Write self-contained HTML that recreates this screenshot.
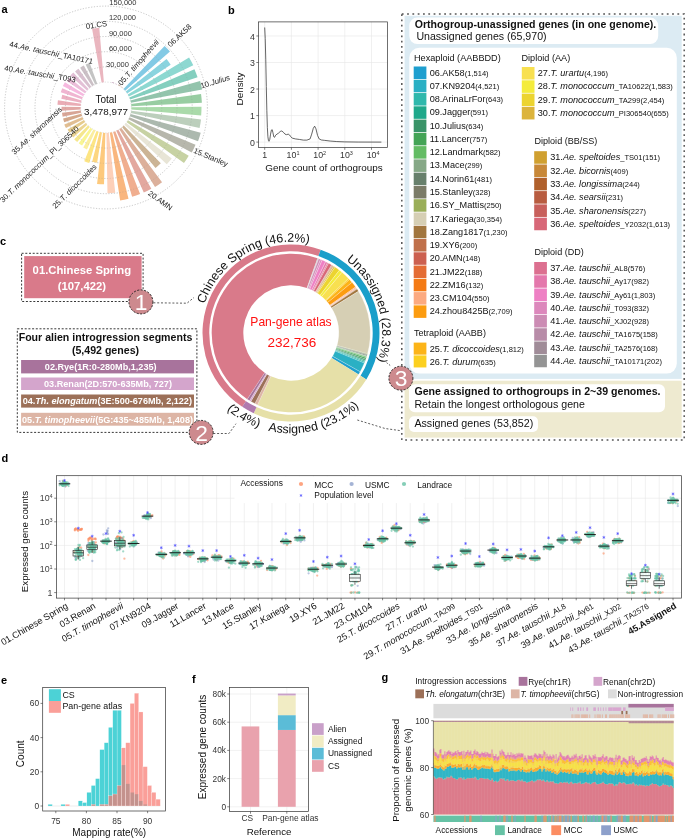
<!DOCTYPE html><html><head><meta charset="utf-8"><style>html,body{margin:0;padding:0;background:#fff;}svg{display:block;} text{font-family:"Liberation Sans", Arial, sans-serif;}</style></head><body><svg width="685" height="838" viewBox="0 0 685 838"><rect width="685" height="838" fill="#fff"/><g id="pa">
<circle cx="106" cy="107.5" r="25.4" fill="none" stroke="#c8c8c8" stroke-width="0.6" stroke-dasharray="1.2,1.6"/>
<circle cx="106" cy="107.5" r="40.6" fill="none" stroke="#c8c8c8" stroke-width="0.6" stroke-dasharray="1.2,1.6"/>
<circle cx="106" cy="107.5" r="55.8" fill="none" stroke="#c8c8c8" stroke-width="0.6" stroke-dasharray="1.2,1.6"/>
<circle cx="106" cy="107.5" r="71" fill="none" stroke="#c8c8c8" stroke-width="0.6" stroke-dasharray="1.2,1.6"/>
<circle cx="106" cy="107.5" r="86.2" fill="none" stroke="#c8c8c8" stroke-width="0.6" stroke-dasharray="1.2,1.6"/>
<circle cx="106" cy="107.5" r="101.4" fill="none" stroke="#c8c8c8" stroke-width="0.6" stroke-dasharray="1.2,1.6"/>
<path d="M92.08,28.72A80,80 0 0 1 99.29,27.78L103.87,82.19A25.4,25.4 0 0 0 101.58,82.49Z" fill="#eab6bf"/>
<path d="M111.87,81.97A26.2,26.2 0 0 1 114.17,82.61L113.92,83.37A25.4,25.4 0 0 0 111.7,82.75Z" fill="#cfb2c9"/>
<path d="M115.12,83.26A25.9,25.9 0 0 1 117.28,84.19L117.07,84.64A25.4,25.4 0 0 0 114.94,83.73Z" fill="#e7cee3"/>
<path d="M118.55,84.16A26.5,26.5 0 0 1 120.62,85.4L120.01,86.32A25.4,25.4 0 0 0 118.03,85.13Z" fill="#c9b0a3"/>
<path d="M121.38,86.29A26.2,26.2 0 0 1 123.24,87.77L122.71,88.37A25.4,25.4 0 0 0 120.91,86.93Z" fill="#ecd6ce"/>
<path d="M164.61,45.94A85,85 0 0 1 169.96,51.52L125.11,90.77A25.4,25.4 0 0 0 123.51,89.1Z" fill="#83cae5"/>
<path d="M166.52,58.93A77.6,77.6 0 0 1 170.68,64.63L127.17,93.47A25.4,25.4 0 0 0 125.81,91.6Z" fill="#8ad4df"/>
<path d="M189.07,57.42A97,97 0 0 1 193.27,65.17L128.85,96.41A25.4,25.4 0 0 0 127.75,94.39Z" fill="#8dd8d1"/>
<path d="M194.45,69.18A96.4,96.4 0 0 1 197.57,77.36L130.13,99.56A25.4,25.4 0 0 0 129.31,97.4Z" fill="#84cfbf"/>
<path d="M200.12,80.93A97.8,97.8 0 0 1 202.14,89.58L130.97,102.85A25.4,25.4 0 0 0 130.44,100.6Z" fill="#93c4ac"/>
<path d="M201.04,93.96A96,96 0 0 1 201.88,102.65L131.37,106.22A25.4,25.4 0 0 0 131.15,103.92Z" fill="#98cda2"/>
<path d="M201.5,106.76A95.5,95.5 0 0 1 201.17,115.43L131.31,109.61A25.4,25.4 0 0 0 131.4,107.3Z" fill="#aadaaa"/>
<path d="M201.04,119.53A95.8,95.8 0 0 1 199.56,128.11L130.81,112.96A25.4,25.4 0 0 0 131.2,110.69Z" fill="#bccfbc"/>
<path d="M200.72,132.65A98,98 0 0 1 198.04,141.15L129.86,116.22A25.4,25.4 0 0 0 130.55,114.02Z" fill="#acb9ae"/>
<path d="M195.5,144.63A96.9,96.9 0 0 1 191.76,152.6L128.48,119.32A25.4,25.4 0 0 0 129.46,117.23Z" fill="#b7b7ac"/>
<path d="M188.72,155.63A95.7,95.7 0 0 1 184.01,162.94L126.7,122.21A25.4,25.4 0 0 0 127.95,120.27Z" fill="#c7d2a3"/>
<path d="M171.7,158.55A83.2,83.2 0 0 1 166.79,164.31L124.56,124.84A25.4,25.4 0 0 0 126.06,123.09Z" fill="#e8e5d6"/>
<path d="M160.8,163.29A78.2,78.2 0 0 1 155.51,168.03L122.08,127.16A25.4,25.4 0 0 0 123.8,125.62Z" fill="#ccb495"/>
<path d="M162.05,182.34A93.5,93.5 0 0 1 155.02,187.12L119.32,129.13A25.4,25.4 0 0 0 121.23,127.83Z" fill="#dcb09b"/>
<path d="M151.33,188.71A93,93 0 0 1 143.77,192.48L116.32,130.71A25.4,25.4 0 0 0 118.38,129.68Z" fill="#e3a89f"/>
<path d="M140.1,194.02A93,93 0 0 1 132.11,196.76L113.13,131.88A25.4,25.4 0 0 0 115.31,131.13Z" fill="#f0ae8f"/>
<path d="M128.5,198.77A94,94 0 0 1 120.13,200.43L109.82,132.61A25.4,25.4 0 0 0 112.08,132.16Z" fill="#f9b67e"/>
<path d="M115.24,192.7A85.7,85.7 0 0 1 107.47,193.19L106.44,132.9A25.4,25.4 0 0 0 108.74,132.75Z" fill="#fdd0b9"/>
<path d="M104.03,184.37A76.9,76.9 0 0 1 97.06,183.88L103.05,132.73A25.4,25.4 0 0 0 105.35,132.89Z" fill="#fdc97c"/>
<path d="M97.13,162.69A55.9,55.9 0 0 1 92.16,161.66L99.71,132.11A25.4,25.4 0 0 0 101.97,132.58Z" fill="#fdd680"/>
<path d="M89.25,163.03A58,58 0 0 1 84.28,161.28L96.49,131.05A25.4,25.4 0 0 0 98.66,131.82Z" fill="#fde584"/>
<path d="M86.96,149.38A46,46 0 0 1 83.24,147.47L93.43,129.57A25.4,25.4 0 0 0 95.49,130.62Z" fill="#fbee9f"/>
<path d="M82.08,145.62A45,45 0 0 1 78.72,143.29L90.6,127.7A25.4,25.4 0 0 0 92.5,129.02Z" fill="#f9f594"/>
<path d="M77.22,142.09A45,45 0 0 1 74.19,139.33L88.05,125.47A25.4,25.4 0 0 0 89.75,127.02Z" fill="#f5e78d"/>
<path d="M73.23,137.61A44.5,44.5 0 0 1 70.63,134.51L85.81,122.92A25.4,25.4 0 0 0 87.3,124.68Z" fill="#ecd694"/>
<path d="M69.76,132.8A44.2,44.2 0 0 1 67.61,129.4L83.94,120.09A25.4,25.4 0 0 0 85.17,122.04Z" fill="#e5cb8d"/>
<path d="M66,128.11A45,45 0 0 1 64.29,124.39L82.46,117.03A25.4,25.4 0 0 0 83.42,119.13Z" fill="#e1be92"/>
<path d="M64.27,122.36A44.3,44.3 0 0 1 63.09,118.51L81.4,113.81A25.4,25.4 0 0 0 82.07,116.02Z" fill="#d4a88b"/>
<path d="M62.66,116.66A44.3,44.3 0 0 1 62.01,112.69L80.77,110.48A25.4,25.4 0 0 0 81.15,112.75Z" fill="#d8a596"/>
<path d="M61.62,110.82A44.5,44.5 0 0 1 61.51,106.78L80.6,107.09A25.4,25.4 0 0 0 80.67,109.39Z" fill="#e1a8a5"/>
<path d="M57.48,104.63A48.6,48.6 0 0 1 57.95,100.24L80.89,103.71A25.4,25.4 0 0 0 80.64,106Z" fill="#eaacb5"/>
<path d="M61.34,98.79A45.5,45.5 0 0 1 62.32,94.77L81.61,100.39A25.4,25.4 0 0 0 81.07,102.63Z" fill="#ecb0c2"/>
<path d="M60.72,92.17A47.8,47.8 0 0 1 62.3,88.13L82.78,97.21A25.4,25.4 0 0 0 81.94,99.36Z" fill="#f0b5d1"/>
<path d="M62.81,86.1A48.2,48.2 0 0 1 64.93,82.27L84.36,94.2A25.4,25.4 0 0 0 83.24,96.22Z" fill="#f6b9df"/>
<path d="M67.04,81.2A47,47 0 0 1 69.59,77.78L86.32,91.44A25.4,25.4 0 0 0 84.95,93.29Z" fill="#ecbeda"/>
<path d="M70.3,75.71A47.8,47.8 0 0 1 73.33,72.6L88.64,88.96A25.4,25.4 0 0 0 87.03,90.61Z" fill="#e3c0d6"/>
<path d="M75.05,71.47A47.5,47.5 0 0 1 78.45,68.81L91.27,86.81A25.4,25.4 0 0 0 89.45,88.23Z" fill="#d8c0cf"/>
<path d="M80.13,67.66A47.5,47.5 0 0 1 83.85,65.48L94.16,85.03A25.4,25.4 0 0 0 92.17,86.2Z" fill="#cbc0c6"/>
<path d="M85.67,64.57A47.5,47.5 0 0 1 89.65,62.9L97.26,83.65A25.4,25.4 0 0 0 95.13,84.54Z" fill="#c4c4c4"/>
<circle cx="106" cy="107.5" r="40.6" fill="none" stroke="#888" stroke-opacity="0.35" stroke-width="0.6" stroke-dasharray="1.2,1.6"/>
<circle cx="106" cy="107.5" r="55.8" fill="none" stroke="#888" stroke-opacity="0.35" stroke-width="0.6" stroke-dasharray="1.2,1.6"/>
<circle cx="106" cy="107.5" r="71" fill="none" stroke="#888" stroke-opacity="0.35" stroke-width="0.6" stroke-dasharray="1.2,1.6"/>
<circle cx="106" cy="107.5" r="86.2" fill="none" stroke="#888" stroke-opacity="0.35" stroke-width="0.6" stroke-dasharray="1.2,1.6"/>
<circle cx="106" cy="107.5" r="101.4" fill="none" stroke="#888" stroke-opacity="0.35" stroke-width="0.6" stroke-dasharray="1.2,1.6"/>
<text x="109.3" y="5.1" font-size="7.5" fill="#333">150,000</text>
<text x="108.9" y="20.3" font-size="7.5" fill="#333">120,000</text>
<text x="108.9" y="36" font-size="7.5" fill="#333">90,000</text>
<text x="108.9" y="50.7" font-size="7.5" fill="#333">60,000</text>
<text x="106" y="67.4" font-size="7.5" fill="#333">30,000</text>
<text x="106" y="102.6" font-size="10" text-anchor="middle" fill="#111">Total</text>
<text x="106" y="114.7" font-size="9.85" text-anchor="middle" fill="#111">3,478,977</text>
<text x="0" y="0" font-size="7.7" fill="#222" transform="translate(86.2,29) rotate(-8)">01.CS</text>
<text x="0" y="0" font-size="7.7" fill="#222" transform="translate(9,46.5) rotate(12)">44.<tspan font-style="italic">Ae. tauschii</tspan>_TA10171</text>
<text x="0" y="0" font-size="7.7" fill="#222" transform="translate(4,70.5) rotate(9.5)">40.<tspan font-style="italic">Ae. tauschii</tspan>_T093</text>
<text x="0" y="0" font-size="7.7" fill="#222" transform="translate(14.5,155) rotate(-43)">35.<tspan font-style="italic">Ae. sharonensis</tspan></text>
<text x="0" y="0" font-size="7.7" fill="#222" transform="translate(3,203) rotate(-44)">30.<tspan font-style="italic">T. monococcum</tspan>_PI_306540</text>
<text x="0" y="0" font-size="7.7" fill="#222" transform="translate(55.5,209) rotate(-45)">25.<tspan font-style="italic">T. dicoccoides</tspan></text>
<text x="0" y="0" font-size="7.7" fill="#222" transform="translate(121.5,86) rotate(-49)">05.<tspan font-style="italic">T. timopheevii</tspan></text>
<text x="0" y="0" font-size="7.7" fill="#222" transform="translate(170.5,47.5) rotate(-43)">06.AK58</text>
<text x="0" y="0" font-size="7.7" fill="#222" transform="translate(201.5,88.5) rotate(-17)">10.<tspan font-style="italic">Julius</tspan></text>
<text x="0" y="0" font-size="7.7" fill="#222" transform="translate(193,152.5) rotate(23)">15.Stanley</text>
<text x="0" y="0" font-size="7.7" fill="#222" transform="translate(147.5,194.5) rotate(36)">20.AMN</text>
</g>
<text x="1.5" y="12.6" font-size="11" font-weight="bold">a</text>
<g id="pb">
<rect x="258.5" y="21.9" width="129" height="125.7" fill="#fff"/>
<line x1="264.7" y1="21.9" x2="264.7" y2="147.6" stroke="#e6e6e6" stroke-width="0.6"/>
<line x1="291.4" y1="21.9" x2="291.4" y2="147.6" stroke="#e6e6e6" stroke-width="0.6"/>
<line x1="318.1" y1="21.9" x2="318.1" y2="147.6" stroke="#e6e6e6" stroke-width="0.6"/>
<line x1="344.8" y1="21.9" x2="344.8" y2="147.6" stroke="#e6e6e6" stroke-width="0.6"/>
<line x1="371.5" y1="21.9" x2="371.5" y2="147.6" stroke="#e6e6e6" stroke-width="0.6"/>
<line x1="258.5" y1="142.1" x2="387.5" y2="142.1" stroke="#e6e6e6" stroke-width="0.6"/>
<line x1="258.5" y1="115.57" x2="387.5" y2="115.57" stroke="#e6e6e6" stroke-width="0.6"/>
<line x1="258.5" y1="89.04" x2="387.5" y2="89.04" stroke="#e6e6e6" stroke-width="0.6"/>
<line x1="258.5" y1="62.51" x2="387.5" y2="62.51" stroke="#e6e6e6" stroke-width="0.6"/>
<line x1="258.5" y1="35.98" x2="387.5" y2="35.98" stroke="#e6e6e6" stroke-width="0.6"/>
<path d="M264.7,27.49 L265.23,38.63 L265.77,59.86 L266.3,86.39 L266.84,110.26 L267.37,127.51 L267.9,136.79 L268.44,140.51 L268.97,141.3 L269.77,139.45 L270.57,134.14 L271.38,130.16 L272.18,129.63 L272.98,132.81 L273.78,136.79 L274.58,137.32 L275.65,135.2 L276.98,134.14 L278.58,133.08 L280.19,131.49 L281.79,130.96 L283.39,132.28 L284.99,134.14 L286.59,134.67 L288.2,134.14 L289.53,134.94 L290.87,136.79 L292.2,138.12 L295.4,138.92 L299.41,139.45 L303.41,140.11 L306.89,140.11 L310.09,138.92 L311.69,134.14 L313.29,128.3 L314.63,126.18 L315.96,128.83 L317.57,135.47 L319.17,138.92 L321.3,139.98 L324.77,140.38 L330.12,141.04 L336.79,141.57 L344.8,141.89 L358.15,142.05 L381.38,142.1" fill="none" stroke="#333" stroke-width="0.75"/>
<rect x="258.5" y="21.9" width="129" height="125.7" fill="none" stroke="#333" stroke-width="0.7"/>
<line x1="256.3" y1="142.1" x2="258.5" y2="142.1" stroke="#333" stroke-width="0.6"/>
<text x="255" y="145.8" font-size="8.8" text-anchor="end" fill="#333">0</text>
<line x1="256.3" y1="115.57" x2="258.5" y2="115.57" stroke="#333" stroke-width="0.6"/>
<text x="255" y="119.27" font-size="8.8" text-anchor="end" fill="#333">1</text>
<line x1="256.3" y1="89.04" x2="258.5" y2="89.04" stroke="#333" stroke-width="0.6"/>
<text x="255" y="92.74" font-size="8.8" text-anchor="end" fill="#333">2</text>
<line x1="256.3" y1="62.51" x2="258.5" y2="62.51" stroke="#333" stroke-width="0.6"/>
<text x="255" y="66.21" font-size="8.8" text-anchor="end" fill="#333">3</text>
<line x1="256.3" y1="35.98" x2="258.5" y2="35.98" stroke="#333" stroke-width="0.6"/>
<text x="255" y="39.68" font-size="8.8" text-anchor="end" fill="#333">4</text>
<line x1="264.7" y1="147.6" x2="264.7" y2="149.79999999999998" stroke="#333" stroke-width="0.6"/>
<text x="264.7" y="158" font-size="8.8" text-anchor="middle" fill="#333">1</text>
<line x1="291.4" y1="147.6" x2="291.4" y2="149.79999999999998" stroke="#333" stroke-width="0.6"/>
<text x="286.6" y="158" font-size="8.8" fill="#333">10<tspan font-size="5.5" dy="-3.2">1</tspan></text>
<line x1="318.1" y1="147.6" x2="318.1" y2="149.79999999999998" stroke="#333" stroke-width="0.6"/>
<text x="313.3" y="158" font-size="8.8" fill="#333">10<tspan font-size="5.5" dy="-3.2">2</tspan></text>
<line x1="344.8" y1="147.6" x2="344.8" y2="149.79999999999998" stroke="#333" stroke-width="0.6"/>
<text x="340" y="158" font-size="8.8" fill="#333">10<tspan font-size="5.5" dy="-3.2">3</tspan></text>
<line x1="371.5" y1="147.6" x2="371.5" y2="149.79999999999998" stroke="#333" stroke-width="0.6"/>
<text x="366.7" y="158" font-size="8.8" fill="#333">10<tspan font-size="5.5" dy="-3.2">4</tspan></text>
<text x="324" y="171.3" font-size="9.9" text-anchor="middle" fill="#111">Gene count of orthogroups</text>
<text x="0" y="0" font-size="9.9" text-anchor="middle" fill="#111" transform="translate(243.1,89) rotate(-90)">Density</text>
</g>
<text x="228" y="14.2" font-size="11" font-weight="bold">b</text>
<g id="pc">
<rect x="404.6" y="15.8" width="277.1" height="363.1" fill="#dcebf3"/>
<rect x="404.6" y="380.7" width="277.1" height="56.9" fill="#eeead0"/>
<rect x="409.3" y="17.6" width="248.9" height="26.4" rx="8" fill="#fff"/>
<rect x="409.3" y="47.8" width="267.5" height="325.8" rx="10" fill="#fff"/>
<rect x="409" y="384.2" width="256" height="28" rx="6" fill="#fff"/>
<rect x="409" y="416.2" width="129" height="15.8" rx="5" fill="#fff"/>
<rect x="401.8" y="13.9" width="282.4" height="426.2" fill="none" stroke="#555" stroke-width="1.5" stroke-dasharray="1.8,3.5"/>
<text x="414.8" y="28.2" font-size="10.56" font-weight="bold" fill="#111">Orthogroup-unassigned genes (in one genome).</text>
<text x="416.4" y="39.8" font-size="10.6" fill="#111">Unassigned genes (65,970)</text>
<text x="414.4" y="394.9" font-size="10.62" font-weight="bold" fill="#111">Gene assigned to orthogroups in 2~39 genomes.</text>
<text x="414.4" y="408" font-size="10.62" fill="#111">Retain the longest orthologous gene</text>
<text x="414.4" y="427" font-size="10.7" fill="#111">Assigned genes (53,852)</text>
<text x="414" y="60.7" font-size="9.15" fill="#111">Hexaploid (AABBDD)</text>
<rect x="413.7" y="66.5" width="12.7" height="12.52" fill="#1e9fcf"/>
<text x="429.7" y="75.6" font-size="9.15" fill="#111">06.AK58<tspan font-size="7.55">(1,514)</tspan></text>
<rect x="413.7" y="79.77" width="12.7" height="12.52" fill="#2ab0c4"/>
<text x="429.7" y="88.87" font-size="9.15" fill="#111">07.KN9204<tspan font-size="7.55">(4,521)</tspan></text>
<rect x="413.7" y="93.04" width="12.7" height="12.52" fill="#2fb8ac"/>
<text x="429.7" y="102.14" font-size="9.15" fill="#111">08.ArinaLrFor<tspan font-size="7.55">(643)</tspan></text>
<rect x="413.7" y="106.31" width="12.7" height="12.52" fill="#1fa88a"/>
<text x="429.7" y="115.41" font-size="9.15" fill="#111">09.Jagger<tspan font-size="7.55">(591)</tspan></text>
<rect x="413.7" y="119.58" width="12.7" height="12.52" fill="#3a9468"/>
<text x="429.7" y="128.68" font-size="9.15" fill="#111">10.Julius<tspan font-size="7.55">(634)</tspan></text>
<rect x="413.7" y="132.85" width="12.7" height="12.52" fill="#44a456"/>
<text x="429.7" y="141.95" font-size="9.15" fill="#111">11.Lancer<tspan font-size="7.55">(757)</tspan></text>
<rect x="413.7" y="146.12" width="12.7" height="12.52" fill="#64bc64"/>
<text x="429.7" y="155.22" font-size="9.15" fill="#111">12.Landmark<tspan font-size="7.55">(582)</tspan></text>
<rect x="413.7" y="159.39" width="12.7" height="12.52" fill="#86a886"/>
<text x="429.7" y="168.49" font-size="9.15" fill="#111">13.Mace<tspan font-size="7.55">(299)</tspan></text>
<rect x="413.7" y="172.66" width="12.7" height="12.52" fill="#68806c"/>
<text x="429.7" y="181.76" font-size="9.15" fill="#111">14.Norin61<tspan font-size="7.55">(481)</tspan></text>
<rect x="413.7" y="185.93" width="12.7" height="12.52" fill="#7c7c68"/>
<text x="429.7" y="195.03" font-size="9.15" fill="#111">15.Stanley<tspan font-size="7.55">(328)</tspan></text>
<rect x="413.7" y="199.2" width="12.7" height="12.52" fill="#9aae58"/>
<text x="429.7" y="208.3" font-size="9.15" fill="#111">16.SY_Mattis<tspan font-size="7.55">(250)</tspan></text>
<rect x="413.7" y="212.47" width="12.7" height="12.52" fill="#d6cfb4"/>
<text x="429.7" y="221.57" font-size="9.15" fill="#111">17.Kariega<tspan font-size="7.55">(30,354)</tspan></text>
<rect x="413.7" y="225.74" width="12.7" height="12.52" fill="#a2763e"/>
<text x="429.7" y="234.84" font-size="9.15" fill="#111">18.Zang1817<tspan font-size="7.55">(1,230)</tspan></text>
<rect x="413.7" y="239.01" width="12.7" height="12.52" fill="#c0704a"/>
<text x="429.7" y="248.11" font-size="9.15" fill="#111">19.XY6<tspan font-size="7.55">(200)</tspan></text>
<rect x="413.7" y="252.28" width="12.7" height="12.52" fill="#cc6050"/>
<text x="429.7" y="261.38" font-size="9.15" fill="#111">20.AMN<tspan font-size="7.55">(148)</tspan></text>
<rect x="413.7" y="265.55" width="12.7" height="12.52" fill="#e46c34"/>
<text x="429.7" y="274.65" font-size="9.15" fill="#111">21.JM22<tspan font-size="7.55">(188)</tspan></text>
<rect x="413.7" y="278.82" width="12.7" height="12.52" fill="#f47a14"/>
<text x="429.7" y="287.92" font-size="9.15" fill="#111">22.ZM16<tspan font-size="7.55">(132)</tspan></text>
<rect x="413.7" y="292.09" width="12.7" height="12.52" fill="#fcaa80"/>
<text x="429.7" y="301.19" font-size="9.15" fill="#111">23.CM104<tspan font-size="7.55">(550)</tspan></text>
<rect x="413.7" y="305.36" width="12.7" height="12.52" fill="#fc9c10"/>
<text x="429.7" y="314.46" font-size="9.15" fill="#111">24.zhou8425B<tspan font-size="7.55">(2,709)</tspan></text>
<text x="414" y="335.6" font-size="9.05" fill="#111">Tetraploid (AABB)</text>
<rect x="413.7" y="342.6" width="12.7" height="12.05" fill="#fcb418"/>
<text x="429.7" y="351.7" font-size="9.15" fill="#111">25.<tspan font-style="italic">T. dicoccoides</tspan><tspan font-size="7.55">(1,812)</tspan></text>
<rect x="413.7" y="355.4" width="12.7" height="12.05" fill="#fcd020"/>
<text x="429.7" y="364.5" font-size="9.15" fill="#111">26.<tspan font-style="italic">T. durum</tspan><tspan font-size="7.55">(635)</tspan></text>
<text x="521.5" y="60.9" font-size="9.15" fill="#111">Diploid (AA)</text>
<rect x="521.8" y="67" width="12.7" height="12.55" fill="#f8e050"/>
<text x="537.8" y="76.1" font-size="9.15" fill="#111">27.<tspan font-style="italic">T. urartu</tspan><tspan font-size="7.55">(4,196)</tspan></text>
<rect x="521.8" y="80.3" width="12.7" height="12.55" fill="#f4ec3c"/>
<text x="537.8" y="89.4" font-size="9.15" fill="#111">28.<tspan font-style="italic">T. monococcum</tspan><tspan font-size="7.55">_TA10622(1,583)</tspan></text>
<rect x="521.8" y="93.6" width="12.7" height="12.55" fill="#ecd430"/>
<text x="537.8" y="102.7" font-size="9.15" fill="#111">29.<tspan font-style="italic">T. monococcum</tspan><tspan font-size="7.55">_TA299(2,454)</tspan></text>
<rect x="521.8" y="106.9" width="12.7" height="12.55" fill="#dcb43c"/>
<text x="537.8" y="116" font-size="9.15" fill="#111">30.<tspan font-style="italic">T. monococcum</tspan><tspan font-size="7.55">_PI306540(655)</tspan></text>
<text x="534.5" y="144" font-size="9.05" fill="#111">Diploid (BB/SS)</text>
<rect x="534.2" y="151.2" width="12.7" height="12.55" fill="#d0a030"/>
<text x="550.2" y="160.3" font-size="9.15" fill="#111">31.<tspan font-style="italic">Ae. speltoides</tspan><tspan font-size="7.55">_TS01(151)</tspan></text>
<rect x="534.2" y="164.5" width="12.7" height="12.55" fill="#c88838"/>
<text x="550.2" y="173.6" font-size="9.15" fill="#111">32.<tspan font-style="italic">Ae. bicornis</tspan><tspan font-size="7.55">(409)</tspan></text>
<rect x="534.2" y="177.8" width="12.7" height="12.55" fill="#b0602c"/>
<text x="550.2" y="186.9" font-size="9.15" fill="#111">33.<tspan font-style="italic">Ae. longissima</tspan><tspan font-size="7.55">(244)</tspan></text>
<rect x="534.2" y="191.1" width="12.7" height="12.55" fill="#b85c40"/>
<text x="550.2" y="200.2" font-size="9.15" fill="#111">34.<tspan font-style="italic">Ae. searsii</tspan><tspan font-size="7.55">(231)</tspan></text>
<rect x="534.2" y="204.4" width="12.7" height="12.55" fill="#c8605c"/>
<text x="550.2" y="213.5" font-size="9.15" fill="#111">35.<tspan font-style="italic">Ae. sharonensis</tspan><tspan font-size="7.55">(227)</tspan></text>
<rect x="534.2" y="217.7" width="12.7" height="12.55" fill="#d86878"/>
<text x="550.2" y="226.8" font-size="9.15" fill="#111">36.<tspan font-style="italic">Ae. speltoides</tspan><tspan font-size="7.55">_Y2032(1,613)</tspan></text>
<text x="534.5" y="254.8" font-size="9.05" fill="#111">Diploid (DD)</text>
<rect x="534.2" y="262" width="12.7" height="12.5" fill="#dc7090"/>
<text x="550.2" y="271.1" font-size="9.15" fill="#111">37.<tspan font-style="italic">Ae. tauschii</tspan><tspan font-size="7.55">_AL8(576)</tspan></text>
<rect x="534.2" y="275.25" width="12.7" height="12.5" fill="#e478ac"/>
<text x="550.2" y="284.35" font-size="9.15" fill="#111">38.<tspan font-style="italic">Ae. tauschii</tspan><tspan font-size="7.55">_Ay17(982)</tspan></text>
<rect x="534.2" y="288.5" width="12.7" height="12.5" fill="#ee80c4"/>
<text x="550.2" y="297.6" font-size="9.15" fill="#111">39.<tspan font-style="italic">Ae. tauschii</tspan><tspan font-size="7.55">_Ay61(1,803)</tspan></text>
<rect x="534.2" y="301.75" width="12.7" height="12.5" fill="#dc88bc"/>
<text x="550.2" y="310.85" font-size="9.15" fill="#111">40.<tspan font-style="italic">Ae. tauschii</tspan><tspan font-size="7.55">_T093(832)</tspan></text>
<rect x="534.2" y="315" width="12.7" height="12.5" fill="#cc8cb4"/>
<text x="550.2" y="324.1" font-size="9.15" fill="#111">41.<tspan font-style="italic">Ae. tauschii</tspan><tspan font-size="7.55">_XJ02(928)</tspan></text>
<rect x="534.2" y="328.25" width="12.7" height="12.5" fill="#b88ca8"/>
<text x="550.2" y="337.35" font-size="9.15" fill="#111">42.<tspan font-style="italic">Ae. tauschii</tspan><tspan font-size="7.55">_TA1675(158)</tspan></text>
<rect x="534.2" y="341.5" width="12.7" height="12.5" fill="#a08c98"/>
<text x="550.2" y="350.6" font-size="9.15" fill="#111">43.<tspan font-style="italic">Ae. tauschii</tspan><tspan font-size="7.55">_TA2576(168)</tspan></text>
<rect x="534.2" y="354.75" width="12.7" height="12.5" fill="#949494"/>
<text x="550.2" y="363.85" font-size="9.15" fill="#111">44.<tspan font-style="italic">Ae. tauschii</tspan><tspan font-size="7.55">_TA10171(202)</tspan></text>
<path d="M242.23,406.85A88.5,88.5 0 0 1 320.69,249.63L318.41,256.03A81.7,81.7 0 0 0 245.98,401.18Z" fill="#d97a8a"/>
<path d="M320.69,249.63A88.5,88.5 0 0 1 366.34,379.43L360.55,375.86A81.7,81.7 0 0 0 318.41,256.03Z" fill="#1a9fca"/>
<path d="M366.34,379.43A88.5,88.5 0 0 1 253.68,413.25L256.55,407.08A81.7,81.7 0 0 0 360.55,375.86Z" fill="#e6e0a8"/>
<path d="M253.68,413.25A88.5,88.5 0 0 1 242.23,406.85L245.98,401.18A81.7,81.7 0 0 0 256.55,407.08Z" fill="#b07aae"/>
<path d="M247.3,399.17A79.3,79.3 0 0 1 317.6,258.29L307,288.06A47.7,47.7 0 0 0 264.72,372.8Z" fill="#d97a8a"/>
<path d="M317.6,258.29A79.3,79.3 0 0 1 318.01,258.44L307.25,288.15A47.7,47.7 0 0 0 307,288.06Z" fill="#949494" stroke="#fff" stroke-width="0.25"/>
<path d="M318.01,258.44A79.3,79.3 0 0 1 318.35,258.56L307.45,288.23A47.7,47.7 0 0 0 307.25,288.15Z" fill="#a08c98" stroke="#fff" stroke-width="0.25"/>
<path d="M318.35,258.56A79.3,79.3 0 0 1 318.66,258.68L307.64,288.3A47.7,47.7 0 0 0 307.45,288.23Z" fill="#b88ca8" stroke="#fff" stroke-width="0.25"/>
<path d="M318.66,258.68A79.3,79.3 0 0 1 320.52,259.4L308.75,288.73A47.7,47.7 0 0 0 307.64,288.3Z" fill="#cc8cb4" stroke="#fff" stroke-width="0.25"/>
<path d="M320.52,259.4A79.3,79.3 0 0 1 322.16,260.08L309.74,289.14A47.7,47.7 0 0 0 308.75,288.73Z" fill="#dc88bc" stroke="#fff" stroke-width="0.25"/>
<path d="M322.16,260.08A79.3,79.3 0 0 1 325.67,261.68L311.86,290.1A47.7,47.7 0 0 0 309.74,289.14Z" fill="#ee80c4" stroke="#fff" stroke-width="0.25"/>
<path d="M325.67,261.68A79.3,79.3 0 0 1 327.55,262.63L312.99,290.67A47.7,47.7 0 0 0 311.86,290.1Z" fill="#e478ac" stroke="#fff" stroke-width="0.25"/>
<path d="M327.55,262.63A79.3,79.3 0 0 1 328.64,263.2L313.64,291.02A47.7,47.7 0 0 0 312.99,290.67Z" fill="#dc7090" stroke="#fff" stroke-width="0.25"/>
<path d="M328.64,263.2A79.3,79.3 0 0 1 331.64,264.91L315.45,292.04A47.7,47.7 0 0 0 313.64,291.02Z" fill="#d86878" stroke="#fff" stroke-width="0.25"/>
<path d="M331.64,264.91A79.3,79.3 0 0 1 332.06,265.16L315.7,292.19A47.7,47.7 0 0 0 315.45,292.04Z" fill="#c8605c" stroke="#fff" stroke-width="0.25"/>
<path d="M332.06,265.16A79.3,79.3 0 0 1 332.48,265.42L315.95,292.35A47.7,47.7 0 0 0 315.7,292.19Z" fill="#b85c40" stroke="#fff" stroke-width="0.25"/>
<path d="M332.48,265.42A79.3,79.3 0 0 1 332.93,265.69L316.22,292.51A47.7,47.7 0 0 0 315.95,292.35Z" fill="#b0602c" stroke="#fff" stroke-width="0.25"/>
<path d="M332.93,265.69A79.3,79.3 0 0 1 333.67,266.16L316.67,292.79A47.7,47.7 0 0 0 316.22,292.51Z" fill="#c88838" stroke="#fff" stroke-width="0.25"/>
<path d="M333.67,266.16A79.3,79.3 0 0 1 333.94,266.33L316.83,292.9A47.7,47.7 0 0 0 316.67,292.79Z" fill="#d0a030" stroke="#fff" stroke-width="0.25"/>
<path d="M333.94,266.33A79.3,79.3 0 0 1 335.11,267.1L317.53,293.36A47.7,47.7 0 0 0 316.83,292.9Z" fill="#dcb43c" stroke="#fff" stroke-width="0.25"/>
<path d="M335.11,267.1A79.3,79.3 0 0 1 339.38,270.17L320.1,295.2A47.7,47.7 0 0 0 317.53,293.36Z" fill="#ecd430" stroke="#fff" stroke-width="0.25"/>
<path d="M339.38,270.17A79.3,79.3 0 0 1 342.02,272.29L321.69,296.48A47.7,47.7 0 0 0 320.1,295.2Z" fill="#f4ec3c" stroke="#fff" stroke-width="0.25"/>
<path d="M342.02,272.29A79.3,79.3 0 0 1 348.55,278.45L325.62,300.19A47.7,47.7 0 0 0 321.69,296.48Z" fill="#f8e050" stroke="#fff" stroke-width="0.25"/>
<path d="M348.55,278.45A79.3,79.3 0 0 1 349.48,279.44L326.18,300.78A47.7,47.7 0 0 0 325.62,300.19Z" fill="#fcd020" stroke="#fff" stroke-width="0.25"/>
<path d="M349.48,279.44A79.3,79.3 0 0 1 352.03,282.37L327.71,302.54A47.7,47.7 0 0 0 326.18,300.78Z" fill="#fcb418" stroke="#fff" stroke-width="0.25"/>
<path d="M352.03,282.37A79.3,79.3 0 0 1 355.57,286.96L329.84,305.31A47.7,47.7 0 0 0 327.71,302.54Z" fill="#fc9c10" stroke="#fff" stroke-width="0.25"/>
<path d="M355.57,286.96A79.3,79.3 0 0 1 356.24,287.92L330.24,305.89A47.7,47.7 0 0 0 329.84,305.31Z" fill="#fcaa80" stroke="#fff" stroke-width="0.25"/>
<path d="M356.24,287.92A79.3,79.3 0 0 1 356.4,288.16L330.34,306.03A47.7,47.7 0 0 0 330.24,305.89Z" fill="#f47a14" stroke="#fff" stroke-width="0.25"/>
<path d="M356.4,288.16A79.3,79.3 0 0 1 356.63,288.49L330.48,306.23A47.7,47.7 0 0 0 330.34,306.03Z" fill="#e46c34" stroke="#fff" stroke-width="0.25"/>
<path d="M356.63,288.49A79.3,79.3 0 0 1 356.81,288.75L330.58,306.38A47.7,47.7 0 0 0 330.48,306.23Z" fill="#cc6050" stroke="#fff" stroke-width="0.25"/>
<path d="M356.81,288.75A79.3,79.3 0 0 1 357.04,289.11L330.73,306.6A47.7,47.7 0 0 0 330.58,306.38Z" fill="#c0704a" stroke="#fff" stroke-width="0.25"/>
<path d="M357.04,289.11A79.3,79.3 0 0 1 358.47,291.32L331.58,307.93A47.7,47.7 0 0 0 330.73,306.6Z" fill="#a2763e" stroke="#fff" stroke-width="0.25"/>
<path d="M358.47,291.32A79.3,79.3 0 0 1 367.51,353.85L337.02,345.54A47.7,47.7 0 0 0 331.58,307.93Z" fill="#d6cfb4" stroke="#fff" stroke-width="0.25"/>
<path d="M367.51,353.85A79.3,79.3 0 0 1 367.37,354.37L336.94,345.85A47.7,47.7 0 0 0 337.02,345.54Z" fill="#9aae58" stroke="#fff" stroke-width="0.25"/>
<path d="M367.37,354.37A79.3,79.3 0 0 1 367.17,355.05L336.82,346.26A47.7,47.7 0 0 0 336.94,345.85Z" fill="#7c7c68" stroke="#fff" stroke-width="0.25"/>
<path d="M367.17,355.05A79.3,79.3 0 0 1 366.88,356.03L336.64,346.85A47.7,47.7 0 0 0 336.82,346.26Z" fill="#68806c" stroke="#fff" stroke-width="0.25"/>
<path d="M366.88,356.03A79.3,79.3 0 0 1 366.69,356.65L336.53,347.22A47.7,47.7 0 0 0 336.64,346.85Z" fill="#86a886" stroke="#fff" stroke-width="0.25"/>
<path d="M366.69,356.65A79.3,79.3 0 0 1 366.31,357.83L336.3,347.94A47.7,47.7 0 0 0 336.53,347.22Z" fill="#64bc64" stroke="#fff" stroke-width="0.25"/>
<path d="M366.31,357.83A79.3,79.3 0 0 1 365.79,359.37L335.99,348.86A47.7,47.7 0 0 0 336.3,347.94Z" fill="#44a456" stroke="#fff" stroke-width="0.25"/>
<path d="M365.79,359.37A79.3,79.3 0 0 1 365.33,360.64L335.71,349.63A47.7,47.7 0 0 0 335.99,348.86Z" fill="#3a9468" stroke="#fff" stroke-width="0.25"/>
<path d="M365.33,360.64A79.3,79.3 0 0 1 364.88,361.82L335.44,350.34A47.7,47.7 0 0 0 335.71,349.63Z" fill="#1fa88a" stroke="#fff" stroke-width="0.25"/>
<path d="M364.88,361.82A79.3,79.3 0 0 1 364.36,363.1L335.13,351.11A47.7,47.7 0 0 0 335.44,350.34Z" fill="#2fb8ac" stroke="#fff" stroke-width="0.25"/>
<path d="M364.36,363.1A79.3,79.3 0 0 1 360.15,371.81L332.6,356.34A47.7,47.7 0 0 0 335.13,351.11Z" fill="#2ab0c4" stroke="#fff" stroke-width="0.25"/>
<path d="M360.15,371.81A79.3,79.3 0 0 1 358.51,374.6L331.61,358.02A47.7,47.7 0 0 0 332.6,356.34Z" fill="#1e9fcf" stroke="#fff" stroke-width="0.25"/>
<path d="M358.51,374.6A79.3,79.3 0 0 1 257.56,404.9L270.88,376.25A47.7,47.7 0 0 0 331.61,358.02Z" fill="#e6e0a8"/>
<path d="M257.56,404.9A79.3,79.3 0 0 1 254.85,403.58L269.26,375.46A47.7,47.7 0 0 0 270.88,376.25Z" fill="#ddb5a5" stroke="#fff" stroke-width="0.25"/>
<path d="M254.85,403.58A79.3,79.3 0 0 1 250.87,401.4L266.86,374.14A47.7,47.7 0 0 0 269.26,375.46Z" fill="#9c7058" stroke="#fff" stroke-width="0.25"/>
<path d="M250.87,401.4A79.3,79.3 0 0 1 249.53,400.59L266.06,373.66A47.7,47.7 0 0 0 266.86,374.14Z" fill="#d4a5cc" stroke="#fff" stroke-width="0.25"/>
<path d="M249.53,400.59A79.3,79.3 0 0 1 247.3,399.17L264.72,372.8A47.7,47.7 0 0 0 266.06,373.66Z" fill="#a8739c" stroke="#fff" stroke-width="0.25"/>
<text x="291" y="326.1" font-size="12.1" text-anchor="middle" fill="#ff1010">Pan-gene atlas</text>
<text x="291.8" y="347.3" font-size="13.5" text-anchor="middle" fill="#ff1010">232,736</text>
<defs>
<path id="arcCS" d="M199.8,333A91.2,91.2 0 0 1 336.6,254.02" fill="none"/>
<path id="arcUN" d="M310.89,244A91.2,91.2 0 0 1 358.13,394.73" fill="none"/>
<path id="arcAS" d="M219.83,403.67A100.3,100.3 0 0 0 387.79,359.3" fill="none"/>
<path id="arcAL" d="M197.39,368.18A100.0,100.0 0 0 0 309.4,431.29" fill="none"/>
</defs>
<text font-size="12.4" fill="#111"><textPath href="#arcCS" startOffset="50%" text-anchor="middle">Chinese Spring (46.2%)</textPath></text>
<text font-size="12.4" fill="#111"><textPath href="#arcUN" startOffset="50%" text-anchor="middle">Unassigned (28.3%)</textPath></text>
<text font-size="12.4" fill="#111"><textPath href="#arcAS" startOffset="50%" text-anchor="middle">Assigned (23.1%)</textPath></text>
<text font-size="12.4" fill="#111"><textPath href="#arcAL" startOffset="50%" text-anchor="middle">(2.4%)</textPath></text>
<rect x="21.6" y="253.3" width="121.5" height="48.2" fill="none" stroke="#222" stroke-width="0.9" stroke-dasharray="2,1.7"/>
<rect x="24.2" y="256.1" width="117.4" height="42.1" fill="#d97a8a"/>
<text x="81.9" y="274.1" font-size="11.3" text-anchor="middle" font-weight="bold" fill="#fff">01.Chinese Spring</text>
<text x="81.9" y="289.9" font-size="11.3" text-anchor="middle" font-weight="bold" fill="#fff">(107,422)</text>
<rect x="17.3" y="328.8" width="179.6" height="103.6" fill="none" stroke="#222" stroke-width="0.9" stroke-dasharray="2,1.7"/>
<text x="105.5" y="341.2" font-size="10.6" text-anchor="middle" font-weight="bold" fill="#111">Four alien introgression segments</text>
<text x="105.5" y="354.3" font-size="10.6" text-anchor="middle" font-weight="bold" fill="#111">(5,492 genes)</text>
<rect x="21.1" y="360" width="172.9" height="13.4" fill="#a8739c"/>
<text x="100.7" y="370" font-size="9.1" text-anchor="middle" font-weight="bold" fill="#fff">02.Rye(1R:0-280Mb,1,235)</text>
<rect x="21.1" y="377.5" width="172.9" height="12.5" fill="#d4a5cc"/>
<text x="108" y="387.05" font-size="9.1" text-anchor="middle" font-weight="bold" fill="#fff">03.Renan(2D:570-635Mb, 727)</text>
<rect x="21.1" y="394.5" width="172.9" height="13.1" fill="#9c7058"/>
<text x="107.3" y="404.35" font-size="9.1" text-anchor="middle" font-weight="bold" fill="#fff">04.<tspan font-style="italic">Th. elongatum</tspan>(3E:500-676Mb, 2,122)</text>
<rect x="21.1" y="412.8" width="172.9" height="12.9" fill="#ddb5a5"/>
<text x="107.5" y="422.55" font-size="9.1" text-anchor="middle" font-weight="bold" fill="#fff">05.<tspan font-style="italic">T. timopheevii</tspan>(5G:435~485Mb, 1,408)</text>
<path d="M153.4,302.8 L187,303.2 L194,297.5" fill="none" stroke="#333" stroke-width="0.8" stroke-dasharray="2,1.8"/>
<path d="M213.3,433.5 L229,433.5 L236,423.7" fill="none" stroke="#333" stroke-width="0.8" stroke-dasharray="2,1.8"/>
<path d="M386.6,362.7 L391.3,366.3" fill="none" stroke="#333" stroke-width="0.8" stroke-dasharray="1.5,1.5"/>
<path d="M357.3,420 L385,428.5 L400.9,430.7" fill="none" stroke="#333" stroke-width="0.8" stroke-dasharray="2,1.8"/>
<circle cx="140.9" cy="301.9" r="12" fill="#cd8a8e" stroke="#222" stroke-width="0.95" stroke-dasharray="2,1.5"/>
<text x="141.2" y="310" font-size="22.8" text-anchor="middle" fill="#fff">1</text>
<circle cx="201.2" cy="432.4" r="12" fill="#cd8a8e" stroke="#222" stroke-width="0.95" stroke-dasharray="2,1.5"/>
<text x="201.5" y="440.5" font-size="22.8" text-anchor="middle" fill="#fff">2</text>
<circle cx="400.9" cy="378.2" r="12" fill="#cd8a8e" stroke="#222" stroke-width="0.95" stroke-dasharray="2,1.5"/>
<text x="401.2" y="386.3" font-size="22.8" text-anchor="middle" fill="#fff">3</text>
</g>
<text x="0" y="244.8" font-size="11" font-weight="bold">c</text>
<g id="pd">
<line x1="56.4" y1="592.6" x2="681.4" y2="592.6" stroke="#e8e8e8" stroke-width="0.6"/>
<line x1="56.4" y1="569" x2="681.4" y2="569" stroke="#e8e8e8" stroke-width="0.6"/>
<line x1="56.4" y1="545.4" x2="681.4" y2="545.4" stroke="#e8e8e8" stroke-width="0.6"/>
<line x1="56.4" y1="521.8" x2="681.4" y2="521.8" stroke="#e8e8e8" stroke-width="0.6"/>
<line x1="56.4" y1="498.2" x2="681.4" y2="498.2" stroke="#e8e8e8" stroke-width="0.6"/>
<line x1="64.5" y1="475.7" x2="64.5" y2="598.1" stroke="#e8e8e8" stroke-width="0.6"/>
<line x1="78.33" y1="475.7" x2="78.33" y2="598.1" stroke="#e8e8e8" stroke-width="0.6"/>
<line x1="92.16" y1="475.7" x2="92.16" y2="598.1" stroke="#e8e8e8" stroke-width="0.6"/>
<line x1="105.99" y1="475.7" x2="105.99" y2="598.1" stroke="#e8e8e8" stroke-width="0.6"/>
<line x1="119.82" y1="475.7" x2="119.82" y2="598.1" stroke="#e8e8e8" stroke-width="0.6"/>
<line x1="133.65" y1="475.7" x2="133.65" y2="598.1" stroke="#e8e8e8" stroke-width="0.6"/>
<line x1="147.48" y1="475.7" x2="147.48" y2="598.1" stroke="#e8e8e8" stroke-width="0.6"/>
<line x1="161.31" y1="475.7" x2="161.31" y2="598.1" stroke="#e8e8e8" stroke-width="0.6"/>
<line x1="175.14" y1="475.7" x2="175.14" y2="598.1" stroke="#e8e8e8" stroke-width="0.6"/>
<line x1="188.97" y1="475.7" x2="188.97" y2="598.1" stroke="#e8e8e8" stroke-width="0.6"/>
<line x1="202.8" y1="475.7" x2="202.8" y2="598.1" stroke="#e8e8e8" stroke-width="0.6"/>
<line x1="216.63" y1="475.7" x2="216.63" y2="598.1" stroke="#e8e8e8" stroke-width="0.6"/>
<line x1="230.46" y1="475.7" x2="230.46" y2="598.1" stroke="#e8e8e8" stroke-width="0.6"/>
<line x1="244.29" y1="475.7" x2="244.29" y2="598.1" stroke="#e8e8e8" stroke-width="0.6"/>
<line x1="258.12" y1="475.7" x2="258.12" y2="598.1" stroke="#e8e8e8" stroke-width="0.6"/>
<line x1="271.95" y1="475.7" x2="271.95" y2="598.1" stroke="#e8e8e8" stroke-width="0.6"/>
<line x1="285.78" y1="475.7" x2="285.78" y2="598.1" stroke="#e8e8e8" stroke-width="0.6"/>
<line x1="299.61" y1="475.7" x2="299.61" y2="598.1" stroke="#e8e8e8" stroke-width="0.6"/>
<line x1="313.44" y1="475.7" x2="313.44" y2="598.1" stroke="#e8e8e8" stroke-width="0.6"/>
<line x1="327.27" y1="475.7" x2="327.27" y2="598.1" stroke="#e8e8e8" stroke-width="0.6"/>
<line x1="341.1" y1="475.7" x2="341.1" y2="598.1" stroke="#e8e8e8" stroke-width="0.6"/>
<line x1="354.93" y1="475.7" x2="354.93" y2="598.1" stroke="#e8e8e8" stroke-width="0.6"/>
<line x1="368.76" y1="475.7" x2="368.76" y2="598.1" stroke="#e8e8e8" stroke-width="0.6"/>
<line x1="382.59" y1="475.7" x2="382.59" y2="598.1" stroke="#e8e8e8" stroke-width="0.6"/>
<line x1="396.42" y1="475.7" x2="396.42" y2="598.1" stroke="#e8e8e8" stroke-width="0.6"/>
<line x1="410.25" y1="475.7" x2="410.25" y2="598.1" stroke="#e8e8e8" stroke-width="0.6"/>
<line x1="424.08" y1="475.7" x2="424.08" y2="598.1" stroke="#e8e8e8" stroke-width="0.6"/>
<line x1="437.91" y1="475.7" x2="437.91" y2="598.1" stroke="#e8e8e8" stroke-width="0.6"/>
<line x1="451.74" y1="475.7" x2="451.74" y2="598.1" stroke="#e8e8e8" stroke-width="0.6"/>
<line x1="465.57" y1="475.7" x2="465.57" y2="598.1" stroke="#e8e8e8" stroke-width="0.6"/>
<line x1="479.4" y1="475.7" x2="479.4" y2="598.1" stroke="#e8e8e8" stroke-width="0.6"/>
<line x1="493.23" y1="475.7" x2="493.23" y2="598.1" stroke="#e8e8e8" stroke-width="0.6"/>
<line x1="507.06" y1="475.7" x2="507.06" y2="598.1" stroke="#e8e8e8" stroke-width="0.6"/>
<line x1="520.89" y1="475.7" x2="520.89" y2="598.1" stroke="#e8e8e8" stroke-width="0.6"/>
<line x1="534.72" y1="475.7" x2="534.72" y2="598.1" stroke="#e8e8e8" stroke-width="0.6"/>
<line x1="548.55" y1="475.7" x2="548.55" y2="598.1" stroke="#e8e8e8" stroke-width="0.6"/>
<line x1="562.38" y1="475.7" x2="562.38" y2="598.1" stroke="#e8e8e8" stroke-width="0.6"/>
<line x1="576.21" y1="475.7" x2="576.21" y2="598.1" stroke="#e8e8e8" stroke-width="0.6"/>
<line x1="590.04" y1="475.7" x2="590.04" y2="598.1" stroke="#e8e8e8" stroke-width="0.6"/>
<line x1="603.87" y1="475.7" x2="603.87" y2="598.1" stroke="#e8e8e8" stroke-width="0.6"/>
<line x1="617.7" y1="475.7" x2="617.7" y2="598.1" stroke="#e8e8e8" stroke-width="0.6"/>
<line x1="631.53" y1="475.7" x2="631.53" y2="598.1" stroke="#e8e8e8" stroke-width="0.6"/>
<line x1="645.36" y1="475.7" x2="645.36" y2="598.1" stroke="#e8e8e8" stroke-width="0.6"/>
<line x1="659.19" y1="475.7" x2="659.19" y2="598.1" stroke="#e8e8e8" stroke-width="0.6"/>
<line x1="673.02" y1="475.7" x2="673.02" y2="598.1" stroke="#e8e8e8" stroke-width="0.6"/>
<rect x="234.5" y="476.3" width="229.8" height="26.8" fill="#fff"/>
<defs><clipPath id="clipd"><rect x="56.4" y="475.7" width="625" height="121.4"/></clipPath></defs>
<g fill="#fc8d62" fill-opacity="0.6" clip-path="url(#clipd)"><circle cx="81.4" cy="529.9" r="1.15"/><circle cx="607.3" cy="546.5" r="1.15"/><circle cx="122.7" cy="544.5" r="1.15"/><circle cx="176.2" cy="555.5" r="1.15"/><circle cx="372.2" cy="544.0" r="1.15"/><circle cx="77.2" cy="529.7" r="1.15"/><circle cx="379.0" cy="539.6" r="1.15"/><circle cx="577.2" cy="542.0" r="1.15"/><circle cx="104.3" cy="542.4" r="1.15"/><circle cx="134.0" cy="542.8" r="1.15"/><circle cx="161.6" cy="553.3" r="1.15"/><circle cx="539.1" cy="557.3" r="1.15"/><circle cx="644.8" cy="572.4" r="1.15"/><circle cx="229.3" cy="562.1" r="1.15"/><circle cx="523.3" cy="557.3" r="1.15"/><circle cx="218.5" cy="555.2" r="1.15"/><circle cx="179.1" cy="551.8" r="1.15"/><circle cx="550.5" cy="546.0" r="1.15"/><circle cx="190.4" cy="551.1" r="1.15"/><circle cx="413.6" cy="541.2" r="1.15"/><circle cx="216.3" cy="559.7" r="1.15"/><circle cx="396.8" cy="528.4" r="1.15"/><circle cx="322.5" cy="565.0" r="1.15"/><circle cx="412.3" cy="543.2" r="1.15"/><circle cx="174.0" cy="553.9" r="1.15"/><circle cx="648.7" cy="568.9" r="1.15"/><circle cx="247.5" cy="562.4" r="1.15"/><circle cx="550.3" cy="546.9" r="1.15"/><circle cx="495.3" cy="551.3" r="1.15"/><circle cx="219.0" cy="555.8" r="1.15"/><circle cx="145.5" cy="516.9" r="1.15"/><circle cx="173.8" cy="554.2" r="1.15"/><circle cx="676.6" cy="501.6" r="1.15"/><circle cx="117.7" cy="538.2" r="1.15"/><circle cx="244.0" cy="564.5" r="1.15"/><circle cx="317.2" cy="575.6" r="1.15"/><circle cx="201.6" cy="559.0" r="1.15"/><circle cx="216.0" cy="556.2" r="1.15"/><circle cx="80.2" cy="551.9" r="1.15"/><circle cx="92.1" cy="540.0" r="1.15"/><circle cx="188.7" cy="555.7" r="1.15"/><circle cx="534.5" cy="555.5" r="1.15"/><circle cx="81.2" cy="547.7" r="1.15"/><circle cx="230.3" cy="559.7" r="1.15"/><circle cx="91.0" cy="546.4" r="1.15"/><circle cx="80.9" cy="553.3" r="1.15"/><circle cx="325.0" cy="566.0" r="1.15"/><circle cx="201.8" cy="560.2" r="1.15"/><circle cx="106.8" cy="542.1" r="1.15"/><circle cx="549.9" cy="547.6" r="1.15"/><circle cx="65.5" cy="484.5" r="1.15"/><circle cx="505.9" cy="556.6" r="1.15"/><circle cx="672.7" cy="503.2" r="1.15"/><circle cx="203.5" cy="559.7" r="1.15"/><circle cx="384.9" cy="538.1" r="1.15"/><circle cx="326.1" cy="566.1" r="1.15"/><circle cx="233.1" cy="560.7" r="1.15"/><circle cx="676.7" cy="500.0" r="1.15"/><circle cx="92.7" cy="545.1" r="1.15"/><circle cx="120.9" cy="542.9" r="1.15"/><circle cx="603.3" cy="545.9" r="1.15"/><circle cx="518.9" cy="554.4" r="1.15"/><circle cx="92.2" cy="537.9" r="1.15"/><circle cx="74.9" cy="530.4" r="1.15"/><circle cx="92.1" cy="539.5" r="1.15"/><circle cx="518.8" cy="555.3" r="1.15"/><circle cx="105.8" cy="540.3" r="1.15"/><circle cx="452.3" cy="567.2" r="1.15"/><circle cx="483.8" cy="563.6" r="1.15"/><circle cx="493.0" cy="552.0" r="1.15"/><circle cx="522.2" cy="557.7" r="1.15"/><circle cx="202.0" cy="558.5" r="1.15"/><circle cx="189.7" cy="552.4" r="1.15"/><circle cx="602.3" cy="547.2" r="1.15"/><circle cx="439.1" cy="568.9" r="1.15"/><circle cx="122.0" cy="547.2" r="1.15"/><circle cx="476.4" cy="565.7" r="1.15"/><circle cx="607.7" cy="547.1" r="1.15"/><circle cx="219.5" cy="555.3" r="1.15"/><circle cx="327.8" cy="564.4" r="1.15"/><circle cx="507.9" cy="558.6" r="1.15"/><circle cx="312.5" cy="568.6" r="1.15"/><circle cx="671.9" cy="501.3" r="1.15"/><circle cx="505.1" cy="555.0" r="1.15"/><circle cx="397.6" cy="528.4" r="1.15"/><circle cx="342.1" cy="563.9" r="1.15"/><circle cx="618.0" cy="540.2" r="1.15"/><circle cx="77.3" cy="529.4" r="1.15"/><circle cx="562.1" cy="539.6" r="1.15"/><circle cx="661.4" cy="575.8" r="1.15"/><circle cx="614.6" cy="540.6" r="1.15"/><circle cx="587.2" cy="532.0" r="1.15"/><circle cx="200.9" cy="559.6" r="1.15"/><circle cx="604.6" cy="545.0" r="1.15"/><circle cx="520.5" cy="556.4" r="1.15"/><circle cx="118.1" cy="538.4" r="1.15"/><circle cx="480.2" cy="565.5" r="1.15"/><circle cx="616.6" cy="540.8" r="1.15"/><circle cx="260.2" cy="564.3" r="1.15"/><circle cx="504.4" cy="556.5" r="1.15"/><circle cx="464.4" cy="549.9" r="1.15"/><circle cx="188.7" cy="554.6" r="1.15"/><circle cx="342.8" cy="563.8" r="1.15"/><circle cx="144.7" cy="517.2" r="1.15"/><circle cx="311.1" cy="567.8" r="1.15"/><circle cx="77.6" cy="552.2" r="1.15"/><circle cx="147.9" cy="516.7" r="1.15"/><circle cx="647.5" cy="581.5" r="1.15"/><circle cx="677.0" cy="500.4" r="1.15"/><circle cx="161.1" cy="553.7" r="1.15"/><circle cx="152.3" cy="515.1" r="1.15"/><circle cx="425.5" cy="519.6" r="1.15"/><circle cx="410.6" cy="543.7" r="1.15"/><circle cx="325.9" cy="565.1" r="1.15"/><circle cx="574.9" cy="541.6" r="1.15"/><circle cx="494.7" cy="551.5" r="1.15"/><circle cx="524.5" cy="557.1" r="1.15"/><circle cx="400.5" cy="527.9" r="1.15"/><circle cx="383.9" cy="538.4" r="1.15"/><circle cx="674.7" cy="500.6" r="1.15"/><circle cx="117.9" cy="541.2" r="1.15"/><circle cx="121.2" cy="545.2" r="1.15"/><circle cx="398.5" cy="530.3" r="1.15"/><circle cx="216.1" cy="557.0" r="1.15"/><circle cx="406.7" cy="543.1" r="1.15"/><circle cx="518.5" cy="558.0" r="1.15"/><circle cx="436.4" cy="567.1" r="1.15"/><circle cx="410.4" cy="542.8" r="1.15"/><circle cx="164.2" cy="555.0" r="1.15"/><circle cx="673.3" cy="501.8" r="1.15"/><circle cx="615.1" cy="542.0" r="1.15"/><circle cx="434.3" cy="567.6" r="1.15"/><circle cx="426.8" cy="520.2" r="1.15"/><circle cx="409.6" cy="541.4" r="1.15"/><circle cx="132.9" cy="543.7" r="1.15"/><circle cx="135.3" cy="542.9" r="1.15"/><circle cx="478.6" cy="563.1" r="1.15"/><circle cx="381.7" cy="542.9" r="1.15"/><circle cx="435.8" cy="568.4" r="1.15"/><circle cx="576.1" cy="538.0" r="1.15"/><circle cx="255.0" cy="564.6" r="1.15"/><circle cx="77.4" cy="552.6" r="1.15"/><circle cx="88.6" cy="539.5" r="1.15"/><circle cx="162.9" cy="556.5" r="1.15"/><circle cx="204.2" cy="560.7" r="1.15"/><circle cx="617.8" cy="541.3" r="1.15"/><circle cx="536.8" cy="556.9" r="1.15"/><circle cx="358.1" cy="575.9" r="1.15"/><circle cx="275.8" cy="568.8" r="1.15"/><circle cx="462.6" cy="552.3" r="1.15"/><circle cx="495.1" cy="550.2" r="1.15"/><circle cx="673.2" cy="501.8" r="1.15"/><circle cx="592.2" cy="532.7" r="1.15"/><circle cx="551.5" cy="544.4" r="1.15"/><circle cx="267.9" cy="568.3" r="1.15"/><circle cx="366.3" cy="545.5" r="1.15"/><circle cx="95.5" cy="538.7" r="1.15"/><circle cx="261.0" cy="564.2" r="1.15"/><circle cx="243.5" cy="563.4" r="1.15"/><circle cx="370.0" cy="545.1" r="1.15"/><circle cx="647.2" cy="576.3" r="1.15"/><circle cx="621.0" cy="542.6" r="1.15"/><circle cx="77.7" cy="550.5" r="1.15"/><circle cx="367.9" cy="545.2" r="1.15"/><circle cx="133.5" cy="544.8" r="1.15"/><circle cx="643.0" cy="576.0" r="1.15"/><circle cx="119.1" cy="542.0" r="1.15"/><circle cx="603.6" cy="546.6" r="1.15"/><circle cx="160.2" cy="555.4" r="1.15"/><circle cx="258.1" cy="564.0" r="1.15"/><circle cx="217.9" cy="557.5" r="1.15"/><circle cx="326.7" cy="565.8" r="1.15"/><circle cx="643.8" cy="578.5" r="1.15"/><circle cx="467.3" cy="553.5" r="1.15"/><circle cx="271.1" cy="568.9" r="1.15"/><circle cx="423.8" cy="521.1" r="1.15"/><circle cx="366.3" cy="546.3" r="1.15"/><circle cx="117.0" cy="536.9" r="1.15"/><circle cx="273.4" cy="567.7" r="1.15"/><circle cx="534.3" cy="559.5" r="1.15"/><circle cx="163.7" cy="554.9" r="1.15"/><circle cx="534.8" cy="557.2" r="1.15"/><circle cx="323.8" cy="566.0" r="1.15"/><circle cx="341.2" cy="563.5" r="1.15"/><circle cx="394.3" cy="527.4" r="1.15"/><circle cx="121.3" cy="538.0" r="1.15"/><circle cx="604.7" cy="548.4" r="1.15"/><circle cx="340.4" cy="565.4" r="1.15"/><circle cx="65.2" cy="483.6" r="1.15"/><circle cx="630.3" cy="578.4" r="1.15"/><circle cx="406.7" cy="544.6" r="1.15"/><circle cx="65.9" cy="483.8" r="1.15"/><circle cx="92.6" cy="550.4" r="1.15"/><circle cx="385.9" cy="538.5" r="1.15"/><circle cx="172.7" cy="553.2" r="1.15"/><circle cx="261.9" cy="563.2" r="1.15"/><circle cx="655.6" cy="585.7" r="1.15"/><circle cx="201.8" cy="559.0" r="1.15"/><circle cx="172.2" cy="553.1" r="1.15"/><circle cx="166.1" cy="554.4" r="1.15"/><circle cx="190.4" cy="553.8" r="1.15"/><circle cx="451.0" cy="566.7" r="1.15"/><circle cx="199.8" cy="557.7" r="1.15"/><circle cx="88.4" cy="540.8" r="1.15"/><circle cx="290.0" cy="541.9" r="1.15"/><circle cx="519.7" cy="557.3" r="1.15"/><circle cx="436.8" cy="567.6" r="1.15"/><circle cx="117.9" cy="537.2" r="1.15"/><circle cx="232.8" cy="560.9" r="1.15"/><circle cx="148.9" cy="517.4" r="1.15"/><circle cx="303.9" cy="536.5" r="1.15"/><circle cx="120.7" cy="538.1" r="1.15"/><circle cx="412.0" cy="543.7" r="1.15"/><circle cx="299.4" cy="539.9" r="1.15"/><circle cx="563.2" cy="539.6" r="1.15"/><circle cx="273.0" cy="569.6" r="1.15"/><circle cx="672.3" cy="501.7" r="1.15"/><circle cx="560.2" cy="541.6" r="1.15"/><circle cx="343.7" cy="563.2" r="1.15"/><circle cx="134.8" cy="542.9" r="1.15"/><circle cx="627.7" cy="592.8" r="1.15"/><circle cx="579.2" cy="537.2" r="1.15"/><circle cx="613.2" cy="540.3" r="1.15"/><circle cx="606.0" cy="545.9" r="1.15"/><circle cx="408.9" cy="542.5" r="1.15"/><circle cx="173.8" cy="551.5" r="1.15"/><circle cx="395.3" cy="528.5" r="1.15"/><circle cx="551.0" cy="549.0" r="1.15"/><circle cx="190.5" cy="552.7" r="1.15"/><circle cx="397.2" cy="527.5" r="1.15"/><circle cx="550.9" cy="548.5" r="1.15"/><circle cx="233.7" cy="558.6" r="1.15"/><circle cx="574.5" cy="540.1" r="1.15"/><circle cx="314.3" cy="569.3" r="1.15"/><circle cx="491.2" cy="550.5" r="1.15"/><circle cx="246.7" cy="562.9" r="1.15"/><circle cx="190.1" cy="552.1" r="1.15"/><circle cx="314.8" cy="570.1" r="1.15"/><circle cx="521.0" cy="557.8" r="1.15"/><circle cx="421.8" cy="521.9" r="1.15"/><circle cx="92.2" cy="547.0" r="1.15"/><circle cx="258.5" cy="564.9" r="1.15"/><circle cx="392.7" cy="527.0" r="1.15"/><circle cx="465.1" cy="554.3" r="1.15"/><circle cx="535.5" cy="556.7" r="1.15"/><circle cx="629.9" cy="592.7" r="1.15"/><circle cx="341.3" cy="565.8" r="1.15"/><circle cx="289.5" cy="541.5" r="1.15"/><circle cx="95.3" cy="544.6" r="1.15"/><circle cx="658.1" cy="576.3" r="1.15"/><circle cx="394.6" cy="524.8" r="1.15"/><circle cx="107.0" cy="542.7" r="1.15"/><circle cx="244.8" cy="562.8" r="1.15"/><circle cx="466.2" cy="550.4" r="1.15"/><circle cx="604.2" cy="547.2" r="1.15"/><circle cx="585.2" cy="534.3" r="1.15"/><circle cx="354.8" cy="581.1" r="1.15"/><circle cx="428.4" cy="520.5" r="1.15"/><circle cx="604.8" cy="546.3" r="1.15"/><circle cx="381.4" cy="538.4" r="1.15"/><circle cx="148.4" cy="515.3" r="1.15"/><circle cx="92.6" cy="551.4" r="1.15"/><circle cx="179.6" cy="554.8" r="1.15"/><circle cx="80.2" cy="552.2" r="1.15"/><circle cx="145.6" cy="518.0" r="1.15"/><circle cx="382.6" cy="539.4" r="1.15"/><circle cx="559.8" cy="539.0" r="1.15"/><circle cx="90.3" cy="537.3" r="1.15"/><circle cx="186.8" cy="551.2" r="1.15"/><circle cx="327.2" cy="565.9" r="1.15"/><circle cx="92.1" cy="547.6" r="1.15"/><circle cx="589.8" cy="536.7" r="1.15"/><circle cx="644.3" cy="592.7" r="1.15"/><circle cx="173.7" cy="551.5" r="1.15"/><circle cx="175.3" cy="553.1" r="1.15"/><circle cx="330.5" cy="566.4" r="1.15"/><circle cx="381.5" cy="539.2" r="1.15"/><circle cx="283.9" cy="542.3" r="1.15"/><circle cx="604.3" cy="546.2" r="1.15"/><circle cx="406.1" cy="541.5" r="1.15"/><circle cx="189.9" cy="555.3" r="1.15"/><circle cx="144.9" cy="516.2" r="1.15"/><circle cx="244.4" cy="563.0" r="1.15"/><circle cx="246.4" cy="563.6" r="1.15"/><circle cx="627.5" cy="585.6" r="1.15"/><circle cx="288.5" cy="542.4" r="1.15"/><circle cx="176.1" cy="551.9" r="1.15"/><circle cx="494.4" cy="551.5" r="1.15"/><circle cx="564.4" cy="539.4" r="1.15"/><circle cx="230.2" cy="562.4" r="1.15"/><circle cx="436.5" cy="567.7" r="1.15"/><circle cx="576.4" cy="540.0" r="1.15"/><circle cx="635.1" cy="575.9" r="1.15"/><circle cx="465.9" cy="551.6" r="1.15"/><circle cx="161.7" cy="553.5" r="1.15"/><circle cx="247.8" cy="561.6" r="1.15"/><circle cx="245.1" cy="562.2" r="1.15"/><circle cx="188.9" cy="554.2" r="1.15"/><circle cx="602.9" cy="543.7" r="1.15"/><circle cx="270.3" cy="568.5" r="1.15"/><circle cx="149.3" cy="516.9" r="1.15"/><circle cx="672.7" cy="500.1" r="1.15"/><circle cx="312.1" cy="569.5" r="1.15"/><circle cx="285.0" cy="540.7" r="1.15"/><circle cx="107.5" cy="542.0" r="1.15"/><circle cx="649.8" cy="592.8" r="1.15"/><circle cx="435.2" cy="566.7" r="1.15"/><circle cx="647.4" cy="592.9" r="1.15"/><circle cx="258.6" cy="564.2" r="1.15"/><circle cx="449.8" cy="566.7" r="1.15"/><circle cx="437.8" cy="567.1" r="1.15"/><circle cx="257.2" cy="566.7" r="1.15"/><circle cx="162.2" cy="554.6" r="1.15"/><circle cx="548.4" cy="546.8" r="1.15"/><circle cx="477.1" cy="564.4" r="1.15"/><circle cx="242.6" cy="561.5" r="1.15"/><circle cx="533.2" cy="559.7" r="1.15"/><circle cx="104.7" cy="543.6" r="1.15"/><circle cx="603.6" cy="553.5" r="1.15"/><circle cx="393.8" cy="526.3" r="1.15"/><circle cx="311.0" cy="569.2" r="1.15"/><circle cx="492.0" cy="549.7" r="1.15"/><circle cx="285.9" cy="540.8" r="1.15"/><circle cx="206.6" cy="558.2" r="1.15"/><circle cx="606.3" cy="545.4" r="1.15"/><circle cx="65.9" cy="486.1" r="1.15"/><circle cx="93.7" cy="539.1" r="1.15"/><circle cx="354.6" cy="576.3" r="1.15"/><circle cx="604.2" cy="546.5" r="1.15"/><circle cx="317.1" cy="569.2" r="1.15"/><circle cx="119.2" cy="544.8" r="1.15"/><circle cx="619.0" cy="540.7" r="1.15"/><circle cx="474.9" cy="565.9" r="1.15"/><circle cx="575.3" cy="538.9" r="1.15"/><circle cx="271.4" cy="569.7" r="1.15"/><circle cx="80.2" cy="529.9" r="1.15"/><circle cx="161.6" cy="551.3" r="1.15"/><circle cx="285.0" cy="543.3" r="1.15"/><circle cx="424.2" cy="519.9" r="1.15"/><circle cx="105.9" cy="542.2" r="1.15"/><circle cx="89.8" cy="538.5" r="1.15"/><circle cx="286.8" cy="541.9" r="1.15"/><circle cx="326.9" cy="566.6" r="1.15"/><circle cx="386.4" cy="537.7" r="1.15"/><circle cx="481.5" cy="565.8" r="1.15"/><circle cx="133.5" cy="545.3" r="1.15"/><circle cx="116.1" cy="538.4" r="1.15"/><circle cx="632.1" cy="581.6" r="1.15"/><circle cx="607.3" cy="545.7" r="1.15"/><circle cx="297.7" cy="538.0" r="1.15"/><circle cx="314.8" cy="569.2" r="1.15"/><circle cx="635.3" cy="581.5" r="1.15"/><circle cx="228.8" cy="560.4" r="1.15"/><circle cx="245.3" cy="562.2" r="1.15"/><circle cx="494.1" cy="549.7" r="1.15"/><circle cx="63.9" cy="485.0" r="1.15"/><circle cx="537.0" cy="557.9" r="1.15"/><circle cx="537.7" cy="557.6" r="1.15"/><circle cx="490.2" cy="550.3" r="1.15"/><circle cx="286.0" cy="542.3" r="1.15"/><circle cx="674.5" cy="500.4" r="1.15"/><circle cx="121.1" cy="545.3" r="1.15"/><circle cx="121.0" cy="538.1" r="1.15"/><circle cx="202.3" cy="559.2" r="1.15"/><circle cx="495.1" cy="552.4" r="1.15"/><circle cx="91.5" cy="539.9" r="1.15"/><circle cx="464.3" cy="553.1" r="1.15"/><circle cx="189.9" cy="554.5" r="1.15"/><circle cx="151.3" cy="516.5" r="1.15"/><circle cx="158.0" cy="555.1" r="1.15"/><circle cx="76.0" cy="528.3" r="1.15"/><circle cx="438.7" cy="569.5" r="1.15"/><circle cx="290.6" cy="543.0" r="1.15"/><circle cx="660.8" cy="578.2" r="1.15"/><circle cx="477.5" cy="565.1" r="1.15"/><circle cx="92.3" cy="542.5" r="1.15"/><circle cx="525.1" cy="556.0" r="1.15"/><circle cx="62.8" cy="483.7" r="1.15"/><circle cx="303.7" cy="538.6" r="1.15"/><circle cx="479.0" cy="563.5" r="1.15"/><circle cx="493.3" cy="550.2" r="1.15"/><circle cx="207.6" cy="560.3" r="1.15"/><circle cx="89.9" cy="538.4" r="1.15"/><circle cx="546.7" cy="548.4" r="1.15"/><circle cx="480.2" cy="561.8" r="1.15"/><circle cx="88.4" cy="539.0" r="1.15"/><circle cx="282.8" cy="541.0" r="1.15"/><circle cx="298.5" cy="538.6" r="1.15"/><circle cx="81.5" cy="551.8" r="1.15"/><circle cx="342.4" cy="563.6" r="1.15"/><circle cx="395.0" cy="529.0" r="1.15"/><circle cx="132.3" cy="542.8" r="1.15"/><circle cx="344.4" cy="565.3" r="1.15"/><circle cx="353.5" cy="574.4" r="1.15"/><circle cx="409.0" cy="545.4" r="1.15"/><circle cx="117.1" cy="537.2" r="1.15"/><circle cx="88.6" cy="546.2" r="1.15"/><circle cx="178.6" cy="554.5" r="1.15"/><circle cx="257.4" cy="563.0" r="1.15"/><circle cx="91.4" cy="543.5" r="1.15"/><circle cx="550.1" cy="546.2" r="1.15"/><circle cx="494.7" cy="548.5" r="1.15"/><circle cx="350.8" cy="568.8" r="1.15"/><circle cx="519.5" cy="556.0" r="1.15"/><circle cx="190.3" cy="556.9" r="1.15"/><circle cx="452.9" cy="564.5" r="1.15"/><circle cx="479.5" cy="566.1" r="1.15"/><circle cx="148.8" cy="515.8" r="1.15"/><circle cx="272.2" cy="566.2" r="1.15"/><circle cx="658.4" cy="592.7" r="1.15"/><circle cx="317.1" cy="569.7" r="1.15"/><circle cx="594.2" cy="534.8" r="1.15"/><circle cx="399.6" cy="528.0" r="1.15"/><circle cx="273.6" cy="567.6" r="1.15"/><circle cx="325.5" cy="565.1" r="1.15"/><circle cx="193.4" cy="554.0" r="1.15"/><circle cx="381.4" cy="540.5" r="1.15"/><circle cx="576.0" cy="538.1" r="1.15"/><circle cx="119.1" cy="536.9" r="1.15"/><circle cx="419.7" cy="521.2" r="1.15"/><circle cx="616.6" cy="540.4" r="1.15"/><circle cx="174.1" cy="553.3" r="1.15"/><circle cx="539.5" cy="557.9" r="1.15"/><circle cx="426.3" cy="520.4" r="1.15"/><circle cx="662.6" cy="592.4" r="1.15"/><circle cx="466.3" cy="550.4" r="1.15"/><circle cx="80.8" cy="529.2" r="1.15"/><circle cx="370.7" cy="544.9" r="1.15"/><circle cx="269.8" cy="566.3" r="1.15"/><circle cx="646.6" cy="570.1" r="1.15"/><circle cx="90.5" cy="546.5" r="1.15"/><circle cx="412.7" cy="542.7" r="1.15"/><circle cx="91.0" cy="538.0" r="1.15"/><circle cx="120.5" cy="544.2" r="1.15"/><circle cx="188.3" cy="551.6" r="1.15"/><circle cx="399.0" cy="527.3" r="1.15"/><circle cx="102.9" cy="541.5" r="1.15"/><circle cx="81.8" cy="529.0" r="1.15"/><circle cx="198.1" cy="559.2" r="1.15"/><circle cx="591.9" cy="534.2" r="1.15"/><circle cx="95.7" cy="539.3" r="1.15"/><circle cx="633.7" cy="592.9" r="1.15"/><circle cx="206.7" cy="559.5" r="1.15"/><circle cx="437.4" cy="567.7" r="1.15"/><circle cx="642.7" cy="578.7" r="1.15"/><circle cx="534.4" cy="558.1" r="1.15"/><circle cx="593.2" cy="533.1" r="1.15"/><circle cx="312.6" cy="568.7" r="1.15"/><circle cx="95.9" cy="542.3" r="1.15"/><circle cx="549.2" cy="546.9" r="1.15"/><circle cx="355.1" cy="592.4" r="1.15"/><circle cx="642.4" cy="592.6" r="1.15"/><circle cx="479.9" cy="564.8" r="1.15"/><circle cx="65.7" cy="484.8" r="1.15"/><circle cx="618.3" cy="543.0" r="1.15"/><circle cx="535.8" cy="558.5" r="1.15"/><circle cx="245.6" cy="563.7" r="1.15"/><circle cx="164.7" cy="553.5" r="1.15"/><circle cx="173.4" cy="552.0" r="1.15"/><circle cx="532.5" cy="559.4" r="1.15"/><circle cx="61.7" cy="484.2" r="1.15"/><circle cx="341.9" cy="566.1" r="1.15"/><circle cx="451.9" cy="566.2" r="1.15"/><circle cx="619.4" cy="539.5" r="1.15"/><circle cx="630.5" cy="576.1" r="1.15"/><circle cx="317.5" cy="567.9" r="1.15"/><circle cx="548.7" cy="547.9" r="1.15"/><circle cx="382.0" cy="541.5" r="1.15"/><circle cx="533.7" cy="558.1" r="1.15"/><circle cx="463.7" cy="552.0" r="1.15"/><circle cx="658.4" cy="592.4" r="1.15"/><circle cx="146.5" cy="516.5" r="1.15"/><circle cx="228.6" cy="562.9" r="1.15"/><circle cx="63.2" cy="482.4" r="1.15"/><circle cx="364.2" cy="545.3" r="1.15"/><circle cx="165.0" cy="555.7" r="1.15"/><circle cx="121.4" cy="544.5" r="1.15"/><circle cx="647.0" cy="576.1" r="1.15"/><circle cx="358.1" cy="581.6" r="1.15"/><circle cx="244.6" cy="563.7" r="1.15"/><circle cx="467.4" cy="551.4" r="1.15"/><circle cx="121.2" cy="538.4" r="1.15"/><circle cx="173.0" cy="552.1" r="1.15"/><circle cx="519.8" cy="556.9" r="1.15"/><circle cx="286.9" cy="545.0" r="1.15"/><circle cx="519.0" cy="555.5" r="1.15"/><circle cx="343.5" cy="563.2" r="1.15"/><circle cx="437.3" cy="568.9" r="1.15"/><circle cx="162.7" cy="555.4" r="1.15"/><circle cx="189.0" cy="553.1" r="1.15"/><circle cx="132.9" cy="543.0" r="1.15"/><circle cx="81.2" cy="555.4" r="1.15"/><circle cx="619.3" cy="538.7" r="1.15"/><circle cx="133.6" cy="544.7" r="1.15"/><circle cx="516.8" cy="556.0" r="1.15"/><circle cx="130.1" cy="544.0" r="1.15"/><circle cx="106.7" cy="542.0" r="1.15"/><circle cx="120.1" cy="542.8" r="1.15"/><circle cx="367.5" cy="546.8" r="1.15"/><circle cx="634.6" cy="581.1" r="1.15"/><circle cx="536.3" cy="557.6" r="1.15"/><circle cx="228.8" cy="561.8" r="1.15"/><circle cx="120.5" cy="537.4" r="1.15"/><circle cx="524.2" cy="559.0" r="1.15"/><circle cx="344.2" cy="564.6" r="1.15"/><circle cx="118.2" cy="537.4" r="1.15"/><circle cx="659.6" cy="578.5" r="1.15"/><circle cx="304.2" cy="537.1" r="1.15"/><circle cx="117.8" cy="536.1" r="1.15"/><circle cx="557.6" cy="540.1" r="1.15"/><circle cx="424.2" cy="521.7" r="1.15"/><circle cx="299.8" cy="536.2" r="1.15"/><circle cx="129.8" cy="543.5" r="1.15"/><circle cx="95.4" cy="547.4" r="1.15"/><circle cx="202.4" cy="560.0" r="1.15"/><circle cx="241.1" cy="563.0" r="1.15"/><circle cx="163.2" cy="558.6" r="1.15"/><circle cx="368.8" cy="546.3" r="1.15"/><circle cx="342.5" cy="565.0" r="1.15"/><circle cx="592.7" cy="535.5" r="1.15"/><circle cx="214.9" cy="557.4" r="1.15"/><circle cx="603.0" cy="546.0" r="1.15"/><circle cx="172.9" cy="554.9" r="1.15"/><circle cx="413.6" cy="543.7" r="1.15"/><circle cx="326.8" cy="568.9" r="1.15"/><circle cx="146.9" cy="516.5" r="1.15"/><circle cx="77.7" cy="529.7" r="1.15"/><circle cx="341.0" cy="566.6" r="1.15"/><circle cx="455.8" cy="565.1" r="1.15"/><circle cx="340.6" cy="565.7" r="1.15"/><circle cx="173.4" cy="554.1" r="1.15"/><circle cx="77.7" cy="549.2" r="1.15"/><circle cx="93.6" cy="547.7" r="1.15"/><circle cx="479.3" cy="563.4" r="1.15"/><circle cx="161.8" cy="556.3" r="1.15"/><circle cx="438.6" cy="568.7" r="1.15"/><circle cx="647.8" cy="571.1" r="1.15"/><circle cx="477.0" cy="564.9" r="1.15"/><circle cx="313.5" cy="567.9" r="1.15"/><circle cx="451.1" cy="567.1" r="1.15"/><circle cx="449.5" cy="565.4" r="1.15"/><circle cx="246.3" cy="564.7" r="1.15"/><circle cx="462.2" cy="550.5" r="1.15"/><circle cx="508.4" cy="557.3" r="1.15"/><circle cx="286.6" cy="542.4" r="1.15"/><circle cx="245.6" cy="563.7" r="1.15"/><circle cx="591.2" cy="535.6" r="1.15"/><circle cx="410.4" cy="544.1" r="1.15"/><circle cx="177.0" cy="554.3" r="1.15"/><circle cx="81.8" cy="528.8" r="1.15"/><circle cx="79.0" cy="554.4" r="1.15"/><circle cx="121.9" cy="538.3" r="1.15"/><circle cx="619.0" cy="542.6" r="1.15"/><circle cx="619.2" cy="542.6" r="1.15"/><circle cx="132.1" cy="542.1" r="1.15"/><circle cx="494.6" cy="547.9" r="1.15"/><circle cx="117.1" cy="543.3" r="1.15"/><circle cx="121.0" cy="544.9" r="1.15"/><circle cx="424.0" cy="518.8" r="1.15"/><circle cx="161.8" cy="557.0" r="1.15"/><circle cx="270.0" cy="568.7" r="1.15"/><circle cx="212.4" cy="555.5" r="1.15"/><circle cx="75.0" cy="529.0" r="1.15"/><circle cx="435.5" cy="566.2" r="1.15"/><circle cx="79.6" cy="547.5" r="1.15"/><circle cx="120.1" cy="541.0" r="1.15"/><circle cx="446.9" cy="564.3" r="1.15"/><circle cx="147.6" cy="517.3" r="1.15"/><circle cx="502.8" cy="556.8" r="1.15"/><circle cx="269.0" cy="567.6" r="1.15"/><circle cx="675.7" cy="500.5" r="1.15"/><circle cx="579.8" cy="542.7" r="1.15"/><circle cx="425.1" cy="518.5" r="1.15"/><circle cx="158.2" cy="554.8" r="1.15"/><circle cx="341.3" cy="564.8" r="1.15"/><circle cx="284.5" cy="540.6" r="1.15"/><circle cx="454.9" cy="567.2" r="1.15"/><circle cx="136.2" cy="542.2" r="1.15"/><circle cx="94.0" cy="551.0" r="1.15"/><circle cx="547.1" cy="546.8" r="1.15"/><circle cx="79.1" cy="556.0" r="1.15"/><circle cx="449.2" cy="566.9" r="1.15"/><circle cx="150.1" cy="514.9" r="1.15"/><circle cx="221.4" cy="556.3" r="1.15"/><circle cx="453.8" cy="566.1" r="1.15"/><circle cx="257.9" cy="564.2" r="1.15"/><circle cx="120.2" cy="537.0" r="1.15"/><circle cx="492.2" cy="550.1" r="1.15"/><circle cx="228.7" cy="561.1" r="1.15"/><circle cx="450.6" cy="564.7" r="1.15"/><circle cx="608.2" cy="546.5" r="1.15"/><circle cx="148.1" cy="514.2" r="1.15"/><circle cx="80.7" cy="529.6" r="1.15"/><circle cx="535.8" cy="557.7" r="1.15"/><circle cx="451.8" cy="565.6" r="1.15"/><circle cx="267.1" cy="570.0" r="1.15"/><circle cx="409.8" cy="542.6" r="1.15"/><circle cx="562.2" cy="539.8" r="1.15"/><circle cx="367.7" cy="547.5" r="1.15"/><circle cx="395.8" cy="527.2" r="1.15"/><circle cx="423.5" cy="521.8" r="1.15"/><circle cx="467.5" cy="551.6" r="1.15"/><circle cx="192.0" cy="554.1" r="1.15"/><circle cx="78.2" cy="547.6" r="1.15"/><circle cx="465.5" cy="553.5" r="1.15"/><circle cx="75.5" cy="529.0" r="1.15"/><circle cx="312.5" cy="569.9" r="1.15"/><circle cx="468.4" cy="551.4" r="1.15"/><circle cx="560.7" cy="541.6" r="1.15"/><circle cx="122.4" cy="538.2" r="1.15"/><circle cx="368.9" cy="545.3" r="1.15"/><circle cx="381.4" cy="539.3" r="1.15"/><circle cx="74.8" cy="529.8" r="1.15"/><circle cx="438.6" cy="566.7" r="1.15"/><circle cx="441.5" cy="567.8" r="1.15"/><circle cx="380.6" cy="539.4" r="1.15"/><circle cx="578.3" cy="543.6" r="1.15"/><circle cx="409.4" cy="543.7" r="1.15"/><circle cx="160.9" cy="552.7" r="1.15"/><circle cx="550.9" cy="547.8" r="1.15"/><circle cx="78.3" cy="556.3" r="1.15"/><circle cx="301.9" cy="540.0" r="1.15"/><circle cx="479.2" cy="565.0" r="1.15"/><circle cx="147.1" cy="516.9" r="1.15"/><circle cx="63.0" cy="480.9" r="1.15"/><circle cx="451.7" cy="568.0" r="1.15"/><circle cx="119.4" cy="539.5" r="1.15"/><circle cx="314.1" cy="567.9" r="1.15"/><circle cx="351.4" cy="585.3" r="1.15"/><circle cx="563.3" cy="539.9" r="1.15"/><circle cx="339.1" cy="565.8" r="1.15"/><circle cx="341.9" cy="563.7" r="1.15"/><circle cx="330.3" cy="563.8" r="1.15"/><circle cx="479.5" cy="564.6" r="1.15"/><circle cx="340.1" cy="564.6" r="1.15"/><circle cx="548.8" cy="548.1" r="1.15"/><circle cx="364.0" cy="545.9" r="1.15"/><circle cx="452.4" cy="566.3" r="1.15"/><circle cx="123.4" cy="539.5" r="1.15"/><circle cx="518.5" cy="557.7" r="1.15"/><circle cx="275.3" cy="569.8" r="1.15"/><circle cx="214.9" cy="555.3" r="1.15"/><circle cx="546.8" cy="547.4" r="1.15"/><circle cx="579.7" cy="540.5" r="1.15"/><circle cx="379.8" cy="536.8" r="1.15"/><circle cx="357.6" cy="592.4" r="1.15"/><circle cx="381.6" cy="540.4" r="1.15"/><circle cx="78.3" cy="551.0" r="1.15"/><circle cx="117.5" cy="544.4" r="1.15"/><circle cx="614.8" cy="539.5" r="1.15"/><circle cx="326.8" cy="564.7" r="1.15"/><circle cx="147.1" cy="514.7" r="1.15"/><circle cx="356.4" cy="576.3" r="1.15"/><circle cx="124.4" cy="558.7" r="1.15"/><circle cx="231.0" cy="560.7" r="1.15"/><circle cx="215.1" cy="557.7" r="1.15"/><circle cx="439.0" cy="568.0" r="1.15"/><circle cx="395.1" cy="529.5" r="1.15"/><circle cx="314.2" cy="568.0" r="1.15"/><circle cx="281.6" cy="542.4" r="1.15"/><circle cx="133.0" cy="542.7" r="1.15"/><circle cx="246.1" cy="563.7" r="1.15"/><circle cx="94.3" cy="547.3" r="1.15"/><circle cx="562.9" cy="538.6" r="1.15"/><circle cx="93.0" cy="546.7" r="1.15"/><circle cx="120.1" cy="542.4" r="1.15"/><circle cx="255.1" cy="563.7" r="1.15"/><circle cx="642.3" cy="574.2" r="1.15"/><circle cx="296.9" cy="537.7" r="1.15"/><circle cx="549.5" cy="548.3" r="1.15"/><circle cx="351.5" cy="592.5" r="1.15"/><circle cx="408.2" cy="541.8" r="1.15"/><circle cx="356.4" cy="574.2" r="1.15"/><circle cx="326.0" cy="564.4" r="1.15"/><circle cx="230.8" cy="561.8" r="1.15"/><circle cx="77.3" cy="557.6" r="1.15"/><circle cx="508.8" cy="558.3" r="1.15"/><circle cx="314.7" cy="569.3" r="1.15"/><circle cx="103.8" cy="540.7" r="1.15"/><circle cx="394.6" cy="528.2" r="1.15"/><circle cx="351.6" cy="569.2" r="1.15"/><circle cx="248.3" cy="563.6" r="1.15"/><circle cx="285.9" cy="540.9" r="1.15"/><circle cx="538.4" cy="559.7" r="1.15"/><circle cx="120.2" cy="538.3" r="1.15"/><circle cx="478.9" cy="563.6" r="1.15"/><circle cx="312.5" cy="569.6" r="1.15"/><circle cx="633.5" cy="592.8" r="1.15"/><circle cx="353.6" cy="578.6" r="1.15"/><circle cx="366.0" cy="543.0" r="1.15"/><circle cx="384.9" cy="539.0" r="1.15"/><circle cx="326.9" cy="566.5" r="1.15"/><circle cx="81.1" cy="552.2" r="1.15"/><circle cx="244.1" cy="563.4" r="1.15"/><circle cx="505.4" cy="560.8" r="1.15"/><circle cx="132.7" cy="542.3" r="1.15"/><circle cx="231.1" cy="559.2" r="1.15"/><circle cx="410.5" cy="543.5" r="1.15"/><circle cx="523.9" cy="553.9" r="1.15"/><circle cx="135.5" cy="542.8" r="1.15"/><circle cx="590.9" cy="534.6" r="1.15"/><circle cx="660.7" cy="592.9" r="1.15"/><circle cx="465.1" cy="551.6" r="1.15"/><circle cx="89.1" cy="538.3" r="1.15"/><circle cx="507.7" cy="559.1" r="1.15"/><circle cx="462.7" cy="550.7" r="1.15"/><circle cx="399.7" cy="529.1" r="1.15"/><circle cx="329.9" cy="565.2" r="1.15"/><circle cx="350.5" cy="592.6" r="1.15"/><circle cx="150.2" cy="515.8" r="1.15"/><circle cx="78.1" cy="530.9" r="1.15"/><circle cx="189.4" cy="553.6" r="1.15"/><circle cx="205.1" cy="558.7" r="1.15"/><circle cx="105.0" cy="541.7" r="1.15"/><circle cx="229.6" cy="561.1" r="1.15"/><circle cx="202.1" cy="558.6" r="1.15"/><circle cx="438.5" cy="569.0" r="1.15"/><circle cx="510.6" cy="557.9" r="1.15"/><circle cx="107.1" cy="542.4" r="1.15"/><circle cx="227.4" cy="561.4" r="1.15"/><circle cx="79.2" cy="529.7" r="1.15"/><circle cx="412.5" cy="541.8" r="1.15"/><circle cx="271.2" cy="568.9" r="1.15"/><circle cx="562.3" cy="540.1" r="1.15"/><circle cx="215.7" cy="555.9" r="1.15"/><circle cx="657.5" cy="581.5" r="1.15"/><circle cx="576.7" cy="540.6" r="1.15"/><circle cx="296.6" cy="539.1" r="1.15"/><circle cx="133.3" cy="541.3" r="1.15"/><circle cx="314.3" cy="570.6" r="1.15"/><circle cx="290.0" cy="541.2" r="1.15"/><circle cx="204.7" cy="557.5" r="1.15"/><circle cx="628.2" cy="585.8" r="1.15"/><circle cx="74.3" cy="552.1" r="1.15"/><circle cx="299.2" cy="538.6" r="1.15"/><circle cx="394.1" cy="529.6" r="1.15"/><circle cx="124.1" cy="540.9" r="1.15"/><circle cx="310.9" cy="569.0" r="1.15"/><circle cx="451.5" cy="567.2" r="1.15"/><circle cx="261.0" cy="560.8" r="1.15"/><circle cx="94.2" cy="542.7" r="1.15"/><circle cx="463.7" cy="553.0" r="1.15"/><circle cx="384.5" cy="538.6" r="1.15"/><circle cx="123.3" cy="546.2" r="1.15"/><circle cx="217.4" cy="556.9" r="1.15"/><circle cx="546.1" cy="548.3" r="1.15"/><circle cx="161.6" cy="556.7" r="1.15"/><circle cx="201.6" cy="559.8" r="1.15"/><circle cx="673.4" cy="501.4" r="1.15"/><circle cx="63.5" cy="483.9" r="1.15"/><circle cx="257.1" cy="564.6" r="1.15"/><circle cx="350.9" cy="578.3" r="1.15"/><circle cx="423.9" cy="521.4" r="1.15"/><circle cx="506.6" cy="556.8" r="1.15"/><circle cx="94.9" cy="538.7" r="1.15"/><circle cx="179.3" cy="553.1" r="1.15"/><circle cx="120.5" cy="547.1" r="1.15"/><circle cx="601.4" cy="547.0" r="1.15"/><circle cx="424.6" cy="522.2" r="1.15"/><circle cx="340.3" cy="564.2" r="1.15"/><circle cx="411.0" cy="541.0" r="1.15"/><circle cx="603.6" cy="545.3" r="1.15"/><circle cx="454.7" cy="565.2" r="1.15"/><circle cx="531.0" cy="559.9" r="1.15"/><circle cx="576.4" cy="540.9" r="1.15"/><circle cx="628.7" cy="578.2" r="1.15"/><circle cx="630.5" cy="581.1" r="1.15"/><circle cx="423.5" cy="520.5" r="1.15"/><circle cx="286.0" cy="541.8" r="1.15"/><circle cx="117.5" cy="537.6" r="1.15"/><circle cx="516.1" cy="557.0" r="1.15"/><circle cx="394.4" cy="528.8" r="1.15"/><circle cx="438.7" cy="567.8" r="1.15"/><circle cx="517.9" cy="557.9" r="1.15"/><circle cx="614.5" cy="539.0" r="1.15"/><circle cx="231.7" cy="560.2" r="1.15"/><circle cx="272.6" cy="569.2" r="1.15"/><circle cx="315.3" cy="570.4" r="1.15"/><circle cx="272.5" cy="566.6" r="1.15"/><circle cx="507.9" cy="558.1" r="1.15"/><circle cx="427.3" cy="520.6" r="1.15"/><circle cx="629.4" cy="585.5" r="1.15"/><circle cx="670.9" cy="503.0" r="1.15"/><circle cx="424.5" cy="521.4" r="1.15"/><circle cx="397.5" cy="530.0" r="1.15"/><circle cx="78.5" cy="550.6" r="1.15"/><circle cx="312.5" cy="570.4" r="1.15"/><circle cx="244.1" cy="562.3" r="1.15"/><circle cx="308.6" cy="568.6" r="1.15"/><circle cx="133.7" cy="541.5" r="1.15"/><circle cx="88.3" cy="555.0" r="1.15"/></g>
<g fill="#8da0cb" fill-opacity="0.6" clip-path="url(#clipd)"><circle cx="246.6" cy="563.5" r="1.15"/><circle cx="190.0" cy="554.1" r="1.15"/><circle cx="563.4" cy="540.6" r="1.15"/><circle cx="148.1" cy="517.0" r="1.15"/><circle cx="269.7" cy="569.6" r="1.15"/><circle cx="647.3" cy="578.3" r="1.15"/><circle cx="260.7" cy="566.0" r="1.15"/><circle cx="643.6" cy="569.0" r="1.15"/><circle cx="240.7" cy="564.2" r="1.15"/><circle cx="589.4" cy="537.0" r="1.15"/><circle cx="422.2" cy="519.9" r="1.15"/><circle cx="531.6" cy="556.6" r="1.15"/><circle cx="421.6" cy="521.3" r="1.15"/><circle cx="243.1" cy="563.4" r="1.15"/><circle cx="352.9" cy="578.1" r="1.15"/><circle cx="59.7" cy="481.2" r="1.15"/><circle cx="369.6" cy="547.5" r="1.15"/><circle cx="144.5" cy="515.1" r="1.15"/><circle cx="453.6" cy="565.8" r="1.15"/><circle cx="117.2" cy="543.2" r="1.15"/><circle cx="674.7" cy="500.7" r="1.15"/><circle cx="477.4" cy="565.2" r="1.15"/><circle cx="648.8" cy="569.3" r="1.15"/><circle cx="143.9" cy="516.5" r="1.15"/><circle cx="478.6" cy="565.3" r="1.15"/><circle cx="299.6" cy="540.6" r="1.15"/><circle cx="372.0" cy="547.3" r="1.15"/><circle cx="600.5" cy="545.9" r="1.15"/><circle cx="108.1" cy="534.1" r="1.15"/><circle cx="478.9" cy="564.6" r="1.15"/><circle cx="561.3" cy="541.5" r="1.15"/><circle cx="510.1" cy="557.0" r="1.15"/><circle cx="94.5" cy="544.7" r="1.15"/><circle cx="547.0" cy="546.9" r="1.15"/><circle cx="507.4" cy="557.9" r="1.15"/><circle cx="520.3" cy="557.1" r="1.15"/><circle cx="311.6" cy="568.6" r="1.15"/><circle cx="505.7" cy="560.1" r="1.15"/><circle cx="77.7" cy="548.9" r="1.15"/><circle cx="217.5" cy="559.1" r="1.15"/><circle cx="81.8" cy="553.4" r="1.15"/><circle cx="563.1" cy="539.4" r="1.15"/><circle cx="308.6" cy="573.3" r="1.15"/><circle cx="262.9" cy="564.1" r="1.15"/><circle cx="256.5" cy="562.4" r="1.15"/><circle cx="103.4" cy="540.8" r="1.15"/><circle cx="495.7" cy="552.7" r="1.15"/><circle cx="518.1" cy="555.4" r="1.15"/><circle cx="451.3" cy="566.9" r="1.15"/><circle cx="107.0" cy="543.3" r="1.15"/><circle cx="575.6" cy="539.0" r="1.15"/><circle cx="240.0" cy="563.9" r="1.15"/><circle cx="218.0" cy="558.1" r="1.15"/><circle cx="90.9" cy="548.4" r="1.15"/><circle cx="88.5" cy="543.0" r="1.15"/><circle cx="407.8" cy="543.2" r="1.15"/><circle cx="534.7" cy="558.9" r="1.15"/><circle cx="286.7" cy="542.6" r="1.15"/><circle cx="287.3" cy="543.1" r="1.15"/><circle cx="367.9" cy="543.7" r="1.15"/><circle cx="593.4" cy="532.2" r="1.15"/><circle cx="534.3" cy="559.7" r="1.15"/><circle cx="561.8" cy="541.0" r="1.15"/><circle cx="193.8" cy="552.8" r="1.15"/><circle cx="438.8" cy="566.2" r="1.15"/><circle cx="109.4" cy="541.1" r="1.15"/><circle cx="480.8" cy="562.6" r="1.15"/><circle cx="423.4" cy="518.7" r="1.15"/><circle cx="272.9" cy="569.6" r="1.15"/><circle cx="260.1" cy="563.6" r="1.15"/><circle cx="590.8" cy="534.6" r="1.15"/><circle cx="424.7" cy="522.3" r="1.15"/><circle cx="232.6" cy="561.4" r="1.15"/><circle cx="489.9" cy="549.4" r="1.15"/><circle cx="285.1" cy="542.1" r="1.15"/><circle cx="120.9" cy="542.4" r="1.15"/><circle cx="536.6" cy="557.9" r="1.15"/><circle cx="312.2" cy="570.8" r="1.15"/><circle cx="187.3" cy="554.7" r="1.15"/><circle cx="94.6" cy="549.9" r="1.15"/><circle cx="203.5" cy="560.4" r="1.15"/><circle cx="452.4" cy="567.8" r="1.15"/><circle cx="564.0" cy="541.1" r="1.15"/><circle cx="145.1" cy="518.0" r="1.15"/><circle cx="232.5" cy="560.2" r="1.15"/><circle cx="107.6" cy="530.6" r="1.15"/><circle cx="410.9" cy="541.7" r="1.15"/><circle cx="79.9" cy="553.0" r="1.15"/><circle cx="521.3" cy="556.7" r="1.15"/><circle cx="204.2" cy="559.3" r="1.15"/><circle cx="369.1" cy="544.8" r="1.15"/><circle cx="217.5" cy="557.9" r="1.15"/><circle cx="463.2" cy="549.9" r="1.15"/><circle cx="117.1" cy="547.4" r="1.15"/><circle cx="150.3" cy="517.1" r="1.15"/><circle cx="300.8" cy="541.8" r="1.15"/><circle cx="78.3" cy="551.2" r="1.15"/><circle cx="409.4" cy="544.8" r="1.15"/><circle cx="619.2" cy="541.6" r="1.15"/><circle cx="189.4" cy="553.9" r="1.15"/><circle cx="467.6" cy="550.1" r="1.15"/><circle cx="659.0" cy="578.6" r="1.15"/><circle cx="395.1" cy="529.4" r="1.15"/><circle cx="120.3" cy="548.9" r="1.15"/><circle cx="216.3" cy="558.2" r="1.15"/><circle cx="382.7" cy="540.4" r="1.15"/><circle cx="340.5" cy="564.3" r="1.15"/><circle cx="507.6" cy="558.2" r="1.15"/><circle cx="476.7" cy="563.4" r="1.15"/><circle cx="301.9" cy="540.2" r="1.15"/><circle cx="382.6" cy="538.6" r="1.15"/><circle cx="504.3" cy="558.0" r="1.15"/><circle cx="245.4" cy="562.3" r="1.15"/><circle cx="531.8" cy="559.0" r="1.15"/><circle cx="470.3" cy="554.1" r="1.15"/><circle cx="297.2" cy="539.9" r="1.15"/><circle cx="358.5" cy="576.1" r="1.15"/><circle cx="129.9" cy="544.4" r="1.15"/><circle cx="93.9" cy="547.5" r="1.15"/><circle cx="304.4" cy="540.4" r="1.15"/><circle cx="589.8" cy="536.0" r="1.15"/><circle cx="468.4" cy="550.6" r="1.15"/><circle cx="558.5" cy="541.1" r="1.15"/><circle cx="537.3" cy="559.7" r="1.15"/><circle cx="327.7" cy="565.7" r="1.15"/><circle cx="657.5" cy="581.1" r="1.15"/><circle cx="106.1" cy="540.7" r="1.15"/><circle cx="258.1" cy="567.0" r="1.15"/><circle cx="258.2" cy="562.8" r="1.15"/><circle cx="536.7" cy="556.2" r="1.15"/><circle cx="520.6" cy="555.4" r="1.15"/><circle cx="426.1" cy="518.5" r="1.15"/><circle cx="119.5" cy="543.1" r="1.15"/><circle cx="146.3" cy="518.1" r="1.15"/><circle cx="481.1" cy="563.9" r="1.15"/><circle cx="590.4" cy="535.8" r="1.15"/><circle cx="353.5" cy="574.1" r="1.15"/><circle cx="492.0" cy="550.9" r="1.15"/><circle cx="658.6" cy="581.2" r="1.15"/><circle cx="338.1" cy="562.9" r="1.15"/><circle cx="603.0" cy="545.3" r="1.15"/><circle cx="163.3" cy="554.6" r="1.15"/><circle cx="382.2" cy="537.7" r="1.15"/><circle cx="203.0" cy="559.5" r="1.15"/><circle cx="106.3" cy="542.1" r="1.15"/><circle cx="575.5" cy="539.6" r="1.15"/><circle cx="148.5" cy="514.5" r="1.15"/><circle cx="436.3" cy="566.6" r="1.15"/><circle cx="218.9" cy="558.6" r="1.15"/><circle cx="179.2" cy="552.9" r="1.15"/><circle cx="385.7" cy="538.7" r="1.15"/><circle cx="108.2" cy="528.3" r="1.15"/><circle cx="107.7" cy="541.4" r="1.15"/><circle cx="352.9" cy="578.3" r="1.15"/><circle cx="270.6" cy="568.7" r="1.15"/><circle cx="75.5" cy="557.4" r="1.15"/><circle cx="107.4" cy="533.3" r="1.15"/><circle cx="77.7" cy="551.0" r="1.15"/><circle cx="358.6" cy="578.2" r="1.15"/><circle cx="331.8" cy="567.2" r="1.15"/><circle cx="191.9" cy="552.6" r="1.15"/><circle cx="370.7" cy="544.5" r="1.15"/><circle cx="562.4" cy="543.5" r="1.15"/><circle cx="87.7" cy="544.9" r="1.15"/><circle cx="178.1" cy="553.4" r="1.15"/><circle cx="520.8" cy="555.8" r="1.15"/><circle cx="524.3" cy="555.6" r="1.15"/><circle cx="104.5" cy="541.6" r="1.15"/><circle cx="509.9" cy="557.2" r="1.15"/><circle cx="106.9" cy="530.3" r="1.15"/><circle cx="668.6" cy="500.5" r="1.15"/><circle cx="608.0" cy="544.8" r="1.15"/><circle cx="439.7" cy="568.8" r="1.15"/><circle cx="339.1" cy="562.9" r="1.15"/><circle cx="592.3" cy="533.2" r="1.15"/><circle cx="593.6" cy="535.5" r="1.15"/><circle cx="158.6" cy="552.4" r="1.15"/><circle cx="524.6" cy="556.9" r="1.15"/><circle cx="453.2" cy="566.1" r="1.15"/><circle cx="61.7" cy="483.5" r="1.15"/><circle cx="105.3" cy="541.6" r="1.15"/><circle cx="492.5" cy="548.7" r="1.15"/><circle cx="184.2" cy="553.6" r="1.15"/><circle cx="313.1" cy="569.4" r="1.15"/><circle cx="676.4" cy="499.7" r="1.15"/><circle cx="370.7" cy="545.2" r="1.15"/><circle cx="521.7" cy="557.4" r="1.15"/><circle cx="310.6" cy="567.8" r="1.15"/><circle cx="355.4" cy="572.6" r="1.15"/><circle cx="618.1" cy="540.3" r="1.15"/><circle cx="261.3" cy="564.7" r="1.15"/><circle cx="240.8" cy="564.0" r="1.15"/><circle cx="574.2" cy="541.9" r="1.15"/><circle cx="437.6" cy="566.1" r="1.15"/><circle cx="244.4" cy="563.7" r="1.15"/><circle cx="269.9" cy="566.0" r="1.15"/><circle cx="65.5" cy="483.9" r="1.15"/><circle cx="479.4" cy="563.6" r="1.15"/><circle cx="63.3" cy="484.7" r="1.15"/><circle cx="452.6" cy="564.7" r="1.15"/><circle cx="525.4" cy="556.2" r="1.15"/><circle cx="160.2" cy="555.3" r="1.15"/><circle cx="478.1" cy="565.6" r="1.15"/><circle cx="81.0" cy="556.0" r="1.15"/><circle cx="95.1" cy="548.2" r="1.15"/><circle cx="217.3" cy="556.7" r="1.15"/><circle cx="327.2" cy="566.3" r="1.15"/><circle cx="244.2" cy="562.0" r="1.15"/><circle cx="476.7" cy="563.9" r="1.15"/><circle cx="312.2" cy="569.0" r="1.15"/><circle cx="593.0" cy="535.9" r="1.15"/><circle cx="230.7" cy="560.2" r="1.15"/><circle cx="675.3" cy="500.1" r="1.15"/><circle cx="382.2" cy="539.8" r="1.15"/><circle cx="408.0" cy="544.8" r="1.15"/><circle cx="451.4" cy="563.2" r="1.15"/><circle cx="662.3" cy="578.7" r="1.15"/><circle cx="78.9" cy="554.9" r="1.15"/><circle cx="159.6" cy="553.8" r="1.15"/><circle cx="356.9" cy="567.3" r="1.15"/><circle cx="644.4" cy="578.6" r="1.15"/><circle cx="422.0" cy="519.4" r="1.15"/><circle cx="558.3" cy="539.7" r="1.15"/><circle cx="63.6" cy="483.7" r="1.15"/><circle cx="352.9" cy="578.4" r="1.15"/><circle cx="327.1" cy="564.7" r="1.15"/><circle cx="133.6" cy="544.5" r="1.15"/><circle cx="532.3" cy="559.5" r="1.15"/><circle cx="134.4" cy="546.2" r="1.15"/><circle cx="657.0" cy="578.1" r="1.15"/><circle cx="464.9" cy="552.1" r="1.15"/><circle cx="68.7" cy="483.4" r="1.15"/><circle cx="537.9" cy="558.4" r="1.15"/><circle cx="216.9" cy="556.6" r="1.15"/><circle cx="339.2" cy="565.1" r="1.15"/><circle cx="677.8" cy="501.1" r="1.15"/><circle cx="530.1" cy="559.0" r="1.15"/><circle cx="122.9" cy="542.3" r="1.15"/><circle cx="258.1" cy="566.2" r="1.15"/><circle cx="254.4" cy="564.5" r="1.15"/><circle cx="410.5" cy="542.7" r="1.15"/><circle cx="358.1" cy="578.2" r="1.15"/><circle cx="411.0" cy="543.3" r="1.15"/><circle cx="425.4" cy="520.0" r="1.15"/><circle cx="521.9" cy="558.5" r="1.15"/><circle cx="108.8" cy="540.7" r="1.15"/><circle cx="218.4" cy="560.6" r="1.15"/><circle cx="659.0" cy="578.7" r="1.15"/><circle cx="327.2" cy="565.2" r="1.15"/><circle cx="184.2" cy="553.2" r="1.15"/><circle cx="118.4" cy="542.9" r="1.15"/><circle cx="62.6" cy="485.1" r="1.15"/><circle cx="91.6" cy="545.9" r="1.15"/><circle cx="496.5" cy="553.0" r="1.15"/><circle cx="437.1" cy="565.3" r="1.15"/><circle cx="164.2" cy="554.1" r="1.15"/><circle cx="615.4" cy="542.1" r="1.15"/><circle cx="150.8" cy="518.2" r="1.15"/><circle cx="454.5" cy="567.0" r="1.15"/><circle cx="366.1" cy="545.1" r="1.15"/><circle cx="283.7" cy="540.9" r="1.15"/><circle cx="451.8" cy="564.4" r="1.15"/><circle cx="328.1" cy="564.1" r="1.15"/><circle cx="332.1" cy="566.5" r="1.15"/><circle cx="398.3" cy="528.8" r="1.15"/><circle cx="438.0" cy="566.3" r="1.15"/><circle cx="161.8" cy="553.6" r="1.15"/><circle cx="618.9" cy="539.8" r="1.15"/><circle cx="477.5" cy="565.0" r="1.15"/><circle cx="550.0" cy="549.1" r="1.15"/><circle cx="575.5" cy="541.8" r="1.15"/><circle cx="325.8" cy="566.9" r="1.15"/><circle cx="216.4" cy="559.8" r="1.15"/><circle cx="205.9" cy="560.1" r="1.15"/><circle cx="106.5" cy="541.8" r="1.15"/><circle cx="411.2" cy="543.4" r="1.15"/><circle cx="261.6" cy="564.2" r="1.15"/><circle cx="262.8" cy="563.9" r="1.15"/><circle cx="215.2" cy="558.5" r="1.15"/><circle cx="226.2" cy="561.4" r="1.15"/><circle cx="394.2" cy="527.5" r="1.15"/><circle cx="536.7" cy="557.0" r="1.15"/><circle cx="601.7" cy="546.7" r="1.15"/><circle cx="286.8" cy="540.0" r="1.15"/><circle cx="91.9" cy="544.5" r="1.15"/><circle cx="354.4" cy="575.9" r="1.15"/><circle cx="668.2" cy="503.0" r="1.15"/><circle cx="299.5" cy="539.5" r="1.15"/><circle cx="382.5" cy="538.2" r="1.15"/><circle cx="451.1" cy="565.8" r="1.15"/><circle cx="92.3" cy="561.0" r="1.15"/><circle cx="577.9" cy="541.3" r="1.15"/><circle cx="324.7" cy="566.6" r="1.15"/><circle cx="297.8" cy="537.4" r="1.15"/><circle cx="463.4" cy="549.9" r="1.15"/><circle cx="411.7" cy="544.7" r="1.15"/><circle cx="287.2" cy="541.0" r="1.15"/><circle cx="131.3" cy="544.6" r="1.15"/><circle cx="509.1" cy="557.9" r="1.15"/><circle cx="464.2" cy="550.8" r="1.15"/><circle cx="81.3" cy="553.4" r="1.15"/><circle cx="115.4" cy="542.4" r="1.15"/><circle cx="340.8" cy="563.8" r="1.15"/><circle cx="590.8" cy="535.2" r="1.15"/><circle cx="78.4" cy="557.8" r="1.15"/><circle cx="119.4" cy="540.7" r="1.15"/><circle cx="121.4" cy="543.6" r="1.15"/><circle cx="576.7" cy="542.5" r="1.15"/><circle cx="245.3" cy="562.7" r="1.15"/><circle cx="395.7" cy="527.3" r="1.15"/><circle cx="369.9" cy="545.2" r="1.15"/><circle cx="509.8" cy="556.8" r="1.15"/><circle cx="164.1" cy="554.3" r="1.15"/><circle cx="588.3" cy="536.3" r="1.15"/><circle cx="107.3" cy="531.5" r="1.15"/><circle cx="160.5" cy="555.6" r="1.15"/><circle cx="479.1" cy="564.2" r="1.15"/><circle cx="80.4" cy="555.2" r="1.15"/><circle cx="262.0" cy="563.5" r="1.15"/><circle cx="606.4" cy="545.9" r="1.15"/><circle cx="311.5" cy="568.3" r="1.15"/><circle cx="621.4" cy="542.1" r="1.15"/><circle cx="563.3" cy="539.5" r="1.15"/><circle cx="122.7" cy="546.7" r="1.15"/><circle cx="677.8" cy="506.1" r="1.15"/><circle cx="258.0" cy="565.2" r="1.15"/><circle cx="409.2" cy="543.6" r="1.15"/><circle cx="121.9" cy="538.4" r="1.15"/><circle cx="213.5" cy="559.5" r="1.15"/><circle cx="462.2" cy="549.6" r="1.15"/><circle cx="438.3" cy="566.8" r="1.15"/><circle cx="283.5" cy="543.6" r="1.15"/><circle cx="214.9" cy="558.4" r="1.15"/><circle cx="576.4" cy="541.1" r="1.15"/><circle cx="494.6" cy="548.6" r="1.15"/><circle cx="484.2" cy="565.6" r="1.15"/><circle cx="504.9" cy="557.2" r="1.15"/><circle cx="312.2" cy="570.7" r="1.15"/><circle cx="106.2" cy="542.1" r="1.15"/><circle cx="545.9" cy="546.3" r="1.15"/><circle cx="286.0" cy="543.1" r="1.15"/><circle cx="93.8" cy="542.2" r="1.15"/><circle cx="313.7" cy="570.0" r="1.15"/><circle cx="606.2" cy="546.7" r="1.15"/><circle cx="483.6" cy="565.3" r="1.15"/><circle cx="76.9" cy="549.4" r="1.15"/><circle cx="632.8" cy="578.5" r="1.15"/><circle cx="327.7" cy="565.1" r="1.15"/><circle cx="202.7" cy="560.2" r="1.15"/><circle cx="64.3" cy="482.6" r="1.15"/><circle cx="489.8" cy="551.6" r="1.15"/><circle cx="673.3" cy="501.8" r="1.15"/><circle cx="75.5" cy="557.7" r="1.15"/><circle cx="172.8" cy="553.3" r="1.15"/><circle cx="239.7" cy="562.9" r="1.15"/><circle cx="564.2" cy="540.2" r="1.15"/><circle cx="469.0" cy="550.4" r="1.15"/><circle cx="437.5" cy="566.4" r="1.15"/><circle cx="462.6" cy="550.2" r="1.15"/><circle cx="493.3" cy="548.9" r="1.15"/><circle cx="573.6" cy="539.6" r="1.15"/><circle cx="315.8" cy="567.3" r="1.15"/><circle cx="659.7" cy="585.7" r="1.15"/><circle cx="189.6" cy="554.3" r="1.15"/><circle cx="435.5" cy="568.9" r="1.15"/><circle cx="301.5" cy="539.1" r="1.15"/><circle cx="572.8" cy="537.8" r="1.15"/><circle cx="94.7" cy="547.8" r="1.15"/><circle cx="328.7" cy="565.3" r="1.15"/><circle cx="192.4" cy="554.0" r="1.15"/><circle cx="423.3" cy="519.5" r="1.15"/><circle cx="608.7" cy="547.7" r="1.15"/><circle cx="216.8" cy="557.5" r="1.15"/><circle cx="260.2" cy="562.9" r="1.15"/><circle cx="587.2" cy="533.7" r="1.15"/><circle cx="575.5" cy="539.4" r="1.15"/><circle cx="313.8" cy="568.4" r="1.15"/><circle cx="242.4" cy="562.7" r="1.15"/><circle cx="144.4" cy="515.9" r="1.15"/><circle cx="382.2" cy="538.0" r="1.15"/><circle cx="136.8" cy="542.3" r="1.15"/><circle cx="204.7" cy="562.0" r="1.15"/><circle cx="338.0" cy="564.2" r="1.15"/><circle cx="355.7" cy="578.6" r="1.15"/><circle cx="563.4" cy="539.1" r="1.15"/><circle cx="378.0" cy="539.7" r="1.15"/><circle cx="560.7" cy="540.7" r="1.15"/><circle cx="273.5" cy="568.3" r="1.15"/><circle cx="337.1" cy="564.6" r="1.15"/><circle cx="615.1" cy="540.6" r="1.15"/><circle cx="503.4" cy="557.9" r="1.15"/><circle cx="65.3" cy="486.5" r="1.15"/><circle cx="409.3" cy="541.9" r="1.15"/><circle cx="400.8" cy="529.0" r="1.15"/><circle cx="301.2" cy="538.9" r="1.15"/><circle cx="283.6" cy="541.5" r="1.15"/><circle cx="435.4" cy="565.6" r="1.15"/><circle cx="427.5" cy="521.1" r="1.15"/><circle cx="549.4" cy="546.3" r="1.15"/><circle cx="188.0" cy="552.4" r="1.15"/><circle cx="483.2" cy="564.2" r="1.15"/><circle cx="173.0" cy="552.0" r="1.15"/><circle cx="202.0" cy="558.8" r="1.15"/><circle cx="545.3" cy="547.2" r="1.15"/><circle cx="506.5" cy="555.7" r="1.15"/><circle cx="434.5" cy="565.1" r="1.15"/><circle cx="134.8" cy="544.6" r="1.15"/><circle cx="79.0" cy="550.2" r="1.15"/><circle cx="87.8" cy="550.8" r="1.15"/><circle cx="447.7" cy="567.0" r="1.15"/><circle cx="203.4" cy="558.2" r="1.15"/><circle cx="617.9" cy="540.2" r="1.15"/><circle cx="327.4" cy="565.3" r="1.15"/><circle cx="202.6" cy="558.4" r="1.15"/><circle cx="547.0" cy="546.7" r="1.15"/><circle cx="79.0" cy="554.3" r="1.15"/><circle cx="132.4" cy="543.2" r="1.15"/><circle cx="205.1" cy="558.6" r="1.15"/><circle cx="382.4" cy="539.1" r="1.15"/><circle cx="107.2" cy="532.2" r="1.15"/><circle cx="587.3" cy="536.4" r="1.15"/><circle cx="324.6" cy="565.3" r="1.15"/><circle cx="511.4" cy="556.6" r="1.15"/><circle cx="76.8" cy="549.8" r="1.15"/><circle cx="408.7" cy="542.8" r="1.15"/><circle cx="186.6" cy="554.7" r="1.15"/><circle cx="161.3" cy="555.1" r="1.15"/><circle cx="423.1" cy="523.6" r="1.15"/><circle cx="449.8" cy="565.3" r="1.15"/><circle cx="675.1" cy="500.4" r="1.15"/><circle cx="357.7" cy="585.8" r="1.15"/><circle cx="93.1" cy="545.7" r="1.15"/><circle cx="296.6" cy="537.9" r="1.15"/><circle cx="508.0" cy="557.1" r="1.15"/><circle cx="233.8" cy="560.4" r="1.15"/><circle cx="535.3" cy="558.6" r="1.15"/><circle cx="80.3" cy="551.1" r="1.15"/><circle cx="188.1" cy="556.4" r="1.15"/><circle cx="482.5" cy="563.8" r="1.15"/><circle cx="78.9" cy="550.1" r="1.15"/><circle cx="656.4" cy="578.3" r="1.15"/><circle cx="576.5" cy="538.9" r="1.15"/><circle cx="573.0" cy="541.0" r="1.15"/><circle cx="103.4" cy="534.5" r="1.15"/><circle cx="258.8" cy="563.6" r="1.15"/><circle cx="92.0" cy="549.6" r="1.15"/><circle cx="543.8" cy="547.7" r="1.15"/><circle cx="299.8" cy="539.7" r="1.15"/></g>
<g fill="#66c2a5" fill-opacity="0.6" clip-path="url(#clipd)"><circle cx="134.7" cy="543.6" r="1.15"/><circle cx="657.5" cy="575.9" r="1.15"/><circle cx="64.1" cy="481.9" r="1.15"/><circle cx="420.9" cy="520.4" r="1.15"/><circle cx="548.0" cy="547.2" r="1.15"/><circle cx="589.7" cy="534.8" r="1.15"/><circle cx="630.1" cy="581.5" r="1.15"/><circle cx="313.6" cy="569.2" r="1.15"/><circle cx="258.1" cy="565.0" r="1.15"/><circle cx="315.1" cy="567.6" r="1.15"/><circle cx="187.8" cy="550.6" r="1.15"/><circle cx="118.9" cy="542.3" r="1.15"/><circle cx="451.9" cy="563.0" r="1.15"/><circle cx="560.3" cy="539.8" r="1.15"/><circle cx="614.1" cy="541.5" r="1.15"/><circle cx="380.9" cy="539.1" r="1.15"/><circle cx="176.9" cy="554.4" r="1.15"/><circle cx="92.3" cy="546.8" r="1.15"/><circle cx="352.7" cy="578.5" r="1.15"/><circle cx="358.8" cy="570.0" r="1.15"/><circle cx="355.3" cy="578.5" r="1.15"/><circle cx="148.2" cy="516.8" r="1.15"/><circle cx="536.3" cy="558.6" r="1.15"/><circle cx="231.0" cy="562.2" r="1.15"/><circle cx="356.9" cy="581.6" r="1.15"/><circle cx="522.0" cy="556.5" r="1.15"/><circle cx="270.0" cy="568.0" r="1.15"/><circle cx="107.2" cy="542.0" r="1.15"/><circle cx="147.9" cy="515.5" r="1.15"/><circle cx="616.8" cy="541.8" r="1.15"/><circle cx="159.1" cy="552.9" r="1.15"/><circle cx="186.9" cy="553.9" r="1.15"/><circle cx="647.6" cy="575.9" r="1.15"/><circle cx="633.3" cy="585.6" r="1.15"/><circle cx="643.2" cy="574.0" r="1.15"/><circle cx="62.5" cy="485.7" r="1.15"/><circle cx="672.2" cy="500.4" r="1.15"/><circle cx="478.5" cy="565.6" r="1.15"/><circle cx="454.0" cy="566.5" r="1.15"/><circle cx="259.7" cy="564.5" r="1.15"/><circle cx="77.7" cy="551.6" r="1.15"/><circle cx="409.3" cy="543.2" r="1.15"/><circle cx="244.8" cy="563.6" r="1.15"/><circle cx="475.6" cy="563.2" r="1.15"/><circle cx="191.4" cy="553.5" r="1.15"/><circle cx="316.7" cy="569.1" r="1.15"/><circle cx="123.3" cy="542.7" r="1.15"/><circle cx="328.6" cy="567.7" r="1.15"/><circle cx="272.3" cy="568.0" r="1.15"/><circle cx="492.2" cy="550.1" r="1.15"/><circle cx="327.4" cy="565.6" r="1.15"/><circle cx="587.7" cy="535.9" r="1.15"/><circle cx="423.7" cy="520.1" r="1.15"/><circle cx="579.0" cy="542.6" r="1.15"/><circle cx="519.9" cy="554.9" r="1.15"/><circle cx="521.8" cy="554.6" r="1.15"/><circle cx="574.2" cy="539.7" r="1.15"/><circle cx="494.9" cy="549.6" r="1.15"/><circle cx="507.1" cy="559.0" r="1.15"/><circle cx="393.9" cy="528.7" r="1.15"/><circle cx="315.1" cy="569.5" r="1.15"/><circle cx="227.1" cy="559.8" r="1.15"/><circle cx="76.8" cy="549.0" r="1.15"/><circle cx="232.2" cy="561.4" r="1.15"/><circle cx="677.7" cy="500.5" r="1.15"/><circle cx="269.8" cy="566.0" r="1.15"/><circle cx="247.0" cy="564.2" r="1.15"/><circle cx="245.6" cy="564.7" r="1.15"/><circle cx="494.1" cy="549.8" r="1.15"/><circle cx="602.3" cy="545.8" r="1.15"/><circle cx="282.4" cy="540.6" r="1.15"/><circle cx="162.6" cy="554.6" r="1.15"/><circle cx="147.2" cy="515.2" r="1.15"/><circle cx="385.0" cy="541.0" r="1.15"/><circle cx="437.0" cy="567.4" r="1.15"/><circle cx="511.9" cy="558.7" r="1.15"/><circle cx="422.2" cy="519.4" r="1.15"/><circle cx="519.9" cy="557.1" r="1.15"/><circle cx="366.3" cy="545.5" r="1.15"/><circle cx="551.3" cy="546.2" r="1.15"/><circle cx="536.3" cy="558.9" r="1.15"/><circle cx="465.3" cy="550.7" r="1.15"/><circle cx="550.3" cy="547.2" r="1.15"/><circle cx="286.7" cy="541.3" r="1.15"/><circle cx="343.3" cy="566.8" r="1.15"/><circle cx="478.1" cy="566.4" r="1.15"/><circle cx="217.8" cy="558.8" r="1.15"/><circle cx="383.8" cy="537.7" r="1.15"/><circle cx="299.5" cy="538.4" r="1.15"/><circle cx="135.4" cy="543.4" r="1.15"/><circle cx="399.0" cy="527.9" r="1.15"/><circle cx="93.9" cy="552.6" r="1.15"/><circle cx="372.5" cy="545.4" r="1.15"/><circle cx="575.7" cy="539.7" r="1.15"/><circle cx="284.9" cy="541.5" r="1.15"/><circle cx="536.1" cy="556.1" r="1.15"/><circle cx="508.6" cy="556.4" r="1.15"/><circle cx="286.6" cy="542.2" r="1.15"/><circle cx="232.3" cy="560.5" r="1.15"/><circle cx="231.1" cy="561.5" r="1.15"/><circle cx="92.4" cy="546.8" r="1.15"/><circle cx="217.1" cy="557.6" r="1.15"/><circle cx="493.0" cy="549.3" r="1.15"/><circle cx="672.3" cy="500.3" r="1.15"/><circle cx="312.6" cy="569.2" r="1.15"/><circle cx="549.3" cy="545.8" r="1.15"/><circle cx="353.2" cy="581.5" r="1.15"/><circle cx="395.1" cy="531.3" r="1.15"/><circle cx="545.5" cy="546.8" r="1.15"/><circle cx="76.3" cy="551.1" r="1.15"/><circle cx="79.5" cy="552.6" r="1.15"/><circle cx="329.5" cy="565.3" r="1.15"/><circle cx="199.6" cy="559.4" r="1.15"/><circle cx="162.2" cy="555.0" r="1.15"/><circle cx="414.1" cy="542.3" r="1.15"/><circle cx="158.9" cy="555.3" r="1.15"/><circle cx="383.2" cy="537.1" r="1.15"/><circle cx="531.0" cy="558.3" r="1.15"/><circle cx="189.7" cy="554.6" r="1.15"/><circle cx="300.5" cy="537.0" r="1.15"/><circle cx="668.3" cy="500.7" r="1.15"/><circle cx="107.3" cy="542.3" r="1.15"/><circle cx="189.3" cy="551.4" r="1.15"/><circle cx="421.8" cy="523.1" r="1.15"/><circle cx="135.9" cy="540.9" r="1.15"/><circle cx="564.9" cy="540.4" r="1.15"/><circle cx="116.3" cy="544.2" r="1.15"/><circle cx="613.1" cy="542.6" r="1.15"/><circle cx="107.0" cy="541.6" r="1.15"/><circle cx="674.3" cy="501.3" r="1.15"/><circle cx="437.4" cy="566.3" r="1.15"/><circle cx="603.7" cy="546.3" r="1.15"/><circle cx="577.3" cy="540.7" r="1.15"/><circle cx="605.1" cy="544.5" r="1.15"/><circle cx="147.9" cy="517.2" r="1.15"/><circle cx="550.7" cy="545.7" r="1.15"/><circle cx="617.6" cy="541.2" r="1.15"/><circle cx="256.1" cy="562.7" r="1.15"/><circle cx="233.7" cy="562.9" r="1.15"/><circle cx="578.2" cy="539.4" r="1.15"/><circle cx="616.3" cy="541.6" r="1.15"/><circle cx="551.7" cy="545.8" r="1.15"/><circle cx="549.1" cy="549.2" r="1.15"/><circle cx="256.8" cy="564.6" r="1.15"/><circle cx="410.3" cy="541.8" r="1.15"/><circle cx="524.9" cy="556.4" r="1.15"/><circle cx="76.8" cy="557.5" r="1.15"/><circle cx="587.9" cy="536.2" r="1.15"/><circle cx="326.2" cy="564.8" r="1.15"/><circle cx="66.4" cy="482.7" r="1.15"/><circle cx="356.7" cy="581.3" r="1.15"/><circle cx="67.2" cy="484.6" r="1.15"/><circle cx="316.8" cy="569.2" r="1.15"/><circle cx="426.2" cy="519.5" r="1.15"/><circle cx="220.3" cy="557.3" r="1.15"/><circle cx="191.8" cy="554.0" r="1.15"/><circle cx="507.1" cy="557.9" r="1.15"/><circle cx="64.0" cy="483.8" r="1.15"/><circle cx="384.6" cy="540.5" r="1.15"/><circle cx="239.5" cy="563.9" r="1.15"/><circle cx="563.8" cy="537.3" r="1.15"/><circle cx="216.9" cy="557.4" r="1.15"/><circle cx="128.8" cy="543.5" r="1.15"/><circle cx="77.6" cy="551.0" r="1.15"/><circle cx="314.2" cy="569.8" r="1.15"/><circle cx="227.5" cy="561.1" r="1.15"/><circle cx="476.1" cy="563.7" r="1.15"/><circle cx="379.5" cy="538.2" r="1.15"/><circle cx="673.1" cy="500.3" r="1.15"/><circle cx="368.3" cy="546.1" r="1.15"/><circle cx="119.5" cy="542.6" r="1.15"/><circle cx="343.8" cy="565.5" r="1.15"/><circle cx="175.1" cy="553.1" r="1.15"/><circle cx="242.9" cy="563.7" r="1.15"/><circle cx="482.9" cy="562.6" r="1.15"/><circle cx="659.3" cy="581.1" r="1.15"/><circle cx="577.5" cy="538.3" r="1.15"/><circle cx="534.6" cy="557.0" r="1.15"/><circle cx="91.2" cy="551.4" r="1.15"/><circle cx="507.7" cy="557.9" r="1.15"/><circle cx="245.3" cy="563.0" r="1.15"/><circle cx="439.2" cy="567.2" r="1.15"/><circle cx="230.4" cy="562.5" r="1.15"/><circle cx="118.6" cy="540.5" r="1.15"/><circle cx="509.7" cy="557.5" r="1.15"/><circle cx="522.7" cy="556.0" r="1.15"/><circle cx="79.9" cy="554.1" r="1.15"/><circle cx="271.1" cy="569.5" r="1.15"/><circle cx="420.0" cy="522.2" r="1.15"/><circle cx="148.4" cy="519.4" r="1.15"/><circle cx="205.5" cy="558.5" r="1.15"/><circle cx="129.8" cy="546.6" r="1.15"/><circle cx="607.0" cy="548.8" r="1.15"/><circle cx="391.6" cy="527.9" r="1.15"/><circle cx="379.7" cy="540.3" r="1.15"/><circle cx="668.6" cy="500.2" r="1.15"/><circle cx="342.2" cy="563.3" r="1.15"/><circle cx="108.3" cy="541.0" r="1.15"/><circle cx="229.5" cy="561.6" r="1.15"/><circle cx="563.3" cy="539.6" r="1.15"/><circle cx="586.7" cy="535.5" r="1.15"/><circle cx="603.0" cy="545.8" r="1.15"/><circle cx="507.6" cy="558.0" r="1.15"/><circle cx="398.1" cy="527.3" r="1.15"/><circle cx="506.5" cy="557.8" r="1.15"/><circle cx="270.8" cy="567.4" r="1.15"/><circle cx="674.3" cy="499.5" r="1.15"/><circle cx="588.1" cy="536.0" r="1.15"/><circle cx="298.6" cy="537.9" r="1.15"/><circle cx="587.8" cy="535.1" r="1.15"/><circle cx="186.7" cy="552.4" r="1.15"/><circle cx="301.8" cy="537.7" r="1.15"/><circle cx="422.7" cy="520.7" r="1.15"/><circle cx="149.0" cy="517.2" r="1.15"/><circle cx="269.4" cy="568.4" r="1.15"/><circle cx="309.3" cy="568.7" r="1.15"/><circle cx="591.4" cy="534.7" r="1.15"/><circle cx="296.5" cy="538.6" r="1.15"/><circle cx="655.1" cy="592.4" r="1.15"/><circle cx="259.6" cy="566.4" r="1.15"/><circle cx="230.1" cy="562.4" r="1.15"/><circle cx="64.7" cy="483.2" r="1.15"/><circle cx="92.2" cy="549.6" r="1.15"/><circle cx="490.7" cy="551.3" r="1.15"/><circle cx="315.6" cy="567.8" r="1.15"/><circle cx="146.4" cy="516.9" r="1.15"/><circle cx="439.9" cy="567.5" r="1.15"/><circle cx="285.0" cy="541.4" r="1.15"/><circle cx="367.8" cy="544.9" r="1.15"/><circle cx="270.6" cy="569.8" r="1.15"/><circle cx="559.3" cy="542.0" r="1.15"/><circle cx="283.8" cy="542.0" r="1.15"/><circle cx="89.5" cy="545.2" r="1.15"/><circle cx="379.9" cy="538.5" r="1.15"/><circle cx="428.2" cy="520.3" r="1.15"/><circle cx="641.3" cy="574.2" r="1.15"/><circle cx="371.4" cy="548.1" r="1.15"/><circle cx="190.0" cy="553.9" r="1.15"/><circle cx="478.8" cy="566.4" r="1.15"/><circle cx="383.3" cy="541.5" r="1.15"/><circle cx="618.3" cy="540.8" r="1.15"/><circle cx="522.1" cy="557.9" r="1.15"/><circle cx="269.3" cy="569.8" r="1.15"/><circle cx="507.4" cy="558.4" r="1.15"/><circle cx="600.3" cy="545.4" r="1.15"/><circle cx="190.7" cy="553.7" r="1.15"/><circle cx="367.3" cy="544.0" r="1.15"/><circle cx="411.5" cy="541.9" r="1.15"/><circle cx="492.3" cy="552.3" r="1.15"/><circle cx="467.9" cy="550.9" r="1.15"/><circle cx="304.4" cy="538.0" r="1.15"/><circle cx="242.7" cy="564.1" r="1.15"/><circle cx="439.6" cy="568.3" r="1.15"/><circle cx="146.7" cy="515.8" r="1.15"/><circle cx="116.9" cy="545.0" r="1.15"/><circle cx="328.0" cy="566.0" r="1.15"/><circle cx="171.2" cy="553.4" r="1.15"/><circle cx="207.2" cy="558.5" r="1.15"/><circle cx="439.0" cy="566.3" r="1.15"/><circle cx="412.0" cy="541.6" r="1.15"/><circle cx="536.3" cy="557.6" r="1.15"/><circle cx="647.2" cy="567.4" r="1.15"/><circle cx="591.3" cy="532.7" r="1.15"/><circle cx="391.6" cy="530.8" r="1.15"/><circle cx="365.7" cy="545.4" r="1.15"/><circle cx="658.7" cy="574.2" r="1.15"/><circle cx="352.6" cy="574.2" r="1.15"/><circle cx="479.7" cy="565.2" r="1.15"/><circle cx="494.0" cy="552.1" r="1.15"/><circle cx="506.2" cy="558.0" r="1.15"/><circle cx="395.4" cy="527.6" r="1.15"/><circle cx="426.6" cy="521.6" r="1.15"/><circle cx="301.2" cy="536.9" r="1.15"/><circle cx="205.1" cy="559.9" r="1.15"/><circle cx="270.6" cy="569.4" r="1.15"/><circle cx="90.0" cy="547.9" r="1.15"/><circle cx="122.6" cy="540.6" r="1.15"/><circle cx="59.7" cy="485.3" r="1.15"/><circle cx="317.0" cy="570.6" r="1.15"/><circle cx="509.3" cy="557.4" r="1.15"/><circle cx="519.8" cy="555.5" r="1.15"/><circle cx="95.3" cy="552.3" r="1.15"/><circle cx="464.7" cy="551.7" r="1.15"/><circle cx="406.5" cy="544.0" r="1.15"/><circle cx="227.5" cy="561.0" r="1.15"/><circle cx="672.2" cy="500.2" r="1.15"/><circle cx="302.5" cy="538.1" r="1.15"/><circle cx="230.4" cy="561.1" r="1.15"/><circle cx="281.0" cy="541.6" r="1.15"/><circle cx="588.8" cy="533.7" r="1.15"/><circle cx="481.2" cy="564.5" r="1.15"/><circle cx="504.1" cy="556.5" r="1.15"/><circle cx="629.0" cy="574.5" r="1.15"/><circle cx="254.9" cy="567.5" r="1.15"/><circle cx="255.3" cy="566.6" r="1.15"/><circle cx="468.8" cy="549.3" r="1.15"/><circle cx="301.8" cy="538.1" r="1.15"/><circle cx="672.5" cy="500.4" r="1.15"/><circle cx="631.4" cy="574.4" r="1.15"/><circle cx="427.8" cy="520.7" r="1.15"/><circle cx="672.9" cy="501.8" r="1.15"/><circle cx="310.8" cy="570.3" r="1.15"/><circle cx="563.0" cy="540.4" r="1.15"/><circle cx="616.4" cy="541.2" r="1.15"/><circle cx="143.3" cy="517.9" r="1.15"/><circle cx="230.8" cy="559.4" r="1.15"/><circle cx="200.2" cy="558.6" r="1.15"/><circle cx="339.1" cy="563.5" r="1.15"/><circle cx="435.8" cy="567.4" r="1.15"/><circle cx="606.3" cy="545.6" r="1.15"/><circle cx="176.5" cy="551.9" r="1.15"/><circle cx="396.9" cy="527.9" r="1.15"/><circle cx="103.2" cy="540.5" r="1.15"/><circle cx="537.5" cy="556.0" r="1.15"/><circle cx="535.5" cy="559.1" r="1.15"/><circle cx="508.1" cy="558.1" r="1.15"/><circle cx="227.9" cy="560.9" r="1.15"/><circle cx="78.0" cy="554.1" r="1.15"/><circle cx="243.8" cy="564.5" r="1.15"/><circle cx="398.9" cy="527.0" r="1.15"/><circle cx="80.3" cy="552.1" r="1.15"/><circle cx="203.2" cy="560.5" r="1.15"/><circle cx="202.8" cy="558.9" r="1.15"/><circle cx="419.3" cy="519.1" r="1.15"/><circle cx="95.5" cy="550.3" r="1.15"/><circle cx="78.2" cy="548.2" r="1.15"/><circle cx="255.6" cy="561.4" r="1.15"/><circle cx="368.8" cy="545.1" r="1.15"/><circle cx="94.0" cy="543.9" r="1.15"/><circle cx="629.4" cy="581.4" r="1.15"/><circle cx="591.1" cy="535.4" r="1.15"/><circle cx="302.0" cy="540.0" r="1.15"/><circle cx="146.1" cy="519.0" r="1.15"/><circle cx="507.7" cy="557.6" r="1.15"/><circle cx="243.2" cy="562.3" r="1.15"/><circle cx="423.9" cy="519.7" r="1.15"/><circle cx="649.0" cy="574.5" r="1.15"/><circle cx="581.0" cy="539.7" r="1.15"/><circle cx="314.1" cy="569.3" r="1.15"/><circle cx="440.0" cy="567.5" r="1.15"/><circle cx="424.9" cy="518.9" r="1.15"/><circle cx="539.5" cy="559.4" r="1.15"/><circle cx="448.4" cy="566.5" r="1.15"/><circle cx="94.3" cy="550.0" r="1.15"/><circle cx="104.8" cy="540.2" r="1.15"/><circle cx="105.2" cy="540.5" r="1.15"/><circle cx="464.6" cy="550.7" r="1.15"/><circle cx="632.7" cy="592.7" r="1.15"/><circle cx="328.3" cy="565.5" r="1.15"/><circle cx="299.1" cy="537.2" r="1.15"/><circle cx="647.1" cy="576.0" r="1.15"/><circle cx="450.6" cy="565.0" r="1.15"/><circle cx="672.8" cy="503.0" r="1.15"/><circle cx="448.2" cy="566.2" r="1.15"/><circle cx="298.9" cy="539.6" r="1.15"/><circle cx="539.0" cy="557.5" r="1.15"/><circle cx="533.0" cy="559.5" r="1.15"/><circle cx="394.1" cy="528.0" r="1.15"/><circle cx="122.8" cy="539.5" r="1.15"/><circle cx="451.4" cy="565.6" r="1.15"/><circle cx="620.6" cy="540.9" r="1.15"/><circle cx="94.8" cy="547.5" r="1.15"/><circle cx="437.5" cy="568.5" r="1.15"/><circle cx="546.6" cy="547.8" r="1.15"/><circle cx="312.7" cy="570.6" r="1.15"/><circle cx="175.3" cy="550.6" r="1.15"/><circle cx="398.7" cy="527.2" r="1.15"/><circle cx="242.2" cy="563.4" r="1.15"/><circle cx="435.4" cy="567.6" r="1.15"/><circle cx="646.8" cy="571.4" r="1.15"/><circle cx="90.3" cy="548.2" r="1.15"/><circle cx="421.1" cy="520.4" r="1.15"/><circle cx="173.7" cy="554.3" r="1.15"/><circle cx="243.7" cy="564.0" r="1.15"/><circle cx="364.7" cy="546.8" r="1.15"/><circle cx="79.9" cy="550.4" r="1.15"/><circle cx="561.1" cy="542.5" r="1.15"/><circle cx="635.7" cy="578.4" r="1.15"/><circle cx="160.0" cy="552.9" r="1.15"/><circle cx="162.4" cy="555.2" r="1.15"/><circle cx="78.3" cy="551.8" r="1.15"/><circle cx="358.0" cy="571.1" r="1.15"/><circle cx="394.0" cy="528.8" r="1.15"/><circle cx="494.7" cy="550.9" r="1.15"/><circle cx="358.1" cy="569.0" r="1.15"/><circle cx="81.5" cy="554.2" r="1.15"/><circle cx="247.2" cy="563.5" r="1.15"/><circle cx="452.8" cy="567.3" r="1.15"/><circle cx="350.8" cy="581.3" r="1.15"/><circle cx="371.1" cy="546.0" r="1.15"/><circle cx="286.2" cy="541.8" r="1.15"/><circle cx="589.7" cy="535.4" r="1.15"/><circle cx="548.7" cy="549.0" r="1.15"/><circle cx="187.9" cy="553.1" r="1.15"/><circle cx="412.9" cy="546.6" r="1.15"/><circle cx="162.1" cy="557.0" r="1.15"/><circle cx="244.3" cy="563.2" r="1.15"/><circle cx="311.1" cy="570.1" r="1.15"/><circle cx="244.1" cy="564.4" r="1.15"/><circle cx="591.9" cy="534.9" r="1.15"/><circle cx="535.7" cy="557.2" r="1.15"/><circle cx="203.2" cy="559.9" r="1.15"/><circle cx="259.3" cy="563.2" r="1.15"/><circle cx="366.4" cy="545.8" r="1.15"/><circle cx="392.1" cy="528.9" r="1.15"/><circle cx="505.0" cy="559.3" r="1.15"/><circle cx="102.1" cy="542.2" r="1.15"/><circle cx="437.7" cy="568.5" r="1.15"/><circle cx="673.4" cy="497.8" r="1.15"/><circle cx="491.6" cy="549.7" r="1.15"/><circle cx="607.5" cy="545.9" r="1.15"/><circle cx="60.9" cy="483.8" r="1.15"/><circle cx="576.2" cy="540.2" r="1.15"/><circle cx="532.5" cy="558.9" r="1.15"/><circle cx="301.6" cy="539.0" r="1.15"/><circle cx="299.8" cy="535.9" r="1.15"/><circle cx="202.7" cy="558.0" r="1.15"/><circle cx="536.8" cy="557.6" r="1.15"/><circle cx="503.8" cy="558.7" r="1.15"/><circle cx="288.1" cy="542.3" r="1.15"/><circle cx="510.2" cy="560.4" r="1.15"/><circle cx="149.8" cy="514.2" r="1.15"/><circle cx="147.8" cy="517.5" r="1.15"/><circle cx="466.6" cy="550.7" r="1.15"/><circle cx="189.1" cy="552.0" r="1.15"/><circle cx="102.7" cy="542.2" r="1.15"/><circle cx="579.4" cy="538.5" r="1.15"/><circle cx="644.0" cy="592.9" r="1.15"/><circle cx="463.3" cy="551.1" r="1.15"/><circle cx="271.6" cy="566.6" r="1.15"/><circle cx="63.6" cy="484.1" r="1.15"/><circle cx="356.5" cy="571.6" r="1.15"/><circle cx="383.2" cy="540.2" r="1.15"/><circle cx="504.5" cy="560.9" r="1.15"/><circle cx="587.9" cy="535.6" r="1.15"/><circle cx="121.5" cy="532.4" r="1.15"/><circle cx="94.5" cy="552.0" r="1.15"/><circle cx="203.6" cy="558.0" r="1.15"/><circle cx="325.5" cy="565.2" r="1.15"/><circle cx="193.7" cy="552.7" r="1.15"/><circle cx="671.7" cy="501.4" r="1.15"/><circle cx="161.7" cy="555.9" r="1.15"/><circle cx="368.3" cy="546.5" r="1.15"/><circle cx="534.7" cy="560.5" r="1.15"/><circle cx="366.0" cy="545.5" r="1.15"/><circle cx="176.2" cy="554.2" r="1.15"/><circle cx="329.5" cy="567.2" r="1.15"/><circle cx="573.4" cy="540.0" r="1.15"/><circle cx="322.5" cy="564.0" r="1.15"/><circle cx="64.5" cy="482.9" r="1.15"/><circle cx="561.8" cy="541.9" r="1.15"/><circle cx="508.4" cy="558.6" r="1.15"/><circle cx="80.9" cy="552.2" r="1.15"/><circle cx="549.8" cy="548.1" r="1.15"/><circle cx="132.4" cy="542.6" r="1.15"/><circle cx="410.9" cy="543.7" r="1.15"/><circle cx="216.9" cy="558.0" r="1.15"/><circle cx="188.0" cy="553.1" r="1.15"/><circle cx="328.4" cy="566.5" r="1.15"/><circle cx="531.6" cy="555.8" r="1.15"/><circle cx="286.7" cy="541.1" r="1.15"/><circle cx="270.0" cy="568.4" r="1.15"/><circle cx="204.3" cy="558.8" r="1.15"/><circle cx="244.1" cy="561.1" r="1.15"/><circle cx="144.2" cy="517.8" r="1.15"/><circle cx="150.4" cy="516.6" r="1.15"/><circle cx="133.5" cy="546.5" r="1.15"/><circle cx="657.5" cy="578.2" r="1.15"/><circle cx="357.0" cy="592.8" r="1.15"/><circle cx="563.1" cy="539.0" r="1.15"/><circle cx="590.2" cy="535.0" r="1.15"/><circle cx="435.5" cy="566.7" r="1.15"/><circle cx="118.0" cy="546.3" r="1.15"/><circle cx="673.0" cy="503.1" r="1.15"/><circle cx="671.1" cy="502.5" r="1.15"/><circle cx="397.3" cy="530.1" r="1.15"/><circle cx="449.8" cy="566.1" r="1.15"/><circle cx="576.0" cy="538.8" r="1.15"/><circle cx="449.7" cy="566.2" r="1.15"/><circle cx="539.3" cy="559.0" r="1.15"/><circle cx="77.7" cy="551.9" r="1.15"/><circle cx="589.8" cy="535.4" r="1.15"/><circle cx="643.1" cy="572.6" r="1.15"/><circle cx="285.4" cy="539.7" r="1.15"/><circle cx="134.9" cy="544.1" r="1.15"/><circle cx="330.2" cy="565.6" r="1.15"/><circle cx="606.2" cy="545.7" r="1.15"/><circle cx="91.2" cy="550.1" r="1.15"/><circle cx="385.6" cy="539.0" r="1.15"/><circle cx="90.3" cy="548.5" r="1.15"/><circle cx="358.7" cy="592.6" r="1.15"/><circle cx="80.0" cy="559.9" r="1.15"/><circle cx="299.2" cy="538.1" r="1.15"/><circle cx="442.0" cy="567.3" r="1.15"/><circle cx="271.3" cy="569.2" r="1.15"/><circle cx="89.7" cy="543.2" r="1.15"/><circle cx="133.6" cy="544.4" r="1.15"/><circle cx="216.1" cy="557.5" r="1.15"/><circle cx="382.4" cy="541.7" r="1.15"/><circle cx="564.9" cy="539.6" r="1.15"/><circle cx="259.4" cy="562.3" r="1.15"/><circle cx="535.3" cy="560.4" r="1.15"/><circle cx="574.5" cy="540.5" r="1.15"/><circle cx="397.2" cy="528.3" r="1.15"/><circle cx="326.9" cy="566.6" r="1.15"/><circle cx="503.6" cy="556.2" r="1.15"/><circle cx="367.9" cy="544.6" r="1.15"/><circle cx="338.5" cy="564.8" r="1.15"/><circle cx="272.0" cy="569.6" r="1.15"/><circle cx="644.2" cy="578.2" r="1.15"/><circle cx="148.5" cy="514.7" r="1.15"/><circle cx="578.6" cy="540.7" r="1.15"/><circle cx="231.5" cy="562.3" r="1.15"/><circle cx="144.1" cy="516.8" r="1.15"/><circle cx="63.4" cy="483.1" r="1.15"/><circle cx="77.2" cy="551.4" r="1.15"/><circle cx="201.7" cy="557.6" r="1.15"/><circle cx="605.4" cy="545.8" r="1.15"/><circle cx="283.1" cy="540.6" r="1.15"/><circle cx="574.9" cy="539.9" r="1.15"/><circle cx="160.1" cy="556.1" r="1.15"/><circle cx="106.1" cy="541.8" r="1.15"/><circle cx="396.8" cy="531.6" r="1.15"/><circle cx="134.3" cy="544.6" r="1.15"/><circle cx="424.1" cy="520.8" r="1.15"/><circle cx="647.6" cy="578.3" r="1.15"/><circle cx="451.9" cy="561.8" r="1.15"/><circle cx="106.0" cy="540.9" r="1.15"/><circle cx="411.8" cy="544.2" r="1.15"/><circle cx="340.3" cy="562.1" r="1.15"/><circle cx="493.4" cy="551.3" r="1.15"/><circle cx="411.4" cy="543.2" r="1.15"/><circle cx="632.7" cy="585.3" r="1.15"/><circle cx="273.5" cy="568.7" r="1.15"/><circle cx="91.8" cy="544.7" r="1.15"/><circle cx="400.2" cy="528.4" r="1.15"/><circle cx="117.1" cy="541.2" r="1.15"/><circle cx="343.4" cy="565.3" r="1.15"/><circle cx="192.1" cy="551.6" r="1.15"/><circle cx="548.8" cy="548.1" r="1.15"/><circle cx="534.4" cy="559.3" r="1.15"/><circle cx="470.3" cy="552.3" r="1.15"/><circle cx="627.6" cy="585.5" r="1.15"/><circle cx="245.5" cy="563.6" r="1.15"/><circle cx="312.1" cy="569.7" r="1.15"/><circle cx="359.1" cy="578.4" r="1.15"/><circle cx="232.0" cy="560.2" r="1.15"/><circle cx="106.1" cy="541.4" r="1.15"/><circle cx="172.0" cy="553.5" r="1.15"/><circle cx="466.2" cy="549.8" r="1.15"/><circle cx="605.2" cy="547.9" r="1.15"/><circle cx="115.0" cy="544.1" r="1.15"/><circle cx="491.8" cy="551.4" r="1.15"/><circle cx="78.0" cy="547.8" r="1.15"/><circle cx="671.6" cy="500.6" r="1.15"/><circle cx="613.0" cy="541.7" r="1.15"/><circle cx="627.8" cy="585.4" r="1.15"/><circle cx="509.1" cy="558.9" r="1.15"/><circle cx="271.8" cy="570.3" r="1.15"/><circle cx="75.5" cy="550.5" r="1.15"/><circle cx="588.4" cy="537.0" r="1.15"/><circle cx="520.1" cy="557.2" r="1.15"/><circle cx="89.3" cy="548.2" r="1.15"/><circle cx="440.0" cy="567.2" r="1.15"/><circle cx="397.3" cy="527.9" r="1.15"/><circle cx="370.0" cy="545.4" r="1.15"/><circle cx="134.1" cy="543.3" r="1.15"/><circle cx="300.4" cy="539.5" r="1.15"/><circle cx="593.8" cy="535.5" r="1.15"/><circle cx="260.5" cy="564.9" r="1.15"/><circle cx="355.9" cy="574.4" r="1.15"/><circle cx="534.7" cy="558.0" r="1.15"/><circle cx="660.9" cy="585.6" r="1.15"/><circle cx="519.3" cy="556.0" r="1.15"/><circle cx="287.6" cy="542.5" r="1.15"/><circle cx="520.7" cy="556.3" r="1.15"/><circle cx="617.7" cy="540.0" r="1.15"/><circle cx="76.6" cy="549.4" r="1.15"/><circle cx="341.6" cy="564.1" r="1.15"/><circle cx="642.9" cy="576.4" r="1.15"/><circle cx="440.5" cy="564.4" r="1.15"/><circle cx="200.5" cy="559.2" r="1.15"/><circle cx="133.8" cy="544.5" r="1.15"/><circle cx="343.0" cy="562.3" r="1.15"/><circle cx="407.4" cy="542.4" r="1.15"/><circle cx="491.9" cy="549.5" r="1.15"/><circle cx="62.1" cy="485.3" r="1.15"/><circle cx="589.2" cy="533.9" r="1.15"/><circle cx="496.7" cy="550.4" r="1.15"/><circle cx="428.9" cy="521.0" r="1.15"/><circle cx="483.1" cy="563.7" r="1.15"/><circle cx="411.7" cy="543.4" r="1.15"/><circle cx="149.5" cy="515.2" r="1.15"/><circle cx="562.7" cy="540.3" r="1.15"/><circle cx="124.2" cy="543.6" r="1.15"/><circle cx="65.5" cy="483.4" r="1.15"/><circle cx="93.7" cy="548.2" r="1.15"/><circle cx="521.6" cy="557.1" r="1.15"/><circle cx="188.4" cy="553.8" r="1.15"/><circle cx="669.9" cy="502.9" r="1.15"/><circle cx="414.2" cy="541.4" r="1.15"/><circle cx="257.8" cy="562.6" r="1.15"/><circle cx="243.4" cy="564.4" r="1.15"/><circle cx="260.5" cy="565.0" r="1.15"/><circle cx="329.4" cy="566.9" r="1.15"/><circle cx="601.7" cy="545.9" r="1.15"/><circle cx="284.3" cy="542.6" r="1.15"/><circle cx="508.3" cy="558.4" r="1.15"/><circle cx="634.1" cy="581.4" r="1.15"/><circle cx="339.8" cy="565.1" r="1.15"/><circle cx="203.7" cy="558.2" r="1.15"/><circle cx="328.9" cy="566.6" r="1.15"/><circle cx="675.5" cy="503.2" r="1.15"/><circle cx="67.2" cy="483.9" r="1.15"/><circle cx="327.3" cy="565.9" r="1.15"/><circle cx="370.4" cy="546.7" r="1.15"/><circle cx="145.2" cy="517.5" r="1.15"/><circle cx="371.4" cy="547.0" r="1.15"/><circle cx="449.7" cy="565.0" r="1.15"/><circle cx="366.9" cy="545.9" r="1.15"/><circle cx="586.3" cy="534.8" r="1.15"/><circle cx="381.2" cy="540.3" r="1.15"/><circle cx="214.9" cy="556.4" r="1.15"/><circle cx="246.3" cy="564.5" r="1.15"/><circle cx="491.9" cy="550.8" r="1.15"/><circle cx="371.6" cy="545.5" r="1.15"/><circle cx="614.2" cy="539.9" r="1.15"/><circle cx="411.7" cy="542.5" r="1.15"/><circle cx="451.7" cy="563.9" r="1.15"/><circle cx="411.0" cy="542.2" r="1.15"/><circle cx="175.2" cy="552.2" r="1.15"/><circle cx="188.6" cy="554.1" r="1.15"/><circle cx="116.1" cy="544.4" r="1.15"/><circle cx="246.9" cy="562.7" r="1.15"/><circle cx="121.7" cy="542.0" r="1.15"/><circle cx="274.3" cy="567.1" r="1.15"/><circle cx="174.4" cy="551.5" r="1.15"/><circle cx="119.9" cy="544.7" r="1.15"/><circle cx="560.9" cy="537.6" r="1.15"/><circle cx="366.9" cy="547.3" r="1.15"/><circle cx="621.5" cy="541.2" r="1.15"/><circle cx="534.0" cy="558.4" r="1.15"/><circle cx="311.9" cy="569.8" r="1.15"/><circle cx="106.3" cy="541.4" r="1.15"/><circle cx="117.0" cy="550.3" r="1.15"/><circle cx="578.3" cy="539.3" r="1.15"/><circle cx="410.5" cy="544.5" r="1.15"/><circle cx="177.9" cy="552.2" r="1.15"/><circle cx="121.2" cy="541.9" r="1.15"/><circle cx="117.8" cy="545.9" r="1.15"/><circle cx="396.0" cy="528.7" r="1.15"/><circle cx="550.4" cy="549.1" r="1.15"/><circle cx="364.6" cy="546.2" r="1.15"/><circle cx="95.9" cy="545.8" r="1.15"/><circle cx="165.2" cy="554.1" r="1.15"/><circle cx="575.1" cy="541.4" r="1.15"/><circle cx="350.9" cy="576.1" r="1.15"/><circle cx="339.6" cy="565.5" r="1.15"/><circle cx="508.1" cy="557.2" r="1.15"/><circle cx="634.2" cy="581.4" r="1.15"/><circle cx="384.9" cy="538.5" r="1.15"/><circle cx="267.1" cy="568.4" r="1.15"/><circle cx="161.6" cy="554.2" r="1.15"/><circle cx="466.7" cy="551.3" r="1.15"/><circle cx="340.9" cy="567.1" r="1.15"/><circle cx="407.1" cy="543.3" r="1.15"/><circle cx="505.4" cy="559.6" r="1.15"/><circle cx="106.0" cy="540.2" r="1.15"/><circle cx="191.5" cy="552.4" r="1.15"/><circle cx="177.1" cy="553.8" r="1.15"/><circle cx="174.5" cy="552.8" r="1.15"/><circle cx="620.1" cy="541.0" r="1.15"/><circle cx="649.2" cy="574.1" r="1.15"/><circle cx="231.6" cy="560.1" r="1.15"/><circle cx="672.7" cy="501.1" r="1.15"/><circle cx="83.1" cy="558.2" r="1.15"/><circle cx="245.5" cy="562.9" r="1.15"/><circle cx="323.2" cy="566.0" r="1.15"/><circle cx="202.6" cy="560.6" r="1.15"/><circle cx="410.2" cy="542.0" r="1.15"/><circle cx="312.3" cy="569.2" r="1.15"/><circle cx="380.2" cy="541.2" r="1.15"/><circle cx="122.0" cy="544.9" r="1.15"/><circle cx="642.4" cy="571.5" r="1.15"/><circle cx="78.0" cy="554.0" r="1.15"/><circle cx="271.9" cy="568.1" r="1.15"/><circle cx="90.0" cy="545.1" r="1.15"/><circle cx="258.4" cy="563.7" r="1.15"/><circle cx="174.8" cy="555.7" r="1.15"/><circle cx="352.1" cy="574.2" r="1.15"/><circle cx="352.4" cy="570.3" r="1.15"/><circle cx="603.8" cy="547.5" r="1.15"/><circle cx="131.6" cy="544.0" r="1.15"/><circle cx="90.9" cy="547.3" r="1.15"/><circle cx="343.9" cy="563.3" r="1.15"/><circle cx="148.5" cy="515.5" r="1.15"/><circle cx="423.2" cy="520.4" r="1.15"/><circle cx="120.6" cy="544.6" r="1.15"/><circle cx="300.4" cy="537.9" r="1.15"/><circle cx="629.9" cy="581.3" r="1.15"/><circle cx="174.0" cy="552.8" r="1.15"/><circle cx="300.5" cy="538.8" r="1.15"/><circle cx="271.9" cy="569.3" r="1.15"/><circle cx="81.6" cy="550.7" r="1.15"/><circle cx="606.3" cy="545.2" r="1.15"/><circle cx="93.7" cy="552.3" r="1.15"/><circle cx="448.6" cy="566.4" r="1.15"/><circle cx="408.5" cy="543.5" r="1.15"/><circle cx="187.7" cy="552.6" r="1.15"/><circle cx="246.0" cy="565.3" r="1.15"/><circle cx="506.7" cy="555.8" r="1.15"/><circle cx="544.6" cy="546.0" r="1.15"/><circle cx="606.6" cy="546.7" r="1.15"/><circle cx="189.4" cy="553.5" r="1.15"/><circle cx="80.0" cy="553.1" r="1.15"/><circle cx="591.3" cy="535.6" r="1.15"/><circle cx="259.3" cy="564.6" r="1.15"/><circle cx="477.5" cy="563.1" r="1.15"/><circle cx="77.8" cy="552.8" r="1.15"/><circle cx="66.1" cy="484.9" r="1.15"/><circle cx="373.3" cy="547.9" r="1.15"/><circle cx="226.6" cy="559.6" r="1.15"/><circle cx="645.1" cy="576.1" r="1.15"/><circle cx="162.4" cy="554.3" r="1.15"/><circle cx="673.9" cy="500.4" r="1.15"/><circle cx="261.8" cy="562.8" r="1.15"/><circle cx="632.2" cy="592.5" r="1.15"/><circle cx="299.1" cy="538.6" r="1.15"/><circle cx="467.5" cy="552.4" r="1.15"/><circle cx="190.8" cy="554.0" r="1.15"/><circle cx="590.3" cy="534.0" r="1.15"/><circle cx="105.4" cy="540.8" r="1.15"/><circle cx="498.0" cy="550.0" r="1.15"/><circle cx="668.2" cy="502.7" r="1.15"/><circle cx="62.1" cy="484.8" r="1.15"/><circle cx="454.1" cy="563.6" r="1.15"/><circle cx="216.0" cy="557.1" r="1.15"/><circle cx="327.5" cy="567.0" r="1.15"/><circle cx="647.2" cy="581.6" r="1.15"/><circle cx="103.8" cy="543.1" r="1.15"/><circle cx="627.8" cy="585.3" r="1.15"/><circle cx="483.0" cy="563.0" r="1.15"/><circle cx="61.9" cy="483.6" r="1.15"/><circle cx="256.1" cy="562.5" r="1.15"/><circle cx="285.2" cy="542.8" r="1.15"/><circle cx="448.3" cy="563.8" r="1.15"/><circle cx="576.5" cy="540.8" r="1.15"/><circle cx="343.1" cy="566.2" r="1.15"/><circle cx="343.5" cy="564.1" r="1.15"/><circle cx="426.3" cy="520.6" r="1.15"/><circle cx="175.2" cy="552.5" r="1.15"/><circle cx="591.7" cy="533.7" r="1.15"/><circle cx="615.9" cy="542.5" r="1.15"/><circle cx="68.6" cy="486.1" r="1.15"/><circle cx="135.0" cy="542.1" r="1.15"/><circle cx="121.3" cy="542.8" r="1.15"/><circle cx="67.1" cy="484.5" r="1.15"/><circle cx="677.3" cy="499.7" r="1.15"/><circle cx="522.2" cy="556.7" r="1.15"/><circle cx="380.0" cy="538.7" r="1.15"/><circle cx="353.1" cy="581.1" r="1.15"/><circle cx="303.4" cy="537.9" r="1.15"/><circle cx="201.0" cy="560.9" r="1.15"/><circle cx="379.3" cy="540.4" r="1.15"/><circle cx="602.9" cy="545.1" r="1.15"/><circle cx="120.1" cy="541.3" r="1.15"/><circle cx="299.2" cy="539.0" r="1.15"/><circle cx="466.4" cy="551.2" r="1.15"/><circle cx="356.0" cy="567.0" r="1.15"/><circle cx="593.1" cy="533.2" r="1.15"/><circle cx="536.1" cy="559.0" r="1.15"/><circle cx="546.0" cy="546.3" r="1.15"/><circle cx="258.2" cy="563.7" r="1.15"/><circle cx="524.7" cy="555.1" r="1.15"/><circle cx="106.1" cy="543.4" r="1.15"/><circle cx="93.1" cy="548.3" r="1.15"/><circle cx="163.0" cy="555.6" r="1.15"/><circle cx="449.3" cy="564.7" r="1.15"/><circle cx="543.8" cy="549.3" r="1.15"/><circle cx="465.3" cy="553.6" r="1.15"/><circle cx="188.9" cy="554.7" r="1.15"/><circle cx="122.6" cy="544.3" r="1.15"/><circle cx="420.6" cy="518.6" r="1.15"/><circle cx="203.2" cy="558.3" r="1.15"/><circle cx="116.7" cy="540.1" r="1.15"/><circle cx="588.6" cy="535.2" r="1.15"/><circle cx="592.4" cy="534.1" r="1.15"/><circle cx="628.3" cy="585.3" r="1.15"/><circle cx="656.0" cy="576.1" r="1.15"/><circle cx="287.0" cy="541.2" r="1.15"/><circle cx="174.2" cy="553.8" r="1.15"/><circle cx="148.3" cy="516.2" r="1.15"/><circle cx="229.9" cy="559.5" r="1.15"/><circle cx="172.6" cy="555.7" r="1.15"/><circle cx="176.6" cy="553.4" r="1.15"/><circle cx="579.3" cy="541.5" r="1.15"/><circle cx="615.5" cy="539.9" r="1.15"/><circle cx="468.9" cy="551.7" r="1.15"/><circle cx="119.4" cy="544.9" r="1.15"/><circle cx="550.1" cy="545.8" r="1.15"/><circle cx="435.6" cy="565.7" r="1.15"/><circle cx="646.8" cy="576.0" r="1.15"/><circle cx="91.2" cy="545.0" r="1.15"/><circle cx="663.1" cy="576.0" r="1.15"/><circle cx="64.9" cy="485.5" r="1.15"/><circle cx="645.1" cy="592.4" r="1.15"/><circle cx="368.8" cy="545.8" r="1.15"/><circle cx="215.3" cy="558.4" r="1.15"/><circle cx="229.7" cy="562.8" r="1.15"/><circle cx="562.9" cy="543.4" r="1.15"/><circle cx="673.2" cy="502.0" r="1.15"/><circle cx="115.3" cy="547.6" r="1.15"/><circle cx="396.1" cy="527.7" r="1.15"/><circle cx="119.0" cy="538.0" r="1.15"/><circle cx="187.2" cy="553.5" r="1.15"/><circle cx="65.9" cy="482.3" r="1.15"/><circle cx="618.3" cy="541.7" r="1.15"/><circle cx="574.4" cy="541.6" r="1.15"/><circle cx="133.4" cy="544.3" r="1.15"/><circle cx="494.6" cy="549.3" r="1.15"/><circle cx="410.0" cy="544.0" r="1.15"/><circle cx="274.1" cy="568.3" r="1.15"/><circle cx="329.1" cy="566.6" r="1.15"/><circle cx="524.2" cy="557.0" r="1.15"/><circle cx="299.4" cy="538.5" r="1.15"/><circle cx="618.2" cy="540.3" r="1.15"/><circle cx="520.5" cy="555.7" r="1.15"/><circle cx="460.8" cy="554.7" r="1.15"/><circle cx="271.5" cy="569.3" r="1.15"/><circle cx="323.9" cy="565.6" r="1.15"/><circle cx="94.3" cy="547.8" r="1.15"/><circle cx="412.0" cy="543.3" r="1.15"/><circle cx="437.6" cy="569.3" r="1.15"/><circle cx="78.6" cy="553.9" r="1.15"/><circle cx="133.5" cy="543.3" r="1.15"/><circle cx="188.5" cy="551.2" r="1.15"/><circle cx="176.6" cy="553.9" r="1.15"/><circle cx="329.2" cy="565.8" r="1.15"/><circle cx="561.2" cy="542.9" r="1.15"/><circle cx="563.4" cy="538.6" r="1.15"/><circle cx="80.4" cy="553.6" r="1.15"/><circle cx="379.1" cy="539.2" r="1.15"/><circle cx="426.9" cy="517.4" r="1.15"/><circle cx="401.2" cy="528.2" r="1.15"/><circle cx="79.3" cy="550.1" r="1.15"/><circle cx="260.0" cy="563.9" r="1.15"/><circle cx="574.9" cy="537.4" r="1.15"/><circle cx="577.2" cy="537.2" r="1.15"/><circle cx="261.5" cy="563.9" r="1.15"/><circle cx="674.6" cy="500.1" r="1.15"/><circle cx="519.5" cy="556.2" r="1.15"/><circle cx="383.8" cy="541.5" r="1.15"/><circle cx="120.7" cy="545.7" r="1.15"/><circle cx="563.0" cy="540.9" r="1.15"/><circle cx="518.4" cy="555.0" r="1.15"/><circle cx="549.8" cy="549.6" r="1.15"/><circle cx="314.5" cy="571.4" r="1.15"/><circle cx="93.3" cy="542.1" r="1.15"/><circle cx="92.7" cy="543.0" r="1.15"/><circle cx="605.2" cy="548.0" r="1.15"/><circle cx="202.4" cy="559.9" r="1.15"/><circle cx="244.2" cy="565.5" r="1.15"/><circle cx="673.0" cy="497.8" r="1.15"/><circle cx="92.2" cy="542.4" r="1.15"/><circle cx="411.3" cy="541.4" r="1.15"/><circle cx="490.8" cy="550.8" r="1.15"/><circle cx="201.4" cy="557.7" r="1.15"/><circle cx="174.9" cy="554.3" r="1.15"/><circle cx="381.4" cy="536.4" r="1.15"/><circle cx="201.4" cy="561.1" r="1.15"/><circle cx="385.1" cy="539.8" r="1.15"/><circle cx="204.9" cy="557.5" r="1.15"/><circle cx="215.7" cy="557.1" r="1.15"/><circle cx="227.9" cy="561.4" r="1.15"/><circle cx="272.4" cy="569.0" r="1.15"/><circle cx="437.4" cy="565.6" r="1.15"/><circle cx="78.4" cy="554.8" r="1.15"/><circle cx="655.2" cy="581.6" r="1.15"/><circle cx="561.7" cy="540.1" r="1.15"/><circle cx="312.6" cy="568.8" r="1.15"/><circle cx="628.3" cy="581.5" r="1.15"/><circle cx="133.6" cy="542.7" r="1.15"/><circle cx="232.1" cy="560.0" r="1.15"/><circle cx="479.4" cy="564.1" r="1.15"/><circle cx="442.7" cy="568.5" r="1.15"/><circle cx="467.7" cy="549.8" r="1.15"/><circle cx="576.1" cy="541.3" r="1.15"/><circle cx="438.2" cy="569.5" r="1.15"/><circle cx="370.3" cy="545.6" r="1.15"/><circle cx="629.8" cy="581.2" r="1.15"/><circle cx="494.9" cy="551.6" r="1.15"/><circle cx="123.2" cy="551.4" r="1.15"/><circle cx="187.4" cy="555.2" r="1.15"/><circle cx="135.7" cy="542.8" r="1.15"/><circle cx="437.3" cy="568.9" r="1.15"/><circle cx="495.7" cy="549.5" r="1.15"/><circle cx="133.9" cy="545.0" r="1.15"/><circle cx="535.8" cy="559.2" r="1.15"/><circle cx="214.4" cy="557.2" r="1.15"/><circle cx="435.8" cy="567.3" r="1.15"/><circle cx="600.4" cy="547.4" r="1.15"/><circle cx="148.6" cy="516.4" r="1.15"/><circle cx="631.9" cy="581.5" r="1.15"/><circle cx="299.9" cy="536.9" r="1.15"/><circle cx="231.9" cy="562.6" r="1.15"/><circle cx="480.9" cy="565.6" r="1.15"/><circle cx="494.4" cy="552.3" r="1.15"/><circle cx="323.7" cy="565.3" r="1.15"/><circle cx="123.5" cy="537.0" r="1.15"/><circle cx="463.2" cy="552.4" r="1.15"/><circle cx="564.9" cy="539.5" r="1.15"/><circle cx="507.7" cy="557.7" r="1.15"/><circle cx="422.1" cy="520.7" r="1.15"/><circle cx="560.1" cy="540.9" r="1.15"/><circle cx="524.7" cy="556.7" r="1.15"/><circle cx="446.9" cy="566.2" r="1.15"/><circle cx="91.0" cy="547.9" r="1.15"/><circle cx="661.3" cy="585.7" r="1.15"/><circle cx="630.7" cy="578.4" r="1.15"/><circle cx="629.4" cy="575.9" r="1.15"/><circle cx="131.7" cy="544.2" r="1.15"/><circle cx="475.4" cy="566.6" r="1.15"/><circle cx="586.0" cy="534.1" r="1.15"/><circle cx="92.3" cy="546.8" r="1.15"/><circle cx="88.7" cy="547.2" r="1.15"/><circle cx="91.5" cy="551.6" r="1.15"/><circle cx="507.7" cy="557.0" r="1.15"/><circle cx="198.2" cy="561.8" r="1.15"/><circle cx="671.5" cy="501.4" r="1.15"/><circle cx="309.7" cy="569.9" r="1.15"/><circle cx="449.0" cy="563.6" r="1.15"/><circle cx="673.6" cy="500.2" r="1.15"/><circle cx="358.5" cy="570.2" r="1.15"/><circle cx="532.2" cy="559.3" r="1.15"/><circle cx="314.8" cy="571.4" r="1.15"/><circle cx="272.3" cy="567.4" r="1.15"/><circle cx="436.2" cy="567.3" r="1.15"/><circle cx="300.4" cy="539.4" r="1.15"/><circle cx="631.3" cy="578.6" r="1.15"/><circle cx="395.1" cy="528.1" r="1.15"/><circle cx="674.8" cy="500.2" r="1.15"/><circle cx="341.7" cy="561.4" r="1.15"/><circle cx="450.5" cy="565.9" r="1.15"/><circle cx="367.3" cy="544.8" r="1.15"/><circle cx="422.4" cy="519.7" r="1.15"/><circle cx="589.1" cy="534.6" r="1.15"/><circle cx="641.8" cy="571.4" r="1.15"/><circle cx="383.7" cy="539.2" r="1.15"/><circle cx="64.2" cy="483.9" r="1.15"/><circle cx="648.9" cy="578.5" r="1.15"/><circle cx="370.8" cy="546.8" r="1.15"/><circle cx="561.2" cy="541.1" r="1.15"/><circle cx="537.3" cy="556.2" r="1.15"/><circle cx="536.1" cy="558.8" r="1.15"/><circle cx="449.8" cy="564.1" r="1.15"/><circle cx="506.0" cy="559.5" r="1.15"/><circle cx="147.8" cy="517.0" r="1.15"/><circle cx="410.5" cy="544.0" r="1.15"/><circle cx="106.3" cy="540.8" r="1.15"/><circle cx="420.1" cy="521.8" r="1.15"/><circle cx="553.2" cy="547.2" r="1.15"/><circle cx="605.9" cy="545.3" r="1.15"/><circle cx="656.7" cy="578.7" r="1.15"/><circle cx="92.6" cy="543.1" r="1.15"/><circle cx="479.0" cy="565.4" r="1.15"/><circle cx="93.1" cy="550.1" r="1.15"/><circle cx="231.0" cy="559.8" r="1.15"/><circle cx="578.8" cy="541.1" r="1.15"/><circle cx="104.2" cy="541.2" r="1.15"/><circle cx="450.8" cy="566.7" r="1.15"/><circle cx="77.1" cy="551.4" r="1.15"/><circle cx="204.4" cy="560.6" r="1.15"/><circle cx="677.7" cy="503.8" r="1.15"/><circle cx="190.9" cy="553.2" r="1.15"/><circle cx="494.5" cy="550.8" r="1.15"/><circle cx="220.2" cy="558.3" r="1.15"/><circle cx="78.6" cy="550.7" r="1.15"/><circle cx="231.0" cy="561.1" r="1.15"/><circle cx="171.1" cy="553.1" r="1.15"/><circle cx="229.6" cy="562.3" r="1.15"/><circle cx="82.2" cy="553.2" r="1.15"/><circle cx="245.5" cy="563.0" r="1.15"/><circle cx="202.4" cy="558.8" r="1.15"/><circle cx="124.4" cy="545.5" r="1.15"/><circle cx="162.7" cy="554.0" r="1.15"/><circle cx="674.9" cy="500.0" r="1.15"/><circle cx="576.9" cy="540.9" r="1.15"/><circle cx="548.6" cy="546.9" r="1.15"/><circle cx="572.3" cy="539.5" r="1.15"/><circle cx="351.3" cy="592.8" r="1.15"/><circle cx="644.5" cy="567.3" r="1.15"/><circle cx="300.5" cy="539.7" r="1.15"/><circle cx="397.2" cy="527.5" r="1.15"/><circle cx="612.9" cy="543.1" r="1.15"/><circle cx="547.3" cy="546.4" r="1.15"/><circle cx="493.7" cy="550.5" r="1.15"/><circle cx="158.6" cy="553.7" r="1.15"/><circle cx="559.7" cy="539.0" r="1.15"/><circle cx="506.6" cy="559.5" r="1.15"/><circle cx="643.6" cy="578.6" r="1.15"/><circle cx="379.4" cy="538.9" r="1.15"/><circle cx="173.9" cy="552.9" r="1.15"/><circle cx="91.9" cy="546.4" r="1.15"/><circle cx="218.0" cy="556.5" r="1.15"/><circle cx="91.2" cy="545.6" r="1.15"/><circle cx="406.5" cy="542.1" r="1.15"/><circle cx="377.8" cy="540.1" r="1.15"/><circle cx="656.2" cy="573.9" r="1.15"/><circle cx="166.1" cy="554.4" r="1.15"/><circle cx="132.6" cy="544.7" r="1.15"/><circle cx="369.8" cy="544.7" r="1.15"/><circle cx="134.1" cy="544.7" r="1.15"/><circle cx="79.1" cy="552.4" r="1.15"/><circle cx="564.8" cy="541.3" r="1.15"/><circle cx="354.7" cy="572.8" r="1.15"/><circle cx="440.5" cy="567.6" r="1.15"/><circle cx="201.5" cy="559.6" r="1.15"/><circle cx="89.4" cy="543.1" r="1.15"/><circle cx="269.1" cy="567.5" r="1.15"/><circle cx="423.8" cy="518.4" r="1.15"/><circle cx="187.1" cy="552.7" r="1.15"/><circle cx="616.0" cy="539.6" r="1.15"/><circle cx="646.9" cy="569.9" r="1.15"/><circle cx="643.3" cy="574.3" r="1.15"/><circle cx="590.9" cy="534.2" r="1.15"/><circle cx="357.1" cy="576.2" r="1.15"/><circle cx="78.4" cy="553.3" r="1.15"/><circle cx="108.9" cy="539.9" r="1.15"/><circle cx="592.4" cy="535.0" r="1.15"/><circle cx="232.2" cy="561.1" r="1.15"/><circle cx="604.9" cy="545.7" r="1.15"/><circle cx="507.8" cy="556.3" r="1.15"/><circle cx="627.2" cy="592.4" r="1.15"/><circle cx="269.0" cy="567.0" r="1.15"/><circle cx="164.1" cy="557.6" r="1.15"/><circle cx="603.1" cy="546.4" r="1.15"/><circle cx="90.9" cy="547.0" r="1.15"/><circle cx="341.4" cy="561.0" r="1.15"/><circle cx="662.4" cy="585.6" r="1.15"/><circle cx="147.6" cy="513.8" r="1.15"/><circle cx="79.9" cy="553.8" r="1.15"/><circle cx="479.9" cy="564.7" r="1.15"/><circle cx="215.7" cy="557.6" r="1.15"/><circle cx="79.8" cy="554.2" r="1.15"/><circle cx="244.1" cy="564.2" r="1.15"/><circle cx="286.2" cy="541.6" r="1.15"/><circle cx="617.7" cy="540.8" r="1.15"/><circle cx="369.8" cy="546.1" r="1.15"/><circle cx="674.5" cy="499.8" r="1.15"/><circle cx="146.5" cy="516.3" r="1.15"/><circle cx="121.9" cy="541.9" r="1.15"/><circle cx="232.2" cy="563.5" r="1.15"/><circle cx="383.5" cy="540.1" r="1.15"/><circle cx="203.6" cy="557.9" r="1.15"/><circle cx="494.2" cy="551.3" r="1.15"/><circle cx="599.7" cy="547.3" r="1.15"/><circle cx="421.1" cy="519.3" r="1.15"/><circle cx="353.2" cy="569.1" r="1.15"/><circle cx="574.7" cy="539.3" r="1.15"/><circle cx="494.4" cy="553.6" r="1.15"/><circle cx="382.1" cy="539.7" r="1.15"/><circle cx="576.1" cy="539.5" r="1.15"/><circle cx="214.9" cy="554.7" r="1.15"/><circle cx="77.2" cy="549.9" r="1.15"/><circle cx="421.9" cy="522.3" r="1.15"/><circle cx="642.8" cy="581.2" r="1.15"/><circle cx="438.8" cy="565.0" r="1.15"/><circle cx="160.6" cy="553.8" r="1.15"/><circle cx="368.7" cy="546.8" r="1.15"/><circle cx="156.9" cy="555.2" r="1.15"/><circle cx="646.2" cy="592.8" r="1.15"/><circle cx="274.8" cy="567.4" r="1.15"/><circle cx="93.6" cy="548.9" r="1.15"/><circle cx="576.9" cy="538.9" r="1.15"/><circle cx="437.7" cy="567.1" r="1.15"/><circle cx="370.2" cy="547.1" r="1.15"/><circle cx="614.1" cy="544.0" r="1.15"/><circle cx="632.0" cy="578.5" r="1.15"/><circle cx="337.9" cy="565.2" r="1.15"/><circle cx="438.8" cy="568.3" r="1.15"/><circle cx="629.9" cy="578.3" r="1.15"/><circle cx="427.0" cy="520.2" r="1.15"/><circle cx="326.8" cy="565.6" r="1.15"/><circle cx="300.3" cy="538.6" r="1.15"/><circle cx="172.6" cy="554.4" r="1.15"/><circle cx="256.3" cy="564.6" r="1.15"/><circle cx="531.2" cy="558.6" r="1.15"/><circle cx="204.5" cy="558.8" r="1.15"/><circle cx="521.1" cy="554.2" r="1.15"/><circle cx="508.1" cy="559.1" r="1.15"/><circle cx="563.9" cy="540.1" r="1.15"/><circle cx="175.0" cy="551.2" r="1.15"/><circle cx="441.0" cy="568.1" r="1.15"/><circle cx="314.1" cy="570.2" r="1.15"/><circle cx="121.7" cy="540.8" r="1.15"/><circle cx="656.0" cy="581.5" r="1.15"/><circle cx="550.4" cy="548.1" r="1.15"/><circle cx="204.3" cy="559.1" r="1.15"/><circle cx="562.1" cy="539.2" r="1.15"/><circle cx="603.6" cy="548.2" r="1.15"/><circle cx="175.1" cy="552.5" r="1.15"/><circle cx="396.4" cy="530.6" r="1.15"/><circle cx="93.1" cy="548.0" r="1.15"/><circle cx="631.6" cy="592.9" r="1.15"/><circle cx="342.3" cy="565.5" r="1.15"/><circle cx="465.7" cy="552.3" r="1.15"/><circle cx="283.5" cy="541.9" r="1.15"/><circle cx="369.4" cy="546.0" r="1.15"/><circle cx="300.6" cy="537.7" r="1.15"/><circle cx="64.6" cy="484.0" r="1.15"/><circle cx="132.2" cy="542.8" r="1.15"/><circle cx="75.9" cy="559.4" r="1.15"/><circle cx="634.2" cy="592.7" r="1.15"/><circle cx="396.5" cy="529.7" r="1.15"/><circle cx="286.7" cy="541.2" r="1.15"/><circle cx="634.9" cy="578.4" r="1.15"/><circle cx="105.8" cy="540.6" r="1.15"/><circle cx="619.3" cy="540.4" r="1.15"/><circle cx="220.0" cy="556.4" r="1.15"/><circle cx="520.2" cy="557.4" r="1.15"/><circle cx="479.5" cy="565.2" r="1.15"/><circle cx="156.6" cy="554.4" r="1.15"/><circle cx="60.4" cy="483.5" r="1.15"/><circle cx="234.1" cy="560.4" r="1.15"/><circle cx="342.2" cy="565.9" r="1.15"/><circle cx="67.6" cy="482.5" r="1.15"/><circle cx="494.3" cy="550.2" r="1.15"/><circle cx="394.1" cy="529.3" r="1.15"/><circle cx="91.8" cy="541.5" r="1.15"/><circle cx="241.4" cy="561.7" r="1.15"/><circle cx="234.6" cy="560.8" r="1.15"/><circle cx="220.1" cy="559.2" r="1.15"/><circle cx="520.0" cy="556.6" r="1.15"/><circle cx="259.5" cy="566.4" r="1.15"/><circle cx="199.8" cy="557.9" r="1.15"/><circle cx="576.0" cy="541.9" r="1.15"/><circle cx="230.0" cy="561.0" r="1.15"/><circle cx="493.4" cy="551.0" r="1.15"/><circle cx="341.7" cy="563.7" r="1.15"/><circle cx="601.9" cy="546.3" r="1.15"/><circle cx="594.3" cy="535.8" r="1.15"/><circle cx="147.9" cy="517.1" r="1.15"/><circle cx="255.6" cy="561.3" r="1.15"/><circle cx="206.9" cy="559.0" r="1.15"/><circle cx="310.4" cy="570.1" r="1.15"/><circle cx="456.2" cy="565.8" r="1.15"/><circle cx="285.8" cy="542.8" r="1.15"/><circle cx="107.0" cy="544.2" r="1.15"/><circle cx="296.7" cy="539.4" r="1.15"/><circle cx="102.6" cy="540.5" r="1.15"/><circle cx="673.5" cy="501.3" r="1.15"/><circle cx="355.9" cy="581.2" r="1.15"/><circle cx="282.0" cy="540.9" r="1.15"/><circle cx="119.8" cy="544.4" r="1.15"/><circle cx="656.0" cy="592.7" r="1.15"/><circle cx="547.2" cy="546.7" r="1.15"/><circle cx="601.1" cy="547.2" r="1.15"/><circle cx="147.9" cy="516.2" r="1.15"/><circle cx="560.5" cy="541.0" r="1.15"/><circle cx="105.3" cy="541.9" r="1.15"/><circle cx="205.0" cy="558.2" r="1.15"/><circle cx="655.1" cy="578.4" r="1.15"/><circle cx="413.7" cy="543.3" r="1.15"/><circle cx="184.7" cy="552.6" r="1.15"/><circle cx="187.3" cy="553.9" r="1.15"/><circle cx="118.9" cy="533.2" r="1.15"/><circle cx="438.1" cy="565.5" r="1.15"/><circle cx="132.4" cy="544.4" r="1.15"/><circle cx="468.7" cy="552.0" r="1.15"/><circle cx="491.2" cy="550.5" r="1.15"/><circle cx="423.8" cy="520.4" r="1.15"/><circle cx="93.0" cy="543.2" r="1.15"/><circle cx="591.8" cy="535.7" r="1.15"/><circle cx="671.9" cy="498.5" r="1.15"/><circle cx="617.6" cy="540.7" r="1.15"/><circle cx="465.0" cy="551.9" r="1.15"/><circle cx="509.7" cy="558.2" r="1.15"/><circle cx="553.3" cy="546.5" r="1.15"/><circle cx="507.1" cy="557.8" r="1.15"/><circle cx="161.6" cy="556.2" r="1.15"/><circle cx="476.5" cy="564.7" r="1.15"/><circle cx="384.3" cy="539.3" r="1.15"/><circle cx="201.2" cy="559.6" r="1.15"/><circle cx="286.3" cy="543.0" r="1.15"/><circle cx="89.3" cy="552.0" r="1.15"/><circle cx="201.8" cy="560.9" r="1.15"/><circle cx="427.0" cy="519.2" r="1.15"/><circle cx="272.8" cy="567.8" r="1.15"/><circle cx="65.9" cy="483.4" r="1.15"/><circle cx="64.5" cy="484.1" r="1.15"/><circle cx="561.0" cy="540.1" r="1.15"/><circle cx="615.9" cy="542.9" r="1.15"/><circle cx="201.4" cy="560.8" r="1.15"/><circle cx="314.2" cy="570.1" r="1.15"/><circle cx="656.9" cy="578.4" r="1.15"/><circle cx="537.2" cy="560.0" r="1.15"/><circle cx="63.6" cy="483.2" r="1.15"/><circle cx="405.9" cy="542.6" r="1.15"/><circle cx="258.8" cy="563.5" r="1.15"/><circle cx="174.2" cy="552.6" r="1.15"/><circle cx="304.2" cy="537.7" r="1.15"/><circle cx="466.0" cy="552.1" r="1.15"/><circle cx="591.9" cy="533.3" r="1.15"/><circle cx="147.7" cy="519.1" r="1.15"/><circle cx="202.0" cy="559.6" r="1.15"/><circle cx="162.4" cy="557.6" r="1.15"/><circle cx="105.8" cy="540.6" r="1.15"/><circle cx="356.4" cy="581.4" r="1.15"/><circle cx="297.8" cy="540.6" r="1.15"/><circle cx="521.0" cy="556.4" r="1.15"/><circle cx="535.6" cy="559.9" r="1.15"/><circle cx="213.2" cy="558.2" r="1.15"/><circle cx="534.1" cy="558.9" r="1.15"/><circle cx="451.5" cy="563.6" r="1.15"/><circle cx="232.8" cy="558.6" r="1.15"/><circle cx="477.2" cy="564.9" r="1.15"/><circle cx="617.7" cy="541.4" r="1.15"/><circle cx="549.2" cy="545.0" r="1.15"/><circle cx="503.7" cy="559.1" r="1.15"/><circle cx="121.4" cy="541.1" r="1.15"/><circle cx="507.6" cy="557.6" r="1.15"/><circle cx="201.0" cy="562.2" r="1.15"/><circle cx="243.8" cy="564.6" r="1.15"/><circle cx="261.2" cy="565.2" r="1.15"/><circle cx="276.8" cy="567.7" r="1.15"/><circle cx="616.7" cy="539.1" r="1.15"/><circle cx="314.5" cy="570.4" r="1.15"/><circle cx="314.4" cy="572.0" r="1.15"/><circle cx="671.3" cy="499.3" r="1.15"/><circle cx="258.7" cy="564.7" r="1.15"/><circle cx="366.5" cy="542.4" r="1.15"/><circle cx="398.3" cy="527.4" r="1.15"/><circle cx="367.7" cy="545.2" r="1.15"/><circle cx="355.8" cy="581.1" r="1.15"/><circle cx="563.5" cy="541.2" r="1.15"/><circle cx="659.0" cy="581.2" r="1.15"/><circle cx="351.4" cy="574.4" r="1.15"/><circle cx="135.2" cy="544.1" r="1.15"/><circle cx="146.2" cy="516.3" r="1.15"/><circle cx="411.6" cy="544.0" r="1.15"/><circle cx="135.2" cy="541.6" r="1.15"/><circle cx="216.1" cy="556.4" r="1.15"/><circle cx="550.2" cy="547.4" r="1.15"/><circle cx="658.4" cy="581.4" r="1.15"/><circle cx="192.5" cy="550.8" r="1.15"/><circle cx="329.8" cy="568.7" r="1.15"/><circle cx="308.6" cy="568.4" r="1.15"/><circle cx="449.4" cy="566.1" r="1.15"/><circle cx="160.3" cy="556.4" r="1.15"/><circle cx="108.2" cy="538.5" r="1.15"/><circle cx="82.0" cy="555.3" r="1.15"/><circle cx="464.7" cy="551.3" r="1.15"/><circle cx="147.7" cy="514.9" r="1.15"/><circle cx="532.1" cy="557.4" r="1.15"/><circle cx="365.5" cy="544.6" r="1.15"/><circle cx="576.8" cy="539.5" r="1.15"/><circle cx="121.3" cy="542.2" r="1.15"/><circle cx="506.4" cy="556.6" r="1.15"/><circle cx="575.6" cy="541.5" r="1.15"/><circle cx="285.9" cy="540.9" r="1.15"/><circle cx="302.6" cy="539.6" r="1.15"/><circle cx="355.1" cy="576.4" r="1.15"/><circle cx="449.6" cy="565.8" r="1.15"/><circle cx="109.2" cy="541.7" r="1.15"/><circle cx="160.7" cy="554.4" r="1.15"/><circle cx="660.4" cy="576.0" r="1.15"/><circle cx="411.2" cy="542.7" r="1.15"/><circle cx="630.4" cy="578.3" r="1.15"/><circle cx="393.8" cy="528.4" r="1.15"/><circle cx="119.2" cy="546.6" r="1.15"/><circle cx="590.1" cy="534.3" r="1.15"/><circle cx="593.1" cy="535.0" r="1.15"/><circle cx="675.0" cy="499.6" r="1.15"/><circle cx="78.4" cy="551.2" r="1.15"/><circle cx="186.4" cy="553.3" r="1.15"/><circle cx="462.7" cy="549.7" r="1.15"/><circle cx="452.5" cy="564.3" r="1.15"/><circle cx="578.6" cy="540.7" r="1.15"/><circle cx="424.0" cy="518.9" r="1.15"/><circle cx="118.1" cy="542.0" r="1.15"/><circle cx="324.7" cy="565.5" r="1.15"/><circle cx="534.1" cy="556.5" r="1.15"/><circle cx="453.1" cy="564.9" r="1.15"/><circle cx="116.1" cy="540.5" r="1.15"/><circle cx="600.5" cy="545.6" r="1.15"/><circle cx="646.1" cy="572.9" r="1.15"/><circle cx="164.1" cy="555.1" r="1.15"/><circle cx="369.7" cy="546.2" r="1.15"/><circle cx="123.3" cy="541.9" r="1.15"/><circle cx="365.9" cy="545.8" r="1.15"/><circle cx="491.3" cy="550.9" r="1.15"/><circle cx="93.4" cy="550.1" r="1.15"/><circle cx="481.2" cy="565.9" r="1.15"/><circle cx="329.5" cy="566.6" r="1.15"/><circle cx="426.0" cy="521.4" r="1.15"/><circle cx="490.9" cy="549.1" r="1.15"/><circle cx="202.9" cy="559.0" r="1.15"/><circle cx="382.1" cy="539.2" r="1.15"/><circle cx="505.3" cy="559.2" r="1.15"/><circle cx="440.8" cy="567.6" r="1.15"/><circle cx="616.1" cy="540.4" r="1.15"/><circle cx="658.2" cy="585.2" r="1.15"/><circle cx="412.3" cy="542.3" r="1.15"/><circle cx="492.1" cy="550.6" r="1.15"/><circle cx="477.5" cy="565.0" r="1.15"/><circle cx="233.0" cy="560.9" r="1.15"/><circle cx="351.4" cy="576.4" r="1.15"/><circle cx="673.7" cy="501.0" r="1.15"/><circle cx="396.4" cy="526.3" r="1.15"/><circle cx="656.6" cy="578.5" r="1.15"/><circle cx="214.4" cy="556.0" r="1.15"/><circle cx="272.1" cy="570.3" r="1.15"/><circle cx="142.7" cy="517.7" r="1.15"/><circle cx="272.9" cy="567.6" r="1.15"/><circle cx="504.1" cy="557.4" r="1.15"/><circle cx="505.4" cy="558.6" r="1.15"/><circle cx="63.7" cy="483.8" r="1.15"/><circle cx="298.2" cy="538.2" r="1.15"/><circle cx="438.5" cy="565.8" r="1.15"/><circle cx="106.5" cy="539.6" r="1.15"/><circle cx="522.8" cy="556.6" r="1.15"/><circle cx="329.3" cy="566.4" r="1.15"/><circle cx="660.3" cy="592.5" r="1.15"/><circle cx="273.3" cy="566.5" r="1.15"/><circle cx="546.9" cy="547.0" r="1.15"/><circle cx="119.6" cy="543.4" r="1.15"/><circle cx="657.2" cy="576.3" r="1.15"/><circle cx="214.1" cy="557.0" r="1.15"/><circle cx="297.8" cy="540.4" r="1.15"/><circle cx="493.0" cy="552.9" r="1.15"/><circle cx="616.8" cy="540.8" r="1.15"/><circle cx="243.3" cy="564.7" r="1.15"/><circle cx="536.9" cy="559.3" r="1.15"/><circle cx="124.6" cy="542.2" r="1.15"/><circle cx="533.6" cy="557.9" r="1.15"/><circle cx="342.5" cy="565.1" r="1.15"/><circle cx="452.1" cy="566.3" r="1.15"/><circle cx="78.9" cy="552.9" r="1.15"/><circle cx="603.4" cy="545.5" r="1.15"/><circle cx="189.8" cy="551.8" r="1.15"/><circle cx="338.6" cy="565.5" r="1.15"/><circle cx="162.0" cy="554.7" r="1.15"/><circle cx="460.8" cy="550.7" r="1.15"/><circle cx="274.1" cy="567.9" r="1.15"/><circle cx="656.8" cy="578.6" r="1.15"/><circle cx="176.7" cy="555.6" r="1.15"/><circle cx="243.2" cy="563.5" r="1.15"/><circle cx="64.6" cy="484.8" r="1.15"/><circle cx="243.6" cy="562.4" r="1.15"/><circle cx="481.8" cy="563.4" r="1.15"/><circle cx="410.6" cy="540.9" r="1.15"/><circle cx="480.0" cy="564.3" r="1.15"/><circle cx="670.3" cy="502.5" r="1.15"/><circle cx="396.0" cy="528.1" r="1.15"/><circle cx="202.2" cy="560.4" r="1.15"/><circle cx="286.2" cy="541.9" r="1.15"/><circle cx="371.9" cy="546.6" r="1.15"/><circle cx="634.3" cy="574.5" r="1.15"/><circle cx="79.4" cy="546.0" r="1.15"/><circle cx="340.0" cy="563.1" r="1.15"/><circle cx="192.3" cy="553.4" r="1.15"/><circle cx="64.1" cy="484.5" r="1.15"/><circle cx="657.6" cy="575.9" r="1.15"/><circle cx="461.9" cy="551.6" r="1.15"/><circle cx="507.3" cy="558.0" r="1.15"/><circle cx="547.3" cy="548.8" r="1.15"/><circle cx="89.6" cy="549.7" r="1.15"/><circle cx="456.0" cy="566.9" r="1.15"/><circle cx="617.3" cy="539.1" r="1.15"/><circle cx="604.5" cy="545.1" r="1.15"/><circle cx="385.6" cy="538.2" r="1.15"/><circle cx="617.7" cy="540.3" r="1.15"/><circle cx="275.0" cy="567.0" r="1.15"/><circle cx="482.6" cy="565.2" r="1.15"/><circle cx="674.0" cy="501.9" r="1.15"/><circle cx="304.1" cy="539.1" r="1.15"/><circle cx="380.8" cy="538.5" r="1.15"/><circle cx="553.1" cy="547.2" r="1.15"/><circle cx="256.9" cy="562.8" r="1.15"/><circle cx="382.8" cy="537.6" r="1.15"/><circle cx="106.0" cy="541.0" r="1.15"/><circle cx="258.3" cy="564.3" r="1.15"/><circle cx="243.2" cy="562.4" r="1.15"/><circle cx="93.9" cy="545.5" r="1.15"/><circle cx="342.6" cy="564.7" r="1.15"/><circle cx="212.7" cy="557.0" r="1.15"/><circle cx="562.0" cy="539.9" r="1.15"/><circle cx="399.9" cy="528.1" r="1.15"/><circle cx="676.4" cy="500.5" r="1.15"/><circle cx="230.0" cy="561.2" r="1.15"/><circle cx="284.3" cy="542.2" r="1.15"/><circle cx="452.8" cy="565.3" r="1.15"/><circle cx="128.9" cy="543.7" r="1.15"/><circle cx="590.7" cy="534.2" r="1.15"/><circle cx="656.8" cy="574.0" r="1.15"/><circle cx="79.4" cy="557.4" r="1.15"/><circle cx="175.2" cy="553.0" r="1.15"/><circle cx="217.6" cy="556.3" r="1.15"/><circle cx="549.6" cy="547.9" r="1.15"/><circle cx="147.9" cy="512.8" r="1.15"/><circle cx="119.9" cy="548.1" r="1.15"/><circle cx="122.5" cy="542.0" r="1.15"/><circle cx="383.7" cy="539.9" r="1.15"/><circle cx="396.0" cy="529.2" r="1.15"/><circle cx="655.5" cy="592.3" r="1.15"/><circle cx="544.1" cy="549.1" r="1.15"/><circle cx="78.6" cy="557.7" r="1.15"/><circle cx="91.3" cy="546.0" r="1.15"/><circle cx="78.4" cy="544.9" r="1.15"/><circle cx="148.3" cy="517.4" r="1.15"/><circle cx="550.5" cy="546.5" r="1.15"/><circle cx="657.3" cy="585.5" r="1.15"/><circle cx="312.4" cy="567.6" r="1.15"/><circle cx="343.2" cy="564.5" r="1.15"/><circle cx="230.9" cy="560.1" r="1.15"/><circle cx="382.5" cy="539.3" r="1.15"/><circle cx="118.8" cy="542.7" r="1.15"/><circle cx="173.8" cy="553.6" r="1.15"/><circle cx="604.9" cy="545.8" r="1.15"/><circle cx="270.8" cy="567.7" r="1.15"/><circle cx="466.2" cy="552.6" r="1.15"/><circle cx="186.0" cy="554.6" r="1.15"/><circle cx="288.1" cy="540.4" r="1.15"/><circle cx="619.4" cy="541.4" r="1.15"/><circle cx="79.2" cy="549.7" r="1.15"/><circle cx="132.3" cy="545.3" r="1.15"/><circle cx="379.8" cy="539.4" r="1.15"/><circle cx="301.6" cy="537.1" r="1.15"/><circle cx="355.6" cy="575.9" r="1.15"/><circle cx="603.2" cy="546.1" r="1.15"/><circle cx="592.7" cy="534.9" r="1.15"/><circle cx="396.9" cy="528.4" r="1.15"/><circle cx="631.0" cy="578.6" r="1.15"/><circle cx="272.8" cy="568.1" r="1.15"/><circle cx="561.1" cy="540.4" r="1.15"/><circle cx="466.9" cy="552.5" r="1.15"/><circle cx="79.9" cy="544.9" r="1.15"/><circle cx="591.5" cy="535.6" r="1.15"/><circle cx="96.2" cy="545.5" r="1.15"/><circle cx="94.4" cy="548.5" r="1.15"/><circle cx="328.1" cy="566.8" r="1.15"/><circle cx="452.8" cy="566.4" r="1.15"/><circle cx="311.2" cy="569.9" r="1.15"/><circle cx="339.5" cy="565.1" r="1.15"/><circle cx="246.7" cy="564.1" r="1.15"/><circle cx="146.7" cy="517.5" r="1.15"/><circle cx="327.7" cy="566.5" r="1.15"/><circle cx="269.8" cy="568.8" r="1.15"/><circle cx="603.7" cy="545.8" r="1.15"/><circle cx="452.9" cy="566.5" r="1.15"/><circle cx="161.9" cy="554.8" r="1.15"/><circle cx="120.5" cy="543.7" r="1.15"/><circle cx="106.3" cy="542.5" r="1.15"/><circle cx="604.1" cy="544.0" r="1.15"/><circle cx="627.6" cy="585.7" r="1.15"/><circle cx="130.7" cy="542.3" r="1.15"/><circle cx="395.8" cy="526.7" r="1.15"/><circle cx="63.0" cy="484.4" r="1.15"/><circle cx="419.3" cy="521.5" r="1.15"/><circle cx="646.2" cy="575.9" r="1.15"/><circle cx="178.4" cy="551.9" r="1.15"/><circle cx="286.9" cy="543.1" r="1.15"/><circle cx="648.8" cy="592.6" r="1.15"/><circle cx="656.0" cy="581.4" r="1.15"/><circle cx="495.2" cy="551.1" r="1.15"/><circle cx="551.4" cy="546.4" r="1.15"/><circle cx="61.7" cy="484.3" r="1.15"/><circle cx="359.0" cy="571.0" r="1.15"/><circle cx="328.3" cy="565.0" r="1.15"/><circle cx="117.5" cy="545.6" r="1.15"/><circle cx="353.5" cy="592.5" r="1.15"/><circle cx="464.4" cy="550.6" r="1.15"/><circle cx="619.7" cy="540.8" r="1.15"/><circle cx="221.1" cy="559.0" r="1.15"/><circle cx="161.5" cy="553.6" r="1.15"/><circle cx="343.4" cy="566.0" r="1.15"/><circle cx="621.2" cy="541.7" r="1.15"/><circle cx="466.7" cy="552.4" r="1.15"/><circle cx="589.1" cy="536.2" r="1.15"/><circle cx="587.9" cy="532.8" r="1.15"/><circle cx="201.8" cy="559.8" r="1.15"/><circle cx="231.0" cy="562.8" r="1.15"/><circle cx="135.9" cy="544.8" r="1.15"/><circle cx="504.9" cy="558.3" r="1.15"/><circle cx="63.2" cy="486.0" r="1.15"/><circle cx="162.6" cy="553.3" r="1.15"/><circle cx="240.8" cy="562.0" r="1.15"/><circle cx="257.7" cy="564.1" r="1.15"/><circle cx="188.9" cy="553.8" r="1.15"/><circle cx="160.1" cy="553.5" r="1.15"/><circle cx="641.4" cy="581.4" r="1.15"/><circle cx="465.3" cy="553.4" r="1.15"/><circle cx="351.5" cy="576.2" r="1.15"/><circle cx="64.5" cy="484.0" r="1.15"/><circle cx="466.3" cy="552.5" r="1.15"/><circle cx="621.4" cy="541.3" r="1.15"/><circle cx="395.7" cy="528.2" r="1.15"/><circle cx="619.0" cy="539.3" r="1.15"/><circle cx="437.2" cy="567.2" r="1.15"/><circle cx="288.9" cy="542.4" r="1.15"/><circle cx="634.7" cy="575.8" r="1.15"/><circle cx="656.6" cy="581.4" r="1.15"/><circle cx="117.0" cy="538.6" r="1.15"/><circle cx="328.7" cy="565.6" r="1.15"/><circle cx="90.3" cy="543.7" r="1.15"/><circle cx="422.7" cy="518.4" r="1.15"/><circle cx="578.0" cy="538.9" r="1.15"/><circle cx="675.0" cy="501.8" r="1.15"/><circle cx="371.9" cy="544.5" r="1.15"/><circle cx="232.1" cy="562.2" r="1.15"/><circle cx="493.4" cy="551.7" r="1.15"/><circle cx="218.0" cy="557.9" r="1.15"/><circle cx="78.3" cy="550.4" r="1.15"/><circle cx="176.7" cy="554.2" r="1.15"/><circle cx="300.8" cy="539.6" r="1.15"/><circle cx="464.9" cy="550.8" r="1.15"/><circle cx="61.0" cy="483.8" r="1.15"/><circle cx="260.1" cy="562.3" r="1.15"/><circle cx="245.6" cy="567.8" r="1.15"/><circle cx="351.6" cy="574.3" r="1.15"/><circle cx="106.6" cy="541.5" r="1.15"/><circle cx="339.4" cy="564.0" r="1.15"/><circle cx="592.8" cy="534.2" r="1.15"/><circle cx="216.8" cy="560.6" r="1.15"/><circle cx="255.6" cy="563.2" r="1.15"/><circle cx="178.3" cy="550.9" r="1.15"/><circle cx="91.9" cy="545.8" r="1.15"/><circle cx="480.4" cy="567.1" r="1.15"/><circle cx="370.6" cy="546.3" r="1.15"/><circle cx="287.7" cy="542.9" r="1.15"/><circle cx="492.7" cy="550.4" r="1.15"/><circle cx="603.8" cy="545.8" r="1.15"/><circle cx="476.7" cy="564.5" r="1.15"/><circle cx="589.5" cy="532.4" r="1.15"/><circle cx="536.4" cy="557.4" r="1.15"/><circle cx="558.6" cy="538.5" r="1.15"/><circle cx="451.3" cy="565.9" r="1.15"/><circle cx="560.7" cy="539.8" r="1.15"/><circle cx="476.9" cy="565.9" r="1.15"/><circle cx="91.4" cy="547.6" r="1.15"/><circle cx="525.0" cy="555.7" r="1.15"/><circle cx="103.3" cy="541.4" r="1.15"/><circle cx="217.1" cy="557.5" r="1.15"/><circle cx="271.3" cy="566.4" r="1.15"/><circle cx="92.1" cy="546.8" r="1.15"/><circle cx="551.9" cy="544.7" r="1.15"/><circle cx="76.4" cy="554.2" r="1.15"/><circle cx="124.6" cy="546.6" r="1.15"/><circle cx="535.4" cy="559.3" r="1.15"/><circle cx="324.9" cy="564.8" r="1.15"/><circle cx="79.4" cy="552.9" r="1.15"/><circle cx="174.6" cy="550.8" r="1.15"/><circle cx="658.7" cy="592.8" r="1.15"/><circle cx="495.0" cy="549.1" r="1.15"/><circle cx="63.6" cy="485.3" r="1.15"/><circle cx="175.2" cy="554.1" r="1.15"/><circle cx="422.2" cy="521.2" r="1.15"/><circle cx="631.0" cy="576.2" r="1.15"/><circle cx="108.6" cy="541.6" r="1.15"/><circle cx="187.5" cy="550.8" r="1.15"/><circle cx="466.6" cy="552.9" r="1.15"/><circle cx="423.7" cy="520.3" r="1.15"/><circle cx="371.4" cy="546.1" r="1.15"/><circle cx="255.7" cy="562.8" r="1.15"/><circle cx="107.4" cy="541.7" r="1.15"/><circle cx="649.1" cy="574.0" r="1.15"/><circle cx="560.2" cy="540.1" r="1.15"/><circle cx="269.8" cy="568.2" r="1.15"/><circle cx="436.6" cy="567.7" r="1.15"/><circle cx="62.0" cy="484.0" r="1.15"/><circle cx="316.0" cy="568.9" r="1.15"/><circle cx="605.2" cy="546.6" r="1.15"/><circle cx="647.3" cy="570.3" r="1.15"/><circle cx="132.8" cy="542.7" r="1.15"/><circle cx="189.6" cy="553.7" r="1.15"/><circle cx="217.7" cy="558.1" r="1.15"/><circle cx="118.7" cy="543.4" r="1.15"/><circle cx="477.3" cy="562.9" r="1.15"/><circle cx="575.5" cy="541.2" r="1.15"/><circle cx="104.2" cy="542.2" r="1.15"/><circle cx="351.2" cy="585.5" r="1.15"/><circle cx="270.2" cy="570.1" r="1.15"/><circle cx="660.4" cy="592.7" r="1.15"/><circle cx="521.7" cy="556.1" r="1.15"/><circle cx="119.8" cy="539.6" r="1.15"/><circle cx="397.5" cy="528.7" r="1.15"/><circle cx="146.5" cy="516.3" r="1.15"/><circle cx="590.6" cy="536.7" r="1.15"/><circle cx="351.0" cy="567.3" r="1.15"/><circle cx="460.8" cy="549.4" r="1.15"/><circle cx="61.8" cy="484.9" r="1.15"/><circle cx="136.0" cy="544.3" r="1.15"/><circle cx="121.0" cy="542.0" r="1.15"/><circle cx="644.4" cy="592.9" r="1.15"/><circle cx="90.6" cy="543.2" r="1.15"/><circle cx="477.2" cy="566.5" r="1.15"/><circle cx="606.0" cy="546.9" r="1.15"/><circle cx="118.7" cy="542.4" r="1.15"/><circle cx="465.8" cy="549.9" r="1.15"/><circle cx="158.3" cy="554.6" r="1.15"/><circle cx="302.3" cy="536.5" r="1.15"/><circle cx="672.5" cy="501.8" r="1.15"/><circle cx="382.6" cy="538.8" r="1.15"/><circle cx="669.4" cy="503.0" r="1.15"/><circle cx="340.6" cy="565.3" r="1.15"/><circle cx="119.5" cy="538.0" r="1.15"/><circle cx="215.3" cy="559.0" r="1.15"/><circle cx="107.3" cy="542.6" r="1.15"/><circle cx="131.5" cy="545.6" r="1.15"/><circle cx="564.3" cy="539.8" r="1.15"/><circle cx="673.4" cy="500.3" r="1.15"/><circle cx="164.2" cy="553.0" r="1.15"/><circle cx="479.6" cy="565.1" r="1.15"/><circle cx="576.0" cy="539.0" r="1.15"/><circle cx="655.4" cy="578.5" r="1.15"/><circle cx="535.5" cy="557.6" r="1.15"/><circle cx="148.2" cy="516.1" r="1.15"/><circle cx="408.5" cy="542.2" r="1.15"/><circle cx="316.4" cy="568.8" r="1.15"/><circle cx="62.7" cy="485.9" r="1.15"/><circle cx="327.1" cy="564.9" r="1.15"/><circle cx="270.7" cy="567.7" r="1.15"/><circle cx="273.9" cy="569.1" r="1.15"/><circle cx="354.7" cy="571.4" r="1.15"/><circle cx="387.1" cy="539.6" r="1.15"/><circle cx="188.9" cy="552.7" r="1.15"/><circle cx="548.9" cy="548.5" r="1.15"/><circle cx="341.0" cy="563.8" r="1.15"/><circle cx="532.2" cy="558.4" r="1.15"/><circle cx="641.5" cy="572.6" r="1.15"/><circle cx="311.2" cy="568.6" r="1.15"/><circle cx="201.7" cy="558.3" r="1.15"/><circle cx="74.9" cy="549.1" r="1.15"/><circle cx="550.7" cy="546.9" r="1.15"/><circle cx="163.8" cy="554.8" r="1.15"/><circle cx="562.4" cy="539.5" r="1.15"/><circle cx="213.5" cy="556.6" r="1.15"/><circle cx="579.3" cy="540.3" r="1.15"/><circle cx="550.2" cy="546.7" r="1.15"/><circle cx="267.1" cy="569.3" r="1.15"/><circle cx="436.5" cy="568.5" r="1.15"/><circle cx="663.0" cy="581.3" r="1.15"/><circle cx="308.6" cy="570.3" r="1.15"/><circle cx="103.5" cy="542.1" r="1.15"/><circle cx="290.3" cy="541.9" r="1.15"/><circle cx="282.5" cy="540.4" r="1.15"/><circle cx="62.8" cy="481.0" r="1.15"/><circle cx="192.7" cy="551.7" r="1.15"/><circle cx="379.7" cy="541.1" r="1.15"/><circle cx="407.6" cy="542.9" r="1.15"/><circle cx="287.7" cy="541.6" r="1.15"/><circle cx="607.9" cy="547.4" r="1.15"/><circle cx="117.8" cy="543.8" r="1.15"/><circle cx="480.4" cy="564.5" r="1.15"/><circle cx="453.0" cy="564.0" r="1.15"/><circle cx="366.1" cy="545.7" r="1.15"/><circle cx="494.4" cy="549.9" r="1.15"/><circle cx="260.0" cy="565.1" r="1.15"/><circle cx="359.2" cy="592.8" r="1.15"/><circle cx="399.6" cy="527.4" r="1.15"/><circle cx="627.4" cy="578.1" r="1.15"/><circle cx="520.4" cy="557.0" r="1.15"/><circle cx="106.0" cy="540.5" r="1.15"/><circle cx="75.2" cy="556.1" r="1.15"/><circle cx="64.8" cy="485.1" r="1.15"/><circle cx="302.0" cy="539.2" r="1.15"/><circle cx="616.1" cy="542.2" r="1.15"/><circle cx="354.3" cy="572.5" r="1.15"/><circle cx="246.7" cy="564.6" r="1.15"/><circle cx="148.5" cy="516.9" r="1.15"/><circle cx="619.4" cy="542.5" r="1.15"/><circle cx="271.6" cy="569.4" r="1.15"/><circle cx="65.0" cy="483.0" r="1.15"/><circle cx="78.6" cy="556.1" r="1.15"/><circle cx="481.9" cy="564.9" r="1.15"/><circle cx="340.5" cy="563.9" r="1.15"/><circle cx="563.0" cy="540.0" r="1.15"/><circle cx="133.1" cy="542.3" r="1.15"/><circle cx="93.0" cy="548.0" r="1.15"/><circle cx="149.2" cy="515.9" r="1.15"/><circle cx="326.5" cy="566.2" r="1.15"/><circle cx="509.3" cy="556.9" r="1.15"/><circle cx="522.5" cy="558.9" r="1.15"/><circle cx="119.2" cy="539.7" r="1.15"/><circle cx="256.3" cy="563.2" r="1.15"/><circle cx="631.8" cy="576.0" r="1.15"/><circle cx="648.2" cy="571.5" r="1.15"/><circle cx="296.8" cy="540.3" r="1.15"/><circle cx="147.2" cy="515.3" r="1.15"/><circle cx="604.7" cy="546.4" r="1.15"/><circle cx="202.3" cy="560.7" r="1.15"/><circle cx="603.9" cy="545.4" r="1.15"/><circle cx="634.7" cy="578.2" r="1.15"/><circle cx="146.5" cy="515.0" r="1.15"/><circle cx="588.5" cy="534.1" r="1.15"/><circle cx="520.3" cy="555.4" r="1.15"/><circle cx="435.4" cy="568.6" r="1.15"/><circle cx="92.1" cy="543.7" r="1.15"/><circle cx="492.3" cy="551.0" r="1.15"/><circle cx="78.6" cy="550.6" r="1.15"/><circle cx="256.8" cy="563.5" r="1.15"/><circle cx="585.2" cy="533.9" r="1.15"/><circle cx="65.9" cy="483.8" r="1.15"/><circle cx="534.8" cy="559.0" r="1.15"/><circle cx="242.4" cy="565.0" r="1.15"/><circle cx="518.6" cy="556.8" r="1.15"/><circle cx="257.3" cy="564.5" r="1.15"/><circle cx="469.5" cy="552.8" r="1.15"/><circle cx="466.0" cy="550.7" r="1.15"/><circle cx="574.0" cy="542.8" r="1.15"/><circle cx="380.7" cy="540.1" r="1.15"/><circle cx="342.2" cy="564.9" r="1.15"/><circle cx="558.9" cy="539.6" r="1.15"/><circle cx="254.8" cy="562.8" r="1.15"/><circle cx="493.3" cy="550.7" r="1.15"/><circle cx="648.3" cy="567.4" r="1.15"/><circle cx="577.3" cy="542.7" r="1.15"/><circle cx="661.7" cy="574.4" r="1.15"/><circle cx="670.6" cy="497.4" r="1.15"/><circle cx="562.2" cy="539.7" r="1.15"/><circle cx="475.5" cy="565.9" r="1.15"/><circle cx="628.3" cy="581.5" r="1.15"/><circle cx="548.3" cy="544.0" r="1.15"/><circle cx="339.7" cy="565.1" r="1.15"/><circle cx="134.8" cy="541.6" r="1.15"/><circle cx="352.6" cy="585.2" r="1.15"/><circle cx="465.9" cy="551.3" r="1.15"/><circle cx="81.2" cy="549.4" r="1.15"/><circle cx="120.0" cy="543.2" r="1.15"/><circle cx="673.7" cy="500.9" r="1.15"/><circle cx="299.4" cy="538.7" r="1.15"/><circle cx="284.2" cy="543.0" r="1.15"/><circle cx="522.8" cy="555.9" r="1.15"/><circle cx="204.3" cy="557.8" r="1.15"/><circle cx="246.0" cy="562.4" r="1.15"/><circle cx="300.5" cy="536.9" r="1.15"/><circle cx="435.2" cy="567.5" r="1.15"/><circle cx="190.4" cy="552.6" r="1.15"/><circle cx="329.5" cy="566.4" r="1.15"/><circle cx="258.3" cy="562.5" r="1.15"/><circle cx="220.2" cy="555.9" r="1.15"/><circle cx="342.9" cy="562.9" r="1.15"/><circle cx="521.3" cy="557.1" r="1.15"/><circle cx="661.2" cy="581.2" r="1.15"/><circle cx="368.1" cy="546.5" r="1.15"/><circle cx="548.1" cy="546.7" r="1.15"/><circle cx="590.6" cy="535.6" r="1.15"/><circle cx="107.6" cy="541.1" r="1.15"/><circle cx="286.6" cy="541.7" r="1.15"/><circle cx="509.4" cy="558.3" r="1.15"/><circle cx="427.4" cy="519.2" r="1.15"/><circle cx="92.4" cy="547.9" r="1.15"/><circle cx="563.7" cy="539.4" r="1.15"/><circle cx="79.4" cy="553.0" r="1.15"/><circle cx="562.6" cy="541.8" r="1.15"/><circle cx="297.0" cy="539.0" r="1.15"/><circle cx="215.0" cy="557.7" r="1.15"/><circle cx="117.9" cy="546.2" r="1.15"/><circle cx="74.6" cy="552.6" r="1.15"/><circle cx="270.3" cy="567.9" r="1.15"/><circle cx="550.8" cy="548.1" r="1.15"/><circle cx="565.5" cy="540.6" r="1.15"/><circle cx="395.7" cy="529.0" r="1.15"/><circle cx="273.0" cy="567.5" r="1.15"/><circle cx="491.8" cy="551.5" r="1.15"/><circle cx="617.3" cy="539.3" r="1.15"/><circle cx="228.2" cy="559.3" r="1.15"/><circle cx="490.5" cy="550.7" r="1.15"/><circle cx="287.6" cy="541.2" r="1.15"/><circle cx="392.0" cy="529.1" r="1.15"/><circle cx="381.6" cy="539.2" r="1.15"/><circle cx="424.4" cy="520.8" r="1.15"/><circle cx="159.2" cy="555.1" r="1.15"/><circle cx="615.6" cy="540.2" r="1.15"/><circle cx="308.6" cy="570.4" r="1.15"/><circle cx="104.0" cy="540.8" r="1.15"/><circle cx="367.1" cy="547.2" r="1.15"/><circle cx="257.2" cy="564.7" r="1.15"/><circle cx="146.6" cy="516.9" r="1.15"/><circle cx="672.3" cy="501.0" r="1.15"/><circle cx="328.2" cy="563.1" r="1.15"/><circle cx="546.6" cy="547.8" r="1.15"/><circle cx="656.3" cy="576.1" r="1.15"/><circle cx="521.9" cy="556.9" r="1.15"/><circle cx="117.7" cy="540.5" r="1.15"/><circle cx="463.6" cy="553.6" r="1.15"/><circle cx="178.3" cy="552.9" r="1.15"/><circle cx="80.2" cy="555.0" r="1.15"/><circle cx="369.8" cy="544.6" r="1.15"/><circle cx="87.4" cy="546.1" r="1.15"/><circle cx="67.7" cy="484.8" r="1.15"/><circle cx="592.1" cy="535.1" r="1.15"/><circle cx="340.6" cy="563.4" r="1.15"/><circle cx="656.4" cy="585.5" r="1.15"/><circle cx="576.9" cy="539.3" r="1.15"/><circle cx="370.3" cy="544.6" r="1.15"/><circle cx="671.2" cy="500.0" r="1.15"/><circle cx="161.9" cy="554.5" r="1.15"/><circle cx="655.4" cy="585.7" r="1.15"/><circle cx="509.0" cy="557.7" r="1.15"/><circle cx="451.9" cy="564.3" r="1.15"/><circle cx="394.7" cy="529.7" r="1.15"/><circle cx="549.8" cy="546.9" r="1.15"/><circle cx="134.6" cy="544.9" r="1.15"/><circle cx="272.9" cy="568.3" r="1.15"/><circle cx="244.6" cy="562.1" r="1.15"/><circle cx="233.5" cy="560.4" r="1.15"/><circle cx="576.9" cy="538.9" r="1.15"/><circle cx="605.3" cy="546.5" r="1.15"/><circle cx="355.3" cy="568.9" r="1.15"/><circle cx="340.3" cy="565.3" r="1.15"/><circle cx="359.3" cy="592.5" r="1.15"/><circle cx="353.3" cy="578.2" r="1.15"/><circle cx="575.2" cy="539.7" r="1.15"/><circle cx="158.9" cy="555.5" r="1.15"/><circle cx="365.3" cy="546.1" r="1.15"/><circle cx="324.4" cy="566.6" r="1.15"/><circle cx="622.5" cy="540.7" r="1.15"/><circle cx="242.4" cy="566.9" r="1.15"/><circle cx="406.2" cy="541.2" r="1.15"/><circle cx="620.2" cy="539.3" r="1.15"/><circle cx="218.4" cy="557.6" r="1.15"/><circle cx="462.0" cy="552.3" r="1.15"/><circle cx="78.9" cy="550.2" r="1.15"/><circle cx="602.9" cy="547.5" r="1.15"/><circle cx="285.7" cy="540.8" r="1.15"/><circle cx="106.6" cy="543.2" r="1.15"/><circle cx="356.0" cy="572.8" r="1.15"/><circle cx="203.3" cy="559.7" r="1.15"/><circle cx="76.8" cy="552.5" r="1.15"/><circle cx="243.7" cy="564.4" r="1.15"/><circle cx="551.4" cy="546.8" r="1.15"/><circle cx="123.4" cy="545.2" r="1.15"/><circle cx="286.7" cy="539.4" r="1.15"/><circle cx="176.2" cy="554.9" r="1.15"/><circle cx="464.1" cy="552.8" r="1.15"/><circle cx="331.8" cy="563.8" r="1.15"/><circle cx="449.2" cy="563.9" r="1.15"/><circle cx="368.1" cy="546.7" r="1.15"/><circle cx="202.8" cy="559.5" r="1.15"/><circle cx="618.6" cy="540.2" r="1.15"/><circle cx="548.2" cy="547.7" r="1.15"/><circle cx="561.1" cy="538.8" r="1.15"/><circle cx="547.0" cy="546.6" r="1.15"/><circle cx="588.0" cy="534.4" r="1.15"/><circle cx="108.2" cy="541.2" r="1.15"/><circle cx="454.3" cy="566.8" r="1.15"/><circle cx="396.9" cy="528.9" r="1.15"/><circle cx="231.3" cy="561.0" r="1.15"/><circle cx="326.2" cy="566.5" r="1.15"/><circle cx="560.6" cy="542.4" r="1.15"/><circle cx="338.3" cy="564.1" r="1.15"/><circle cx="508.4" cy="557.6" r="1.15"/><circle cx="80.2" cy="552.5" r="1.15"/><circle cx="88.7" cy="550.6" r="1.15"/><circle cx="120.9" cy="545.8" r="1.15"/><circle cx="365.8" cy="545.3" r="1.15"/><circle cx="133.6" cy="543.5" r="1.15"/><circle cx="410.1" cy="546.0" r="1.15"/><circle cx="146.1" cy="517.9" r="1.15"/><circle cx="147.5" cy="514.2" r="1.15"/><circle cx="371.6" cy="544.4" r="1.15"/><circle cx="342.0" cy="564.2" r="1.15"/><circle cx="492.6" cy="550.3" r="1.15"/><circle cx="246.1" cy="564.7" r="1.15"/><circle cx="480.3" cy="565.3" r="1.15"/><circle cx="645.1" cy="572.5" r="1.15"/><circle cx="561.8" cy="538.5" r="1.15"/><circle cx="576.7" cy="541.1" r="1.15"/><circle cx="288.1" cy="541.7" r="1.15"/><circle cx="506.4" cy="559.5" r="1.15"/><circle cx="160.9" cy="554.0" r="1.15"/><circle cx="220.5" cy="557.8" r="1.15"/><circle cx="463.1" cy="551.0" r="1.15"/><circle cx="632.8" cy="581.1" r="1.15"/><circle cx="481.7" cy="564.5" r="1.15"/><circle cx="63.7" cy="483.9" r="1.15"/><circle cx="215.9" cy="558.0" r="1.15"/><circle cx="425.1" cy="520.1" r="1.15"/><circle cx="352.9" cy="576.3" r="1.15"/><circle cx="134.2" cy="543.9" r="1.15"/><circle cx="327.4" cy="564.2" r="1.15"/><circle cx="383.5" cy="538.8" r="1.15"/><circle cx="302.1" cy="537.6" r="1.15"/><circle cx="641.9" cy="569.8" r="1.15"/><circle cx="218.1" cy="558.6" r="1.15"/><circle cx="288.5" cy="542.4" r="1.15"/><circle cx="675.9" cy="500.6" r="1.15"/><circle cx="258.1" cy="564.9" r="1.15"/><circle cx="297.0" cy="538.2" r="1.15"/><circle cx="493.6" cy="552.2" r="1.15"/><circle cx="551.1" cy="546.7" r="1.15"/><circle cx="274.8" cy="569.0" r="1.15"/><circle cx="160.5" cy="555.3" r="1.15"/><circle cx="505.4" cy="558.3" r="1.15"/><circle cx="176.7" cy="552.7" r="1.15"/><circle cx="588.3" cy="533.8" r="1.15"/><circle cx="160.7" cy="554.5" r="1.15"/><circle cx="283.9" cy="541.1" r="1.15"/><circle cx="235.3" cy="560.0" r="1.15"/><circle cx="608.7" cy="548.5" r="1.15"/><circle cx="235.3" cy="563.7" r="1.15"/><circle cx="119.3" cy="549.9" r="1.15"/><circle cx="425.2" cy="521.0" r="1.15"/><circle cx="421.9" cy="519.3" r="1.15"/><circle cx="103.9" cy="542.8" r="1.15"/><circle cx="106.1" cy="542.1" r="1.15"/><circle cx="272.7" cy="568.4" r="1.15"/><circle cx="91.1" cy="551.3" r="1.15"/><circle cx="77.9" cy="551.2" r="1.15"/><circle cx="75.6" cy="559.8" r="1.15"/><circle cx="272.6" cy="570.0" r="1.15"/><circle cx="533.4" cy="558.7" r="1.15"/><circle cx="215.0" cy="557.8" r="1.15"/><circle cx="646.2" cy="576.4" r="1.15"/><circle cx="202.6" cy="557.1" r="1.15"/><circle cx="105.6" cy="538.9" r="1.15"/><circle cx="464.5" cy="552.0" r="1.15"/><circle cx="286.5" cy="541.2" r="1.15"/><circle cx="492.2" cy="548.9" r="1.15"/><circle cx="274.9" cy="570.4" r="1.15"/><circle cx="630.2" cy="581.6" r="1.15"/><circle cx="439.1" cy="568.4" r="1.15"/><circle cx="642.6" cy="574.0" r="1.15"/><circle cx="423.7" cy="518.8" r="1.15"/><circle cx="408.9" cy="541.3" r="1.15"/><circle cx="120.7" cy="543.6" r="1.15"/><circle cx="557.9" cy="541.2" r="1.15"/><circle cx="191.4" cy="555.0" r="1.15"/><circle cx="176.0" cy="551.3" r="1.15"/><circle cx="491.8" cy="550.6" r="1.15"/><circle cx="219.2" cy="556.3" r="1.15"/><circle cx="641.9" cy="578.6" r="1.15"/><circle cx="392.5" cy="528.6" r="1.15"/><circle cx="646.0" cy="574.2" r="1.15"/><circle cx="259.0" cy="564.3" r="1.15"/><circle cx="382.2" cy="538.2" r="1.15"/><circle cx="607.8" cy="547.2" r="1.15"/><circle cx="299.4" cy="537.6" r="1.15"/><circle cx="563.9" cy="540.7" r="1.15"/><circle cx="496.0" cy="549.3" r="1.15"/><circle cx="462.1" cy="551.2" r="1.15"/><circle cx="131.9" cy="543.8" r="1.15"/><circle cx="78.2" cy="550.3" r="1.15"/><circle cx="502.3" cy="558.7" r="1.15"/><circle cx="576.8" cy="539.5" r="1.15"/><circle cx="557.9" cy="540.0" r="1.15"/><circle cx="260.2" cy="562.8" r="1.15"/><circle cx="603.7" cy="546.9" r="1.15"/><circle cx="64.6" cy="483.6" r="1.15"/><circle cx="89.6" cy="552.7" r="1.15"/><circle cx="149.4" cy="516.0" r="1.15"/><circle cx="358.4" cy="574.0" r="1.15"/><circle cx="135.1" cy="544.0" r="1.15"/><circle cx="189.3" cy="552.0" r="1.15"/><circle cx="240.7" cy="561.1" r="1.15"/><circle cx="228.9" cy="567.7" r="1.15"/><circle cx="423.5" cy="520.0" r="1.15"/><circle cx="107.2" cy="544.0" r="1.15"/><circle cx="160.1" cy="555.0" r="1.15"/><circle cx="400.8" cy="527.8" r="1.15"/><circle cx="442.4" cy="568.0" r="1.15"/><circle cx="358.6" cy="571.2" r="1.15"/><circle cx="105.9" cy="542.7" r="1.15"/><circle cx="520.8" cy="556.0" r="1.15"/><circle cx="629.0" cy="592.9" r="1.15"/><circle cx="95.6" cy="546.2" r="1.15"/><circle cx="295.7" cy="536.8" r="1.15"/><circle cx="588.2" cy="534.7" r="1.15"/><circle cx="519.5" cy="555.4" r="1.15"/><circle cx="133.3" cy="544.8" r="1.15"/><circle cx="190.9" cy="552.7" r="1.15"/><circle cx="134.8" cy="544.6" r="1.15"/><circle cx="233.2" cy="561.0" r="1.15"/><circle cx="231.1" cy="561.3" r="1.15"/><circle cx="216.5" cy="557.7" r="1.15"/><circle cx="317.5" cy="571.3" r="1.15"/><circle cx="511.9" cy="557.0" r="1.15"/><circle cx="80.8" cy="553.8" r="1.15"/><circle cx="122.4" cy="540.6" r="1.15"/><circle cx="533.0" cy="559.0" r="1.15"/><circle cx="657.7" cy="585.3" r="1.15"/><circle cx="411.0" cy="542.5" r="1.15"/><circle cx="229.9" cy="561.5" r="1.15"/><circle cx="438.0" cy="566.3" r="1.15"/><circle cx="617.9" cy="541.2" r="1.15"/><circle cx="159.9" cy="554.3" r="1.15"/><circle cx="301.0" cy="538.1" r="1.15"/><circle cx="424.9" cy="520.5" r="1.15"/><circle cx="133.7" cy="542.2" r="1.15"/><circle cx="78.7" cy="554.9" r="1.15"/><circle cx="288.6" cy="542.1" r="1.15"/><circle cx="231.1" cy="561.0" r="1.15"/><circle cx="438.2" cy="567.7" r="1.15"/><circle cx="426.3" cy="518.0" r="1.15"/><circle cx="630.1" cy="575.9" r="1.15"/><circle cx="518.5" cy="556.3" r="1.15"/><circle cx="312.9" cy="569.5" r="1.15"/><circle cx="122.8" cy="542.6" r="1.15"/><circle cx="351.0" cy="570.1" r="1.15"/><circle cx="447.4" cy="565.6" r="1.15"/><circle cx="615.1" cy="539.5" r="1.15"/><circle cx="171.9" cy="555.4" r="1.15"/><circle cx="282.1" cy="541.4" r="1.15"/><circle cx="311.0" cy="569.5" r="1.15"/><circle cx="261.7" cy="566.0" r="1.15"/><circle cx="481.1" cy="565.4" r="1.15"/><circle cx="492.9" cy="548.0" r="1.15"/><circle cx="174.7" cy="554.4" r="1.15"/><circle cx="398.4" cy="529.6" r="1.15"/><circle cx="575.1" cy="541.1" r="1.15"/><circle cx="673.6" cy="498.7" r="1.15"/><circle cx="68.6" cy="484.2" r="1.15"/><circle cx="340.6" cy="563.7" r="1.15"/><circle cx="355.3" cy="572.9" r="1.15"/><circle cx="91.5" cy="545.9" r="1.15"/><circle cx="592.5" cy="534.5" r="1.15"/><circle cx="392.9" cy="526.3" r="1.15"/><circle cx="519.4" cy="555.4" r="1.15"/><circle cx="662.7" cy="578.4" r="1.15"/><circle cx="178.5" cy="553.1" r="1.15"/><circle cx="463.0" cy="552.9" r="1.15"/><circle cx="136.7" cy="543.1" r="1.15"/><circle cx="176.4" cy="554.4" r="1.15"/><circle cx="258.5" cy="563.4" r="1.15"/><circle cx="491.4" cy="552.2" r="1.15"/><circle cx="424.3" cy="520.2" r="1.15"/><circle cx="393.9" cy="529.6" r="1.15"/><circle cx="89.6" cy="551.7" r="1.15"/><circle cx="326.0" cy="565.5" r="1.15"/><circle cx="120.7" cy="541.0" r="1.15"/><circle cx="190.7" cy="554.4" r="1.15"/><circle cx="382.5" cy="536.8" r="1.15"/><circle cx="452.6" cy="564.5" r="1.15"/><circle cx="661.0" cy="581.6" r="1.15"/><circle cx="231.7" cy="560.4" r="1.15"/><circle cx="655.2" cy="576.1" r="1.15"/><circle cx="410.1" cy="542.6" r="1.15"/><circle cx="644.7" cy="569.9" r="1.15"/><circle cx="549.4" cy="545.3" r="1.15"/><circle cx="323.1" cy="568.4" r="1.15"/><circle cx="365.3" cy="546.9" r="1.15"/><circle cx="574.0" cy="540.2" r="1.15"/><circle cx="560.3" cy="539.8" r="1.15"/><circle cx="230.8" cy="559.1" r="1.15"/><circle cx="117.5" cy="549.5" r="1.15"/><circle cx="601.3" cy="546.4" r="1.15"/><circle cx="493.6" cy="549.8" r="1.15"/><circle cx="301.2" cy="538.7" r="1.15"/><circle cx="273.9" cy="568.1" r="1.15"/><circle cx="338.9" cy="563.3" r="1.15"/><circle cx="394.6" cy="528.6" r="1.15"/><circle cx="161.7" cy="555.7" r="1.15"/><circle cx="539.1" cy="558.6" r="1.15"/><circle cx="384.8" cy="538.4" r="1.15"/><circle cx="64.3" cy="484.3" r="1.15"/><circle cx="478.4" cy="566.0" r="1.15"/><circle cx="642.7" cy="569.3" r="1.15"/><circle cx="657.8" cy="574.1" r="1.15"/><circle cx="355.7" cy="574.5" r="1.15"/><circle cx="578.4" cy="539.7" r="1.15"/><circle cx="384.0" cy="538.0" r="1.15"/><circle cx="186.3" cy="554.2" r="1.15"/><circle cx="420.3" cy="517.7" r="1.15"/><circle cx="440.0" cy="567.3" r="1.15"/><circle cx="394.9" cy="528.9" r="1.15"/><circle cx="351.5" cy="578.6" r="1.15"/><circle cx="227.9" cy="561.0" r="1.15"/><circle cx="574.0" cy="539.4" r="1.15"/><circle cx="95.6" cy="547.3" r="1.15"/><circle cx="372.3" cy="547.9" r="1.15"/><circle cx="92.1" cy="544.0" r="1.15"/><circle cx="659.5" cy="581.4" r="1.15"/><circle cx="218.6" cy="557.2" r="1.15"/><circle cx="108.0" cy="541.7" r="1.15"/><circle cx="245.5" cy="563.7" r="1.15"/><circle cx="534.7" cy="557.1" r="1.15"/><circle cx="215.7" cy="557.7" r="1.15"/><circle cx="313.5" cy="570.9" r="1.15"/><circle cx="163.4" cy="556.0" r="1.15"/><circle cx="214.9" cy="560.5" r="1.15"/><circle cx="327.2" cy="565.1" r="1.15"/><circle cx="92.2" cy="547.8" r="1.15"/><circle cx="642.4" cy="574.1" r="1.15"/><circle cx="522.7" cy="557.7" r="1.15"/><circle cx="311.8" cy="570.0" r="1.15"/><circle cx="106.2" cy="542.3" r="1.15"/><circle cx="355.1" cy="567.1" r="1.15"/><circle cx="258.7" cy="564.2" r="1.15"/><circle cx="478.3" cy="562.9" r="1.15"/><circle cx="121.9" cy="546.9" r="1.15"/><circle cx="133.7" cy="542.4" r="1.15"/><circle cx="576.5" cy="539.7" r="1.15"/><circle cx="562.4" cy="539.7" r="1.15"/><circle cx="186.5" cy="553.8" r="1.15"/><circle cx="300.7" cy="539.0" r="1.15"/><circle cx="630.5" cy="576.3" r="1.15"/><circle cx="79.9" cy="555.3" r="1.15"/><circle cx="423.0" cy="520.1" r="1.15"/><circle cx="634.1" cy="574.1" r="1.15"/><circle cx="478.2" cy="563.0" r="1.15"/><circle cx="300.5" cy="538.7" r="1.15"/><circle cx="642.5" cy="581.2" r="1.15"/><circle cx="214.3" cy="557.8" r="1.15"/><circle cx="92.3" cy="547.3" r="1.15"/><circle cx="408.7" cy="544.5" r="1.15"/><circle cx="438.3" cy="570.1" r="1.15"/><circle cx="107.8" cy="539.0" r="1.15"/><circle cx="337.1" cy="564.7" r="1.15"/><circle cx="75.3" cy="553.3" r="1.15"/><circle cx="550.2" cy="544.7" r="1.15"/><circle cx="619.5" cy="540.7" r="1.15"/><circle cx="65.1" cy="483.8" r="1.15"/><circle cx="670.6" cy="499.3" r="1.15"/><circle cx="79.4" cy="551.9" r="1.15"/><circle cx="89.1" cy="544.8" r="1.15"/><circle cx="65.2" cy="483.9" r="1.15"/><circle cx="328.2" cy="563.4" r="1.15"/><circle cx="424.7" cy="520.7" r="1.15"/><circle cx="159.9" cy="555.6" r="1.15"/><circle cx="615.2" cy="540.1" r="1.15"/><circle cx="136.8" cy="543.4" r="1.15"/><circle cx="449.0" cy="564.5" r="1.15"/><circle cx="593.5" cy="533.6" r="1.15"/><circle cx="619.9" cy="540.7" r="1.15"/><circle cx="132.0" cy="544.7" r="1.15"/><circle cx="133.6" cy="544.7" r="1.15"/><circle cx="357.9" cy="575.8" r="1.15"/><circle cx="179.3" cy="552.5" r="1.15"/><circle cx="65.0" cy="484.6" r="1.15"/><circle cx="121.1" cy="546.1" r="1.15"/><circle cx="495.5" cy="550.3" r="1.15"/><circle cx="613.6" cy="542.4" r="1.15"/><circle cx="547.5" cy="547.0" r="1.15"/><circle cx="520.5" cy="554.4" r="1.15"/><circle cx="451.9" cy="563.0" r="1.15"/><circle cx="521.8" cy="556.7" r="1.15"/><circle cx="355.7" cy="576.1" r="1.15"/><circle cx="629.8" cy="575.8" r="1.15"/><circle cx="272.6" cy="568.4" r="1.15"/><circle cx="671.1" cy="500.9" r="1.15"/><circle cx="593.0" cy="535.2" r="1.15"/><circle cx="477.7" cy="563.3" r="1.15"/><circle cx="629.1" cy="578.4" r="1.15"/><circle cx="214.5" cy="557.2" r="1.15"/><circle cx="204.8" cy="560.6" r="1.15"/><circle cx="380.8" cy="540.7" r="1.15"/><circle cx="89.6" cy="549.9" r="1.15"/><circle cx="492.6" cy="548.1" r="1.15"/><circle cx="287.5" cy="544.3" r="1.15"/><circle cx="603.6" cy="544.9" r="1.15"/><circle cx="470.4" cy="550.0" r="1.15"/><circle cx="343.4" cy="563.6" r="1.15"/><circle cx="295.2" cy="540.1" r="1.15"/><circle cx="286.6" cy="542.9" r="1.15"/><circle cx="516.6" cy="556.4" r="1.15"/><circle cx="524.2" cy="557.3" r="1.15"/><circle cx="329.1" cy="563.7" r="1.15"/><circle cx="93.3" cy="546.3" r="1.15"/><circle cx="298.1" cy="538.3" r="1.15"/><circle cx="76.2" cy="559.4" r="1.15"/><circle cx="103.3" cy="543.2" r="1.15"/><circle cx="145.8" cy="516.4" r="1.15"/><circle cx="133.7" cy="543.0" r="1.15"/><circle cx="178.0" cy="551.5" r="1.15"/><circle cx="410.3" cy="544.2" r="1.15"/><circle cx="641.9" cy="578.2" r="1.15"/><circle cx="270.6" cy="569.8" r="1.15"/><circle cx="119.4" cy="544.8" r="1.15"/><circle cx="495.4" cy="551.0" r="1.15"/><circle cx="522.6" cy="556.1" r="1.15"/><circle cx="411.3" cy="543.8" r="1.15"/><circle cx="64.1" cy="484.0" r="1.15"/><circle cx="519.6" cy="555.9" r="1.15"/><circle cx="115.9" cy="538.7" r="1.15"/><circle cx="642.5" cy="568.8" r="1.15"/><circle cx="451.0" cy="565.5" r="1.15"/><circle cx="517.3" cy="554.7" r="1.15"/><circle cx="479.0" cy="566.1" r="1.15"/><circle cx="560.8" cy="539.8" r="1.15"/><circle cx="144.9" cy="517.2" r="1.15"/><circle cx="438.1" cy="567.8" r="1.15"/><circle cx="175.4" cy="554.7" r="1.15"/><circle cx="373.5" cy="544.6" r="1.15"/><circle cx="134.0" cy="542.5" r="1.15"/><circle cx="340.3" cy="564.8" r="1.15"/><circle cx="544.8" cy="546.5" r="1.15"/><circle cx="243.1" cy="563.0" r="1.15"/><circle cx="341.4" cy="564.8" r="1.15"/><circle cx="619.2" cy="538.6" r="1.15"/><circle cx="383.8" cy="539.0" r="1.15"/><circle cx="259.2" cy="566.8" r="1.15"/><circle cx="173.3" cy="553.1" r="1.15"/><circle cx="78.3" cy="552.8" r="1.15"/><circle cx="173.0" cy="551.9" r="1.15"/><circle cx="173.8" cy="552.7" r="1.15"/><circle cx="344.1" cy="565.7" r="1.15"/><circle cx="173.1" cy="551.2" r="1.15"/><circle cx="387.4" cy="539.2" r="1.15"/><circle cx="177.1" cy="554.9" r="1.15"/><circle cx="603.2" cy="546.1" r="1.15"/><circle cx="564.2" cy="539.0" r="1.15"/><circle cx="288.3" cy="542.2" r="1.15"/><circle cx="359.1" cy="567.4" r="1.15"/><circle cx="478.8" cy="565.5" r="1.15"/><circle cx="65.2" cy="482.0" r="1.15"/><circle cx="577.7" cy="540.1" r="1.15"/><circle cx="603.8" cy="544.7" r="1.15"/><circle cx="563.9" cy="541.4" r="1.15"/><circle cx="288.5" cy="540.8" r="1.15"/><circle cx="371.0" cy="544.2" r="1.15"/><circle cx="89.3" cy="547.9" r="1.15"/><circle cx="577.0" cy="538.4" r="1.15"/><circle cx="355.6" cy="578.7" r="1.15"/><circle cx="367.6" cy="544.9" r="1.15"/><circle cx="299.2" cy="538.5" r="1.15"/><circle cx="658.5" cy="581.3" r="1.15"/><circle cx="482.6" cy="564.8" r="1.15"/><circle cx="647.1" cy="566.9" r="1.15"/><circle cx="530.5" cy="558.1" r="1.15"/><circle cx="384.5" cy="540.2" r="1.15"/><circle cx="550.5" cy="547.6" r="1.15"/><circle cx="494.5" cy="551.3" r="1.15"/><circle cx="202.8" cy="558.7" r="1.15"/><circle cx="600.8" cy="545.9" r="1.15"/><circle cx="342.3" cy="565.7" r="1.15"/><circle cx="436.7" cy="565.6" r="1.15"/><circle cx="231.9" cy="557.8" r="1.15"/><circle cx="189.8" cy="555.1" r="1.15"/><circle cx="232.1" cy="561.2" r="1.15"/><circle cx="214.9" cy="557.3" r="1.15"/><circle cx="462.1" cy="551.0" r="1.15"/><circle cx="312.8" cy="571.3" r="1.15"/><circle cx="243.4" cy="563.0" r="1.15"/><circle cx="231.0" cy="563.6" r="1.15"/><circle cx="103.4" cy="542.6" r="1.15"/><circle cx="356.6" cy="578.3" r="1.15"/><circle cx="508.0" cy="559.4" r="1.15"/><circle cx="282.9" cy="539.0" r="1.15"/><circle cx="436.9" cy="567.6" r="1.15"/><circle cx="412.5" cy="543.0" r="1.15"/><circle cx="646.4" cy="592.7" r="1.15"/><circle cx="614.6" cy="539.5" r="1.15"/><circle cx="617.6" cy="542.2" r="1.15"/><circle cx="393.1" cy="527.0" r="1.15"/><circle cx="351.8" cy="585.4" r="1.15"/><circle cx="452.0" cy="564.5" r="1.15"/><circle cx="450.2" cy="565.5" r="1.15"/><circle cx="380.8" cy="539.2" r="1.15"/><circle cx="394.6" cy="527.5" r="1.15"/><circle cx="616.0" cy="540.8" r="1.15"/><circle cx="215.6" cy="557.5" r="1.15"/><circle cx="467.3" cy="551.5" r="1.15"/><circle cx="177.7" cy="554.3" r="1.15"/><circle cx="536.1" cy="558.9" r="1.15"/><circle cx="313.0" cy="568.3" r="1.15"/><circle cx="355.4" cy="576.3" r="1.15"/><circle cx="493.3" cy="548.5" r="1.15"/><circle cx="226.7" cy="561.5" r="1.15"/><circle cx="219.7" cy="558.5" r="1.15"/><circle cx="448.8" cy="564.2" r="1.15"/><circle cx="89.3" cy="552.3" r="1.15"/><circle cx="340.2" cy="564.4" r="1.15"/><circle cx="149.7" cy="514.0" r="1.15"/><circle cx="563.2" cy="540.8" r="1.15"/><circle cx="449.5" cy="565.5" r="1.15"/><circle cx="437.3" cy="567.3" r="1.15"/><circle cx="407.4" cy="542.5" r="1.15"/><circle cx="345.9" cy="563.4" r="1.15"/><circle cx="215.4" cy="558.5" r="1.15"/><circle cx="93.1" cy="545.3" r="1.15"/><circle cx="632.3" cy="574.4" r="1.15"/><circle cx="414.9" cy="542.1" r="1.15"/><circle cx="147.0" cy="518.0" r="1.15"/><circle cx="253.3" cy="564.7" r="1.15"/><circle cx="351.3" cy="569.8" r="1.15"/><circle cx="631.1" cy="575.9" r="1.15"/><circle cx="159.6" cy="553.0" r="1.15"/><circle cx="63.3" cy="482.1" r="1.15"/><circle cx="79.5" cy="553.3" r="1.15"/><circle cx="160.5" cy="552.6" r="1.15"/><circle cx="325.8" cy="565.4" r="1.15"/><circle cx="644.1" cy="567.3" r="1.15"/><circle cx="408.9" cy="543.2" r="1.15"/><circle cx="521.5" cy="556.6" r="1.15"/><circle cx="634.0" cy="578.3" r="1.15"/><circle cx="590.0" cy="536.1" r="1.15"/></g>
<path d="M59.1,483.8H69.9" stroke="#111" stroke-width="0.9" stroke-linecap="round"/>
<path d="M64.5,479L64.5,482M63.2,479.75L65.8,481.25M63.2,481.25L65.8,479.75" stroke="#4a4aff" stroke-width="0.6" fill="none"/>
<rect x="73.03" y="550.59" width="10.6" height="5.43" fill="#fff" fill-opacity="0" stroke="#222" stroke-width="0.6"/>
<path d="M73.03,552.72H83.63M78.33,550.59V547.09M78.33,556.02V559.52" stroke="#222" stroke-width="0.6" fill="none"/>
<path d="M78.33,526.67L78.33,529.67M77.03,527.42L79.63,528.92M77.03,528.92L79.63,527.42" stroke="#4a4aff" stroke-width="0.6" fill="none"/>
<rect x="86.86" y="544.93" width="10.6" height="4.48" fill="#fff" fill-opacity="0" stroke="#222" stroke-width="0.6"/>
<path d="M86.86,547.29H97.46M92.16,544.93V541.43M92.16,549.41V552.91" stroke="#222" stroke-width="0.6" fill="none"/>
<path d="M92.16,534.7L92.16,537.7M90.86,535.45L93.46,536.95M90.86,536.95L93.46,535.45" stroke="#4a4aff" stroke-width="0.6" fill="none"/>
<path d="M100.59,541.15H111.39" stroke="#111" stroke-width="0.9" stroke-linecap="round"/>
<path d="M105.99,532.1L105.99,535.1M104.69,532.85L107.29,534.35M104.69,534.35L107.29,532.85" stroke="#4a4aff" stroke-width="0.6" fill="none"/>
<rect x="114.52" y="540.68" width="10.6" height="5.19" fill="#fff" fill-opacity="0" stroke="#222" stroke-width="0.6"/>
<path d="M114.52,543.28H125.12M119.82,540.68V537.18M119.82,545.87V549.37" stroke="#222" stroke-width="0.6" fill="none"/>
<path d="M119.82,529.74L119.82,532.74M118.52,530.49L121.12,531.99M118.52,531.99L121.12,530.49" stroke="#4a4aff" stroke-width="0.6" fill="none"/>
<path d="M128.25,543.51H139.05" stroke="#111" stroke-width="0.9" stroke-linecap="round"/>
<path d="M133.65,533.75L133.65,536.75M132.35,534.5L134.95,536M132.35,536L134.95,534.5" stroke="#4a4aff" stroke-width="0.6" fill="none"/>
<path d="M142.08,516.14H152.88" stroke="#111" stroke-width="0.9" stroke-linecap="round"/>
<path d="M147.48,511.1L147.48,514.1M146.18,511.85L148.78,513.35M146.18,513.35L148.78,511.85" stroke="#4a4aff" stroke-width="0.6" fill="none"/>
<path d="M155.91,554.37H166.71" stroke="#111" stroke-width="0.9" stroke-linecap="round"/>
<path d="M161.31,546.26L161.31,549.26M160.01,547.01L162.61,548.51M160.01,548.51L162.61,547.01" stroke="#4a4aff" stroke-width="0.6" fill="none"/>
<path d="M169.74,552.72H180.54" stroke="#111" stroke-width="0.9" stroke-linecap="round"/>
<path d="M175.14,543.9L175.14,546.9M173.84,544.65L176.44,546.15M173.84,546.15L176.44,544.65" stroke="#4a4aff" stroke-width="0.6" fill="none"/>
<path d="M183.57,552.72H194.37" stroke="#111" stroke-width="0.9" stroke-linecap="round"/>
<path d="M188.97,544.61L188.97,547.61M187.67,545.36L190.27,546.86M187.67,546.86L190.27,545.36" stroke="#4a4aff" stroke-width="0.6" fill="none"/>
<path d="M197.4,558.85H208.2" stroke="#111" stroke-width="0.9" stroke-linecap="round"/>
<path d="M202.8,549.09L202.8,552.09M201.5,549.84L204.1,551.34M201.5,551.34L204.1,549.84" stroke="#4a4aff" stroke-width="0.6" fill="none"/>
<path d="M211.23,557.2H222.03" stroke="#111" stroke-width="0.9" stroke-linecap="round"/>
<path d="M216.63,549.09L216.63,552.09M215.33,549.84L217.93,551.34M215.33,551.34L217.93,549.84" stroke="#4a4aff" stroke-width="0.6" fill="none"/>
<path d="M225.06,560.74H235.86" stroke="#111" stroke-width="0.9" stroke-linecap="round"/>
<path d="M230.46,554.99L230.46,557.99M229.16,555.74L231.76,557.24M229.16,557.24L231.76,555.74" stroke="#4a4aff" stroke-width="0.6" fill="none"/>
<path d="M238.89,563.1H249.69" stroke="#111" stroke-width="0.9" stroke-linecap="round"/>
<path d="M244.29,553.81L244.29,556.81M242.99,554.56L245.59,556.06M242.99,556.06L245.59,554.56" stroke="#4a4aff" stroke-width="0.6" fill="none"/>
<path d="M252.72,563.81H263.52" stroke="#111" stroke-width="0.9" stroke-linecap="round"/>
<path d="M258.12,556.64L258.12,559.64M256.82,557.39L259.42,558.89M256.82,558.89L259.42,557.39" stroke="#4a4aff" stroke-width="0.6" fill="none"/>
<path d="M266.55,568.06H277.35" stroke="#111" stroke-width="0.9" stroke-linecap="round"/>
<path d="M271.95,558.06L271.95,561.06M270.65,558.81L273.25,560.31M270.65,560.31L273.25,558.81" stroke="#4a4aff" stroke-width="0.6" fill="none"/>
<path d="M280.38,541.39H291.18" stroke="#111" stroke-width="0.9" stroke-linecap="round"/>
<path d="M285.78,532.1L285.78,535.1M284.48,532.85L287.08,534.35M284.48,534.35L287.08,532.85" stroke="#4a4aff" stroke-width="0.6" fill="none"/>
<path d="M294.21,537.85H305.01" stroke="#111" stroke-width="0.9" stroke-linecap="round"/>
<path d="M299.61,528.8L299.61,531.8M298.31,529.55L300.91,531.05M298.31,531.05L300.91,529.55" stroke="#4a4aff" stroke-width="0.6" fill="none"/>
<path d="M308.04,569.24H318.84" stroke="#111" stroke-width="0.9" stroke-linecap="round"/>
<path d="M313.44,559.95L313.44,562.95M312.14,560.7L314.74,562.2M312.14,562.2L314.74,560.7" stroke="#4a4aff" stroke-width="0.6" fill="none"/>
<path d="M321.87,565.22H332.67" stroke="#111" stroke-width="0.9" stroke-linecap="round"/>
<path d="M327.27,555.7L327.27,558.7M325.97,556.45L328.57,557.95M325.97,557.95L328.57,556.45" stroke="#4a4aff" stroke-width="0.6" fill="none"/>
<path d="M335.7,564.04H346.5" stroke="#111" stroke-width="0.9" stroke-linecap="round"/>
<path d="M341.1,554.52L341.1,557.52M339.8,555.27L342.4,556.77M339.8,556.77L342.4,555.27" stroke="#4a4aff" stroke-width="0.6" fill="none"/>
<rect x="349.63" y="574.66" width="10.6" height="6.61" fill="#fff" fill-opacity="0.85" stroke="#222" stroke-width="0.6"/>
<path d="M349.63,577.97H360.23M354.93,574.66V571.16M354.93,581.27V584.77" stroke="#222" stroke-width="0.6" fill="none"/>
<path d="M354.93,562.31L354.93,565.31M353.63,563.06L356.23,564.56M353.63,564.56L356.23,563.06" stroke="#4a4aff" stroke-width="0.6" fill="none"/>
<path d="M363.36,545.4H374.16" stroke="#111" stroke-width="0.9" stroke-linecap="round"/>
<path d="M368.76,538L368.76,541M367.46,538.75L370.06,540.25M367.46,540.25L370.06,538.75" stroke="#4a4aff" stroke-width="0.6" fill="none"/>
<path d="M377.19,538.79H387.99" stroke="#111" stroke-width="0.9" stroke-linecap="round"/>
<path d="M382.59,529.27L382.59,532.27M381.29,530.02L383.89,531.52M381.29,531.52L383.89,530.02" stroke="#4a4aff" stroke-width="0.6" fill="none"/>
<path d="M391.02,528.17H401.82" stroke="#111" stroke-width="0.9" stroke-linecap="round"/>
<path d="M396.42,522.19L396.42,525.19M395.12,522.94L397.72,524.44M395.12,524.44L397.72,522.94" stroke="#4a4aff" stroke-width="0.6" fill="none"/>
<path d="M404.85,542.8H415.65" stroke="#111" stroke-width="0.9" stroke-linecap="round"/>
<path d="M410.25,533.75L410.25,536.75M408.95,534.5L411.55,536M408.95,536L411.55,534.5" stroke="#4a4aff" stroke-width="0.6" fill="none"/>
<path d="M418.68,519.91H429.48" stroke="#111" stroke-width="0.9" stroke-linecap="round"/>
<path d="M424.08,512.98L424.08,515.98M422.78,513.73L425.38,515.23M422.78,515.23L425.38,513.73" stroke="#4a4aff" stroke-width="0.6" fill="none"/>
<path d="M432.51,567.11H443.31" stroke="#111" stroke-width="0.9" stroke-linecap="round"/>
<path d="M437.91,555.94L437.91,558.94M436.61,556.69L439.21,558.19M436.61,558.19L439.21,556.69" stroke="#4a4aff" stroke-width="0.6" fill="none"/>
<path d="M446.34,565.22H457.14" stroke="#111" stroke-width="0.9" stroke-linecap="round"/>
<path d="M451.74,554.52L451.74,557.52M450.44,555.27L453.04,556.77M450.44,556.77L453.04,555.27" stroke="#4a4aff" stroke-width="0.6" fill="none"/>
<path d="M460.17,551.06H470.97" stroke="#111" stroke-width="0.9" stroke-linecap="round"/>
<path d="M465.57,542.01L465.57,545.01M464.27,542.76L466.87,544.26M464.27,544.26L466.87,542.76" stroke="#4a4aff" stroke-width="0.6" fill="none"/>
<path d="M474,564.28H484.8" stroke="#111" stroke-width="0.9" stroke-linecap="round"/>
<path d="M479.4,554.99L479.4,557.99M478.1,555.74L480.7,557.24M478.1,557.24L480.7,555.74" stroke="#4a4aff" stroke-width="0.6" fill="none"/>
<path d="M487.83,550.12H498.63" stroke="#111" stroke-width="0.9" stroke-linecap="round"/>
<path d="M493.23,542.48L493.23,545.48M491.93,543.23L494.53,544.73M491.93,544.73L494.53,543.23" stroke="#4a4aff" stroke-width="0.6" fill="none"/>
<path d="M501.66,557.44H512.46" stroke="#111" stroke-width="0.9" stroke-linecap="round"/>
<path d="M507.06,548.38L507.06,551.38M505.76,549.13L508.36,550.63M505.76,550.63L508.36,549.13" stroke="#4a4aff" stroke-width="0.6" fill="none"/>
<path d="M515.49,556.02H526.29" stroke="#111" stroke-width="0.9" stroke-linecap="round"/>
<path d="M520.89,547.91L520.89,550.91M519.59,548.66L522.19,550.16M519.59,550.16L522.19,548.66" stroke="#4a4aff" stroke-width="0.6" fill="none"/>
<path d="M529.32,558.14H540.12" stroke="#111" stroke-width="0.9" stroke-linecap="round"/>
<path d="M534.72,549.56L534.72,552.56M533.42,550.31L536.02,551.81M533.42,551.81L536.02,550.31" stroke="#4a4aff" stroke-width="0.6" fill="none"/>
<path d="M543.15,546.82H553.95" stroke="#111" stroke-width="0.9" stroke-linecap="round"/>
<path d="M548.55,536.35L548.55,539.35M547.25,537.1L549.85,538.6M547.25,538.6L549.85,537.1" stroke="#4a4aff" stroke-width="0.6" fill="none"/>
<path d="M556.98,539.97H567.78" stroke="#111" stroke-width="0.9" stroke-linecap="round"/>
<path d="M562.38,534.22L562.38,537.22M561.08,534.97L563.68,536.47M561.08,536.47L563.68,534.97" stroke="#4a4aff" stroke-width="0.6" fill="none"/>
<path d="M570.81,539.97H581.61" stroke="#111" stroke-width="0.9" stroke-linecap="round"/>
<path d="M576.21,530.92L576.21,533.92M574.91,531.67L577.51,533.17M574.91,533.17L577.51,531.67" stroke="#4a4aff" stroke-width="0.6" fill="none"/>
<path d="M584.64,534.54H595.44" stroke="#111" stroke-width="0.9" stroke-linecap="round"/>
<path d="M590.04,526.2L590.04,529.2M588.74,526.95L591.34,528.45M588.74,528.45L591.34,526.95" stroke="#4a4aff" stroke-width="0.6" fill="none"/>
<path d="M598.47,546.11H609.27" stroke="#111" stroke-width="0.9" stroke-linecap="round"/>
<path d="M603.87,535.88L603.87,538.88M602.57,536.63L605.17,538.13M602.57,538.13L605.17,536.63" stroke="#4a4aff" stroke-width="0.6" fill="none"/>
<path d="M612.3,540.68H623.1" stroke="#111" stroke-width="0.9" stroke-linecap="round"/>
<path d="M617.7,532.1L617.7,535.1M616.4,532.85L619,534.35M616.4,534.35L619,532.85" stroke="#4a4aff" stroke-width="0.6" fill="none"/>
<rect x="626.23" y="580.8" width="10.6" height="4.48" fill="#fff" fill-opacity="0.85" stroke="#222" stroke-width="0.6"/>
<path d="M626.23,583.63H636.83M631.53,580.8V577.3M631.53,585.28V588.78" stroke="#222" stroke-width="0.6" fill="none"/>
<path d="M631.53,572.22L631.53,575.22M630.23,572.97L632.83,574.47M630.23,574.47L632.83,572.97" stroke="#4a4aff" stroke-width="0.6" fill="none"/>
<rect x="640.06" y="572.54" width="10.6" height="6.14" fill="#fff" fill-opacity="0.85" stroke="#222" stroke-width="0.6"/>
<path d="M640.06,575.61H650.66M645.36,572.54V569.04M645.36,578.68V582.18" stroke="#222" stroke-width="0.6" fill="none"/>
<path d="M645.36,563.72L645.36,566.72M644.06,564.47L646.66,565.97M644.06,565.97L646.66,564.47" stroke="#4a4aff" stroke-width="0.6" fill="none"/>
<rect x="653.89" y="580.8" width="10.6" height="4.48" fill="#fff" fill-opacity="0.85" stroke="#222" stroke-width="0.6"/>
<path d="M653.89,583.63H664.49M659.19,580.8V577.3M659.19,585.28V588.78" stroke="#222" stroke-width="0.6" fill="none"/>
<path d="M659.19,572.69L659.19,575.69M657.89,573.44L660.49,574.94M657.89,574.94L660.49,573.44" stroke="#4a4aff" stroke-width="0.6" fill="none"/>
<path d="M667.62,500.32H678.42" stroke="#111" stroke-width="0.9" stroke-linecap="round"/>
<path d="M673.02,492.45L673.02,495.45M671.72,493.2L674.32,494.7M671.72,494.7L674.32,493.2" stroke="#4a4aff" stroke-width="0.6" fill="none"/>
<rect x="56.4" y="475.7" width="625" height="122.4" fill="none" stroke="#333" stroke-width="0.7"/>
<text x="240.5" y="486.3" font-size="8.4" fill="#111">Accessions</text>
<circle cx="301" cy="484" r="2.1" fill="#fc8d62" fill-opacity="0.8"/>
<text x="314.3" y="487.6" font-size="8.4" fill="#111">MCC</text>
<circle cx="351.6" cy="484" r="2.1" fill="#8da0cb" fill-opacity="0.8"/>
<text x="364.9" y="487.6" font-size="8.4" fill="#111">USMC</text>
<circle cx="404" cy="484" r="2.1" fill="#66c2a5" fill-opacity="0.8"/>
<text x="417.3" y="487.6" font-size="8.4" fill="#111">Landrace</text>
<path d="M301,494.1L301,496.9M299.79,494.8L302.21,496.2M299.79,496.2L302.21,494.8" stroke="#4a4aff" stroke-width="0.6" fill="none"/>
<text x="314.3" y="497.6" font-size="8.4" fill="#111">Population level</text>
<line x1="54.199999999999996" y1="592.6" x2="56.4" y2="592.6" stroke="#333" stroke-width="0.6"/>
<text x="52.4" y="595.7" font-size="8.8" text-anchor="end" fill="#444">1</text>
<line x1="54.199999999999996" y1="569" x2="56.4" y2="569" stroke="#333" stroke-width="0.6"/>
<text x="39.8" y="572.1" font-size="8.8" fill="#444">10<tspan font-size="5.5" dy="-3.3">1</tspan></text>
<line x1="54.199999999999996" y1="545.4" x2="56.4" y2="545.4" stroke="#333" stroke-width="0.6"/>
<text x="39.8" y="548.5" font-size="8.8" fill="#444">10<tspan font-size="5.5" dy="-3.3">2</tspan></text>
<line x1="54.199999999999996" y1="521.8" x2="56.4" y2="521.8" stroke="#333" stroke-width="0.6"/>
<text x="39.8" y="524.9" font-size="8.8" fill="#444">10<tspan font-size="5.5" dy="-3.3">3</tspan></text>
<line x1="54.199999999999996" y1="498.2" x2="56.4" y2="498.2" stroke="#333" stroke-width="0.6"/>
<text x="39.8" y="501.3" font-size="8.8" fill="#444">10<tspan font-size="5.5" dy="-3.3">4</tspan></text>
<text x="0" y="0" font-size="9.7" text-anchor="middle" fill="#111" transform="translate(28.4,541.5) rotate(-90)">Expressed gene counts</text>
<line x1="64.5" y1="598.1" x2="64.5" y2="600.3000000000001" stroke="#333" stroke-width="0.6"/>
<text x="0" y="0" dy="6.6" font-size="9.2" text-anchor="end" fill="#111" transform="translate(65.3,602) rotate(-30)">01.Chinese Spring</text>
<line x1="78.33" y1="598.1" x2="78.33" y2="600.3000000000001" stroke="#333" stroke-width="0.6"/>
<line x1="92.16" y1="598.1" x2="92.16" y2="600.3000000000001" stroke="#333" stroke-width="0.6"/>
<text x="0" y="0" dy="6.6" font-size="9.2" text-anchor="end" fill="#111" transform="translate(92.96,602) rotate(-30)">03.Renan</text>
<line x1="105.99" y1="598.1" x2="105.99" y2="600.3000000000001" stroke="#333" stroke-width="0.6"/>
<line x1="119.82" y1="598.1" x2="119.82" y2="600.3000000000001" stroke="#333" stroke-width="0.6"/>
<text x="0" y="0" dy="6.6" font-size="9.2" text-anchor="end" fill="#111" transform="translate(120.62,602) rotate(-30)">05.<tspan font-style="italic">T. timopheevii</tspan></text>
<line x1="133.65" y1="598.1" x2="133.65" y2="600.3000000000001" stroke="#333" stroke-width="0.6"/>
<line x1="147.48" y1="598.1" x2="147.48" y2="600.3000000000001" stroke="#333" stroke-width="0.6"/>
<text x="0" y="0" dy="6.6" font-size="9.2" text-anchor="end" fill="#111" transform="translate(148.28,602) rotate(-30)">07.KN9204</text>
<line x1="161.31" y1="598.1" x2="161.31" y2="600.3000000000001" stroke="#333" stroke-width="0.6"/>
<line x1="175.14" y1="598.1" x2="175.14" y2="600.3000000000001" stroke="#333" stroke-width="0.6"/>
<text x="0" y="0" dy="6.6" font-size="9.2" text-anchor="end" fill="#111" transform="translate(175.94,602) rotate(-30)">09.Jagger</text>
<line x1="188.97" y1="598.1" x2="188.97" y2="600.3000000000001" stroke="#333" stroke-width="0.6"/>
<line x1="202.8" y1="598.1" x2="202.8" y2="600.3000000000001" stroke="#333" stroke-width="0.6"/>
<text x="0" y="0" dy="6.6" font-size="9.2" text-anchor="end" fill="#111" transform="translate(203.6,602) rotate(-30)">11.Lancer</text>
<line x1="216.63" y1="598.1" x2="216.63" y2="600.3000000000001" stroke="#333" stroke-width="0.6"/>
<line x1="230.46" y1="598.1" x2="230.46" y2="600.3000000000001" stroke="#333" stroke-width="0.6"/>
<text x="0" y="0" dy="6.6" font-size="9.2" text-anchor="end" fill="#111" transform="translate(231.26,602) rotate(-30)">13.Mace</text>
<line x1="244.29" y1="598.1" x2="244.29" y2="600.3000000000001" stroke="#333" stroke-width="0.6"/>
<line x1="258.12" y1="598.1" x2="258.12" y2="600.3000000000001" stroke="#333" stroke-width="0.6"/>
<text x="0" y="0" dy="6.6" font-size="9.2" text-anchor="end" fill="#111" transform="translate(258.92,602) rotate(-30)">15.Stanley</text>
<line x1="271.95" y1="598.1" x2="271.95" y2="600.3000000000001" stroke="#333" stroke-width="0.6"/>
<line x1="285.78" y1="598.1" x2="285.78" y2="600.3000000000001" stroke="#333" stroke-width="0.6"/>
<text x="0" y="0" dy="6.6" font-size="9.2" text-anchor="end" fill="#111" transform="translate(286.58,602) rotate(-30)">17.Kariega</text>
<line x1="299.61" y1="598.1" x2="299.61" y2="600.3000000000001" stroke="#333" stroke-width="0.6"/>
<line x1="313.44" y1="598.1" x2="313.44" y2="600.3000000000001" stroke="#333" stroke-width="0.6"/>
<text x="0" y="0" dy="6.6" font-size="9.2" text-anchor="end" fill="#111" transform="translate(314.24,602) rotate(-30)">19.XY6</text>
<line x1="327.27" y1="598.1" x2="327.27" y2="600.3000000000001" stroke="#333" stroke-width="0.6"/>
<line x1="341.1" y1="598.1" x2="341.1" y2="600.3000000000001" stroke="#333" stroke-width="0.6"/>
<text x="0" y="0" dy="6.6" font-size="9.2" text-anchor="end" fill="#111" transform="translate(341.9,602) rotate(-30)">21.JM22</text>
<line x1="354.93" y1="598.1" x2="354.93" y2="600.3000000000001" stroke="#333" stroke-width="0.6"/>
<line x1="368.76" y1="598.1" x2="368.76" y2="600.3000000000001" stroke="#333" stroke-width="0.6"/>
<text x="0" y="0" dy="6.6" font-size="9.2" text-anchor="end" fill="#111" transform="translate(369.56,602) rotate(-30)">23.CM104</text>
<line x1="382.59" y1="598.1" x2="382.59" y2="600.3000000000001" stroke="#333" stroke-width="0.6"/>
<line x1="396.42" y1="598.1" x2="396.42" y2="600.3000000000001" stroke="#333" stroke-width="0.6"/>
<text x="0" y="0" dy="6.6" font-size="9.2" text-anchor="end" fill="#111" transform="translate(397.22,602) rotate(-30)">25.<tspan font-style="italic">T. dicoccoides</tspan></text>
<line x1="410.25" y1="598.1" x2="410.25" y2="600.3000000000001" stroke="#333" stroke-width="0.6"/>
<line x1="424.08" y1="598.1" x2="424.08" y2="600.3000000000001" stroke="#333" stroke-width="0.6"/>
<text x="0" y="0" dy="6.6" font-size="9.2" text-anchor="end" fill="#111" transform="translate(424.88,602) rotate(-30)">27.<tspan font-style="italic">T. urartu</tspan></text>
<line x1="437.91" y1="598.1" x2="437.91" y2="600.3000000000001" stroke="#333" stroke-width="0.6"/>
<line x1="451.74" y1="598.1" x2="451.74" y2="600.3000000000001" stroke="#333" stroke-width="0.6"/>
<text x="0" y="0" dy="6.6" font-size="9.2" text-anchor="end" fill="#111" transform="translate(452.54,602) rotate(-30)">29.<tspan font-style="italic">T. monococcum</tspan><tspan font-size="7.8">_TA299</tspan></text>
<line x1="465.57" y1="598.1" x2="465.57" y2="600.3000000000001" stroke="#333" stroke-width="0.6"/>
<line x1="479.4" y1="598.1" x2="479.4" y2="600.3000000000001" stroke="#333" stroke-width="0.6"/>
<text x="0" y="0" dy="6.6" font-size="9.2" text-anchor="end" fill="#111" transform="translate(480.2,602) rotate(-30)">31.<tspan font-style="italic">Ae. speltoides</tspan><tspan font-size="7.8">_TS01</tspan></text>
<line x1="493.23" y1="598.1" x2="493.23" y2="600.3000000000001" stroke="#333" stroke-width="0.6"/>
<line x1="507.06" y1="598.1" x2="507.06" y2="600.3000000000001" stroke="#333" stroke-width="0.6"/>
<text x="0" y="0" dy="6.6" font-size="9.2" text-anchor="end" fill="#111" transform="translate(507.86,602) rotate(-30)">33.<tspan font-style="italic">Ae. longissima</tspan></text>
<line x1="520.89" y1="598.1" x2="520.89" y2="600.3000000000001" stroke="#333" stroke-width="0.6"/>
<line x1="534.72" y1="598.1" x2="534.72" y2="600.3000000000001" stroke="#333" stroke-width="0.6"/>
<text x="0" y="0" dy="6.6" font-size="9.2" text-anchor="end" fill="#111" transform="translate(535.52,602) rotate(-30)">35.<tspan font-style="italic">Ae. sharonensis</tspan></text>
<line x1="548.55" y1="598.1" x2="548.55" y2="600.3000000000001" stroke="#333" stroke-width="0.6"/>
<line x1="562.38" y1="598.1" x2="562.38" y2="600.3000000000001" stroke="#333" stroke-width="0.6"/>
<text x="0" y="0" dy="6.6" font-size="9.2" text-anchor="end" fill="#111" transform="translate(563.18,602) rotate(-30)">37.<tspan font-style="italic">Ae. tauschii</tspan><tspan font-size="7.8">_AL8</tspan></text>
<line x1="576.21" y1="598.1" x2="576.21" y2="600.3000000000001" stroke="#333" stroke-width="0.6"/>
<line x1="590.04" y1="598.1" x2="590.04" y2="600.3000000000001" stroke="#333" stroke-width="0.6"/>
<text x="0" y="0" dy="6.6" font-size="9.2" text-anchor="end" fill="#111" transform="translate(590.84,602) rotate(-30)">39.<tspan font-style="italic">Ae. tauschii</tspan><tspan font-size="7.8">_Ay61</tspan></text>
<line x1="603.87" y1="598.1" x2="603.87" y2="600.3000000000001" stroke="#333" stroke-width="0.6"/>
<line x1="617.7" y1="598.1" x2="617.7" y2="600.3000000000001" stroke="#333" stroke-width="0.6"/>
<text x="0" y="0" dy="6.6" font-size="9.2" text-anchor="end" fill="#111" transform="translate(618.5,602) rotate(-30)">41.<tspan font-style="italic">Ae. tauschii</tspan><tspan font-size="7.8">_XJ02</tspan></text>
<line x1="631.53" y1="598.1" x2="631.53" y2="600.3000000000001" stroke="#333" stroke-width="0.6"/>
<line x1="645.36" y1="598.1" x2="645.36" y2="600.3000000000001" stroke="#333" stroke-width="0.6"/>
<text x="0" y="0" dy="6.6" font-size="9.2" text-anchor="end" fill="#111" transform="translate(646.16,602) rotate(-30)">43.<tspan font-style="italic">Ae. tauschii</tspan><tspan font-size="7.8">_TA2576</tspan></text>
<line x1="659.19" y1="598.1" x2="659.19" y2="600.3000000000001" stroke="#333" stroke-width="0.6"/>
<line x1="673.02" y1="598.1" x2="673.02" y2="600.3000000000001" stroke="#333" stroke-width="0.6"/>
<text x="0" y="0" dy="6.6" font-size="9.2" text-anchor="end" fill="#111" transform="translate(673.82,602) rotate(-30)"><tspan font-weight="bold">45.Assigned</tspan></text>
</g>
<text x="1.5" y="461.8" font-size="11" font-weight="bold">d</text>
<g id="pe">
<line x1="47.97" y1="806" x2="160.29" y2="806" stroke="#e0e0e0" stroke-width="0.6"/>
<rect x="47.97" y="804.29" width="4.32" height="1.71" fill="#00bfc4" fill-opacity="0.7" stroke="#fff" stroke-width="0.25"/>
<rect x="60.93" y="804.29" width="4.32" height="1.71" fill="#00bfc4" fill-opacity="0.7" stroke="#fff" stroke-width="0.25"/>
<rect x="78.21" y="800.87" width="4.32" height="5.13" fill="#00bfc4" fill-opacity="0.7" stroke="#fff" stroke-width="0.25"/>
<rect x="82.53" y="802.58" width="4.32" height="3.42" fill="#00bfc4" fill-opacity="0.7" stroke="#fff" stroke-width="0.25"/>
<rect x="86.85" y="792.32" width="4.32" height="13.68" fill="#00bfc4" fill-opacity="0.7" stroke="#fff" stroke-width="0.25"/>
<rect x="91.17" y="785.48" width="4.32" height="20.52" fill="#00bfc4" fill-opacity="0.7" stroke="#fff" stroke-width="0.25"/>
<rect x="95.49" y="778.64" width="4.32" height="27.36" fill="#00bfc4" fill-opacity="0.7" stroke="#fff" stroke-width="0.25"/>
<rect x="99.81" y="749.57" width="4.32" height="56.43" fill="#00bfc4" fill-opacity="0.7" stroke="#fff" stroke-width="0.25"/>
<rect x="104.13" y="742.73" width="4.32" height="63.27" fill="#00bfc4" fill-opacity="0.7" stroke="#fff" stroke-width="0.25"/>
<rect x="108.45" y="727.34" width="4.32" height="78.66" fill="#00bfc4" fill-opacity="0.7" stroke="#fff" stroke-width="0.25"/>
<rect x="112.77" y="710.24" width="4.32" height="95.76" fill="#00bfc4" fill-opacity="0.7" stroke="#fff" stroke-width="0.25"/>
<rect x="117.09" y="710.24" width="4.32" height="95.76" fill="#00bfc4" fill-opacity="0.7" stroke="#fff" stroke-width="0.25"/>
<rect x="121.41" y="764.96" width="4.32" height="41.04" fill="#00bfc4" fill-opacity="0.7" stroke="#fff" stroke-width="0.25"/>
<rect x="125.73" y="783.77" width="4.32" height="22.23" fill="#00bfc4" fill-opacity="0.7" stroke="#fff" stroke-width="0.25"/>
<rect x="130.05" y="792.32" width="4.32" height="13.68" fill="#00bfc4" fill-opacity="0.7" stroke="#fff" stroke-width="0.25"/>
<rect x="134.37" y="794.03" width="4.32" height="11.97" fill="#00bfc4" fill-opacity="0.7" stroke="#fff" stroke-width="0.25"/>
<rect x="138.69" y="800.87" width="4.32" height="5.13" fill="#00bfc4" fill-opacity="0.7" stroke="#fff" stroke-width="0.25"/>
<rect x="143.01" y="804.29" width="4.32" height="1.71" fill="#00bfc4" fill-opacity="0.7" stroke="#fff" stroke-width="0.25"/>
<rect x="65.25" y="804.29" width="4.32" height="1.71" fill="#f8766d" fill-opacity="0.7" stroke="#fff" stroke-width="0.25"/>
<rect x="91.17" y="804.29" width="4.32" height="1.71" fill="#f8766d" fill-opacity="0.7" stroke="#fff" stroke-width="0.25"/>
<rect x="99.81" y="804.29" width="4.32" height="1.71" fill="#f8766d" fill-opacity="0.7" stroke="#fff" stroke-width="0.25"/>
<rect x="104.13" y="804.29" width="4.32" height="1.71" fill="#f8766d" fill-opacity="0.7" stroke="#fff" stroke-width="0.25"/>
<rect x="108.45" y="795.74" width="4.32" height="10.26" fill="#f8766d" fill-opacity="0.7" stroke="#fff" stroke-width="0.25"/>
<rect x="112.77" y="794.03" width="4.32" height="11.97" fill="#f8766d" fill-opacity="0.7" stroke="#fff" stroke-width="0.25"/>
<rect x="117.09" y="785.48" width="4.32" height="20.52" fill="#f8766d" fill-opacity="0.7" stroke="#fff" stroke-width="0.25"/>
<rect x="121.41" y="747.86" width="4.32" height="58.14" fill="#f8766d" fill-opacity="0.7" stroke="#fff" stroke-width="0.25"/>
<rect x="125.73" y="742.73" width="4.32" height="63.27" fill="#f8766d" fill-opacity="0.7" stroke="#fff" stroke-width="0.25"/>
<rect x="130.05" y="703.4" width="4.32" height="102.6" fill="#f8766d" fill-opacity="0.7" stroke="#fff" stroke-width="0.25"/>
<rect x="134.37" y="693.14" width="4.32" height="112.86" fill="#f8766d" fill-opacity="0.7" stroke="#fff" stroke-width="0.25"/>
<rect x="138.69" y="711.95" width="4.32" height="94.05" fill="#f8766d" fill-opacity="0.7" stroke="#fff" stroke-width="0.25"/>
<rect x="143.01" y="766.67" width="4.32" height="39.33" fill="#f8766d" fill-opacity="0.7" stroke="#fff" stroke-width="0.25"/>
<rect x="147.33" y="785.48" width="4.32" height="20.52" fill="#f8766d" fill-opacity="0.7" stroke="#fff" stroke-width="0.25"/>
<rect x="151.65" y="792.32" width="4.32" height="13.68" fill="#f8766d" fill-opacity="0.7" stroke="#fff" stroke-width="0.25"/>
<rect x="155.97" y="799.16" width="4.32" height="6.84" fill="#f8766d" fill-opacity="0.7" stroke="#fff" stroke-width="0.25"/>
<rect x="42.7" y="687.4" width="122.8" height="123.6" fill="none" stroke="#333" stroke-width="0.7"/>
<rect x="48.9" y="689.2" width="12" height="11.8" fill="#00bfc4" fill-opacity="0.7"/>
<rect x="48.9" y="701" width="12" height="11.8" fill="#f8766d" fill-opacity="0.7"/>
<text x="62.4" y="698.2" font-size="8.9" fill="#111">CS</text>
<text x="62.4" y="709.4" font-size="8.9" fill="#111">Pan-gene atlas</text>
<line x1="40.5" y1="806" x2="42.7" y2="806" stroke="#333" stroke-width="0.6"/>
<text x="39.1" y="809" font-size="8.4" text-anchor="end" fill="#333">0</text>
<line x1="40.5" y1="771.8" x2="42.7" y2="771.8" stroke="#333" stroke-width="0.6"/>
<text x="39.1" y="774.8" font-size="8.4" text-anchor="end" fill="#333">20</text>
<line x1="40.5" y1="737.6" x2="42.7" y2="737.6" stroke="#333" stroke-width="0.6"/>
<text x="39.1" y="740.6" font-size="8.4" text-anchor="end" fill="#333">40</text>
<line x1="40.5" y1="703.4" x2="42.7" y2="703.4" stroke="#333" stroke-width="0.6"/>
<text x="39.1" y="706.4" font-size="8.4" text-anchor="end" fill="#333">60</text>
<line x1="55.8" y1="811" x2="55.8" y2="813.2" stroke="#333" stroke-width="0.6"/>
<text x="55.8" y="823.6" font-size="8.4" text-anchor="middle" fill="#333">75</text>
<line x1="86.4" y1="811" x2="86.4" y2="813.2" stroke="#333" stroke-width="0.6"/>
<text x="86.4" y="823.6" font-size="8.4" text-anchor="middle" fill="#333">80</text>
<line x1="117" y1="811" x2="117" y2="813.2" stroke="#333" stroke-width="0.6"/>
<text x="117" y="823.6" font-size="8.4" text-anchor="middle" fill="#333">85</text>
<line x1="147.6" y1="811" x2="147.6" y2="813.2" stroke="#333" stroke-width="0.6"/>
<text x="147.6" y="823.6" font-size="8.4" text-anchor="middle" fill="#333">90</text>
<text x="109.2" y="835.6" font-size="10" text-anchor="middle" fill="#111">Mapping rate(%)</text>
<text x="0" y="0" font-size="10" text-anchor="middle" fill="#111" transform="translate(24.2,753.8) rotate(-90)">Count</text>
</g>
<text x="1" y="683.6" font-size="11" font-weight="bold">e</text>
<g id="pf">
<line x1="229.4" y1="806.8" x2="308.4" y2="806.8" stroke="#e8e8e8" stroke-width="0.6"/>
<line x1="229.4" y1="778.6" x2="308.4" y2="778.6" stroke="#e8e8e8" stroke-width="0.6"/>
<line x1="229.4" y1="750.4" x2="308.4" y2="750.4" stroke="#e8e8e8" stroke-width="0.6"/>
<line x1="229.4" y1="722.2" x2="308.4" y2="722.2" stroke="#e8e8e8" stroke-width="0.6"/>
<line x1="229.4" y1="694" x2="308.4" y2="694" stroke="#e8e8e8" stroke-width="0.6"/>
<line x1="250.5" y1="687.5" x2="250.5" y2="811.5" stroke="#e8e8e8" stroke-width="0.6"/>
<line x1="286.8" y1="687.5" x2="286.8" y2="811.5" stroke="#e8e8e8" stroke-width="0.6"/>
<rect x="241.6" y="726.43" width="17.7" height="80.37" fill="#e9a2ad"/>
<rect x="277.9" y="729.95" width="17.8" height="76.85" fill="#e9a2ad"/>
<rect x="277.9" y="715.15" width="17.8" height="14.8" fill="#5bbcd7"/>
<rect x="277.9" y="695.41" width="17.8" height="19.74" fill="#f1ecc4"/>
<rect x="277.9" y="693.58" width="17.8" height="1.83" fill="#c9a0c9"/>
<rect x="229.4" y="687.5" width="79" height="124" fill="none" stroke="#333" stroke-width="0.7"/>
<line x1="227.20000000000002" y1="806.8" x2="229.4" y2="806.8" stroke="#333" stroke-width="0.6"/>
<text x="226" y="809.8" font-size="8.3" text-anchor="end" fill="#333">0</text>
<line x1="227.20000000000002" y1="778.6" x2="229.4" y2="778.6" stroke="#333" stroke-width="0.6"/>
<text x="226" y="781.6" font-size="8.3" text-anchor="end" fill="#333">20k</text>
<line x1="227.20000000000002" y1="750.4" x2="229.4" y2="750.4" stroke="#333" stroke-width="0.6"/>
<text x="226" y="753.4" font-size="8.3" text-anchor="end" fill="#333">40k</text>
<line x1="227.20000000000002" y1="722.2" x2="229.4" y2="722.2" stroke="#333" stroke-width="0.6"/>
<text x="226" y="725.2" font-size="8.3" text-anchor="end" fill="#333">60k</text>
<line x1="227.20000000000002" y1="694" x2="229.4" y2="694" stroke="#333" stroke-width="0.6"/>
<text x="226" y="697" font-size="8.3" text-anchor="end" fill="#333">80k</text>
<line x1="250.5" y1="811.5" x2="250.5" y2="813.7" stroke="#333" stroke-width="0.6"/>
<text x="247.2" y="821.3" font-size="8.4" text-anchor="middle" fill="#333">CS</text>
<line x1="286.8" y1="811.5" x2="286.8" y2="813.7" stroke="#333" stroke-width="0.6"/>
<text x="290.4" y="821.3" font-size="8.4" text-anchor="middle" fill="#333">Pan-gene atlas</text>
<text x="269.1" y="835.2" font-size="9.7" text-anchor="middle" fill="#111">Reference</text>
<text x="0" y="0" font-size="10" text-anchor="middle" fill="#111" transform="translate(206,747) rotate(-90)">Expressed gene counts</text>
<rect x="312" y="723.2" width="11.7" height="11.7" fill="#c9a0c9"/>
<text x="327.9" y="731.8" font-size="8.4" fill="#111">Alien</text>
<rect x="312" y="735.5" width="11.7" height="11.7" fill="#f1ecc4"/>
<text x="327.9" y="744.1" font-size="8.4" fill="#111">Assigned</text>
<rect x="312" y="747.8" width="11.7" height="11.7" fill="#5bbcd7"/>
<text x="327.9" y="756.4" font-size="8.4" fill="#111">Unassigned</text>
<rect x="312" y="760.1" width="11.7" height="11.7" fill="#e9a2ad"/>
<text x="327.9" y="768.7" font-size="8.4" fill="#111">CS</text>
</g>
<text x="192" y="682.5" font-size="11" font-weight="bold">f</text>
<g id="pg">
<rect x="433.4" y="720.7" width="240.3" height="93.8" fill="#e9e4a9"/>
<path d="M433.4,776.3L434.4,776.3L434.4,777.6L435.4,777.6L435.4,778.7L436.4,778.7L436.4,778.7L437.4,778.7L437.4,777.7L438.4,777.7L438.4,777.5L439.4,777.5L439.4,777.5L440.4,777.5L440.4,777.7L441.4,777.7L441.4,777.7L442.4,777.7L442.4,779.1L443.4,779.1L443.4,779.7L444.4,779.7L444.4,777.9L445.4,777.9L445.4,779.0L446.4,779.0L446.4,776.8L447.4,776.8L447.4,777.5L448.4,777.5L448.4,777.3L449.4,777.3L449.4,777.5L450.4,777.5L450.4,775.7L451.4,775.7L451.4,776.6L452.4,776.6L452.4,778.0L453.4,778.0L453.4,778.1L454.4,778.1L454.4,778.4L455.4,778.4L455.4,778.9L456.4,778.9L456.4,779.8L457.4,779.8L457.4,779.0L458.4,779.0L458.4,777.6L459.4,777.6L459.4,778.0L460.4,778.0L460.4,777.3L461.4,777.3L461.4,778.1L462.4,778.1L462.4,779.4L463.4,779.4L463.4,777.5L464.4,777.5L464.4,779.4L465.4,779.4L465.4,778.9L466.4,778.9L466.4,778.4L467.4,778.4L467.4,777.8L468.4,777.8L468.4,778.4L469.4,778.4L469.4,778.0L470.4,778.0L470.4,778.2L471.4,778.2L471.4,777.9L472.4,777.9L472.4,777.8L473.4,777.8L473.4,778.6L474.5,778.6L474.5,776.8L475.5,776.8L475.5,777.8L476.5,777.8L476.5,779.4L477.5,779.4L477.5,779.7L478.5,779.7L478.5,779.6L479.5,779.6L479.5,777.9L480.5,777.9L480.5,778.0L481.5,778.0L481.5,778.0L482.5,778.0L482.5,778.3L483.5,778.3L483.5,778.8L484.5,778.8L484.5,778.5L485.5,778.5L485.5,778.9L486.5,778.9L486.5,778.6L487.5,778.6L487.5,778.5L488.5,778.5L488.5,779.4L489.5,779.4L489.5,779.9L490.5,779.9L490.5,780.4L491.5,780.4L491.5,778.3L492.5,778.3L492.5,779.9L493.5,779.9L493.5,782.1L494.5,782.1L494.5,781.1L495.5,781.1L495.5,780.8L496.5,780.8L496.5,782.3L497.5,782.3L497.5,781.5L498.5,781.5L498.5,780.8L499.5,780.8L499.5,778.8L500.5,778.8L500.5,778.6L501.5,778.6L501.5,778.4L502.5,778.4L502.5,779.5L503.5,779.5L503.5,778.3L504.5,778.3L504.5,780.5L505.5,780.5L505.5,781.0L506.5,781.0L506.5,779.2L507.5,779.2L507.5,779.5L508.5,779.5L508.5,781.2L509.5,781.2L509.5,780.8L510.5,780.8L510.5,780.2L511.5,780.2L511.5,780.7L512.5,780.7L512.5,779.9L513.5,779.9L513.5,781.0L514.5,781.0L514.5,780.9L515.5,780.9L515.5,781.4L516.5,781.4L516.5,780.5L517.5,780.5L517.5,780.0L518.5,780.0L518.5,779.7L519.5,779.7L519.5,780.6L520.5,780.6L520.5,781.3L521.5,781.3L521.5,779.5L522.5,779.5L522.5,781.3L523.5,781.3L523.5,781.8L524.5,781.8L524.5,781.1L525.5,781.1L525.5,782.1L526.5,782.1L526.5,783.1L527.5,783.1L527.5,781.7L528.5,781.7L528.5,781.9L529.5,781.9L529.5,781.4L530.5,781.4L530.5,780.9L531.5,780.9L531.5,780.2L532.5,780.2L532.5,780.9L533.5,780.9L533.5,782.2L534.5,782.2L534.5,780.7L535.5,780.7L535.5,781.3L536.5,781.3L536.5,779.8L537.5,779.8L537.5,779.5L538.5,779.5L538.5,780.3L539.5,780.3L539.5,779.1L540.5,779.1L540.5,779.9L541.5,779.9L541.5,781.0L542.5,781.0L542.5,779.5L543.5,779.5L543.5,780.4L544.5,780.4L544.5,781.4L545.5,781.4L545.5,781.9L546.5,781.9L546.5,780.1L547.5,780.1L547.5,781.2L548.5,781.2L548.5,782.3L549.5,782.3L549.5,781.5L550.5,781.5L550.5,781.2L551.5,781.2L551.5,782.0L552.5,782.0L552.5,781.0L553.6,781.0L553.5,782.4L554.6,782.4L554.6,783.6L555.6,783.6L555.6,783.1L556.6,783.1L556.6,783.6L557.6,783.6L557.6,784.0L558.6,784.0L558.6,783.1L559.6,783.1L559.6,782.3L560.6,782.3L560.6,782.0L561.6,782.0L561.6,782.9L562.6,782.9L562.6,782.7L563.6,782.7L563.6,781.9L564.6,781.9L564.6,782.5L565.6,782.5L565.6,782.7L566.6,782.7L566.6,781.8L567.6,781.8L567.6,782.9L568.6,782.9L568.6,783.9L569.6,783.9L569.6,782.3L570.6,782.3L570.6,781.7L571.6,781.7L571.6,782.6L572.6,782.6L572.6,783.9L573.6,783.9L573.6,783.0L574.6,783.0L574.6,783.3L575.6,783.3L575.6,783.0L576.6,783.0L576.6,783.7L577.6,783.7L577.6,782.6L578.6,782.6L578.6,783.0L579.6,783.0L579.6,781.6L580.6,781.6L580.6,783.9L581.6,783.9L581.6,783.7L582.6,783.7L582.6,783.5L583.6,783.5L583.6,783.6L584.6,783.6L584.6,782.4L585.6,782.4L585.6,782.1L586.6,782.1L586.6,782.8L587.6,782.8L587.6,783.6L588.6,783.6L588.6,782.7L589.6,782.7L589.6,784.3L590.6,784.3L590.6,783.9L591.6,783.9L591.6,782.7L592.6,782.7L592.6,782.7L593.6,782.7L593.6,781.9L594.6,781.9L594.6,781.9L595.6,781.9L595.6,783.4L596.6,783.4L596.6,784.6L597.6,784.6L597.6,783.9L598.6,783.9L598.6,784.1L599.6,784.1L599.6,783.4L600.6,783.4L600.6,783.3L601.6,783.3L601.6,782.8L602.6,782.8L602.6,781.8L603.6,781.8L603.6,783.1L604.6,783.1L604.6,783.9L605.6,783.9L605.6,784.1L606.6,784.1L606.6,784.6L607.6,784.6L607.6,784.3L608.6,784.3L608.6,783.1L609.6,783.1L609.6,783.7L610.6,783.7L610.6,783.4L611.6,783.4L611.6,783.6L612.6,783.6L612.6,784.1L613.6,784.1L613.6,785.7L614.6,785.7L614.6,785.7L615.6,785.7L615.6,784.0L616.6,784.0L616.6,785.4L617.6,785.4L617.6,783.9L618.6,783.9L618.6,782.3L619.6,782.3L619.6,782.3L620.6,782.3L620.6,783.0L621.6,783.0L621.6,783.6L622.6,783.6L622.6,782.4L623.6,782.4L623.6,782.5L624.6,782.5L624.6,783.3L625.6,783.3L625.6,784.4L626.6,784.4L626.6,784.2L627.6,784.2L627.6,784.1L628.6,784.1L628.6,784.2L629.6,784.2L629.6,783.5L630.6,783.5L630.6,784.2L631.6,784.2L631.6,783.4L632.6,783.4L632.6,782.2L633.7,782.2L633.6,783.4L634.7,783.4L634.7,785.5L635.7,785.5L635.7,784.1L636.7,784.1L636.7,784.9L637.7,784.9L637.7,786.1L638.7,786.1L638.7,784.5L639.7,784.5L639.7,785.2L640.7,785.2L640.7,784.8L641.7,784.8L641.7,785.4L642.7,785.4L642.7,785.6L643.7,785.6L643.7,784.9L644.7,784.9L644.7,786.6L645.7,786.6L645.7,785.5L646.7,785.5L646.7,785.4L647.7,785.4L647.7,786.0L648.7,786.0L648.7,785.7L649.7,785.7L649.7,784.4L650.7,784.4L650.7,784.4L651.7,784.4L651.7,783.1L652.7,783.1L652.7,783.9L653.7,783.9L653.7,784.2L654.7,784.2L654.7,784.0L655.7,784.0L655.7,783.9L656.7,783.9L656.7,785.0L657.7,785.0L657.7,785.5L658.7,785.5L658.7,786.5L659.7,786.5L659.7,786.0L660.7,786.0L660.7,785.8L661.7,785.8L661.7,785.1L662.7,785.1L662.7,783.4L663.7,783.4L663.7,784.9L664.7,784.9L664.7,784.5L665.7,784.5L665.7,785.1L666.7,785.1L666.7,785.2L667.7,785.2L667.7,785.6L668.7,785.6L668.7,787.0L669.7,787.0L669.7,785.4L670.7,785.4L670.7,785.5L671.7,785.5L671.7,786.3L672.7,786.3L672.7,787.9L673.7,787.9L673.7,814.5L672.7,814.5L672.7,814.5L671.7,814.5L671.7,814.5L670.7,814.5L670.7,814.5L669.7,814.5L669.7,814.5L668.7,814.5L668.7,814.5L667.7,814.5L667.7,814.5L666.7,814.5L666.7,814.5L665.7,814.5L665.7,814.5L664.7,814.5L664.7,814.5L663.7,814.5L663.7,814.5L662.7,814.5L662.7,814.5L661.7,814.5L661.7,814.5L660.7,814.5L660.7,814.5L659.7,814.5L659.7,814.5L658.7,814.5L658.7,814.5L657.7,814.5L657.7,814.5L656.7,814.5L656.7,814.5L655.7,814.5L655.7,814.5L654.7,814.5L654.7,814.5L653.7,814.5L653.7,814.5L652.7,814.5L652.7,814.5L651.7,814.5L651.7,814.5L650.7,814.5L650.7,814.5L649.7,814.5L649.7,814.5L648.7,814.5L648.7,814.5L647.7,814.5L647.7,814.5L646.7,814.5L646.7,814.5L645.7,814.5L645.7,814.5L644.7,814.5L644.7,814.5L643.7,814.5L643.7,814.5L642.7,814.5L642.7,814.5L641.7,814.5L641.7,814.5L640.7,814.5L640.7,814.5L639.7,814.5L639.7,814.5L638.7,814.5L638.7,814.5L637.7,814.5L637.7,814.5L636.7,814.5L636.7,814.5L635.7,814.5L635.7,814.5L634.7,814.5L634.7,814.5L633.6,814.5L633.7,814.5L632.6,814.5L632.6,814.5L631.6,814.5L631.6,814.5L630.6,814.5L630.6,814.5L629.6,814.5L629.6,814.5L628.6,814.5L628.6,814.5L627.6,814.5L627.6,814.5L626.6,814.5L626.6,814.5L625.6,814.5L625.6,814.5L624.6,814.5L624.6,814.5L623.6,814.5L623.6,814.5L622.6,814.5L622.6,814.5L621.6,814.5L621.6,814.5L620.6,814.5L620.6,814.5L619.6,814.5L619.6,814.5L618.6,814.5L618.6,814.5L617.6,814.5L617.6,814.5L616.6,814.5L616.6,814.5L615.6,814.5L615.6,814.5L614.6,814.5L614.6,814.5L613.6,814.5L613.6,814.5L612.6,814.5L612.6,814.5L611.6,814.5L611.6,814.5L610.6,814.5L610.6,814.5L609.6,814.5L609.6,814.5L608.6,814.5L608.6,814.5L607.6,814.5L607.6,814.5L606.6,814.5L606.6,814.5L605.6,814.5L605.6,814.5L604.6,814.5L604.6,814.5L603.6,814.5L603.6,814.5L602.6,814.5L602.6,814.5L601.6,814.5L601.6,814.5L600.6,814.5L600.6,814.5L599.6,814.5L599.6,814.5L598.6,814.5L598.6,814.5L597.6,814.5L597.6,814.5L596.6,814.5L596.6,814.5L595.6,814.5L595.6,814.5L594.6,814.5L594.6,814.5L593.6,814.5L593.6,814.5L592.6,814.5L592.6,814.5L591.6,814.5L591.6,814.5L590.6,814.5L590.6,814.5L589.6,814.5L589.6,814.5L588.6,814.5L588.6,814.5L587.6,814.5L587.6,814.5L586.6,814.5L586.6,814.5L585.6,814.5L585.6,814.5L584.6,814.5L584.6,814.5L583.6,814.5L583.6,814.5L582.6,814.5L582.6,814.5L581.6,814.5L581.6,814.5L580.6,814.5L580.6,814.5L579.6,814.5L579.6,814.5L578.6,814.5L578.6,814.5L577.6,814.5L577.6,814.5L576.6,814.5L576.6,814.5L575.6,814.5L575.6,814.5L574.6,814.5L574.6,814.5L573.6,814.5L573.6,814.5L572.6,814.5L572.6,814.5L571.6,814.5L571.6,814.5L570.6,814.5L570.6,814.5L569.6,814.5L569.6,814.5L568.6,814.5L568.6,814.5L567.6,814.5L567.6,814.5L566.6,814.5L566.6,814.5L565.6,814.5L565.6,814.5L564.6,814.5L564.6,814.5L563.6,814.5L563.6,814.5L562.6,814.5L562.6,814.5L561.6,814.5L561.6,814.5L560.6,814.5L560.6,814.5L559.6,814.5L559.6,814.5L558.6,814.5L558.6,814.5L557.6,814.5L557.6,814.5L556.6,814.5L556.6,814.5L555.6,814.5L555.6,814.5L554.6,814.5L554.6,814.5L553.5,814.5L553.6,814.5L552.5,814.5L552.5,814.5L551.5,814.5L551.5,814.5L550.5,814.5L550.5,814.5L549.5,814.5L549.5,814.5L548.5,814.5L548.5,814.5L547.5,814.5L547.5,814.5L546.5,814.5L546.5,814.5L545.5,814.5L545.5,814.5L544.5,814.5L544.5,814.5L543.5,814.5L543.5,814.5L542.5,814.5L542.5,814.5L541.5,814.5L541.5,814.5L540.5,814.5L540.5,814.5L539.5,814.5L539.5,814.5L538.5,814.5L538.5,814.5L537.5,814.5L537.5,814.5L536.5,814.5L536.5,814.5L535.5,814.5L535.5,814.5L534.5,814.5L534.5,814.5L533.5,814.5L533.5,814.5L532.5,814.5L532.5,814.5L531.5,814.5L531.5,814.5L530.5,814.5L530.5,814.5L529.5,814.5L529.5,814.5L528.5,814.5L528.5,814.5L527.5,814.5L527.5,814.5L526.5,814.5L526.5,814.5L525.5,814.5L525.5,814.5L524.5,814.5L524.5,814.5L523.5,814.5L523.5,814.5L522.5,814.5L522.5,814.5L521.5,814.5L521.5,814.5L520.5,814.5L520.5,814.5L519.5,814.5L519.5,814.5L518.5,814.5L518.5,814.5L517.5,814.5L517.5,814.5L516.5,814.5L516.5,814.5L515.5,814.5L515.5,814.5L514.5,814.5L514.5,814.5L513.5,814.5L513.5,814.5L512.5,814.5L512.5,814.5L511.5,814.5L511.5,814.5L510.5,814.5L510.5,814.5L509.5,814.5L509.5,814.5L508.5,814.5L508.5,814.5L507.5,814.5L507.5,814.5L506.5,814.5L506.5,814.5L505.5,814.5L505.5,814.5L504.5,814.5L504.5,814.5L503.5,814.5L503.5,814.5L502.5,814.5L502.5,814.5L501.5,814.5L501.5,814.5L500.5,814.5L500.5,814.5L499.5,814.5L499.5,814.5L498.5,814.5L498.5,814.5L497.5,814.5L497.5,814.5L496.5,814.5L496.5,814.5L495.5,814.5L495.5,814.5L494.5,814.5L494.5,814.5L493.5,814.5L493.5,814.5L492.5,814.5L492.5,814.5L491.5,814.5L491.5,814.5L490.5,814.5L490.5,814.5L489.5,814.5L489.5,814.5L488.5,814.5L488.5,814.5L487.5,814.5L487.5,814.5L486.5,814.5L486.5,814.5L485.5,814.5L485.5,814.5L484.5,814.5L484.5,814.5L483.5,814.5L483.5,814.5L482.5,814.5L482.5,814.5L481.5,814.5L481.5,814.5L480.5,814.5L480.5,814.5L479.5,814.5L479.5,814.5L478.5,814.5L478.5,814.5L477.5,814.5L477.5,814.5L476.5,814.5L476.5,814.5L475.5,814.5L475.5,814.5L474.5,814.5L474.5,814.5L473.4,814.5L473.4,814.5L472.4,814.5L472.4,814.5L471.4,814.5L471.4,814.5L470.4,814.5L470.4,814.5L469.4,814.5L469.4,814.5L468.4,814.5L468.4,814.5L467.4,814.5L467.4,814.5L466.4,814.5L466.4,814.5L465.4,814.5L465.4,814.5L464.4,814.5L464.4,814.5L463.4,814.5L463.4,814.5L462.4,814.5L462.4,814.5L461.4,814.5L461.4,814.5L460.4,814.5L460.4,814.5L459.4,814.5L459.4,814.5L458.4,814.5L458.4,814.5L457.4,814.5L457.4,814.5L456.4,814.5L456.4,814.5L455.4,814.5L455.4,814.5L454.4,814.5L454.4,814.5L453.4,814.5L453.4,814.5L452.4,814.5L452.4,814.5L451.4,814.5L451.4,814.5L450.4,814.5L450.4,814.5L449.4,814.5L449.4,814.5L448.4,814.5L448.4,814.5L447.4,814.5L447.4,814.5L446.4,814.5L446.4,814.5L445.4,814.5L445.4,814.5L444.4,814.5L444.4,814.5L443.4,814.5L443.4,814.5L442.4,814.5L442.4,814.5L441.4,814.5L441.4,814.5L440.4,814.5L440.4,814.5L439.4,814.5L439.4,814.5L438.4,814.5L438.4,814.5L437.4,814.5L437.4,814.5L436.4,814.5L436.4,814.5L435.4,814.5L435.4,814.5L434.4,814.5L434.4,814.5L433.4,814.5Z" fill="#dc7b8b"/>
<path d="M433.4,765.5L434.4,765.5L434.4,768.1L435.4,768.1L435.4,767.7L436.4,767.7L436.4,768.6L437.4,768.6L437.4,768.8L438.4,768.8L438.4,768.4L439.4,768.4L439.4,767.5L440.4,767.5L440.4,766.7L441.4,766.7L441.4,769.0L442.4,769.0L442.4,769.6L443.4,769.6L443.4,770.6L444.4,770.6L444.4,768.5L445.4,768.5L445.4,768.8L446.4,768.8L446.4,766.7L447.4,766.7L447.4,767.1L448.4,767.1L448.4,766.3L449.4,766.3L449.4,766.0L450.4,766.0L450.4,765.2L451.4,765.2L451.4,767.8L452.4,767.8L452.4,767.4L453.4,767.4L453.4,767.6L454.4,767.6L454.4,766.5L455.4,766.5L455.4,766.9L456.4,766.9L456.4,768.4L457.4,768.4L457.4,767.2L458.4,767.2L458.4,767.3L459.4,767.3L459.4,767.8L460.4,767.8L460.4,766.5L461.4,766.5L461.4,767.5L462.4,767.5L462.4,769.8L463.4,769.8L463.4,766.8L464.4,766.8L464.4,769.4L465.4,769.4L465.4,767.6L466.4,767.6L466.4,766.9L467.4,766.9L467.4,767.3L468.4,767.3L468.4,769.5L469.4,769.5L469.4,767.5L470.4,767.5L470.4,767.9L471.4,767.9L471.4,769.8L472.4,769.8L472.4,768.4L473.4,768.4L473.4,768.0L474.5,768.0L474.5,765.9L475.5,765.9L475.5,768.1L476.5,768.1L476.5,768.4L477.5,768.4L477.5,770.1L478.5,770.1L478.5,769.5L479.5,769.5L479.5,769.0L480.5,769.0L480.5,768.3L481.5,768.3L481.5,767.2L482.5,767.2L482.5,767.7L483.5,767.7L483.5,768.6L484.5,768.6L484.5,767.6L485.5,767.6L485.5,769.0L486.5,769.0L486.5,768.0L487.5,768.0L487.5,769.1L488.5,769.1L488.5,768.5L489.5,768.5L489.5,769.3L490.5,769.3L490.5,767.8L491.5,767.8L491.5,766.5L492.5,766.5L492.5,768.7L493.5,768.7L493.5,771.8L494.5,771.8L494.5,772.3L495.5,772.3L495.5,771.5L496.5,771.5L496.5,771.8L497.5,771.8L497.5,771.5L498.5,771.5L498.5,771.6L499.5,771.6L499.5,768.4L500.5,768.4L500.5,770.3L501.5,770.3L501.5,768.2L502.5,768.2L502.5,768.2L503.5,768.2L503.5,767.6L504.5,767.6L504.5,769.0L505.5,769.0L505.5,769.3L506.5,769.3L506.5,769.2L507.5,769.2L507.5,768.8L508.5,768.8L508.5,771.5L509.5,771.5L509.5,771.1L510.5,771.1L510.5,769.2L511.5,769.2L511.5,770.9L512.5,770.9L512.5,769.1L513.5,769.1L513.5,770.7L514.5,770.7L514.5,770.0L515.5,770.0L515.5,771.3L516.5,771.3L516.5,770.7L517.5,770.7L517.5,770.0L518.5,770.0L518.5,769.3L519.5,769.3L519.5,770.5L520.5,770.5L520.5,771.7L521.5,771.7L521.5,769.9L522.5,769.9L522.5,769.6L523.5,769.6L523.5,772.1L524.5,772.1L524.5,771.3L525.5,771.3L525.5,772.6L526.5,772.6L526.5,772.3L527.5,772.3L527.5,771.2L528.5,771.2L528.5,772.5L529.5,772.5L529.5,771.2L530.5,771.2L530.5,770.3L531.5,770.3L531.5,770.3L532.5,770.3L532.5,771.9L533.5,771.9L533.5,772.0L534.5,772.0L534.5,770.8L535.5,770.8L535.5,771.5L536.5,771.5L536.5,770.7L537.5,770.7L537.5,770.2L538.5,770.2L538.5,769.0L539.5,769.0L539.5,768.8L540.5,768.8L540.5,769.1L541.5,769.1L541.5,771.6L542.5,771.6L542.5,769.4L543.5,769.4L543.5,768.0L544.5,768.0L544.5,769.0L545.5,769.0L545.5,771.6L546.5,771.6L546.5,769.4L547.5,769.4L547.5,770.5L548.5,770.5L548.5,771.6L549.5,771.6L549.5,771.1L550.5,771.1L550.5,770.6L551.5,770.6L551.5,773.0L552.5,773.0L552.5,771.7L553.6,771.7L553.5,772.2L554.6,772.2L554.6,774.1L555.6,774.1L555.6,772.7L556.6,772.7L556.6,774.8L557.6,774.8L557.6,773.8L558.6,773.8L558.6,772.8L559.6,772.8L559.6,771.5L560.6,771.5L560.6,769.8L561.6,769.8L561.6,772.0L562.6,772.0L562.6,772.7L563.6,772.7L563.6,771.8L564.6,771.8L564.6,771.8L565.6,771.8L565.6,773.1L566.6,773.1L566.6,772.6L567.6,772.6L567.6,771.5L568.6,771.5L568.6,774.0L569.6,774.0L569.6,772.4L570.6,772.4L570.6,771.0L571.6,771.0L571.6,773.3L572.6,773.3L572.6,774.1L573.6,774.1L573.6,772.9L574.6,772.9L574.6,773.7L575.6,773.7L575.6,772.3L576.6,772.3L576.6,774.3L577.6,774.3L577.6,774.7L578.6,774.7L578.6,772.2L579.6,772.2L579.6,772.2L580.6,772.2L580.6,772.7L581.6,772.7L581.6,771.2L582.6,771.2L582.6,772.9L583.6,772.9L583.6,772.3L584.6,772.3L584.6,771.9L585.6,771.9L585.6,771.6L586.6,771.6L586.6,774.3L587.6,774.3L587.6,774.4L588.6,774.4L588.6,772.0L589.6,772.0L589.6,772.5L590.6,772.5L590.6,773.9L591.6,773.9L591.6,773.2L592.6,773.2L592.6,771.3L593.6,771.3L593.6,770.6L594.6,770.6L594.6,770.7L595.6,770.7L595.6,773.6L596.6,773.6L596.6,774.9L597.6,774.9L597.6,772.8L598.6,772.8L598.6,773.5L599.6,773.5L599.6,774.2L600.6,774.2L600.6,774.5L601.6,774.5L601.6,773.0L602.6,773.0L602.6,771.5L603.6,771.5L603.6,771.8L604.6,771.8L604.6,773.0L605.6,773.0L605.6,773.0L606.6,773.0L606.6,774.0L607.6,774.0L607.6,774.9L608.6,774.9L608.6,773.3L609.6,773.3L609.6,773.9L610.6,773.9L610.6,773.9L611.6,773.9L611.6,774.7L612.6,774.7L612.6,774.6L613.6,774.6L613.6,775.2L614.6,775.2L614.6,773.5L615.6,773.5L615.6,770.9L616.6,770.9L616.6,775.1L617.6,775.1L617.6,773.7L618.6,773.7L618.6,771.9L619.6,771.9L619.6,772.8L620.6,772.8L620.6,775.1L621.6,775.1L621.6,774.9L622.6,774.9L622.6,772.2L623.6,772.2L623.6,771.9L624.6,771.9L624.6,774.1L625.6,774.1L625.6,775.9L626.6,775.9L626.6,775.5L627.6,775.5L627.6,776.3L628.6,776.3L628.6,775.3L629.6,775.3L629.6,775.3L630.6,775.3L630.6,775.4L631.6,775.4L631.6,772.8L632.6,772.8L632.6,771.8L633.7,771.8L633.6,772.3L634.7,772.3L634.7,775.6L635.7,775.6L635.7,774.5L636.7,774.5L636.7,776.1L637.7,776.1L637.7,776.2L638.7,776.2L638.7,774.7L639.7,774.7L639.7,775.3L640.7,775.3L640.7,774.2L641.7,774.2L641.7,773.3L642.7,773.3L642.7,776.6L643.7,776.6L643.7,775.0L644.7,775.0L644.7,775.9L645.7,775.9L645.7,775.1L646.7,775.1L646.7,773.9L647.7,773.9L647.7,775.5L648.7,775.5L648.7,776.1L649.7,776.1L649.7,774.1L650.7,774.1L650.7,775.1L651.7,775.1L651.7,774.2L652.7,774.2L652.7,774.3L653.7,774.3L653.7,774.6L654.7,774.6L654.7,774.0L655.7,774.0L655.7,771.5L656.7,771.5L656.7,773.4L657.7,773.4L657.7,775.0L658.7,775.0L658.7,775.4L659.7,775.4L659.7,774.7L660.7,774.7L660.7,775.4L661.7,775.4L661.7,773.3L662.7,773.3L662.7,771.6L663.7,771.6L663.7,775.2L664.7,775.2L664.7,773.8L665.7,773.8L665.7,774.9L666.7,774.9L666.7,774.6L667.7,774.6L667.7,775.0L668.7,775.0L668.7,775.2L669.7,775.2L669.7,775.9L670.7,775.9L670.7,776.0L671.7,776.0L671.7,776.6L672.7,776.6L672.7,779.2L673.7,779.2L673.7,787.9L672.7,787.9L672.7,786.3L671.7,786.3L671.7,785.5L670.7,785.5L670.7,785.4L669.7,785.4L669.7,787.0L668.7,787.0L668.7,785.6L667.7,785.6L667.7,785.2L666.7,785.2L666.7,785.1L665.7,785.1L665.7,784.5L664.7,784.5L664.7,784.9L663.7,784.9L663.7,783.4L662.7,783.4L662.7,785.1L661.7,785.1L661.7,785.8L660.7,785.8L660.7,786.0L659.7,786.0L659.7,786.5L658.7,786.5L658.7,785.5L657.7,785.5L657.7,785.0L656.7,785.0L656.7,783.9L655.7,783.9L655.7,784.0L654.7,784.0L654.7,784.2L653.7,784.2L653.7,783.9L652.7,783.9L652.7,783.1L651.7,783.1L651.7,784.4L650.7,784.4L650.7,784.4L649.7,784.4L649.7,785.7L648.7,785.7L648.7,786.0L647.7,786.0L647.7,785.4L646.7,785.4L646.7,785.5L645.7,785.5L645.7,786.6L644.7,786.6L644.7,784.9L643.7,784.9L643.7,785.6L642.7,785.6L642.7,785.4L641.7,785.4L641.7,784.8L640.7,784.8L640.7,785.2L639.7,785.2L639.7,784.5L638.7,784.5L638.7,786.1L637.7,786.1L637.7,784.9L636.7,784.9L636.7,784.1L635.7,784.1L635.7,785.5L634.7,785.5L634.7,783.4L633.6,783.4L633.7,782.2L632.6,782.2L632.6,783.4L631.6,783.4L631.6,784.2L630.6,784.2L630.6,783.5L629.6,783.5L629.6,784.2L628.6,784.2L628.6,784.1L627.6,784.1L627.6,784.2L626.6,784.2L626.6,784.4L625.6,784.4L625.6,783.3L624.6,783.3L624.6,782.5L623.6,782.5L623.6,782.4L622.6,782.4L622.6,783.6L621.6,783.6L621.6,783.0L620.6,783.0L620.6,782.3L619.6,782.3L619.6,782.3L618.6,782.3L618.6,783.9L617.6,783.9L617.6,785.4L616.6,785.4L616.6,784.0L615.6,784.0L615.6,785.7L614.6,785.7L614.6,785.7L613.6,785.7L613.6,784.1L612.6,784.1L612.6,783.6L611.6,783.6L611.6,783.4L610.6,783.4L610.6,783.7L609.6,783.7L609.6,783.1L608.6,783.1L608.6,784.3L607.6,784.3L607.6,784.6L606.6,784.6L606.6,784.1L605.6,784.1L605.6,783.9L604.6,783.9L604.6,783.1L603.6,783.1L603.6,781.8L602.6,781.8L602.6,782.8L601.6,782.8L601.6,783.3L600.6,783.3L600.6,783.4L599.6,783.4L599.6,784.1L598.6,784.1L598.6,783.9L597.6,783.9L597.6,784.6L596.6,784.6L596.6,783.4L595.6,783.4L595.6,781.9L594.6,781.9L594.6,781.9L593.6,781.9L593.6,782.7L592.6,782.7L592.6,782.7L591.6,782.7L591.6,783.9L590.6,783.9L590.6,784.3L589.6,784.3L589.6,782.7L588.6,782.7L588.6,783.6L587.6,783.6L587.6,782.8L586.6,782.8L586.6,782.1L585.6,782.1L585.6,782.4L584.6,782.4L584.6,783.6L583.6,783.6L583.6,783.5L582.6,783.5L582.6,783.7L581.6,783.7L581.6,783.9L580.6,783.9L580.6,781.6L579.6,781.6L579.6,783.0L578.6,783.0L578.6,782.6L577.6,782.6L577.6,783.7L576.6,783.7L576.6,783.0L575.6,783.0L575.6,783.3L574.6,783.3L574.6,783.0L573.6,783.0L573.6,783.9L572.6,783.9L572.6,782.6L571.6,782.6L571.6,781.7L570.6,781.7L570.6,782.3L569.6,782.3L569.6,783.9L568.6,783.9L568.6,782.9L567.6,782.9L567.6,781.8L566.6,781.8L566.6,782.7L565.6,782.7L565.6,782.5L564.6,782.5L564.6,781.9L563.6,781.9L563.6,782.7L562.6,782.7L562.6,782.9L561.6,782.9L561.6,782.0L560.6,782.0L560.6,782.3L559.6,782.3L559.6,783.1L558.6,783.1L558.6,784.0L557.6,784.0L557.6,783.6L556.6,783.6L556.6,783.1L555.6,783.1L555.6,783.6L554.6,783.6L554.6,782.4L553.5,782.4L553.6,781.0L552.5,781.0L552.5,782.0L551.5,782.0L551.5,781.2L550.5,781.2L550.5,781.5L549.5,781.5L549.5,782.3L548.5,782.3L548.5,781.2L547.5,781.2L547.5,780.1L546.5,780.1L546.5,781.9L545.5,781.9L545.5,781.4L544.5,781.4L544.5,780.4L543.5,780.4L543.5,779.5L542.5,779.5L542.5,781.0L541.5,781.0L541.5,779.9L540.5,779.9L540.5,779.1L539.5,779.1L539.5,780.3L538.5,780.3L538.5,779.5L537.5,779.5L537.5,779.8L536.5,779.8L536.5,781.3L535.5,781.3L535.5,780.7L534.5,780.7L534.5,782.2L533.5,782.2L533.5,780.9L532.5,780.9L532.5,780.2L531.5,780.2L531.5,780.9L530.5,780.9L530.5,781.4L529.5,781.4L529.5,781.9L528.5,781.9L528.5,781.7L527.5,781.7L527.5,783.1L526.5,783.1L526.5,782.1L525.5,782.1L525.5,781.1L524.5,781.1L524.5,781.8L523.5,781.8L523.5,781.3L522.5,781.3L522.5,779.5L521.5,779.5L521.5,781.3L520.5,781.3L520.5,780.6L519.5,780.6L519.5,779.7L518.5,779.7L518.5,780.0L517.5,780.0L517.5,780.5L516.5,780.5L516.5,781.4L515.5,781.4L515.5,780.9L514.5,780.9L514.5,781.0L513.5,781.0L513.5,779.9L512.5,779.9L512.5,780.7L511.5,780.7L511.5,780.2L510.5,780.2L510.5,780.8L509.5,780.8L509.5,781.2L508.5,781.2L508.5,779.5L507.5,779.5L507.5,779.2L506.5,779.2L506.5,781.0L505.5,781.0L505.5,780.5L504.5,780.5L504.5,778.3L503.5,778.3L503.5,779.5L502.5,779.5L502.5,778.4L501.5,778.4L501.5,778.6L500.5,778.6L500.5,778.8L499.5,778.8L499.5,780.8L498.5,780.8L498.5,781.5L497.5,781.5L497.5,782.3L496.5,782.3L496.5,780.8L495.5,780.8L495.5,781.1L494.5,781.1L494.5,782.1L493.5,782.1L493.5,779.9L492.5,779.9L492.5,778.3L491.5,778.3L491.5,780.4L490.5,780.4L490.5,779.9L489.5,779.9L489.5,779.4L488.5,779.4L488.5,778.5L487.5,778.5L487.5,778.6L486.5,778.6L486.5,778.9L485.5,778.9L485.5,778.5L484.5,778.5L484.5,778.8L483.5,778.8L483.5,778.3L482.5,778.3L482.5,778.0L481.5,778.0L481.5,778.0L480.5,778.0L480.5,777.9L479.5,777.9L479.5,779.6L478.5,779.6L478.5,779.7L477.5,779.7L477.5,779.4L476.5,779.4L476.5,777.8L475.5,777.8L475.5,776.8L474.5,776.8L474.5,778.6L473.4,778.6L473.4,777.8L472.4,777.8L472.4,777.9L471.4,777.9L471.4,778.2L470.4,778.2L470.4,778.0L469.4,778.0L469.4,778.4L468.4,778.4L468.4,777.8L467.4,777.8L467.4,778.4L466.4,778.4L466.4,778.9L465.4,778.9L465.4,779.4L464.4,779.4L464.4,777.5L463.4,777.5L463.4,779.4L462.4,779.4L462.4,778.1L461.4,778.1L461.4,777.3L460.4,777.3L460.4,778.0L459.4,778.0L459.4,777.6L458.4,777.6L458.4,779.0L457.4,779.0L457.4,779.8L456.4,779.8L456.4,778.9L455.4,778.9L455.4,778.4L454.4,778.4L454.4,778.1L453.4,778.1L453.4,778.0L452.4,778.0L452.4,776.6L451.4,776.6L451.4,775.7L450.4,775.7L450.4,777.5L449.4,777.5L449.4,777.3L448.4,777.3L448.4,777.5L447.4,777.5L447.4,776.8L446.4,776.8L446.4,779.0L445.4,779.0L445.4,777.9L444.4,777.9L444.4,779.7L443.4,779.7L443.4,779.1L442.4,779.1L442.4,777.7L441.4,777.7L441.4,777.7L440.4,777.7L440.4,777.5L439.4,777.5L439.4,777.5L438.4,777.5L438.4,777.7L437.4,777.7L437.4,778.7L436.4,778.7L436.4,778.7L435.4,778.7L435.4,777.6L434.4,777.6L434.4,776.3L433.4,776.3Z" fill="#30b6c6"/>
<path d="M433.4,762.9L434.4,762.9L434.4,765.2L435.4,765.2L435.4,765.2L436.4,765.2L436.4,765.4L437.4,765.4L437.4,765.9L438.4,765.9L438.4,765.7L439.4,765.7L439.4,764.9L440.4,764.9L440.4,762.9L441.4,762.9L441.4,766.1L442.4,766.1L442.4,766.7L443.4,766.7L443.4,767.4L444.4,767.4L444.4,764.8L445.4,764.8L445.4,766.0L446.4,766.0L446.4,764.1L447.4,764.1L447.4,763.7L448.4,763.7L448.4,763.1L449.4,763.1L449.4,763.3L450.4,763.3L450.4,761.8L451.4,761.8L451.4,764.5L452.4,764.5L452.4,764.3L453.4,764.3L453.4,764.9L454.4,764.9L454.4,764.0L455.4,764.0L455.4,764.2L456.4,764.2L456.4,766.0L457.4,766.0L457.4,763.8L458.4,763.8L458.4,764.1L459.4,764.1L459.4,764.4L460.4,764.4L460.4,763.8L461.4,763.8L461.4,764.1L462.4,764.1L462.4,766.9L463.4,766.9L463.4,762.9L464.4,762.9L464.4,766.3L465.4,766.3L465.4,764.3L466.4,764.3L466.4,763.2L467.4,763.2L467.4,763.8L468.4,763.8L468.4,765.6L469.4,765.6L469.4,764.3L470.4,764.3L470.4,763.9L471.4,763.9L471.4,767.1L472.4,767.1L472.4,765.4L473.4,765.4L473.4,764.2L474.5,764.2L474.5,762.9L475.5,762.9L475.5,765.3L476.5,765.3L476.5,765.1L477.5,765.1L477.5,766.4L478.5,766.4L478.5,765.8L479.5,765.8L479.5,766.5L480.5,766.5L480.5,765.9L481.5,765.9L481.5,764.2L482.5,764.2L482.5,765.3L483.5,765.3L483.5,765.0L484.5,765.0L484.5,765.1L485.5,765.1L485.5,766.3L486.5,766.3L486.5,765.1L487.5,765.1L487.5,766.3L488.5,766.3L488.5,765.4L489.5,765.4L489.5,766.4L490.5,766.4L490.5,765.4L491.5,765.4L491.5,764.1L492.5,764.1L492.5,766.3L493.5,766.3L493.5,768.7L494.5,768.7L494.5,769.9L495.5,769.9L495.5,768.2L496.5,768.2L496.5,769.2L497.5,769.2L497.5,768.8L498.5,768.8L498.5,768.9L499.5,768.9L499.5,765.8L500.5,765.8L500.5,767.7L501.5,767.7L501.5,764.7L502.5,764.7L502.5,764.7L503.5,764.7L503.5,765.1L504.5,765.1L504.5,766.7L505.5,766.7L505.5,765.7L506.5,765.7L506.5,766.4L507.5,766.4L507.5,766.2L508.5,766.2L508.5,768.5L509.5,768.5L509.5,768.6L510.5,768.6L510.5,766.7L511.5,766.7L511.5,767.8L512.5,767.8L512.5,766.0L513.5,766.0L513.5,767.9L514.5,767.9L514.5,767.6L515.5,767.6L515.5,768.0L516.5,768.0L516.5,767.7L517.5,767.7L517.5,767.7L518.5,767.7L518.5,766.4L519.5,766.4L519.5,767.9L520.5,767.9L520.5,768.9L521.5,768.9L521.5,766.8L522.5,766.8L522.5,766.6L523.5,766.6L523.5,769.4L524.5,769.4L524.5,768.3L525.5,768.3L525.5,770.1L526.5,770.1L526.5,769.7L527.5,769.7L527.5,768.1L528.5,768.1L528.5,769.2L529.5,769.2L529.5,768.2L530.5,768.2L530.5,767.4L531.5,767.4L531.5,767.2L532.5,767.2L532.5,769.5L533.5,769.5L533.5,769.1L534.5,769.1L534.5,766.5L535.5,766.5L535.5,768.1L536.5,768.1L536.5,767.3L537.5,767.3L537.5,767.2L538.5,767.2L538.5,764.8L539.5,764.8L539.5,765.6L540.5,765.6L540.5,766.1L541.5,766.1L541.5,769.2L542.5,769.2L542.5,766.3L543.5,766.3L543.5,763.9L544.5,763.9L544.5,766.5L545.5,766.5L545.5,769.0L546.5,769.0L546.5,766.5L547.5,766.5L547.5,767.9L548.5,767.9L548.5,768.7L549.5,768.7L549.5,768.0L550.5,768.0L550.5,768.2L551.5,768.2L551.5,769.9L552.5,769.9L552.5,768.2L553.6,768.2L553.5,768.9L554.6,768.9L554.6,771.0L555.6,771.0L555.6,769.5L556.6,769.5L556.6,772.5L557.6,772.5L557.6,771.3L558.6,771.3L558.6,769.8L559.6,769.8L559.6,767.7L560.6,767.7L560.6,766.7L561.6,766.7L561.6,769.2L562.6,769.2L562.6,769.4L563.6,769.4L563.6,768.9L564.6,768.9L564.6,769.2L565.6,769.2L565.6,769.3L566.6,769.3L566.6,769.4L567.6,769.4L567.6,768.5L568.6,768.5L568.6,769.6L569.6,769.6L569.6,769.3L570.6,769.3L570.6,768.6L571.6,768.6L571.6,767.9L572.6,767.9L572.6,771.2L573.6,771.2L573.6,769.1L574.6,769.1L574.6,770.1L575.6,770.1L575.6,769.1L576.6,769.1L576.6,771.0L577.6,771.0L577.6,771.5L578.6,771.5L578.6,769.7L579.6,769.7L579.6,768.2L580.6,768.2L580.6,769.6L581.6,769.6L581.6,767.6L582.6,767.6L582.6,770.4L583.6,770.4L583.6,769.7L584.6,769.7L584.6,768.8L585.6,768.8L585.6,767.9L586.6,767.9L586.6,770.2L587.6,770.2L587.6,770.6L588.6,770.6L588.6,768.2L589.6,768.2L589.6,769.6L590.6,769.6L590.6,771.2L591.6,771.2L591.6,769.9L592.6,769.9L592.6,768.6L593.6,768.6L593.6,768.1L594.6,768.1L594.6,767.8L595.6,767.8L595.6,770.2L596.6,770.2L596.6,772.4L597.6,772.4L597.6,769.6L598.6,769.6L598.6,769.8L599.6,769.8L599.6,771.1L600.6,771.1L600.6,770.7L601.6,770.7L601.6,768.9L602.6,768.9L602.6,768.2L603.6,768.2L603.6,769.0L604.6,769.0L604.6,769.8L605.6,769.8L605.6,769.6L606.6,769.6L606.6,770.9L607.6,770.9L607.6,772.5L608.6,772.5L608.6,770.7L609.6,770.7L609.6,769.7L610.6,769.7L610.6,771.1L611.6,771.1L611.6,770.2L612.6,770.2L612.6,771.2L613.6,771.2L613.6,772.4L614.6,772.4L614.6,770.1L615.6,770.1L615.6,767.8L616.6,767.8L616.6,772.0L617.6,772.0L617.6,769.5L618.6,769.5L618.6,767.6L619.6,767.6L619.6,768.5L620.6,768.5L620.6,772.6L621.6,772.6L621.6,771.8L622.6,771.8L622.6,769.7L623.6,769.7L623.6,769.2L624.6,769.2L624.6,771.7L625.6,771.7L625.6,772.2L626.6,772.2L626.6,773.2L627.6,773.2L627.6,773.2L628.6,773.2L628.6,771.2L629.6,771.2L629.6,771.2L630.6,771.2L630.6,772.2L631.6,772.2L631.6,768.8L632.6,768.8L632.6,769.3L633.7,769.3L633.6,768.8L634.7,768.8L634.7,773.0L635.7,773.0L635.7,771.9L636.7,771.9L636.7,771.9L637.7,771.9L637.7,773.7L638.7,773.7L638.7,772.0L639.7,772.0L639.7,772.7L640.7,772.7L640.7,771.1L641.7,771.1L641.7,769.4L642.7,769.4L642.7,772.7L643.7,772.7L643.7,771.1L644.7,771.1L644.7,773.0L645.7,773.0L645.7,771.9L646.7,771.9L646.7,770.7L647.7,770.7L647.7,772.8L648.7,772.8L648.7,773.2L649.7,773.2L649.7,771.4L650.7,771.4L650.7,772.0L651.7,772.0L651.7,770.4L652.7,770.4L652.7,771.2L653.7,771.2L653.7,771.7L654.7,771.7L654.7,771.3L655.7,771.3L655.7,769.2L656.7,769.2L656.7,770.6L657.7,770.6L657.7,772.2L658.7,772.2L658.7,772.3L659.7,772.3L659.7,771.5L660.7,771.5L660.7,772.4L661.7,772.4L661.7,769.6L662.7,769.6L662.7,769.1L663.7,769.1L663.7,772.2L664.7,772.2L664.7,771.3L665.7,771.3L665.7,772.2L666.7,772.2L666.7,771.2L667.7,771.2L667.7,771.9L668.7,771.9L668.7,772.1L669.7,772.1L669.7,773.3L670.7,773.3L670.7,772.9L671.7,772.9L671.7,774.0L672.7,774.0L672.7,776.8L673.7,776.8L673.7,779.2L672.7,779.2L672.7,776.6L671.7,776.6L671.7,776.0L670.7,776.0L670.7,775.9L669.7,775.9L669.7,775.2L668.7,775.2L668.7,775.0L667.7,775.0L667.7,774.6L666.7,774.6L666.7,774.9L665.7,774.9L665.7,773.8L664.7,773.8L664.7,775.2L663.7,775.2L663.7,771.6L662.7,771.6L662.7,773.3L661.7,773.3L661.7,775.4L660.7,775.4L660.7,774.7L659.7,774.7L659.7,775.4L658.7,775.4L658.7,775.0L657.7,775.0L657.7,773.4L656.7,773.4L656.7,771.5L655.7,771.5L655.7,774.0L654.7,774.0L654.7,774.6L653.7,774.6L653.7,774.3L652.7,774.3L652.7,774.2L651.7,774.2L651.7,775.1L650.7,775.1L650.7,774.1L649.7,774.1L649.7,776.1L648.7,776.1L648.7,775.5L647.7,775.5L647.7,773.9L646.7,773.9L646.7,775.1L645.7,775.1L645.7,775.9L644.7,775.9L644.7,775.0L643.7,775.0L643.7,776.6L642.7,776.6L642.7,773.3L641.7,773.3L641.7,774.2L640.7,774.2L640.7,775.3L639.7,775.3L639.7,774.7L638.7,774.7L638.7,776.2L637.7,776.2L637.7,776.1L636.7,776.1L636.7,774.5L635.7,774.5L635.7,775.6L634.7,775.6L634.7,772.3L633.6,772.3L633.7,771.8L632.6,771.8L632.6,772.8L631.6,772.8L631.6,775.4L630.6,775.4L630.6,775.3L629.6,775.3L629.6,775.3L628.6,775.3L628.6,776.3L627.6,776.3L627.6,775.5L626.6,775.5L626.6,775.9L625.6,775.9L625.6,774.1L624.6,774.1L624.6,771.9L623.6,771.9L623.6,772.2L622.6,772.2L622.6,774.9L621.6,774.9L621.6,775.1L620.6,775.1L620.6,772.8L619.6,772.8L619.6,771.9L618.6,771.9L618.6,773.7L617.6,773.7L617.6,775.1L616.6,775.1L616.6,770.9L615.6,770.9L615.6,773.5L614.6,773.5L614.6,775.2L613.6,775.2L613.6,774.6L612.6,774.6L612.6,774.7L611.6,774.7L611.6,773.9L610.6,773.9L610.6,773.9L609.6,773.9L609.6,773.3L608.6,773.3L608.6,774.9L607.6,774.9L607.6,774.0L606.6,774.0L606.6,773.0L605.6,773.0L605.6,773.0L604.6,773.0L604.6,771.8L603.6,771.8L603.6,771.5L602.6,771.5L602.6,773.0L601.6,773.0L601.6,774.5L600.6,774.5L600.6,774.2L599.6,774.2L599.6,773.5L598.6,773.5L598.6,772.8L597.6,772.8L597.6,774.9L596.6,774.9L596.6,773.6L595.6,773.6L595.6,770.7L594.6,770.7L594.6,770.6L593.6,770.6L593.6,771.3L592.6,771.3L592.6,773.2L591.6,773.2L591.6,773.9L590.6,773.9L590.6,772.5L589.6,772.5L589.6,772.0L588.6,772.0L588.6,774.4L587.6,774.4L587.6,774.3L586.6,774.3L586.6,771.6L585.6,771.6L585.6,771.9L584.6,771.9L584.6,772.3L583.6,772.3L583.6,772.9L582.6,772.9L582.6,771.2L581.6,771.2L581.6,772.7L580.6,772.7L580.6,772.2L579.6,772.2L579.6,772.2L578.6,772.2L578.6,774.7L577.6,774.7L577.6,774.3L576.6,774.3L576.6,772.3L575.6,772.3L575.6,773.7L574.6,773.7L574.6,772.9L573.6,772.9L573.6,774.1L572.6,774.1L572.6,773.3L571.6,773.3L571.6,771.0L570.6,771.0L570.6,772.4L569.6,772.4L569.6,774.0L568.6,774.0L568.6,771.5L567.6,771.5L567.6,772.6L566.6,772.6L566.6,773.1L565.6,773.1L565.6,771.8L564.6,771.8L564.6,771.8L563.6,771.8L563.6,772.7L562.6,772.7L562.6,772.0L561.6,772.0L561.6,769.8L560.6,769.8L560.6,771.5L559.6,771.5L559.6,772.8L558.6,772.8L558.6,773.8L557.6,773.8L557.6,774.8L556.6,774.8L556.6,772.7L555.6,772.7L555.6,774.1L554.6,774.1L554.6,772.2L553.5,772.2L553.6,771.7L552.5,771.7L552.5,773.0L551.5,773.0L551.5,770.6L550.5,770.6L550.5,771.1L549.5,771.1L549.5,771.6L548.5,771.6L548.5,770.5L547.5,770.5L547.5,769.4L546.5,769.4L546.5,771.6L545.5,771.6L545.5,769.0L544.5,769.0L544.5,768.0L543.5,768.0L543.5,769.4L542.5,769.4L542.5,771.6L541.5,771.6L541.5,769.1L540.5,769.1L540.5,768.8L539.5,768.8L539.5,769.0L538.5,769.0L538.5,770.2L537.5,770.2L537.5,770.7L536.5,770.7L536.5,771.5L535.5,771.5L535.5,770.8L534.5,770.8L534.5,772.0L533.5,772.0L533.5,771.9L532.5,771.9L532.5,770.3L531.5,770.3L531.5,770.3L530.5,770.3L530.5,771.2L529.5,771.2L529.5,772.5L528.5,772.5L528.5,771.2L527.5,771.2L527.5,772.3L526.5,772.3L526.5,772.6L525.5,772.6L525.5,771.3L524.5,771.3L524.5,772.1L523.5,772.1L523.5,769.6L522.5,769.6L522.5,769.9L521.5,769.9L521.5,771.7L520.5,771.7L520.5,770.5L519.5,770.5L519.5,769.3L518.5,769.3L518.5,770.0L517.5,770.0L517.5,770.7L516.5,770.7L516.5,771.3L515.5,771.3L515.5,770.0L514.5,770.0L514.5,770.7L513.5,770.7L513.5,769.1L512.5,769.1L512.5,770.9L511.5,770.9L511.5,769.2L510.5,769.2L510.5,771.1L509.5,771.1L509.5,771.5L508.5,771.5L508.5,768.8L507.5,768.8L507.5,769.2L506.5,769.2L506.5,769.3L505.5,769.3L505.5,769.0L504.5,769.0L504.5,767.6L503.5,767.6L503.5,768.2L502.5,768.2L502.5,768.2L501.5,768.2L501.5,770.3L500.5,770.3L500.5,768.4L499.5,768.4L499.5,771.6L498.5,771.6L498.5,771.5L497.5,771.5L497.5,771.8L496.5,771.8L496.5,771.5L495.5,771.5L495.5,772.3L494.5,772.3L494.5,771.8L493.5,771.8L493.5,768.7L492.5,768.7L492.5,766.5L491.5,766.5L491.5,767.8L490.5,767.8L490.5,769.3L489.5,769.3L489.5,768.5L488.5,768.5L488.5,769.1L487.5,769.1L487.5,768.0L486.5,768.0L486.5,769.0L485.5,769.0L485.5,767.6L484.5,767.6L484.5,768.6L483.5,768.6L483.5,767.7L482.5,767.7L482.5,767.2L481.5,767.2L481.5,768.3L480.5,768.3L480.5,769.0L479.5,769.0L479.5,769.5L478.5,769.5L478.5,770.1L477.5,770.1L477.5,768.4L476.5,768.4L476.5,768.1L475.5,768.1L475.5,765.9L474.5,765.9L474.5,768.0L473.4,768.0L473.4,768.4L472.4,768.4L472.4,769.8L471.4,769.8L471.4,767.9L470.4,767.9L470.4,767.5L469.4,767.5L469.4,769.5L468.4,769.5L468.4,767.3L467.4,767.3L467.4,766.9L466.4,766.9L466.4,767.6L465.4,767.6L465.4,769.4L464.4,769.4L464.4,766.8L463.4,766.8L463.4,769.8L462.4,769.8L462.4,767.5L461.4,767.5L461.4,766.5L460.4,766.5L460.4,767.8L459.4,767.8L459.4,767.3L458.4,767.3L458.4,767.2L457.4,767.2L457.4,768.4L456.4,768.4L456.4,766.9L455.4,766.9L455.4,766.5L454.4,766.5L454.4,767.6L453.4,767.6L453.4,767.4L452.4,767.4L452.4,767.8L451.4,767.8L451.4,765.2L450.4,765.2L450.4,766.0L449.4,766.0L449.4,766.3L448.4,766.3L448.4,767.1L447.4,767.1L447.4,766.7L446.4,766.7L446.4,768.8L445.4,768.8L445.4,768.5L444.4,768.5L444.4,770.6L443.4,770.6L443.4,769.6L442.4,769.6L442.4,769.0L441.4,769.0L441.4,766.7L440.4,766.7L440.4,767.5L439.4,767.5L439.4,768.4L438.4,768.4L438.4,768.8L437.4,768.8L437.4,768.6L436.4,768.6L436.4,767.7L435.4,767.7L435.4,768.1L434.4,768.1L434.4,765.5L433.4,765.5Z" fill="#fbaa2c"/>
<path d="M433.4,755.5L434.4,755.5L434.4,759.2L435.4,759.2L435.4,760.2L436.4,760.2L436.4,760.9L437.4,760.9L437.4,763.1L438.4,763.1L438.4,760.9L439.4,760.9L439.4,757.4L440.4,757.4L440.4,756.6L441.4,756.6L441.4,761.1L442.4,761.1L442.4,762.4L443.4,762.4L443.4,761.7L444.4,761.7L444.4,759.5L445.4,759.5L445.4,761.7L446.4,761.7L446.4,758.9L447.4,758.9L447.4,758.8L448.4,758.8L448.4,756.6L449.4,756.6L449.4,759.2L450.4,759.2L450.4,757.8L451.4,757.8L451.4,760.5L452.4,760.5L452.4,759.1L453.4,759.1L453.4,759.5L454.4,759.5L454.4,758.5L455.4,758.5L455.4,758.4L456.4,758.4L456.4,760.3L457.4,760.3L457.4,756.8L458.4,756.8L458.4,759.2L459.4,759.2L459.4,759.0L460.4,759.0L460.4,759.0L461.4,759.0L461.4,759.2L462.4,759.2L462.4,761.9L463.4,761.9L463.4,758.6L464.4,758.6L464.4,761.5L465.4,761.5L465.4,759.3L466.4,759.3L466.4,758.2L467.4,758.2L467.4,757.3L468.4,757.3L468.4,760.2L469.4,760.2L469.4,758.4L470.4,758.4L470.4,758.1L471.4,758.1L471.4,761.6L472.4,761.6L472.4,761.5L473.4,761.5L473.4,758.6L474.5,758.6L474.5,757.3L475.5,757.3L475.5,760.6L476.5,760.6L476.5,758.1L477.5,758.1L477.5,760.3L478.5,760.3L478.5,760.4L479.5,760.4L479.5,761.6L480.5,761.6L480.5,761.1L481.5,761.1L481.5,758.8L482.5,758.8L482.5,760.2L483.5,760.2L483.5,759.7L484.5,759.7L484.5,760.6L485.5,760.6L485.5,760.7L486.5,760.7L486.5,758.8L487.5,758.8L487.5,759.7L488.5,759.7L488.5,761.6L489.5,761.6L489.5,761.2L490.5,761.2L490.5,760.0L491.5,760.0L491.5,757.6L492.5,757.6L492.5,761.2L493.5,761.2L493.5,763.5L494.5,763.5L494.5,764.2L495.5,764.2L495.5,762.8L496.5,762.8L496.5,764.8L497.5,764.8L497.5,763.4L498.5,763.4L498.5,762.2L499.5,762.2L499.5,757.8L500.5,757.8L500.5,760.0L501.5,760.0L501.5,757.4L502.5,757.4L502.5,759.6L503.5,759.6L503.5,759.1L504.5,759.1L504.5,760.9L505.5,760.9L505.5,762.3L506.5,762.3L506.5,761.4L507.5,761.4L507.5,759.7L508.5,759.7L508.5,763.3L509.5,763.3L509.5,762.3L510.5,762.3L510.5,760.1L511.5,760.1L511.5,762.9L512.5,762.9L512.5,761.0L513.5,761.0L513.5,762.7L514.5,762.7L514.5,761.5L515.5,761.5L515.5,762.4L516.5,762.4L516.5,761.4L517.5,761.4L517.5,761.2L518.5,761.2L518.5,760.5L519.5,760.5L519.5,761.5L520.5,761.5L520.5,760.4L521.5,760.4L521.5,759.9L522.5,759.9L522.5,760.2L523.5,760.2L523.5,764.5L524.5,764.5L524.5,762.2L525.5,762.2L525.5,765.3L526.5,765.3L526.5,766.0L527.5,766.0L527.5,763.1L528.5,763.1L528.5,763.9L529.5,763.9L529.5,762.5L530.5,762.5L530.5,762.4L531.5,762.4L531.5,763.2L532.5,763.2L532.5,765.6L533.5,765.6L533.5,763.3L534.5,763.3L534.5,760.1L535.5,760.1L535.5,761.3L536.5,761.3L536.5,761.6L537.5,761.6L537.5,762.6L538.5,762.6L538.5,760.8L539.5,760.8L539.5,760.9L540.5,760.9L540.5,760.5L541.5,760.5L541.5,763.6L542.5,763.6L542.5,760.9L543.5,760.9L543.5,757.4L544.5,757.4L544.5,761.0L545.5,761.0L545.5,763.9L546.5,763.9L546.5,761.3L547.5,761.3L547.5,763.4L548.5,763.4L548.5,763.8L549.5,763.8L549.5,762.9L550.5,762.9L550.5,763.1L551.5,763.1L551.5,764.8L552.5,764.8L552.5,761.7L553.6,761.7L553.5,762.6L554.6,762.6L554.6,766.5L555.6,766.5L555.6,762.2L556.6,762.2L556.6,765.8L557.6,765.8L557.6,766.3L558.6,766.3L558.6,763.6L559.6,763.6L559.6,760.1L560.6,760.1L560.6,760.5L561.6,760.5L561.6,763.8L562.6,763.8L562.6,763.3L563.6,763.3L563.6,764.2L564.6,764.2L564.6,764.0L565.6,764.0L565.6,762.9L566.6,762.9L566.6,762.6L567.6,762.6L567.6,762.0L568.6,762.0L568.6,764.2L569.6,764.2L569.6,764.6L570.6,764.6L570.6,764.1L571.6,764.1L571.6,762.3L572.6,762.3L572.6,763.8L573.6,763.8L573.6,761.7L574.6,761.7L574.6,762.5L575.6,762.5L575.6,760.9L576.6,760.9L576.6,763.5L577.6,763.5L577.6,765.3L578.6,765.3L578.6,762.4L579.6,762.4L579.6,762.6L580.6,762.6L580.6,765.2L581.6,765.2L581.6,762.4L582.6,762.4L582.6,765.7L583.6,765.7L583.6,765.6L584.6,765.6L584.6,763.3L585.6,763.3L585.6,762.6L586.6,762.6L586.6,765.6L587.6,765.6L587.6,766.2L588.6,766.2L588.6,762.0L589.6,762.0L589.6,762.8L590.6,762.8L590.6,764.4L591.6,764.4L591.6,765.0L592.6,765.0L592.6,762.4L593.6,762.4L593.6,762.4L594.6,762.4L594.6,761.8L595.6,761.8L595.6,764.7L596.6,764.7L596.6,767.7L597.6,767.7L597.6,764.0L598.6,764.0L598.6,764.1L599.6,764.1L599.6,764.4L600.6,764.4L600.6,764.9L601.6,764.9L601.6,763.0L602.6,763.0L602.6,762.2L603.6,762.2L603.6,764.2L604.6,764.2L604.6,764.9L605.6,764.9L605.6,763.1L606.6,763.1L606.6,764.6L607.6,764.6L607.6,767.8L608.6,767.8L608.6,765.5L609.6,765.5L609.6,764.2L610.6,764.2L610.6,765.4L611.6,765.4L611.6,764.6L612.6,764.6L612.6,765.6L613.6,765.6L613.6,767.7L614.6,767.7L614.6,764.9L615.6,764.9L615.6,761.5L616.6,761.5L616.6,767.0L617.6,767.0L617.6,763.8L618.6,763.8L618.6,761.5L619.6,761.5L619.6,762.4L620.6,762.4L620.6,767.4L621.6,767.4L621.6,767.0L622.6,767.0L622.6,764.9L623.6,764.9L623.6,764.2L624.6,764.2L624.6,765.5L625.6,765.5L625.6,767.0L626.6,767.0L626.6,768.3L627.6,768.3L627.6,768.3L628.6,768.3L628.6,765.1L629.6,765.1L629.6,763.9L630.6,763.9L630.6,768.0L631.6,768.0L631.6,763.7L632.6,763.7L632.6,765.5L633.7,765.5L633.6,765.0L634.7,765.0L634.7,767.0L635.7,767.0L635.7,767.4L636.7,767.4L636.7,769.2L637.7,769.2L637.7,769.3L638.7,769.3L638.7,766.8L639.7,766.8L639.7,768.7L640.7,768.7L640.7,766.2L641.7,766.2L641.7,765.1L642.7,765.1L642.7,765.3L643.7,765.3L643.7,764.3L644.7,764.3L644.7,765.7L645.7,765.7L645.7,764.0L646.7,764.0L646.7,766.4L647.7,766.4L647.7,768.8L648.7,768.8L648.7,767.2L649.7,767.2L649.7,765.0L650.7,765.0L650.7,765.2L651.7,765.2L651.7,763.2L652.7,763.2L652.7,763.7L653.7,763.7L653.7,765.7L654.7,765.7L654.7,765.6L655.7,765.6L655.7,762.4L656.7,762.4L656.7,764.7L657.7,764.7L657.7,765.2L658.7,765.2L658.7,767.8L659.7,767.8L659.7,767.1L660.7,767.1L660.7,767.9L661.7,767.9L661.7,764.9L662.7,764.9L662.7,764.8L663.7,764.8L663.7,767.0L664.7,767.0L664.7,765.9L665.7,765.9L665.7,766.5L666.7,766.5L666.7,767.6L667.7,767.6L667.7,767.4L668.7,767.4L668.7,768.1L669.7,768.1L669.7,767.8L670.7,767.8L670.7,768.0L671.7,768.0L671.7,769.0L672.7,769.0L672.7,769.8L673.7,769.8L673.7,776.8L672.7,776.8L672.7,774.0L671.7,774.0L671.7,772.9L670.7,772.9L670.7,773.3L669.7,773.3L669.7,772.1L668.7,772.1L668.7,771.9L667.7,771.9L667.7,771.2L666.7,771.2L666.7,772.2L665.7,772.2L665.7,771.3L664.7,771.3L664.7,772.2L663.7,772.2L663.7,769.1L662.7,769.1L662.7,769.6L661.7,769.6L661.7,772.4L660.7,772.4L660.7,771.5L659.7,771.5L659.7,772.3L658.7,772.3L658.7,772.2L657.7,772.2L657.7,770.6L656.7,770.6L656.7,769.2L655.7,769.2L655.7,771.3L654.7,771.3L654.7,771.7L653.7,771.7L653.7,771.2L652.7,771.2L652.7,770.4L651.7,770.4L651.7,772.0L650.7,772.0L650.7,771.4L649.7,771.4L649.7,773.2L648.7,773.2L648.7,772.8L647.7,772.8L647.7,770.7L646.7,770.7L646.7,771.9L645.7,771.9L645.7,773.0L644.7,773.0L644.7,771.1L643.7,771.1L643.7,772.7L642.7,772.7L642.7,769.4L641.7,769.4L641.7,771.1L640.7,771.1L640.7,772.7L639.7,772.7L639.7,772.0L638.7,772.0L638.7,773.7L637.7,773.7L637.7,771.9L636.7,771.9L636.7,771.9L635.7,771.9L635.7,773.0L634.7,773.0L634.7,768.8L633.6,768.8L633.7,769.3L632.6,769.3L632.6,768.8L631.6,768.8L631.6,772.2L630.6,772.2L630.6,771.2L629.6,771.2L629.6,771.2L628.6,771.2L628.6,773.2L627.6,773.2L627.6,773.2L626.6,773.2L626.6,772.2L625.6,772.2L625.6,771.7L624.6,771.7L624.6,769.2L623.6,769.2L623.6,769.7L622.6,769.7L622.6,771.8L621.6,771.8L621.6,772.6L620.6,772.6L620.6,768.5L619.6,768.5L619.6,767.6L618.6,767.6L618.6,769.5L617.6,769.5L617.6,772.0L616.6,772.0L616.6,767.8L615.6,767.8L615.6,770.1L614.6,770.1L614.6,772.4L613.6,772.4L613.6,771.2L612.6,771.2L612.6,770.2L611.6,770.2L611.6,771.1L610.6,771.1L610.6,769.7L609.6,769.7L609.6,770.7L608.6,770.7L608.6,772.5L607.6,772.5L607.6,770.9L606.6,770.9L606.6,769.6L605.6,769.6L605.6,769.8L604.6,769.8L604.6,769.0L603.6,769.0L603.6,768.2L602.6,768.2L602.6,768.9L601.6,768.9L601.6,770.7L600.6,770.7L600.6,771.1L599.6,771.1L599.6,769.8L598.6,769.8L598.6,769.6L597.6,769.6L597.6,772.4L596.6,772.4L596.6,770.2L595.6,770.2L595.6,767.8L594.6,767.8L594.6,768.1L593.6,768.1L593.6,768.6L592.6,768.6L592.6,769.9L591.6,769.9L591.6,771.2L590.6,771.2L590.6,769.6L589.6,769.6L589.6,768.2L588.6,768.2L588.6,770.6L587.6,770.6L587.6,770.2L586.6,770.2L586.6,767.9L585.6,767.9L585.6,768.8L584.6,768.8L584.6,769.7L583.6,769.7L583.6,770.4L582.6,770.4L582.6,767.6L581.6,767.6L581.6,769.6L580.6,769.6L580.6,768.2L579.6,768.2L579.6,769.7L578.6,769.7L578.6,771.5L577.6,771.5L577.6,771.0L576.6,771.0L576.6,769.1L575.6,769.1L575.6,770.1L574.6,770.1L574.6,769.1L573.6,769.1L573.6,771.2L572.6,771.2L572.6,767.9L571.6,767.9L571.6,768.6L570.6,768.6L570.6,769.3L569.6,769.3L569.6,769.6L568.6,769.6L568.6,768.5L567.6,768.5L567.6,769.4L566.6,769.4L566.6,769.3L565.6,769.3L565.6,769.2L564.6,769.2L564.6,768.9L563.6,768.9L563.6,769.4L562.6,769.4L562.6,769.2L561.6,769.2L561.6,766.7L560.6,766.7L560.6,767.7L559.6,767.7L559.6,769.8L558.6,769.8L558.6,771.3L557.6,771.3L557.6,772.5L556.6,772.5L556.6,769.5L555.6,769.5L555.6,771.0L554.6,771.0L554.6,768.9L553.5,768.9L553.6,768.2L552.5,768.2L552.5,769.9L551.5,769.9L551.5,768.2L550.5,768.2L550.5,768.0L549.5,768.0L549.5,768.7L548.5,768.7L548.5,767.9L547.5,767.9L547.5,766.5L546.5,766.5L546.5,769.0L545.5,769.0L545.5,766.5L544.5,766.5L544.5,763.9L543.5,763.9L543.5,766.3L542.5,766.3L542.5,769.2L541.5,769.2L541.5,766.1L540.5,766.1L540.5,765.6L539.5,765.6L539.5,764.8L538.5,764.8L538.5,767.2L537.5,767.2L537.5,767.3L536.5,767.3L536.5,768.1L535.5,768.1L535.5,766.5L534.5,766.5L534.5,769.1L533.5,769.1L533.5,769.5L532.5,769.5L532.5,767.2L531.5,767.2L531.5,767.4L530.5,767.4L530.5,768.2L529.5,768.2L529.5,769.2L528.5,769.2L528.5,768.1L527.5,768.1L527.5,769.7L526.5,769.7L526.5,770.1L525.5,770.1L525.5,768.3L524.5,768.3L524.5,769.4L523.5,769.4L523.5,766.6L522.5,766.6L522.5,766.8L521.5,766.8L521.5,768.9L520.5,768.9L520.5,767.9L519.5,767.9L519.5,766.4L518.5,766.4L518.5,767.7L517.5,767.7L517.5,767.7L516.5,767.7L516.5,768.0L515.5,768.0L515.5,767.6L514.5,767.6L514.5,767.9L513.5,767.9L513.5,766.0L512.5,766.0L512.5,767.8L511.5,767.8L511.5,766.7L510.5,766.7L510.5,768.6L509.5,768.6L509.5,768.5L508.5,768.5L508.5,766.2L507.5,766.2L507.5,766.4L506.5,766.4L506.5,765.7L505.5,765.7L505.5,766.7L504.5,766.7L504.5,765.1L503.5,765.1L503.5,764.7L502.5,764.7L502.5,764.7L501.5,764.7L501.5,767.7L500.5,767.7L500.5,765.8L499.5,765.8L499.5,768.9L498.5,768.9L498.5,768.8L497.5,768.8L497.5,769.2L496.5,769.2L496.5,768.2L495.5,768.2L495.5,769.9L494.5,769.9L494.5,768.7L493.5,768.7L493.5,766.3L492.5,766.3L492.5,764.1L491.5,764.1L491.5,765.4L490.5,765.4L490.5,766.4L489.5,766.4L489.5,765.4L488.5,765.4L488.5,766.3L487.5,766.3L487.5,765.1L486.5,765.1L486.5,766.3L485.5,766.3L485.5,765.1L484.5,765.1L484.5,765.0L483.5,765.0L483.5,765.3L482.5,765.3L482.5,764.2L481.5,764.2L481.5,765.9L480.5,765.9L480.5,766.5L479.5,766.5L479.5,765.8L478.5,765.8L478.5,766.4L477.5,766.4L477.5,765.1L476.5,765.1L476.5,765.3L475.5,765.3L475.5,762.9L474.5,762.9L474.5,764.2L473.4,764.2L473.4,765.4L472.4,765.4L472.4,767.1L471.4,767.1L471.4,763.9L470.4,763.9L470.4,764.3L469.4,764.3L469.4,765.6L468.4,765.6L468.4,763.8L467.4,763.8L467.4,763.2L466.4,763.2L466.4,764.3L465.4,764.3L465.4,766.3L464.4,766.3L464.4,762.9L463.4,762.9L463.4,766.9L462.4,766.9L462.4,764.1L461.4,764.1L461.4,763.8L460.4,763.8L460.4,764.4L459.4,764.4L459.4,764.1L458.4,764.1L458.4,763.8L457.4,763.8L457.4,766.0L456.4,766.0L456.4,764.2L455.4,764.2L455.4,764.0L454.4,764.0L454.4,764.9L453.4,764.9L453.4,764.3L452.4,764.3L452.4,764.5L451.4,764.5L451.4,761.8L450.4,761.8L450.4,763.3L449.4,763.3L449.4,763.1L448.4,763.1L448.4,763.7L447.4,763.7L447.4,764.1L446.4,764.1L446.4,766.0L445.4,766.0L445.4,764.8L444.4,764.8L444.4,767.4L443.4,767.4L443.4,766.7L442.4,766.7L442.4,766.1L441.4,766.1L441.4,762.9L440.4,762.9L440.4,764.9L439.4,764.9L439.4,765.7L438.4,765.7L438.4,765.9L437.4,765.9L437.4,765.4L436.4,765.4L436.4,765.2L435.4,765.2L435.4,765.2L434.4,765.2L434.4,762.9L433.4,762.9Z" fill="#f6e048"/>
<path d="M433.4,752.2L434.4,752.2L434.4,756.1L435.4,756.1L435.4,756.4L436.4,756.4L436.4,757.7L437.4,757.7L437.4,759.7L438.4,759.7L438.4,758.0L439.4,758.0L439.4,753.7L440.4,753.7L440.4,753.3L441.4,753.3L441.4,758.0L442.4,758.0L442.4,759.2L443.4,759.2L443.4,758.5L444.4,758.5L444.4,755.5L445.4,755.5L445.4,758.5L446.4,758.5L446.4,755.7L447.4,755.7L447.4,755.0L448.4,755.0L448.4,754.0L449.4,754.0L449.4,756.5L450.4,756.5L450.4,755.1L451.4,755.1L451.4,757.5L452.4,757.5L452.4,756.1L453.4,756.1L453.4,756.6L454.4,756.6L454.4,755.5L455.4,755.5L455.4,755.0L456.4,755.0L456.4,757.3L457.4,757.3L457.4,753.8L458.4,753.8L458.4,755.7L459.4,755.7L459.4,756.0L460.4,756.0L460.4,755.5L461.4,755.5L461.4,755.1L462.4,755.1L462.4,758.8L463.4,758.8L463.4,754.6L464.4,754.6L464.4,758.2L465.4,758.2L465.4,755.7L466.4,755.7L466.4,755.3L467.4,755.3L467.4,753.6L468.4,753.6L468.4,756.3L469.4,756.3L469.4,755.4L470.4,755.4L470.4,754.7L471.4,754.7L471.4,758.9L472.4,758.9L472.4,758.0L473.4,758.0L473.4,755.2L474.5,755.2L474.5,754.1L475.5,754.1L475.5,756.7L476.5,756.7L476.5,755.0L477.5,755.0L477.5,755.7L478.5,755.7L478.5,757.5L479.5,757.5L479.5,758.0L480.5,758.0L480.5,757.2L481.5,757.2L481.5,755.5L482.5,755.5L482.5,757.6L483.5,757.6L483.5,756.7L484.5,756.7L484.5,757.0L485.5,757.0L485.5,758.1L486.5,758.1L486.5,756.1L487.5,756.1L487.5,756.9L488.5,756.9L488.5,757.7L489.5,757.7L489.5,757.4L490.5,757.4L490.5,757.4L491.5,757.4L491.5,753.3L492.5,753.3L492.5,757.9L493.5,757.9L493.5,760.7L494.5,760.7L494.5,760.3L495.5,760.3L495.5,758.4L496.5,758.4L496.5,761.3L497.5,761.3L497.5,760.5L498.5,760.5L498.5,759.5L499.5,759.5L499.5,754.7L500.5,754.7L500.5,756.4L501.5,756.4L501.5,753.5L502.5,753.5L502.5,755.5L503.5,755.5L503.5,756.1L504.5,756.1L504.5,758.2L505.5,758.2L505.5,759.3L506.5,759.3L506.5,758.5L507.5,758.5L507.5,756.6L508.5,756.6L508.5,759.7L509.5,759.7L509.5,758.5L510.5,758.5L510.5,756.7L511.5,756.7L511.5,759.2L512.5,759.2L512.5,757.6L513.5,757.6L513.5,759.6L514.5,759.6L514.5,758.8L515.5,758.8L515.5,759.7L516.5,759.7L516.5,757.5L517.5,757.5L517.5,758.5L518.5,758.5L518.5,756.6L519.5,756.6L519.5,758.8L520.5,758.8L520.5,757.2L521.5,757.2L521.5,757.3L522.5,757.3L522.5,757.6L523.5,757.6L523.5,761.4L524.5,761.4L524.5,759.3L525.5,759.3L525.5,761.2L526.5,761.2L526.5,762.9L527.5,762.9L527.5,759.0L528.5,759.0L528.5,759.8L529.5,759.8L529.5,759.5L530.5,759.5L530.5,759.2L531.5,759.2L531.5,759.7L532.5,759.7L532.5,762.1L533.5,762.1L533.5,758.5L534.5,758.5L534.5,757.0L535.5,757.0L535.5,757.7L536.5,757.7L536.5,759.0L537.5,759.0L537.5,759.7L538.5,759.7L538.5,757.9L539.5,757.9L539.5,757.9L540.5,757.9L540.5,757.8L541.5,757.8L541.5,760.5L542.5,760.5L542.5,758.1L543.5,758.1L543.5,754.5L544.5,754.5L544.5,756.8L545.5,756.8L545.5,760.5L546.5,760.5L546.5,757.8L547.5,757.8L547.5,759.8L548.5,759.8L548.5,760.4L549.5,760.4L549.5,758.7L550.5,758.7L550.5,759.7L551.5,759.7L551.5,761.1L552.5,761.1L552.5,758.0L553.6,758.0L553.5,759.3L554.6,759.3L554.6,763.6L555.6,763.6L555.6,759.0L556.6,759.0L556.6,763.0L557.6,763.0L557.6,761.6L558.6,761.6L558.6,760.2L559.6,760.2L559.6,756.5L560.6,756.5L560.6,757.3L561.6,757.3L561.6,759.3L562.6,759.3L562.6,760.0L563.6,760.0L563.6,760.2L564.6,760.2L564.6,761.2L565.6,761.2L565.6,760.1L566.6,760.1L566.6,759.5L567.6,759.5L567.6,758.8L568.6,758.8L568.6,761.6L569.6,761.6L569.6,761.8L570.6,761.8L570.6,761.2L571.6,761.2L571.6,759.5L572.6,759.5L572.6,761.1L573.6,761.1L573.6,758.7L574.6,758.7L574.6,759.4L575.6,759.4L575.6,757.5L576.6,757.5L576.6,760.1L577.6,760.1L577.6,762.2L578.6,762.2L578.6,759.5L579.6,759.5L579.6,759.2L580.6,759.2L580.6,761.0L581.6,761.0L581.6,758.0L582.6,758.0L582.6,762.6L583.6,762.6L583.6,762.1L584.6,762.1L584.6,760.1L585.6,760.1L585.6,759.8L586.6,759.8L586.6,761.8L587.6,761.8L587.6,762.9L588.6,762.9L588.6,759.0L589.6,759.0L589.6,759.8L590.6,759.8L590.6,761.5L591.6,761.5L591.6,762.3L592.6,762.3L592.6,758.9L593.6,758.9L593.6,759.9L594.6,759.9L594.6,758.5L595.6,758.5L595.6,761.3L596.6,761.3L596.6,764.9L597.6,764.9L597.6,760.9L598.6,760.9L598.6,761.1L599.6,761.1L599.6,760.9L600.6,760.9L600.6,761.6L601.6,761.6L601.6,760.1L602.6,760.1L602.6,758.3L603.6,758.3L603.6,761.4L604.6,761.4L604.6,761.7L605.6,761.7L605.6,759.8L606.6,759.8L606.6,760.9L607.6,760.9L607.6,764.5L608.6,764.5L608.6,762.4L609.6,762.4L609.6,760.5L610.6,760.5L610.6,761.9L611.6,761.9L611.6,761.6L612.6,761.6L612.6,762.1L613.6,762.1L613.6,764.9L614.6,764.9L614.6,761.8L615.6,761.8L615.6,758.4L616.6,758.4L616.6,762.2L617.6,762.2L617.6,759.9L618.6,759.9L618.6,758.7L619.6,758.7L619.6,759.6L620.6,759.6L620.6,764.7L621.6,764.7L621.6,764.2L622.6,764.2L622.6,761.8L623.6,761.8L623.6,761.4L624.6,761.4L624.6,762.5L625.6,762.5L625.6,763.1L626.6,763.1L626.6,765.2L627.6,765.2L627.6,764.1L628.6,764.1L628.6,761.0L629.6,761.0L629.6,760.7L630.6,760.7L630.6,764.3L631.6,764.3L631.6,760.1L632.6,760.1L632.6,762.7L633.7,762.7L633.6,761.0L634.7,761.0L634.7,764.4L635.7,764.4L635.7,764.2L636.7,764.2L636.7,766.3L637.7,766.3L637.7,766.7L638.7,766.7L638.7,763.8L639.7,763.8L639.7,766.0L640.7,766.0L640.7,762.9L641.7,762.9L641.7,762.2L642.7,762.2L642.7,762.4L643.7,762.4L643.7,761.6L644.7,761.6L644.7,761.5L645.7,761.5L645.7,760.5L646.7,760.5L646.7,763.1L647.7,763.1L647.7,765.7L648.7,765.7L648.7,762.9L649.7,762.9L649.7,760.3L650.7,760.3L650.7,761.2L651.7,761.2L651.7,759.4L652.7,759.4L652.7,760.1L653.7,760.1L653.7,763.1L654.7,763.1L654.7,762.2L655.7,762.2L655.7,759.2L656.7,759.2L656.7,761.2L657.7,761.2L657.7,762.1L658.7,762.1L658.7,764.4L659.7,764.4L659.7,763.4L660.7,763.4L660.7,765.1L661.7,765.1L661.7,762.1L662.7,762.1L662.7,761.5L663.7,761.5L663.7,763.5L664.7,763.5L664.7,763.1L665.7,763.1L665.7,763.4L666.7,763.4L666.7,764.5L667.7,764.5L667.7,764.5L668.7,764.5L668.7,765.2L669.7,765.2L669.7,764.2L670.7,764.2L670.7,765.2L671.7,765.2L671.7,766.0L672.7,766.0L672.7,766.6L673.7,766.6L673.7,769.8L672.7,769.8L672.7,769.0L671.7,769.0L671.7,768.0L670.7,768.0L670.7,767.8L669.7,767.8L669.7,768.1L668.7,768.1L668.7,767.4L667.7,767.4L667.7,767.6L666.7,767.6L666.7,766.5L665.7,766.5L665.7,765.9L664.7,765.9L664.7,767.0L663.7,767.0L663.7,764.8L662.7,764.8L662.7,764.9L661.7,764.9L661.7,767.9L660.7,767.9L660.7,767.1L659.7,767.1L659.7,767.8L658.7,767.8L658.7,765.2L657.7,765.2L657.7,764.7L656.7,764.7L656.7,762.4L655.7,762.4L655.7,765.6L654.7,765.6L654.7,765.7L653.7,765.7L653.7,763.7L652.7,763.7L652.7,763.2L651.7,763.2L651.7,765.2L650.7,765.2L650.7,765.0L649.7,765.0L649.7,767.2L648.7,767.2L648.7,768.8L647.7,768.8L647.7,766.4L646.7,766.4L646.7,764.0L645.7,764.0L645.7,765.7L644.7,765.7L644.7,764.3L643.7,764.3L643.7,765.3L642.7,765.3L642.7,765.1L641.7,765.1L641.7,766.2L640.7,766.2L640.7,768.7L639.7,768.7L639.7,766.8L638.7,766.8L638.7,769.3L637.7,769.3L637.7,769.2L636.7,769.2L636.7,767.4L635.7,767.4L635.7,767.0L634.7,767.0L634.7,765.0L633.6,765.0L633.7,765.5L632.6,765.5L632.6,763.7L631.6,763.7L631.6,768.0L630.6,768.0L630.6,763.9L629.6,763.9L629.6,765.1L628.6,765.1L628.6,768.3L627.6,768.3L627.6,768.3L626.6,768.3L626.6,767.0L625.6,767.0L625.6,765.5L624.6,765.5L624.6,764.2L623.6,764.2L623.6,764.9L622.6,764.9L622.6,767.0L621.6,767.0L621.6,767.4L620.6,767.4L620.6,762.4L619.6,762.4L619.6,761.5L618.6,761.5L618.6,763.8L617.6,763.8L617.6,767.0L616.6,767.0L616.6,761.5L615.6,761.5L615.6,764.9L614.6,764.9L614.6,767.7L613.6,767.7L613.6,765.6L612.6,765.6L612.6,764.6L611.6,764.6L611.6,765.4L610.6,765.4L610.6,764.2L609.6,764.2L609.6,765.5L608.6,765.5L608.6,767.8L607.6,767.8L607.6,764.6L606.6,764.6L606.6,763.1L605.6,763.1L605.6,764.9L604.6,764.9L604.6,764.2L603.6,764.2L603.6,762.2L602.6,762.2L602.6,763.0L601.6,763.0L601.6,764.9L600.6,764.9L600.6,764.4L599.6,764.4L599.6,764.1L598.6,764.1L598.6,764.0L597.6,764.0L597.6,767.7L596.6,767.7L596.6,764.7L595.6,764.7L595.6,761.8L594.6,761.8L594.6,762.4L593.6,762.4L593.6,762.4L592.6,762.4L592.6,765.0L591.6,765.0L591.6,764.4L590.6,764.4L590.6,762.8L589.6,762.8L589.6,762.0L588.6,762.0L588.6,766.2L587.6,766.2L587.6,765.6L586.6,765.6L586.6,762.6L585.6,762.6L585.6,763.3L584.6,763.3L584.6,765.6L583.6,765.6L583.6,765.7L582.6,765.7L582.6,762.4L581.6,762.4L581.6,765.2L580.6,765.2L580.6,762.6L579.6,762.6L579.6,762.4L578.6,762.4L578.6,765.3L577.6,765.3L577.6,763.5L576.6,763.5L576.6,760.9L575.6,760.9L575.6,762.5L574.6,762.5L574.6,761.7L573.6,761.7L573.6,763.8L572.6,763.8L572.6,762.3L571.6,762.3L571.6,764.1L570.6,764.1L570.6,764.6L569.6,764.6L569.6,764.2L568.6,764.2L568.6,762.0L567.6,762.0L567.6,762.6L566.6,762.6L566.6,762.9L565.6,762.9L565.6,764.0L564.6,764.0L564.6,764.2L563.6,764.2L563.6,763.3L562.6,763.3L562.6,763.8L561.6,763.8L561.6,760.5L560.6,760.5L560.6,760.1L559.6,760.1L559.6,763.6L558.6,763.6L558.6,766.3L557.6,766.3L557.6,765.8L556.6,765.8L556.6,762.2L555.6,762.2L555.6,766.5L554.6,766.5L554.6,762.6L553.5,762.6L553.6,761.7L552.5,761.7L552.5,764.8L551.5,764.8L551.5,763.1L550.5,763.1L550.5,762.9L549.5,762.9L549.5,763.8L548.5,763.8L548.5,763.4L547.5,763.4L547.5,761.3L546.5,761.3L546.5,763.9L545.5,763.9L545.5,761.0L544.5,761.0L544.5,757.4L543.5,757.4L543.5,760.9L542.5,760.9L542.5,763.6L541.5,763.6L541.5,760.5L540.5,760.5L540.5,760.9L539.5,760.9L539.5,760.8L538.5,760.8L538.5,762.6L537.5,762.6L537.5,761.6L536.5,761.6L536.5,761.3L535.5,761.3L535.5,760.1L534.5,760.1L534.5,763.3L533.5,763.3L533.5,765.6L532.5,765.6L532.5,763.2L531.5,763.2L531.5,762.4L530.5,762.4L530.5,762.5L529.5,762.5L529.5,763.9L528.5,763.9L528.5,763.1L527.5,763.1L527.5,766.0L526.5,766.0L526.5,765.3L525.5,765.3L525.5,762.2L524.5,762.2L524.5,764.5L523.5,764.5L523.5,760.2L522.5,760.2L522.5,759.9L521.5,759.9L521.5,760.4L520.5,760.4L520.5,761.5L519.5,761.5L519.5,760.5L518.5,760.5L518.5,761.2L517.5,761.2L517.5,761.4L516.5,761.4L516.5,762.4L515.5,762.4L515.5,761.5L514.5,761.5L514.5,762.7L513.5,762.7L513.5,761.0L512.5,761.0L512.5,762.9L511.5,762.9L511.5,760.1L510.5,760.1L510.5,762.3L509.5,762.3L509.5,763.3L508.5,763.3L508.5,759.7L507.5,759.7L507.5,761.4L506.5,761.4L506.5,762.3L505.5,762.3L505.5,760.9L504.5,760.9L504.5,759.1L503.5,759.1L503.5,759.6L502.5,759.6L502.5,757.4L501.5,757.4L501.5,760.0L500.5,760.0L500.5,757.8L499.5,757.8L499.5,762.2L498.5,762.2L498.5,763.4L497.5,763.4L497.5,764.8L496.5,764.8L496.5,762.8L495.5,762.8L495.5,764.2L494.5,764.2L494.5,763.5L493.5,763.5L493.5,761.2L492.5,761.2L492.5,757.6L491.5,757.6L491.5,760.0L490.5,760.0L490.5,761.2L489.5,761.2L489.5,761.6L488.5,761.6L488.5,759.7L487.5,759.7L487.5,758.8L486.5,758.8L486.5,760.7L485.5,760.7L485.5,760.6L484.5,760.6L484.5,759.7L483.5,759.7L483.5,760.2L482.5,760.2L482.5,758.8L481.5,758.8L481.5,761.1L480.5,761.1L480.5,761.6L479.5,761.6L479.5,760.4L478.5,760.4L478.5,760.3L477.5,760.3L477.5,758.1L476.5,758.1L476.5,760.6L475.5,760.6L475.5,757.3L474.5,757.3L474.5,758.6L473.4,758.6L473.4,761.5L472.4,761.5L472.4,761.6L471.4,761.6L471.4,758.1L470.4,758.1L470.4,758.4L469.4,758.4L469.4,760.2L468.4,760.2L468.4,757.3L467.4,757.3L467.4,758.2L466.4,758.2L466.4,759.3L465.4,759.3L465.4,761.5L464.4,761.5L464.4,758.6L463.4,758.6L463.4,761.9L462.4,761.9L462.4,759.2L461.4,759.2L461.4,759.0L460.4,759.0L460.4,759.0L459.4,759.0L459.4,759.2L458.4,759.2L458.4,756.8L457.4,756.8L457.4,760.3L456.4,760.3L456.4,758.4L455.4,758.4L455.4,758.5L454.4,758.5L454.4,759.5L453.4,759.5L453.4,759.1L452.4,759.1L452.4,760.5L451.4,760.5L451.4,757.8L450.4,757.8L450.4,759.2L449.4,759.2L449.4,756.6L448.4,756.6L448.4,758.8L447.4,758.8L447.4,758.9L446.4,758.9L446.4,761.7L445.4,761.7L445.4,759.5L444.4,759.5L444.4,761.7L443.4,761.7L443.4,762.4L442.4,762.4L442.4,761.1L441.4,761.1L441.4,756.6L440.4,756.6L440.4,757.4L439.4,757.4L439.4,760.9L438.4,760.9L438.4,763.1L437.4,763.1L437.4,760.9L436.4,760.9L436.4,760.2L435.4,760.2L435.4,759.2L434.4,759.2L434.4,755.5L433.4,755.5Z" fill="#fcc034"/>
<path d="M433.4,748.4L434.4,748.4L434.4,751.9L435.4,751.9L435.4,752.3L436.4,752.3L436.4,753.4L437.4,753.4L437.4,755.6L438.4,755.6L438.4,754.0L439.4,754.0L439.4,749.7L440.4,749.7L440.4,749.0L441.4,749.0L441.4,754.3L442.4,754.3L442.4,755.3L443.4,755.3L443.4,754.4L444.4,754.4L444.4,751.2L445.4,751.2L445.4,754.4L446.4,754.4L446.4,751.9L447.4,751.9L447.4,751.3L448.4,751.3L448.4,750.2L449.4,750.2L449.4,751.7L450.4,751.7L450.4,751.5L451.4,751.5L451.4,753.9L452.4,753.9L452.4,752.2L453.4,752.2L453.4,752.9L454.4,752.9L454.4,751.8L455.4,751.8L455.4,751.1L456.4,751.1L456.4,753.3L457.4,753.3L457.4,750.1L458.4,750.1L458.4,752.1L459.4,752.1L459.4,752.2L460.4,752.2L460.4,751.9L461.4,751.9L461.4,751.0L462.4,751.0L462.4,754.4L463.4,754.4L463.4,750.8L464.4,750.8L464.4,754.4L465.4,754.4L465.4,752.0L466.4,752.0L466.4,751.7L467.4,751.7L467.4,750.0L468.4,750.0L468.4,752.4L469.4,752.4L469.4,751.8L470.4,751.8L470.4,750.4L471.4,750.4L471.4,754.1L472.4,754.1L472.4,754.0L473.4,754.0L473.4,750.9L474.5,750.9L474.5,749.5L475.5,749.5L475.5,752.7L476.5,752.7L476.5,751.1L477.5,751.1L477.5,752.0L478.5,752.0L478.5,753.8L479.5,753.8L479.5,753.7L480.5,753.7L480.5,753.5L481.5,753.5L481.5,751.7L482.5,751.7L482.5,753.0L483.5,753.0L483.5,752.9L484.5,752.9L484.5,751.8L485.5,751.8L485.5,754.3L486.5,754.3L486.5,752.1L487.5,752.1L487.5,752.7L488.5,752.7L488.5,754.1L489.5,754.1L489.5,753.4L490.5,753.4L490.5,753.7L491.5,753.7L491.5,749.4L492.5,749.4L492.5,753.7L493.5,753.7L493.5,756.0L494.5,756.0L494.5,756.0L495.5,756.0L495.5,754.1L496.5,754.1L496.5,757.2L497.5,757.2L497.5,756.5L498.5,756.5L498.5,755.8L499.5,755.8L499.5,750.7L500.5,750.7L500.5,752.7L501.5,752.7L501.5,749.4L502.5,749.4L502.5,751.3L503.5,751.3L503.5,751.9L504.5,751.9L504.5,754.6L505.5,754.6L505.5,755.4L506.5,755.4L506.5,754.9L507.5,754.9L507.5,752.5L508.5,752.5L508.5,755.0L509.5,755.0L509.5,754.9L510.5,754.9L510.5,752.3L511.5,752.3L511.5,755.5L512.5,755.5L512.5,753.5L513.5,753.5L513.5,755.1L514.5,755.1L514.5,754.0L515.5,754.0L515.5,756.0L516.5,756.0L516.5,753.3L517.5,753.3L517.5,754.5L518.5,754.5L518.5,752.8L519.5,752.8L519.5,754.5L520.5,754.5L520.5,753.0L521.5,753.0L521.5,753.7L522.5,753.7L522.5,753.5L523.5,753.5L523.5,757.8L524.5,757.8L524.5,755.5L525.5,755.5L525.5,757.7L526.5,757.7L526.5,759.4L527.5,759.4L527.5,755.2L528.5,755.2L528.5,755.7L529.5,755.7L529.5,755.9L530.5,755.9L530.5,755.4L531.5,755.4L531.5,755.4L532.5,755.4L532.5,757.8L533.5,757.8L533.5,754.8L534.5,754.8L534.5,753.3L535.5,753.3L535.5,753.7L536.5,753.7L536.5,755.0L537.5,755.0L537.5,756.1L538.5,756.1L538.5,753.6L539.5,753.6L539.5,754.3L540.5,754.3L540.5,754.2L541.5,754.2L541.5,756.2L542.5,756.2L542.5,754.2L543.5,754.2L543.5,750.6L544.5,750.6L544.5,752.0L545.5,752.0L545.5,756.9L546.5,756.9L546.5,753.8L547.5,753.8L547.5,756.2L548.5,756.2L548.5,756.4L549.5,756.4L549.5,754.5L550.5,754.5L550.5,756.0L551.5,756.0L551.5,757.2L552.5,757.2L552.5,754.4L553.6,754.4L553.5,755.4L554.6,755.4L554.6,760.0L555.6,760.0L555.6,754.1L556.6,754.1L556.6,759.4L557.6,759.4L557.6,757.4L558.6,757.4L558.6,755.7L559.6,755.7L559.6,752.0L560.6,752.0L560.6,753.5L561.6,753.5L561.6,755.4L562.6,755.4L562.6,756.5L563.6,756.5L563.6,755.9L564.6,755.9L564.6,757.4L565.6,757.4L565.6,756.2L566.6,756.2L566.6,755.3L567.6,755.3L567.6,754.8L568.6,754.8L568.6,756.5L569.6,756.5L569.6,757.9L570.6,757.9L570.6,757.6L571.6,757.6L571.6,755.8L572.6,755.8L572.6,757.4L573.6,757.4L573.6,754.4L574.6,754.4L574.6,755.4L575.6,755.4L575.6,753.8L576.6,753.8L576.6,756.5L577.6,756.5L577.6,758.5L578.6,758.5L578.6,756.0L579.6,756.0L579.6,755.6L580.6,755.6L580.6,757.2L581.6,757.2L581.6,754.2L582.6,754.2L582.6,758.7L583.6,758.7L583.6,757.9L584.6,757.9L584.6,755.4L585.6,755.4L585.6,755.2L586.6,755.2L586.6,758.2L587.6,758.2L587.6,759.2L588.6,759.2L588.6,754.8L589.6,754.8L589.6,756.2L590.6,756.2L590.6,757.6L591.6,757.6L591.6,758.5L592.6,758.5L592.6,755.1L593.6,755.1L593.6,756.3L594.6,756.3L594.6,754.3L595.6,754.3L595.6,756.8L596.6,756.8L596.6,760.7L597.6,760.7L597.6,757.1L598.6,757.1L598.6,757.4L599.6,757.4L599.6,756.9L600.6,756.9L600.6,757.6L601.6,757.6L601.6,755.9L602.6,755.9L602.6,754.3L603.6,754.3L603.6,757.6L604.6,757.6L604.6,757.6L605.6,757.6L605.6,756.0L606.6,756.0L606.6,756.4L607.6,756.4L607.6,760.1L608.6,760.1L608.6,758.3L609.6,758.3L609.6,756.9L610.6,756.9L610.6,758.1L611.6,758.1L611.6,757.5L612.6,757.5L612.6,758.2L613.6,758.2L613.6,760.9L614.6,760.9L614.6,757.8L615.6,757.8L615.6,754.7L616.6,754.7L616.6,758.0L617.6,758.0L617.6,756.2L618.6,756.2L618.6,755.1L619.6,755.1L619.6,755.9L620.6,755.9L620.6,760.8L621.6,760.8L621.6,760.2L622.6,760.2L622.6,757.8L623.6,757.8L623.6,757.5L624.6,757.5L624.6,758.8L625.6,758.8L625.6,759.2L626.6,759.2L626.6,760.8L627.6,760.8L627.6,760.5L628.6,760.5L628.6,756.2L629.6,756.2L629.6,756.1L630.6,756.1L630.6,760.3L631.6,760.3L631.6,755.3L632.6,755.3L632.6,758.0L633.7,758.0L633.6,756.6L634.7,756.6L634.7,760.2L635.7,760.2L635.7,759.9L636.7,759.9L636.7,762.5L637.7,762.5L637.7,763.1L638.7,763.1L638.7,759.9L639.7,759.9L639.7,761.8L640.7,761.8L640.7,758.9L641.7,758.9L641.7,758.6L642.7,758.6L642.7,758.3L643.7,758.3L643.7,757.4L644.7,757.4L644.7,758.0L645.7,758.0L645.7,756.3L646.7,756.3L646.7,758.8L647.7,758.8L647.7,761.7L648.7,761.7L648.7,759.3L649.7,759.3L649.7,756.3L650.7,756.3L650.7,757.0L651.7,757.0L651.7,755.4L652.7,755.4L652.7,756.5L653.7,756.5L653.7,758.8L654.7,758.8L654.7,758.6L655.7,758.6L655.7,755.5L656.7,755.5L656.7,757.7L657.7,757.7L657.7,758.0L658.7,758.0L658.7,760.5L659.7,760.5L659.7,759.7L660.7,759.7L660.7,761.4L661.7,761.4L661.7,758.5L662.7,758.5L662.7,756.9L663.7,756.9L663.7,760.0L664.7,760.0L664.7,759.6L665.7,759.6L665.7,759.7L666.7,759.7L666.7,760.4L667.7,760.4L667.7,760.6L668.7,760.6L668.7,761.6L669.7,761.6L669.7,760.2L670.7,760.2L670.7,761.4L671.7,761.4L671.7,762.2L672.7,762.2L672.7,762.5L673.7,762.5L673.7,766.6L672.7,766.6L672.7,766.0L671.7,766.0L671.7,765.2L670.7,765.2L670.7,764.2L669.7,764.2L669.7,765.2L668.7,765.2L668.7,764.5L667.7,764.5L667.7,764.5L666.7,764.5L666.7,763.4L665.7,763.4L665.7,763.1L664.7,763.1L664.7,763.5L663.7,763.5L663.7,761.5L662.7,761.5L662.7,762.1L661.7,762.1L661.7,765.1L660.7,765.1L660.7,763.4L659.7,763.4L659.7,764.4L658.7,764.4L658.7,762.1L657.7,762.1L657.7,761.2L656.7,761.2L656.7,759.2L655.7,759.2L655.7,762.2L654.7,762.2L654.7,763.1L653.7,763.1L653.7,760.1L652.7,760.1L652.7,759.4L651.7,759.4L651.7,761.2L650.7,761.2L650.7,760.3L649.7,760.3L649.7,762.9L648.7,762.9L648.7,765.7L647.7,765.7L647.7,763.1L646.7,763.1L646.7,760.5L645.7,760.5L645.7,761.5L644.7,761.5L644.7,761.6L643.7,761.6L643.7,762.4L642.7,762.4L642.7,762.2L641.7,762.2L641.7,762.9L640.7,762.9L640.7,766.0L639.7,766.0L639.7,763.8L638.7,763.8L638.7,766.7L637.7,766.7L637.7,766.3L636.7,766.3L636.7,764.2L635.7,764.2L635.7,764.4L634.7,764.4L634.7,761.0L633.6,761.0L633.7,762.7L632.6,762.7L632.6,760.1L631.6,760.1L631.6,764.3L630.6,764.3L630.6,760.7L629.6,760.7L629.6,761.0L628.6,761.0L628.6,764.1L627.6,764.1L627.6,765.2L626.6,765.2L626.6,763.1L625.6,763.1L625.6,762.5L624.6,762.5L624.6,761.4L623.6,761.4L623.6,761.8L622.6,761.8L622.6,764.2L621.6,764.2L621.6,764.7L620.6,764.7L620.6,759.6L619.6,759.6L619.6,758.7L618.6,758.7L618.6,759.9L617.6,759.9L617.6,762.2L616.6,762.2L616.6,758.4L615.6,758.4L615.6,761.8L614.6,761.8L614.6,764.9L613.6,764.9L613.6,762.1L612.6,762.1L612.6,761.6L611.6,761.6L611.6,761.9L610.6,761.9L610.6,760.5L609.6,760.5L609.6,762.4L608.6,762.4L608.6,764.5L607.6,764.5L607.6,760.9L606.6,760.9L606.6,759.8L605.6,759.8L605.6,761.7L604.6,761.7L604.6,761.4L603.6,761.4L603.6,758.3L602.6,758.3L602.6,760.1L601.6,760.1L601.6,761.6L600.6,761.6L600.6,760.9L599.6,760.9L599.6,761.1L598.6,761.1L598.6,760.9L597.6,760.9L597.6,764.9L596.6,764.9L596.6,761.3L595.6,761.3L595.6,758.5L594.6,758.5L594.6,759.9L593.6,759.9L593.6,758.9L592.6,758.9L592.6,762.3L591.6,762.3L591.6,761.5L590.6,761.5L590.6,759.8L589.6,759.8L589.6,759.0L588.6,759.0L588.6,762.9L587.6,762.9L587.6,761.8L586.6,761.8L586.6,759.8L585.6,759.8L585.6,760.1L584.6,760.1L584.6,762.1L583.6,762.1L583.6,762.6L582.6,762.6L582.6,758.0L581.6,758.0L581.6,761.0L580.6,761.0L580.6,759.2L579.6,759.2L579.6,759.5L578.6,759.5L578.6,762.2L577.6,762.2L577.6,760.1L576.6,760.1L576.6,757.5L575.6,757.5L575.6,759.4L574.6,759.4L574.6,758.7L573.6,758.7L573.6,761.1L572.6,761.1L572.6,759.5L571.6,759.5L571.6,761.2L570.6,761.2L570.6,761.8L569.6,761.8L569.6,761.6L568.6,761.6L568.6,758.8L567.6,758.8L567.6,759.5L566.6,759.5L566.6,760.1L565.6,760.1L565.6,761.2L564.6,761.2L564.6,760.2L563.6,760.2L563.6,760.0L562.6,760.0L562.6,759.3L561.6,759.3L561.6,757.3L560.6,757.3L560.6,756.5L559.6,756.5L559.6,760.2L558.6,760.2L558.6,761.6L557.6,761.6L557.6,763.0L556.6,763.0L556.6,759.0L555.6,759.0L555.6,763.6L554.6,763.6L554.6,759.3L553.5,759.3L553.6,758.0L552.5,758.0L552.5,761.1L551.5,761.1L551.5,759.7L550.5,759.7L550.5,758.7L549.5,758.7L549.5,760.4L548.5,760.4L548.5,759.8L547.5,759.8L547.5,757.8L546.5,757.8L546.5,760.5L545.5,760.5L545.5,756.8L544.5,756.8L544.5,754.5L543.5,754.5L543.5,758.1L542.5,758.1L542.5,760.5L541.5,760.5L541.5,757.8L540.5,757.8L540.5,757.9L539.5,757.9L539.5,757.9L538.5,757.9L538.5,759.7L537.5,759.7L537.5,759.0L536.5,759.0L536.5,757.7L535.5,757.7L535.5,757.0L534.5,757.0L534.5,758.5L533.5,758.5L533.5,762.1L532.5,762.1L532.5,759.7L531.5,759.7L531.5,759.2L530.5,759.2L530.5,759.5L529.5,759.5L529.5,759.8L528.5,759.8L528.5,759.0L527.5,759.0L527.5,762.9L526.5,762.9L526.5,761.2L525.5,761.2L525.5,759.3L524.5,759.3L524.5,761.4L523.5,761.4L523.5,757.6L522.5,757.6L522.5,757.3L521.5,757.3L521.5,757.2L520.5,757.2L520.5,758.8L519.5,758.8L519.5,756.6L518.5,756.6L518.5,758.5L517.5,758.5L517.5,757.5L516.5,757.5L516.5,759.7L515.5,759.7L515.5,758.8L514.5,758.8L514.5,759.6L513.5,759.6L513.5,757.6L512.5,757.6L512.5,759.2L511.5,759.2L511.5,756.7L510.5,756.7L510.5,758.5L509.5,758.5L509.5,759.7L508.5,759.7L508.5,756.6L507.5,756.6L507.5,758.5L506.5,758.5L506.5,759.3L505.5,759.3L505.5,758.2L504.5,758.2L504.5,756.1L503.5,756.1L503.5,755.5L502.5,755.5L502.5,753.5L501.5,753.5L501.5,756.4L500.5,756.4L500.5,754.7L499.5,754.7L499.5,759.5L498.5,759.5L498.5,760.5L497.5,760.5L497.5,761.3L496.5,761.3L496.5,758.4L495.5,758.4L495.5,760.3L494.5,760.3L494.5,760.7L493.5,760.7L493.5,757.9L492.5,757.9L492.5,753.3L491.5,753.3L491.5,757.4L490.5,757.4L490.5,757.4L489.5,757.4L489.5,757.7L488.5,757.7L488.5,756.9L487.5,756.9L487.5,756.1L486.5,756.1L486.5,758.1L485.5,758.1L485.5,757.0L484.5,757.0L484.5,756.7L483.5,756.7L483.5,757.6L482.5,757.6L482.5,755.5L481.5,755.5L481.5,757.2L480.5,757.2L480.5,758.0L479.5,758.0L479.5,757.5L478.5,757.5L478.5,755.7L477.5,755.7L477.5,755.0L476.5,755.0L476.5,756.7L475.5,756.7L475.5,754.1L474.5,754.1L474.5,755.2L473.4,755.2L473.4,758.0L472.4,758.0L472.4,758.9L471.4,758.9L471.4,754.7L470.4,754.7L470.4,755.4L469.4,755.4L469.4,756.3L468.4,756.3L468.4,753.6L467.4,753.6L467.4,755.3L466.4,755.3L466.4,755.7L465.4,755.7L465.4,758.2L464.4,758.2L464.4,754.6L463.4,754.6L463.4,758.8L462.4,758.8L462.4,755.1L461.4,755.1L461.4,755.5L460.4,755.5L460.4,756.0L459.4,756.0L459.4,755.7L458.4,755.7L458.4,753.8L457.4,753.8L457.4,757.3L456.4,757.3L456.4,755.0L455.4,755.0L455.4,755.5L454.4,755.5L454.4,756.6L453.4,756.6L453.4,756.1L452.4,756.1L452.4,757.5L451.4,757.5L451.4,755.1L450.4,755.1L450.4,756.5L449.4,756.5L449.4,754.0L448.4,754.0L448.4,755.0L447.4,755.0L447.4,755.7L446.4,755.7L446.4,758.5L445.4,758.5L445.4,755.5L444.4,755.5L444.4,758.5L443.4,758.5L443.4,759.2L442.4,759.2L442.4,758.0L441.4,758.0L441.4,753.3L440.4,753.3L440.4,753.7L439.4,753.7L439.4,758.0L438.4,758.0L438.4,759.7L437.4,759.7L437.4,757.7L436.4,757.7L436.4,756.4L435.4,756.4L435.4,756.1L434.4,756.1L434.4,752.2L433.4,752.2Z" fill="#e27eb2"/>
<path d="M433.4,720.7L434.4,720.7L434.4,720.7L435.4,720.7L435.4,720.7L436.4,720.7L436.4,720.7L437.4,720.7L437.4,720.7L438.4,720.7L438.4,720.7L439.4,720.7L439.4,720.7L440.4,720.7L440.4,720.7L441.4,720.7L441.4,720.7L442.4,720.7L442.4,720.7L443.4,720.7L443.4,720.7L444.4,720.7L444.4,720.7L445.4,720.7L445.4,720.7L446.4,720.7L446.4,720.7L447.4,720.7L447.4,720.7L448.4,720.7L448.4,720.7L449.4,720.7L449.4,720.7L450.4,720.7L450.4,720.7L451.4,720.7L451.4,720.7L452.4,720.7L452.4,720.7L453.4,720.7L453.4,720.7L454.4,720.7L454.4,720.7L455.4,720.7L455.4,720.7L456.4,720.7L456.4,720.7L457.4,720.7L457.4,720.7L458.4,720.7L458.4,720.7L459.4,720.7L459.4,720.7L460.4,720.7L460.4,720.7L461.4,720.7L461.4,720.7L462.4,720.7L462.4,720.7L463.4,720.7L463.4,720.7L464.4,720.7L464.4,720.7L465.4,720.7L465.4,720.7L466.4,720.7L466.4,720.7L467.4,720.7L467.4,720.7L468.4,720.7L468.4,720.7L469.4,720.7L469.4,720.7L470.4,720.7L470.4,720.7L471.4,720.7L471.4,720.7L472.4,720.7L472.4,720.7L473.4,720.7L473.4,720.7L474.5,720.7L474.5,720.7L475.5,720.7L475.5,720.7L476.5,720.7L476.5,720.7L477.5,720.7L477.5,720.7L478.5,720.7L478.5,720.7L479.5,720.7L479.5,720.7L480.5,720.7L480.5,720.7L481.5,720.7L481.5,720.7L482.5,720.7L482.5,720.7L483.5,720.7L483.5,720.7L484.5,720.7L484.5,720.7L485.5,720.7L485.5,720.7L486.5,720.7L486.5,720.7L487.5,720.7L487.5,720.7L488.5,720.7L488.5,720.7L489.5,720.7L489.5,720.7L490.5,720.7L490.5,720.7L491.5,720.7L491.5,720.7L492.5,720.7L492.5,720.7L493.5,720.7L493.5,720.7L494.5,720.7L494.5,720.7L495.5,720.7L495.5,720.7L496.5,720.7L496.5,720.7L497.5,720.7L497.5,720.7L498.5,720.7L498.5,720.7L499.5,720.7L499.5,720.7L500.5,720.7L500.5,720.7L501.5,720.7L501.5,720.7L502.5,720.7L502.5,720.7L503.5,720.7L503.5,720.7L504.5,720.7L504.5,720.7L505.5,720.7L505.5,720.7L506.5,720.7L506.5,720.7L507.5,720.7L507.5,720.7L508.5,720.7L508.5,720.7L509.5,720.7L509.5,720.7L510.5,720.7L510.5,720.7L511.5,720.7L511.5,720.7L512.5,720.7L512.5,720.7L513.5,720.7L513.5,720.7L514.5,720.7L514.5,720.7L515.5,720.7L515.5,720.7L516.5,720.7L516.5,720.7L517.5,720.7L517.5,720.7L518.5,720.7L518.5,720.7L519.5,720.7L519.5,720.7L520.5,720.7L520.5,720.7L521.5,720.7L521.5,720.7L522.5,720.7L522.5,720.7L523.5,720.7L523.5,720.7L524.5,720.7L524.5,720.7L525.5,720.7L525.5,720.7L526.5,720.7L526.5,720.7L527.5,720.7L527.5,720.7L528.5,720.7L528.5,720.7L529.5,720.7L529.5,720.7L530.5,720.7L530.5,720.7L531.5,720.7L531.5,720.7L532.5,720.7L532.5,720.7L533.5,720.7L533.5,720.7L534.5,720.7L534.5,720.7L535.5,720.7L535.5,720.7L536.5,720.7L536.5,720.7L537.5,720.7L537.5,720.7L538.5,720.7L538.5,720.7L539.5,720.7L539.5,720.7L540.5,720.7L540.5,720.7L541.5,720.7L541.5,720.7L542.5,720.7L542.5,720.7L543.5,720.7L543.5,720.7L544.5,720.7L544.5,720.7L545.5,720.7L545.5,720.7L546.5,720.7L546.5,720.7L547.5,720.7L547.5,720.7L548.5,720.7L548.5,720.7L549.5,720.7L549.5,720.7L550.5,720.7L550.5,720.7L551.5,720.7L551.5,720.7L552.5,720.7L552.5,720.7L553.6,720.7L553.5,720.7L554.6,720.7L554.6,720.7L555.6,720.7L555.6,720.7L556.6,720.7L556.6,720.7L557.6,720.7L557.6,720.7L558.6,720.7L558.6,720.7L559.6,720.7L559.6,720.7L560.6,720.7L560.6,720.7L561.6,720.7L561.6,720.7L562.6,720.7L562.6,720.7L563.6,720.7L563.6,720.7L564.6,720.7L564.6,720.7L565.6,720.7L565.6,720.7L566.6,720.7L566.6,720.7L567.6,720.7L567.6,720.7L568.6,720.7L568.6,720.7L569.6,720.7L569.6,720.7L570.6,720.7L570.6,720.7L571.6,720.7L571.6,720.7L572.6,720.7L572.6,720.7L573.6,720.7L573.6,720.7L574.6,720.7L574.6,720.7L575.6,720.7L575.6,720.7L576.6,720.7L576.6,720.7L577.6,720.7L577.6,720.7L578.6,720.7L578.6,720.7L579.6,720.7L579.6,720.7L580.6,720.7L580.6,720.7L581.6,720.7L581.6,720.7L582.6,720.7L582.6,720.7L583.6,720.7L583.6,720.7L584.6,720.7L584.6,720.7L585.6,720.7L585.6,720.7L586.6,720.7L586.6,720.7L587.6,720.7L587.6,720.7L588.6,720.7L588.6,720.7L589.6,720.7L589.6,720.7L590.6,720.7L590.6,720.7L591.6,720.7L591.6,720.7L592.6,720.7L592.6,720.7L593.6,720.7L593.6,720.7L594.6,720.7L594.6,720.7L595.6,720.7L595.6,720.7L596.6,720.7L596.6,720.7L597.6,720.7L597.6,720.7L598.6,720.7L598.6,720.7L599.6,720.7L599.6,720.7L600.6,720.7L600.6,720.7L601.6,720.7L601.6,720.7L602.6,720.7L602.6,720.7L603.6,720.7L603.6,720.7L604.6,720.7L604.6,720.7L605.6,720.7L605.6,720.7L606.6,720.7L606.6,720.7L607.6,720.7L607.6,720.7L608.6,720.7L608.6,720.7L609.6,720.7L609.6,720.7L610.6,720.7L610.6,720.7L611.6,720.7L611.6,720.7L612.6,720.7L612.6,720.7L613.6,720.7L613.6,720.7L614.6,720.7L614.6,720.7L615.6,720.7L615.6,720.7L616.6,720.7L616.6,720.7L617.6,720.7L617.6,720.7L618.6,720.7L618.6,720.7L619.6,720.7L619.6,720.7L620.6,720.7L620.6,720.7L621.6,720.7L621.6,720.7L622.6,720.7L622.6,720.7L623.6,720.7L623.6,720.7L624.6,720.7L624.6,720.7L625.6,720.7L625.6,720.7L626.6,720.7L626.6,720.7L627.6,720.7L627.6,720.7L628.6,720.7L628.6,720.7L629.6,720.7L629.6,720.7L630.6,720.7L630.6,720.7L631.6,720.7L631.6,720.7L632.6,720.7L632.6,720.7L633.7,720.7L633.6,720.7L634.7,720.7L634.7,720.7L635.7,720.7L635.7,720.7L636.7,720.7L636.7,720.7L637.7,720.7L637.7,720.7L638.7,720.7L638.7,720.7L639.7,720.7L639.7,720.7L640.7,720.7L640.7,720.7L641.7,720.7L641.7,720.7L642.7,720.7L642.7,720.7L643.7,720.7L643.7,720.7L644.7,720.7L644.7,720.7L645.7,720.7L645.7,720.7L646.7,720.7L646.7,720.7L647.7,720.7L647.7,720.7L648.7,720.7L648.7,720.7L649.7,720.7L649.7,720.7L650.7,720.7L650.7,720.7L651.7,720.7L651.7,720.7L652.7,720.7L652.7,720.7L653.7,720.7L653.7,720.7L654.7,720.7L654.7,720.7L655.7,720.7L655.7,720.7L656.7,720.7L656.7,720.7L657.7,720.7L657.7,720.7L658.7,720.7L658.7,720.7L659.7,720.7L659.7,720.7L660.7,720.7L660.7,720.7L661.7,720.7L661.7,720.7L662.7,720.7L662.7,720.7L663.7,720.7L663.7,720.7L664.7,720.7L664.7,720.7L665.7,720.7L665.7,720.7L666.7,720.7L666.7,720.7L667.7,720.7L667.7,720.7L668.7,720.7L668.7,720.7L669.7,720.7L669.7,720.7L670.7,720.7L670.7,720.7L671.7,720.7L671.7,720.7L672.7,720.7L672.7,720.7L673.7,720.7L673.7,723.3L672.7,723.3L672.7,723.3L671.7,723.3L671.7,723.3L670.7,723.3L670.7,723.3L669.7,723.3L669.7,723.3L668.7,723.3L668.7,723.3L667.7,723.3L667.7,723.3L666.7,723.3L666.7,723.3L665.7,723.3L665.7,723.3L664.7,723.3L664.7,723.3L663.7,723.3L663.7,723.3L662.7,723.3L662.7,723.3L661.7,723.3L661.7,723.3L660.7,723.3L660.7,723.3L659.7,723.3L659.7,723.3L658.7,723.3L658.7,723.3L657.7,723.3L657.7,723.3L656.7,723.3L656.7,723.3L655.7,723.3L655.7,723.3L654.7,723.3L654.7,723.3L653.7,723.3L653.7,723.3L652.7,723.3L652.7,723.3L651.7,723.3L651.7,723.3L650.7,723.3L650.7,723.3L649.7,723.3L649.7,723.3L648.7,723.3L648.7,723.3L647.7,723.3L647.7,723.3L646.7,723.3L646.7,723.3L645.7,723.3L645.7,723.3L644.7,723.3L644.7,723.3L643.7,723.3L643.7,723.3L642.7,723.3L642.7,723.3L641.7,723.3L641.7,723.3L640.7,723.3L640.7,723.3L639.7,723.3L639.7,723.3L638.7,723.3L638.7,723.3L637.7,723.3L637.7,723.3L636.7,723.3L636.7,723.3L635.7,723.3L635.7,723.3L634.7,723.3L634.7,723.3L633.6,723.3L633.7,723.3L632.6,723.3L632.6,723.3L631.6,723.3L631.6,723.3L630.6,723.3L630.6,723.3L629.6,723.3L629.6,723.3L628.6,723.3L628.6,721.9L627.6,721.9L627.6,721.9L626.6,721.9L626.6,721.9L625.6,721.9L625.6,721.9L624.6,721.9L624.6,721.9L623.6,721.9L623.6,721.9L622.6,721.9L622.6,721.9L621.6,721.9L621.6,721.9L620.6,721.9L620.6,721.9L619.6,721.9L619.6,721.9L618.6,721.9L618.6,721.9L617.6,721.9L617.6,721.9L616.6,721.9L616.6,721.9L615.6,721.9L615.6,721.9L614.6,721.9L614.6,721.9L613.6,721.9L613.6,721.9L612.6,721.9L612.6,721.9L611.6,721.9L611.6,721.9L610.6,721.9L610.6,721.9L609.6,721.9L609.6,721.9L608.6,721.9L608.6,721.9L607.6,721.9L607.6,721.9L606.6,721.9L606.6,721.9L605.6,721.9L605.6,721.9L604.6,721.9L604.6,721.9L603.6,721.9L603.6,721.9L602.6,721.9L602.6,721.9L601.6,721.9L601.6,721.9L600.6,721.9L600.6,721.9L599.6,721.9L599.6,721.9L598.6,721.9L598.6,721.9L597.6,721.9L597.6,721.9L596.6,721.9L596.6,721.9L595.6,721.9L595.6,721.9L594.6,721.9L594.6,721.9L593.6,721.9L593.6,721.9L592.6,721.9L592.6,721.9L591.6,721.9L591.6,721.9L590.6,721.9L590.6,721.9L589.6,721.9L589.6,721.9L588.6,721.9L588.6,721.9L587.6,721.9L587.6,721.9L586.6,721.9L586.6,721.9L585.6,721.9L585.6,721.9L584.6,721.9L584.6,721.9L583.6,721.9L583.6,721.9L582.6,721.9L582.6,721.9L581.6,721.9L581.6,721.9L580.6,721.9L580.6,721.9L579.6,721.9L579.6,721.9L578.6,721.9L578.6,721.9L577.6,721.9L577.6,721.9L576.6,721.9L576.6,721.9L575.6,721.9L575.6,721.9L574.6,721.9L574.6,721.9L573.6,721.9L573.6,721.9L572.6,721.9L572.6,721.9L571.6,721.9L571.6,721.9L570.6,721.9L570.6,721.9L569.6,721.9L569.6,721.9L568.6,721.9L568.6,721.9L567.6,721.9L567.6,721.9L566.6,721.9L566.6,721.9L565.6,721.9L565.6,721.9L564.6,721.9L564.6,721.9L563.6,721.9L563.6,721.9L562.6,721.9L562.6,721.9L561.6,721.9L561.6,721.9L560.6,721.9L560.6,721.9L559.6,721.9L559.6,721.9L558.6,721.9L558.6,721.9L557.6,721.9L557.6,721.9L556.6,721.9L556.6,721.9L555.6,721.9L555.6,721.9L554.6,721.9L554.6,721.9L553.5,721.9L553.6,721.9L552.5,721.9L552.5,721.9L551.5,721.9L551.5,721.9L550.5,721.9L550.5,721.9L549.5,721.9L549.5,721.9L548.5,721.9L548.5,721.9L547.5,721.9L547.5,721.9L546.5,721.9L546.5,721.9L545.5,721.9L545.5,721.9L544.5,721.9L544.5,721.9L543.5,721.9L543.5,721.9L542.5,721.9L542.5,721.9L541.5,721.9L541.5,721.9L540.5,721.9L540.5,721.9L539.5,721.9L539.5,721.9L538.5,721.9L538.5,721.9L537.5,721.9L537.5,721.9L536.5,721.9L536.5,721.9L535.5,721.9L535.5,721.9L534.5,721.9L534.5,721.9L533.5,721.9L533.5,721.9L532.5,721.9L532.5,721.9L531.5,721.9L531.5,721.9L530.5,721.9L530.5,721.9L529.5,721.9L529.5,721.9L528.5,721.9L528.5,721.9L527.5,721.9L527.5,721.9L526.5,721.9L526.5,721.9L525.5,721.9L525.5,721.9L524.5,721.9L524.5,721.9L523.5,721.9L523.5,721.9L522.5,721.9L522.5,721.9L521.5,721.9L521.5,721.9L520.5,721.9L520.5,721.9L519.5,721.9L519.5,721.9L518.5,721.9L518.5,721.9L517.5,721.9L517.5,721.9L516.5,721.9L516.5,721.9L515.5,721.9L515.5,721.9L514.5,721.9L514.5,721.9L513.5,721.9L513.5,721.9L512.5,721.9L512.5,721.9L511.5,721.9L511.5,721.9L510.5,721.9L510.5,721.9L509.5,721.9L509.5,721.9L508.5,721.9L508.5,721.9L507.5,721.9L507.5,721.9L506.5,721.9L506.5,721.9L505.5,721.9L505.5,721.9L504.5,721.9L504.5,721.9L503.5,721.9L503.5,721.9L502.5,721.9L502.5,721.9L501.5,721.9L501.5,721.9L500.5,721.9L500.5,721.9L499.5,721.9L499.5,721.9L498.5,721.9L498.5,721.9L497.5,721.9L497.5,721.9L496.5,721.9L496.5,721.9L495.5,721.9L495.5,721.9L494.5,721.9L494.5,721.9L493.5,721.9L493.5,721.9L492.5,721.9L492.5,721.9L491.5,721.9L491.5,721.9L490.5,721.9L490.5,721.9L489.5,721.9L489.5,721.9L488.5,721.9L488.5,721.9L487.5,721.9L487.5,721.9L486.5,721.9L486.5,721.9L485.5,721.9L485.5,721.9L484.5,721.9L484.5,721.9L483.5,721.9L483.5,721.9L482.5,721.9L482.5,721.9L481.5,721.9L481.5,721.9L480.5,721.9L480.5,721.9L479.5,721.9L479.5,721.9L478.5,721.9L478.5,721.9L477.5,721.9L477.5,721.9L476.5,721.9L476.5,721.9L475.5,721.9L475.5,721.9L474.5,721.9L474.5,721.9L473.4,721.9L473.4,721.9L472.4,721.9L472.4,721.9L471.4,721.9L471.4,721.9L470.4,721.9L470.4,721.9L469.4,721.9L469.4,721.9L468.4,721.9L468.4,721.9L467.4,721.9L467.4,721.9L466.4,721.9L466.4,721.9L465.4,721.9L465.4,721.9L464.4,721.9L464.4,721.9L463.4,721.9L463.4,721.9L462.4,721.9L462.4,721.9L461.4,721.9L461.4,721.9L460.4,721.9L460.4,721.9L459.4,721.9L459.4,721.9L458.4,721.9L458.4,721.9L457.4,721.9L457.4,721.9L456.4,721.9L456.4,721.9L455.4,721.9L455.4,721.9L454.4,721.9L454.4,721.9L453.4,721.9L453.4,721.9L452.4,721.9L452.4,721.9L451.4,721.9L451.4,721.9L450.4,721.9L450.4,721.9L449.4,721.9L449.4,721.9L448.4,721.9L448.4,721.9L447.4,721.9L447.4,721.9L446.4,721.9L446.4,721.9L445.4,721.9L445.4,721.9L444.4,721.9L444.4,721.9L443.4,721.9L443.4,721.9L442.4,721.9L442.4,721.9L441.4,721.9L441.4,721.9L440.4,721.9L440.4,721.9L439.4,721.9L439.4,721.9L438.4,721.9L438.4,721.9L437.4,721.9L437.4,721.9L436.4,721.9L436.4,721.9L435.4,721.9L435.4,721.9L434.4,721.9L434.4,721.9L433.4,721.9Z" fill="#b48a96"/>
<line x1="433.4" y1="720.7" x2="433.4" y2="814.5" stroke="#fff" stroke-opacity="0.12" stroke-width="0.4"/>
<line x1="436.4" y1="720.7" x2="436.4" y2="814.5" stroke="#fff" stroke-opacity="0.12" stroke-width="0.4"/>
<line x1="439.4" y1="720.7" x2="439.4" y2="814.5" stroke="#fff" stroke-opacity="0.12" stroke-width="0.4"/>
<line x1="442.4" y1="720.7" x2="442.4" y2="814.5" stroke="#fff" stroke-opacity="0.12" stroke-width="0.4"/>
<line x1="445.4" y1="720.7" x2="445.4" y2="814.5" stroke="#fff" stroke-opacity="0.12" stroke-width="0.4"/>
<line x1="448.4" y1="720.7" x2="448.4" y2="814.5" stroke="#fff" stroke-opacity="0.12" stroke-width="0.4"/>
<line x1="451.4" y1="720.7" x2="451.4" y2="814.5" stroke="#fff" stroke-opacity="0.12" stroke-width="0.4"/>
<line x1="454.4" y1="720.7" x2="454.4" y2="814.5" stroke="#fff" stroke-opacity="0.12" stroke-width="0.4"/>
<line x1="457.4" y1="720.7" x2="457.4" y2="814.5" stroke="#fff" stroke-opacity="0.12" stroke-width="0.4"/>
<line x1="460.4" y1="720.7" x2="460.4" y2="814.5" stroke="#fff" stroke-opacity="0.12" stroke-width="0.4"/>
<line x1="463.4" y1="720.7" x2="463.4" y2="814.5" stroke="#fff" stroke-opacity="0.12" stroke-width="0.4"/>
<line x1="466.4" y1="720.7" x2="466.4" y2="814.5" stroke="#fff" stroke-opacity="0.12" stroke-width="0.4"/>
<line x1="469.4" y1="720.7" x2="469.4" y2="814.5" stroke="#fff" stroke-opacity="0.12" stroke-width="0.4"/>
<line x1="472.4" y1="720.7" x2="472.4" y2="814.5" stroke="#fff" stroke-opacity="0.12" stroke-width="0.4"/>
<line x1="475.5" y1="720.7" x2="475.5" y2="814.5" stroke="#fff" stroke-opacity="0.12" stroke-width="0.4"/>
<line x1="478.5" y1="720.7" x2="478.5" y2="814.5" stroke="#fff" stroke-opacity="0.12" stroke-width="0.4"/>
<line x1="481.5" y1="720.7" x2="481.5" y2="814.5" stroke="#fff" stroke-opacity="0.12" stroke-width="0.4"/>
<line x1="484.5" y1="720.7" x2="484.5" y2="814.5" stroke="#fff" stroke-opacity="0.12" stroke-width="0.4"/>
<line x1="487.5" y1="720.7" x2="487.5" y2="814.5" stroke="#fff" stroke-opacity="0.12" stroke-width="0.4"/>
<line x1="490.5" y1="720.7" x2="490.5" y2="814.5" stroke="#fff" stroke-opacity="0.12" stroke-width="0.4"/>
<line x1="493.5" y1="720.7" x2="493.5" y2="814.5" stroke="#fff" stroke-opacity="0.12" stroke-width="0.4"/>
<line x1="496.5" y1="720.7" x2="496.5" y2="814.5" stroke="#fff" stroke-opacity="0.12" stroke-width="0.4"/>
<line x1="499.5" y1="720.7" x2="499.5" y2="814.5" stroke="#fff" stroke-opacity="0.12" stroke-width="0.4"/>
<line x1="502.5" y1="720.7" x2="502.5" y2="814.5" stroke="#fff" stroke-opacity="0.12" stroke-width="0.4"/>
<line x1="505.5" y1="720.7" x2="505.5" y2="814.5" stroke="#fff" stroke-opacity="0.12" stroke-width="0.4"/>
<line x1="508.5" y1="720.7" x2="508.5" y2="814.5" stroke="#fff" stroke-opacity="0.12" stroke-width="0.4"/>
<line x1="511.5" y1="720.7" x2="511.5" y2="814.5" stroke="#fff" stroke-opacity="0.12" stroke-width="0.4"/>
<line x1="514.5" y1="720.7" x2="514.5" y2="814.5" stroke="#fff" stroke-opacity="0.12" stroke-width="0.4"/>
<line x1="517.5" y1="720.7" x2="517.5" y2="814.5" stroke="#fff" stroke-opacity="0.12" stroke-width="0.4"/>
<line x1="520.5" y1="720.7" x2="520.5" y2="814.5" stroke="#fff" stroke-opacity="0.12" stroke-width="0.4"/>
<line x1="523.5" y1="720.7" x2="523.5" y2="814.5" stroke="#fff" stroke-opacity="0.12" stroke-width="0.4"/>
<line x1="526.5" y1="720.7" x2="526.5" y2="814.5" stroke="#fff" stroke-opacity="0.12" stroke-width="0.4"/>
<line x1="529.5" y1="720.7" x2="529.5" y2="814.5" stroke="#fff" stroke-opacity="0.12" stroke-width="0.4"/>
<line x1="532.5" y1="720.7" x2="532.5" y2="814.5" stroke="#fff" stroke-opacity="0.12" stroke-width="0.4"/>
<line x1="535.5" y1="720.7" x2="535.5" y2="814.5" stroke="#fff" stroke-opacity="0.12" stroke-width="0.4"/>
<line x1="538.5" y1="720.7" x2="538.5" y2="814.5" stroke="#fff" stroke-opacity="0.12" stroke-width="0.4"/>
<line x1="541.5" y1="720.7" x2="541.5" y2="814.5" stroke="#fff" stroke-opacity="0.12" stroke-width="0.4"/>
<line x1="544.5" y1="720.7" x2="544.5" y2="814.5" stroke="#fff" stroke-opacity="0.12" stroke-width="0.4"/>
<line x1="547.5" y1="720.7" x2="547.5" y2="814.5" stroke="#fff" stroke-opacity="0.12" stroke-width="0.4"/>
<line x1="550.5" y1="720.7" x2="550.5" y2="814.5" stroke="#fff" stroke-opacity="0.12" stroke-width="0.4"/>
<line x1="553.5" y1="720.7" x2="553.5" y2="814.5" stroke="#fff" stroke-opacity="0.12" stroke-width="0.4"/>
<line x1="556.6" y1="720.7" x2="556.6" y2="814.5" stroke="#fff" stroke-opacity="0.12" stroke-width="0.4"/>
<line x1="559.6" y1="720.7" x2="559.6" y2="814.5" stroke="#fff" stroke-opacity="0.12" stroke-width="0.4"/>
<line x1="562.6" y1="720.7" x2="562.6" y2="814.5" stroke="#fff" stroke-opacity="0.12" stroke-width="0.4"/>
<line x1="565.6" y1="720.7" x2="565.6" y2="814.5" stroke="#fff" stroke-opacity="0.12" stroke-width="0.4"/>
<line x1="568.6" y1="720.7" x2="568.6" y2="814.5" stroke="#fff" stroke-opacity="0.12" stroke-width="0.4"/>
<line x1="571.6" y1="720.7" x2="571.6" y2="814.5" stroke="#fff" stroke-opacity="0.12" stroke-width="0.4"/>
<line x1="574.6" y1="720.7" x2="574.6" y2="814.5" stroke="#fff" stroke-opacity="0.12" stroke-width="0.4"/>
<line x1="577.6" y1="720.7" x2="577.6" y2="814.5" stroke="#fff" stroke-opacity="0.12" stroke-width="0.4"/>
<line x1="580.6" y1="720.7" x2="580.6" y2="814.5" stroke="#fff" stroke-opacity="0.12" stroke-width="0.4"/>
<line x1="583.6" y1="720.7" x2="583.6" y2="814.5" stroke="#fff" stroke-opacity="0.12" stroke-width="0.4"/>
<line x1="586.6" y1="720.7" x2="586.6" y2="814.5" stroke="#fff" stroke-opacity="0.12" stroke-width="0.4"/>
<line x1="589.6" y1="720.7" x2="589.6" y2="814.5" stroke="#fff" stroke-opacity="0.12" stroke-width="0.4"/>
<line x1="592.6" y1="720.7" x2="592.6" y2="814.5" stroke="#fff" stroke-opacity="0.12" stroke-width="0.4"/>
<line x1="595.6" y1="720.7" x2="595.6" y2="814.5" stroke="#fff" stroke-opacity="0.12" stroke-width="0.4"/>
<line x1="598.6" y1="720.7" x2="598.6" y2="814.5" stroke="#fff" stroke-opacity="0.12" stroke-width="0.4"/>
<line x1="601.6" y1="720.7" x2="601.6" y2="814.5" stroke="#fff" stroke-opacity="0.12" stroke-width="0.4"/>
<line x1="604.6" y1="720.7" x2="604.6" y2="814.5" stroke="#fff" stroke-opacity="0.12" stroke-width="0.4"/>
<line x1="607.6" y1="720.7" x2="607.6" y2="814.5" stroke="#fff" stroke-opacity="0.12" stroke-width="0.4"/>
<line x1="610.6" y1="720.7" x2="610.6" y2="814.5" stroke="#fff" stroke-opacity="0.12" stroke-width="0.4"/>
<line x1="613.6" y1="720.7" x2="613.6" y2="814.5" stroke="#fff" stroke-opacity="0.12" stroke-width="0.4"/>
<line x1="616.6" y1="720.7" x2="616.6" y2="814.5" stroke="#fff" stroke-opacity="0.12" stroke-width="0.4"/>
<line x1="619.6" y1="720.7" x2="619.6" y2="814.5" stroke="#fff" stroke-opacity="0.12" stroke-width="0.4"/>
<line x1="622.6" y1="720.7" x2="622.6" y2="814.5" stroke="#fff" stroke-opacity="0.12" stroke-width="0.4"/>
<line x1="625.6" y1="720.7" x2="625.6" y2="814.5" stroke="#fff" stroke-opacity="0.12" stroke-width="0.4"/>
<line x1="628.6" y1="720.7" x2="628.6" y2="814.5" stroke="#fff" stroke-opacity="0.12" stroke-width="0.4"/>
<line x1="631.6" y1="720.7" x2="631.6" y2="814.5" stroke="#fff" stroke-opacity="0.12" stroke-width="0.4"/>
<line x1="634.7" y1="720.7" x2="634.7" y2="814.5" stroke="#fff" stroke-opacity="0.12" stroke-width="0.4"/>
<line x1="637.7" y1="720.7" x2="637.7" y2="814.5" stroke="#fff" stroke-opacity="0.12" stroke-width="0.4"/>
<line x1="640.7" y1="720.7" x2="640.7" y2="814.5" stroke="#fff" stroke-opacity="0.12" stroke-width="0.4"/>
<line x1="643.7" y1="720.7" x2="643.7" y2="814.5" stroke="#fff" stroke-opacity="0.12" stroke-width="0.4"/>
<line x1="646.7" y1="720.7" x2="646.7" y2="814.5" stroke="#fff" stroke-opacity="0.12" stroke-width="0.4"/>
<line x1="649.7" y1="720.7" x2="649.7" y2="814.5" stroke="#fff" stroke-opacity="0.12" stroke-width="0.4"/>
<line x1="652.7" y1="720.7" x2="652.7" y2="814.5" stroke="#fff" stroke-opacity="0.12" stroke-width="0.4"/>
<line x1="655.7" y1="720.7" x2="655.7" y2="814.5" stroke="#fff" stroke-opacity="0.12" stroke-width="0.4"/>
<line x1="658.7" y1="720.7" x2="658.7" y2="814.5" stroke="#fff" stroke-opacity="0.12" stroke-width="0.4"/>
<line x1="661.7" y1="720.7" x2="661.7" y2="814.5" stroke="#fff" stroke-opacity="0.12" stroke-width="0.4"/>
<line x1="664.7" y1="720.7" x2="664.7" y2="814.5" stroke="#fff" stroke-opacity="0.12" stroke-width="0.4"/>
<line x1="667.7" y1="720.7" x2="667.7" y2="814.5" stroke="#fff" stroke-opacity="0.12" stroke-width="0.4"/>
<line x1="670.7" y1="720.7" x2="670.7" y2="814.5" stroke="#fff" stroke-opacity="0.12" stroke-width="0.4"/>
<rect x="433.4" y="703.9" width="240.3" height="14.4" fill="#dcdcdc"/>
<rect x="628.4" y="703.9" width="45.3" height="3.6" fill="#a8739c"/>
<rect x="570.2" y="707.4" width="0.7" height="3.5" fill="#d9a6d0"/>
<rect x="572.3" y="707.4" width="0.9" height="3.5" fill="#d9a6d0"/>
<rect x="577.5" y="707.4" width="1.4" height="3.5" fill="#d9a6d0"/>
<rect x="580.1" y="707.4" width="1.2" height="3.5" fill="#d9a6d0"/>
<rect x="582.8" y="707.4" width="0.9" height="3.5" fill="#d9a6d0"/>
<rect x="586.3" y="707.4" width="1.8" height="3.5" fill="#d9a6d0"/>
<rect x="593.3" y="707.4" width="2.6" height="3.5" fill="#d9a6d0"/>
<rect x="597.7" y="707.4" width="1.2" height="3.5" fill="#d9a6d0"/>
<rect x="600.3" y="707.4" width="0.9" height="3.5" fill="#d9a6d0"/>
<rect x="602.9" y="707.4" width="0.9" height="3.5" fill="#d9a6d0"/>
<rect x="605.5" y="707.4" width="0.9" height="3.5" fill="#d9a6d0"/>
<rect x="608.2" y="707.4" width="4.4" height="3.5" fill="#d9a6d0"/>
<rect x="612.5" y="707.4" width="8.8" height="3.5" fill="#d9a6d0"/>
<rect x="623.0" y="707.4" width="2.6" height="3.5" fill="#d9a6d0"/>
<rect x="665.1" y="707.4" width="8.8" height="3.5" fill="#d9a6d0"/>
<rect x="621.3" y="710.9" width="1.8" height="3.5" fill="#9c7058"/>
<rect x="625.7" y="710.9" width="1.8" height="3.5" fill="#9c7058"/>
<rect x="571.4" y="714.4" width="1.05" height="3.6" fill="#e0b8a6"/>
<rect x="572.4" y="714.4" width="1.05" height="3.6" fill="#e0b8a6"/>
<rect x="574.5" y="714.4" width="1.05" height="3.6" fill="#e0b8a6"/>
<rect x="575.6" y="714.4" width="1.05" height="3.6" fill="#e0b8a6"/>
<rect x="576.6" y="714.4" width="1.05" height="3.6" fill="#e0b8a6"/>
<rect x="577.7" y="714.4" width="1.05" height="3.6" fill="#e0b8a6"/>
<rect x="578.7" y="714.4" width="1.05" height="3.6" fill="#e0b8a6"/>
<rect x="580.8" y="714.4" width="1.05" height="3.6" fill="#e0b8a6"/>
<rect x="581.9" y="714.4" width="1.05" height="3.6" fill="#e0b8a6"/>
<rect x="582.9" y="714.4" width="1.05" height="3.6" fill="#e0b8a6"/>
<rect x="584.0" y="714.4" width="1.05" height="3.6" fill="#e0b8a6"/>
<rect x="585.0" y="714.4" width="1.05" height="3.6" fill="#e0b8a6"/>
<rect x="586.1" y="714.4" width="1.05" height="3.6" fill="#e0b8a6"/>
<rect x="587.1" y="714.4" width="1.05" height="3.6" fill="#e0b8a6"/>
<rect x="589.2" y="714.4" width="1.05" height="3.6" fill="#e0b8a6"/>
<rect x="594.5" y="714.4" width="1.05" height="3.6" fill="#e0b8a6"/>
<rect x="596.6" y="714.4" width="1.05" height="3.6" fill="#e0b8a6"/>
<rect x="597.6" y="714.4" width="1.05" height="3.6" fill="#e0b8a6"/>
<rect x="598.7" y="714.4" width="1.05" height="3.6" fill="#e0b8a6"/>
<rect x="599.7" y="714.4" width="1.05" height="3.6" fill="#e0b8a6"/>
<rect x="601.8" y="714.4" width="1.05" height="3.6" fill="#e0b8a6"/>
<rect x="605.0" y="714.4" width="1.05" height="3.6" fill="#e0b8a6"/>
<rect x="606.0" y="714.4" width="1.05" height="3.6" fill="#e0b8a6"/>
<rect x="609.2" y="714.4" width="1.05" height="3.6" fill="#e0b8a6"/>
<rect x="610.2" y="714.4" width="1.05" height="3.6" fill="#e0b8a6"/>
<rect x="611.3" y="714.4" width="1.05" height="3.6" fill="#e0b8a6"/>
<rect x="612.3" y="714.4" width="1.05" height="3.6" fill="#e0b8a6"/>
<rect x="613.4" y="714.4" width="1.05" height="3.6" fill="#e0b8a6"/>
<rect x="614.4" y="714.4" width="1.05" height="3.6" fill="#e0b8a6"/>
<rect x="615.5" y="714.4" width="1.05" height="3.6" fill="#e0b8a6"/>
<rect x="616.5" y="714.4" width="1.05" height="3.6" fill="#e0b8a6"/>
<rect x="617.6" y="714.4" width="1.05" height="3.6" fill="#e0b8a6"/>
<rect x="618.6" y="714.4" width="1.05" height="3.6" fill="#e0b8a6"/>
<rect x="619.7" y="714.4" width="1.05" height="3.6" fill="#e0b8a6"/>
<rect x="620.7" y="714.4" width="1.05" height="3.6" fill="#e0b8a6"/>
<rect x="621.8" y="714.4" width="1.05" height="3.6" fill="#e0b8a6"/>
<rect x="622.8" y="714.4" width="1.05" height="3.6" fill="#e0b8a6"/>
<rect x="624.9" y="714.4" width="1.05" height="3.6" fill="#e0b8a6"/>
<rect x="626.0" y="714.4" width="1.05" height="3.6" fill="#e0b8a6"/>
<rect x="627.0" y="714.4" width="1.05" height="3.6" fill="#e0b8a6"/>
<rect x="628.1" y="714.4" width="1.05" height="3.6" fill="#e0b8a6"/>
<rect x="629.1" y="714.4" width="1.05" height="3.6" fill="#e0b8a6"/>
<rect x="642.8" y="714.4" width="1.05" height="3.6" fill="#e0b8a6"/>
<rect x="643.8" y="714.4" width="1.05" height="3.6" fill="#e0b8a6"/>
<rect x="644.9" y="714.4" width="1.05" height="3.6" fill="#e0b8a6"/>
<rect x="645.9" y="714.4" width="1.05" height="3.6" fill="#e0b8a6"/>
<rect x="647.0" y="714.4" width="1.05" height="3.6" fill="#e0b8a6"/>
<rect x="649.1" y="714.4" width="1.05" height="3.6" fill="#e0b8a6"/>
<rect x="650.1" y="714.4" width="1.05" height="3.6" fill="#e0b8a6"/>
<rect x="651.2" y="714.4" width="1.05" height="3.6" fill="#e0b8a6"/>
<rect x="652.2" y="714.4" width="1.05" height="3.6" fill="#e0b8a6"/>
<rect x="657.5" y="714.4" width="1.05" height="3.6" fill="#e0b8a6"/>
<rect x="658.5" y="714.4" width="1.05" height="3.6" fill="#e0b8a6"/>
<rect x="659.6" y="714.4" width="1.05" height="3.6" fill="#e0b8a6"/>
<rect x="661.7" y="714.4" width="1.05" height="3.6" fill="#e0b8a6"/>
<rect x="662.7" y="714.4" width="1.05" height="3.6" fill="#e0b8a6"/>
<rect x="663.8" y="714.4" width="1.05" height="3.6" fill="#e0b8a6"/>
<rect x="664.8" y="714.4" width="1.05" height="3.6" fill="#e0b8a6"/>
<rect x="665.9" y="714.4" width="1.05" height="3.6" fill="#e0b8a6"/>
<rect x="668.0" y="714.4" width="1.05" height="3.6" fill="#e0b8a6"/>
<rect x="670.1" y="714.4" width="1.05" height="3.6" fill="#e0b8a6"/>
<rect x="671.1" y="714.4" width="1.05" height="3.6" fill="#e0b8a6"/>
<rect x="672.2" y="714.4" width="1.05" height="3.6" fill="#e0b8a6"/>
<rect x="673.2" y="714.4" width="1.05" height="3.6" fill="#e0b8a6"/>
<rect x="433.4" y="815.6" width="240.3" height="6.4" fill="#66c2a5"/>
<rect x="434.4" y="815.6" width="1.05" height="6.4" fill="#fc8d62"/>
<rect x="464.4" y="815.6" width="1.05" height="6.4" fill="#fc8d62"/>
<rect x="469.4" y="815.6" width="1.05" height="6.4" fill="#fc8d62"/>
<rect x="470.4" y="815.6" width="1.05" height="6.4" fill="#fc8d62"/>
<rect x="480.5" y="815.6" width="1.05" height="6.4" fill="#8da0cb"/>
<rect x="495.5" y="815.6" width="1.05" height="6.4" fill="#8da0cb"/>
<rect x="499.5" y="815.6" width="1.05" height="6.4" fill="#8da0cb"/>
<rect x="503.5" y="815.6" width="1.05" height="6.4" fill="#fc8d62"/>
<rect x="504.5" y="815.6" width="1.05" height="6.4" fill="#fc8d62"/>
<rect x="506.5" y="815.6" width="1.05" height="6.4" fill="#8da0cb"/>
<rect x="511.5" y="815.6" width="1.05" height="6.4" fill="#fc8d62"/>
<rect x="514.5" y="815.6" width="1.05" height="6.4" fill="#8da0cb"/>
<rect x="524.5" y="815.6" width="1.05" height="6.4" fill="#fc8d62"/>
<rect x="534.5" y="815.6" width="1.05" height="6.4" fill="#fc8d62"/>
<rect x="535.5" y="815.6" width="1.05" height="6.4" fill="#fc8d62"/>
<rect x="541.5" y="815.6" width="1.05" height="6.4" fill="#8da0cb"/>
<rect x="543.5" y="815.6" width="1.05" height="6.4" fill="#fc8d62"/>
<rect x="544.5" y="815.6" width="1.05" height="6.4" fill="#fc8d62"/>
<rect x="545.5" y="815.6" width="1.05" height="6.4" fill="#fc8d62"/>
<rect x="548.5" y="815.6" width="1.05" height="6.4" fill="#8da0cb"/>
<rect x="551.5" y="815.6" width="1.05" height="6.4" fill="#fc8d62"/>
<rect x="552.5" y="815.6" width="1.05" height="6.4" fill="#8da0cb"/>
<rect x="554.6" y="815.6" width="1.05" height="6.4" fill="#fc8d62"/>
<rect x="556.6" y="815.6" width="1.05" height="6.4" fill="#fc8d62"/>
<rect x="557.6" y="815.6" width="1.05" height="6.4" fill="#8da0cb"/>
<rect x="558.6" y="815.6" width="1.05" height="6.4" fill="#fc8d62"/>
<rect x="559.6" y="815.6" width="1.05" height="6.4" fill="#fc8d62"/>
<rect x="560.6" y="815.6" width="1.05" height="6.4" fill="#fc8d62"/>
<rect x="561.6" y="815.6" width="1.05" height="6.4" fill="#8da0cb"/>
<rect x="563.6" y="815.6" width="1.05" height="6.4" fill="#fc8d62"/>
<rect x="564.6" y="815.6" width="1.05" height="6.4" fill="#8da0cb"/>
<rect x="565.6" y="815.6" width="1.05" height="6.4" fill="#8da0cb"/>
<rect x="566.6" y="815.6" width="1.05" height="6.4" fill="#8da0cb"/>
<rect x="567.6" y="815.6" width="1.05" height="6.4" fill="#fc8d62"/>
<rect x="568.6" y="815.6" width="1.05" height="6.4" fill="#8da0cb"/>
<rect x="570.6" y="815.6" width="1.05" height="6.4" fill="#fc8d62"/>
<rect x="573.6" y="815.6" width="1.05" height="6.4" fill="#8da0cb"/>
<rect x="575.6" y="815.6" width="1.05" height="6.4" fill="#8da0cb"/>
<rect x="577.6" y="815.6" width="1.05" height="6.4" fill="#fc8d62"/>
<rect x="582.6" y="815.6" width="1.05" height="6.4" fill="#fc8d62"/>
<rect x="585.6" y="815.6" width="1.05" height="6.4" fill="#fc8d62"/>
<rect x="586.6" y="815.6" width="1.05" height="6.4" fill="#8da0cb"/>
<rect x="589.6" y="815.6" width="1.05" height="6.4" fill="#8da0cb"/>
<rect x="592.6" y="815.6" width="1.05" height="6.4" fill="#8da0cb"/>
<rect x="593.6" y="815.6" width="1.05" height="6.4" fill="#8da0cb"/>
<rect x="596.6" y="815.6" width="1.05" height="6.4" fill="#8da0cb"/>
<rect x="600.6" y="815.6" width="1.05" height="6.4" fill="#8da0cb"/>
<rect x="601.6" y="815.6" width="1.05" height="6.4" fill="#fc8d62"/>
<rect x="602.6" y="815.6" width="1.05" height="6.4" fill="#fc8d62"/>
<rect x="603.6" y="815.6" width="1.05" height="6.4" fill="#8da0cb"/>
<rect x="604.6" y="815.6" width="1.05" height="6.4" fill="#8da0cb"/>
<rect x="605.6" y="815.6" width="1.05" height="6.4" fill="#fc8d62"/>
<rect x="606.6" y="815.6" width="1.05" height="6.4" fill="#8da0cb"/>
<rect x="609.6" y="815.6" width="1.05" height="6.4" fill="#8da0cb"/>
<rect x="610.6" y="815.6" width="1.05" height="6.4" fill="#fc8d62"/>
<rect x="616.6" y="815.6" width="1.05" height="6.4" fill="#8da0cb"/>
<rect x="617.6" y="815.6" width="1.05" height="6.4" fill="#8da0cb"/>
<rect x="618.6" y="815.6" width="1.05" height="6.4" fill="#fc8d62"/>
<rect x="619.6" y="815.6" width="1.05" height="6.4" fill="#8da0cb"/>
<rect x="620.6" y="815.6" width="1.05" height="6.4" fill="#fc8d62"/>
<rect x="621.6" y="815.6" width="1.05" height="6.4" fill="#fc8d62"/>
<rect x="623.6" y="815.6" width="1.05" height="6.4" fill="#8da0cb"/>
<rect x="624.6" y="815.6" width="1.05" height="6.4" fill="#8da0cb"/>
<rect x="629.6" y="815.6" width="1.05" height="6.4" fill="#fc8d62"/>
<rect x="630.6" y="815.6" width="1.05" height="6.4" fill="#fc8d62"/>
<rect x="631.6" y="815.6" width="1.05" height="6.4" fill="#fc8d62"/>
<rect x="632.6" y="815.6" width="1.05" height="6.4" fill="#fc8d62"/>
<rect x="633.6" y="815.6" width="1.05" height="6.4" fill="#8da0cb"/>
<rect x="634.7" y="815.6" width="1.05" height="6.4" fill="#fc8d62"/>
<rect x="635.7" y="815.6" width="1.05" height="6.4" fill="#fc8d62"/>
<rect x="636.7" y="815.6" width="1.05" height="6.4" fill="#fc8d62"/>
<rect x="637.7" y="815.6" width="1.05" height="6.4" fill="#8da0cb"/>
<rect x="638.7" y="815.6" width="1.05" height="6.4" fill="#fc8d62"/>
<rect x="639.7" y="815.6" width="1.05" height="6.4" fill="#fc8d62"/>
<rect x="640.7" y="815.6" width="1.05" height="6.4" fill="#fc8d62"/>
<rect x="643.7" y="815.6" width="1.05" height="6.4" fill="#fc8d62"/>
<rect x="644.7" y="815.6" width="1.05" height="6.4" fill="#fc8d62"/>
<rect x="645.7" y="815.6" width="1.05" height="6.4" fill="#fc8d62"/>
<rect x="646.7" y="815.6" width="1.05" height="6.4" fill="#fc8d62"/>
<rect x="647.7" y="815.6" width="1.05" height="6.4" fill="#fc8d62"/>
<rect x="648.7" y="815.6" width="1.05" height="6.4" fill="#fc8d62"/>
<rect x="649.7" y="815.6" width="1.05" height="6.4" fill="#8da0cb"/>
<rect x="650.7" y="815.6" width="1.05" height="6.4" fill="#fc8d62"/>
<rect x="653.7" y="815.6" width="1.05" height="6.4" fill="#fc8d62"/>
<rect x="654.7" y="815.6" width="1.05" height="6.4" fill="#fc8d62"/>
<rect x="655.7" y="815.6" width="1.05" height="6.4" fill="#8da0cb"/>
<rect x="656.7" y="815.6" width="1.05" height="6.4" fill="#8da0cb"/>
<rect x="657.7" y="815.6" width="1.05" height="6.4" fill="#fc8d62"/>
<rect x="658.7" y="815.6" width="1.05" height="6.4" fill="#fc8d62"/>
<rect x="659.7" y="815.6" width="1.05" height="6.4" fill="#fc8d62"/>
<rect x="660.7" y="815.6" width="1.05" height="6.4" fill="#fc8d62"/>
<rect x="661.7" y="815.6" width="1.05" height="6.4" fill="#fc8d62"/>
<rect x="662.7" y="815.6" width="1.05" height="6.4" fill="#fc8d62"/>
<rect x="663.7" y="815.6" width="1.05" height="6.4" fill="#fc8d62"/>
<rect x="665.7" y="815.6" width="1.05" height="6.4" fill="#fc8d62"/>
<rect x="667.7" y="815.6" width="1.05" height="6.4" fill="#fc8d62"/>
<rect x="668.7" y="815.6" width="1.05" height="6.4" fill="#fc8d62"/>
<rect x="669.7" y="815.6" width="1.05" height="6.4" fill="#fc8d62"/>
<rect x="670.7" y="815.6" width="1.05" height="6.4" fill="#8da0cb"/>
<rect x="671.7" y="815.6" width="1.05" height="6.4" fill="#fc8d62"/>
<rect x="672.7" y="815.6" width="1.05" height="6.4" fill="#fc8d62"/>
<line x1="433.4" y1="720.7" x2="433.4" y2="814.5" stroke="#333" stroke-width="0.6"/>
<line x1="431.2" y1="814.5" x2="433.4" y2="814.5" stroke="#333" stroke-width="0.6"/>
<text x="429.2" y="818.1" font-size="8.4" text-anchor="end" fill="#333">60</text>
<line x1="431.2" y1="767.6" x2="433.4" y2="767.6" stroke="#333" stroke-width="0.6"/>
<text x="429.2" y="771.2" font-size="8.4" text-anchor="end" fill="#333">80</text>
<line x1="431.2" y1="720.7" x2="433.4" y2="720.7" stroke="#333" stroke-width="0.6"/>
<text x="429.2" y="724.3" font-size="8.4" text-anchor="end" fill="#333">100</text>
<text x="0" y="0" font-size="9.7" text-anchor="middle" fill="#111" transform="translate(398.8,770.4) rotate(-90)">Proportion of expressed</text>
<text x="0" y="0" font-size="9.7" text-anchor="middle" fill="#111" transform="translate(410.6,770) rotate(-90)">genomic genes (%)</text>
<text x="415.3" y="683.8" font-size="8.3" fill="#111">Introgression accessions</text>
<rect x="518.7" y="676.9" width="8.7" height="8.9" fill="#a8739c"/>
<text x="528.3" y="684.8" font-size="8.3" fill="#111">Rye(chr1R)</text>
<rect x="593.5" y="676.9" width="8.7" height="8.9" fill="#d4a5cc"/>
<text x="603.1" y="684.8" font-size="8.3" fill="#111">Renan(chr2D)</text>
<rect x="415.3" y="689.4" width="8.7" height="8.9" fill="#9c7058"/>
<text x="424.9" y="697.3" font-size="8.3" fill="#111"><tspan font-style="italic">Th. elongatum</tspan>(chr3E)</text>
<rect x="510.9" y="689.4" width="8.7" height="8.9" fill="#ddb5a5"/>
<text x="520.5" y="697.3" font-size="8.3" fill="#111"><tspan font-style="italic">T. timopheevii</tspan>(chr5G)</text>
<rect x="608" y="689.4" width="8.7" height="8.9" fill="#dcdcdc"/>
<text x="617.6" y="697.3" font-size="8.3" fill="#111">Non-introgression</text>
<text x="435.6" y="833.4" font-size="8.3" fill="#111">Accessions</text>
<rect x="495" y="825.3" width="9.8" height="9.8" fill="#66c2a5"/>
<text x="507.4" y="833.2" font-size="8.3" fill="#111">Landrace</text>
<rect x="551.3" y="825.3" width="9.8" height="9.8" fill="#fc8d62"/>
<text x="563.7" y="833.2" font-size="8.3" fill="#111">MCC</text>
<rect x="601.2" y="825.3" width="9.8" height="9.8" fill="#8da0cb"/>
<text x="613.6" y="833.2" font-size="8.3" fill="#111">USMC</text>
</g>
<text x="381.5" y="681.2" font-size="11" font-weight="bold">g</text></svg></body></html>
